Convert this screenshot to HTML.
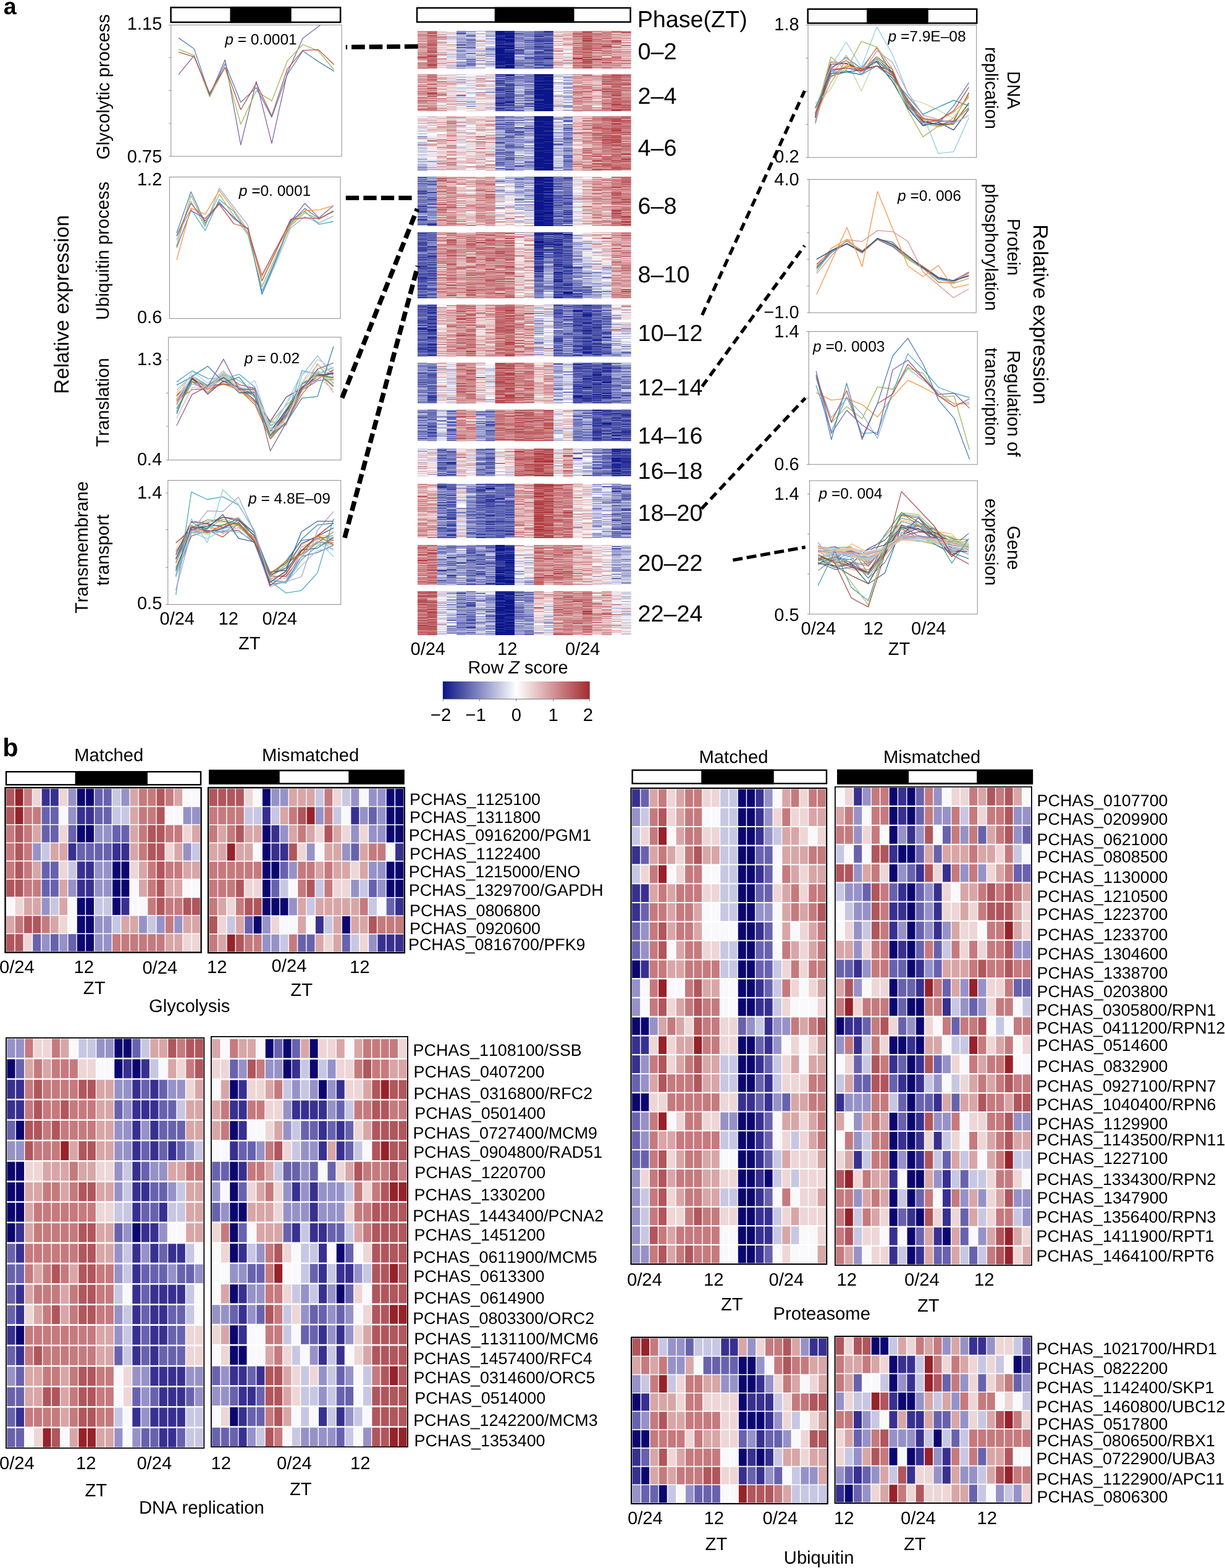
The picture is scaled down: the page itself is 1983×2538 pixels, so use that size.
<!DOCTYPE html>
<html><head><meta charset="utf-8"><title>Figure</title>
<style>html,body{margin:0;padding:0;background:#fff}svg{display:block}text{font-family:"Liberation Sans", Arial, Helvetica, sans-serif;fill:#000;font-kerning:none;text-rendering:geometricPrecision}</style></head>
<body>
<svg width="1983" height="2538" viewBox="0 0 1983 2538">
<text x="5.7" y="23.1" font-size="37.5" font-weight="bold">a</text>
<defs><clipPath id="c1"><rect x="276.8" y="40.4" width="276.3" height="212.6"/></clipPath></defs>
<rect x="276.6" y="12.1" width="274.5" height="23.9" fill="#fff" stroke="#000" stroke-width="2.5"/>
<rect x="372.4" y="10.8" width="99.2" height="26.4" fill="#000"/>
<rect x="276.8" y="40.4" width="276.3" height="212.6" fill="#fff" stroke="#8c8c8c" stroke-width="1"/>
<path d="M273.3 40.4H276.8M273.3 93.2H276.8M273.3 146.6H276.8M273.3 200.0H276.8M273.3 253.0H276.8" stroke="#8c8c8c" stroke-width="1" fill="none"/>
<path d="M289.2 120.3L314.2 89.8L339.3 154.7L364.4 96.8L389.7 234.5L414.8 131.8L439.9 232.1L465.0 118.4L490.1 62.1L515.4 42.9L540.7 23.4" stroke="#8064A2" stroke-width="1.3" fill="none" stroke-linejoin="round" clip-path="url(#c1)"/>
<path d="M289.2 79.7L314.2 89.8L339.3 156.6L364.4 109.0L389.7 201.2L414.8 147.0L439.9 163.4L465.0 98.9L490.1 72.0L515.4 82.5L540.7 113.0" stroke="#9BBB59" stroke-width="1.3" fill="none" stroke-linejoin="round" clip-path="url(#c1)"/>
<path d="M289.2 61.4L314.2 79.0L339.3 153.6L364.4 103.2L389.7 165.5L414.8 141.9L439.9 189.9L465.0 120.8L490.1 82.5L515.4 99.6L540.7 115.4" stroke="#4F81BD" stroke-width="1.3" fill="none" stroke-linejoin="round" clip-path="url(#c1)"/>
<path d="M289.2 84.4L314.2 92.1L339.3 150.8L364.4 109.0L389.7 177.5L414.8 134.8L439.9 187.6L465.0 111.8L490.1 81.6L515.4 80.4L540.7 104.8" stroke="#C0504D" stroke-width="1.3" fill="none" stroke-linejoin="round" clip-path="url(#c1)"/>
<text x="364.2" y="71.5" font-size="24.5"><tspan font-style="italic">p</tspan> = 0.0001</text>
<rect x="274.4" y="286.5" width="276.6" height="229.1" fill="#fff" stroke="#8c8c8c" stroke-width="1"/>
<path d="M285.9 389.0L309.1 325.7L332.1 366.7L355.0 304.5L378.3 335.0L401.2 364.3L424.0 476.9L447.4 424.1L470.4 369.0L493.4 351.0L516.4 360.8L539.8 349.6" stroke="#95B3D7" stroke-width="1.3" fill="none" stroke-linejoin="round"/>
<path d="M285.9 381.9L309.1 338.5L332.1 373.2L355.0 322.8L378.3 342.1L401.2 377.2L424.0 471.0L447.4 417.1L470.4 356.1L493.4 342.1L516.4 363.2L539.8 358.5" stroke="#4BACC6" stroke-width="1.3" fill="none" stroke-linejoin="round"/>
<path d="M285.9 377.2L309.1 310.4L332.1 360.8L355.0 326.8L378.3 353.8L401.2 370.2L424.0 475.7L447.4 419.4L470.4 360.8L493.4 337.4L516.4 353.8L539.8 342.1" stroke="#4F81BD" stroke-width="1.3" fill="none" stroke-linejoin="round"/>
<path d="M285.9 398.3L309.1 316.3L332.1 364.3L355.0 314.4L378.3 349.1L401.2 379.6L424.0 464.0L447.4 412.4L470.4 365.5L493.4 344.4L516.4 355.0L539.8 340.9" stroke="#9BBB59" stroke-width="1.3" fill="none" stroke-linejoin="round"/>
<path d="M285.9 400.7L309.1 340.9L332.1 353.8L355.0 329.2L378.3 351.4L401.2 371.4L424.0 445.2L447.4 400.7L470.4 358.5L493.4 329.2L516.4 352.6L539.8 332.7" stroke="#8064A2" stroke-width="1.3" fill="none" stroke-linejoin="round"/>
<path d="M285.9 420.6L309.1 336.9L332.1 346.8L355.0 308.1L378.3 339.7L401.2 372.5L424.0 447.6L447.4 403.0L470.4 363.2L493.4 340.9L516.4 339.7L539.8 333.2" stroke="#F79646" stroke-width="1.3" fill="none" stroke-linejoin="round"/>
<path d="M285.9 381.9L309.1 329.2L332.1 357.3L355.0 330.3L378.3 362.0L401.2 369.0L424.0 454.6L447.4 405.4L470.4 355.0L493.4 352.6L516.4 353.8L539.8 342.1" stroke="#C0504D" stroke-width="1.3" fill="none" stroke-linejoin="round"/>
<text x="386.7" y="317.4" font-size="24.5"><tspan font-style="italic">p</tspan> =0. 0001</text>
<rect x="272.7" y="545.8" width="279.3" height="198.8" fill="#fff" stroke="#8c8c8c" stroke-width="1"/>
<path d="M269.2 582.5H272.7M269.2 636.2H272.7M269.2 690.0H272.7M269.2 744.6H272.7" stroke="#8c8c8c" stroke-width="1" fill="none"/>
<path d="M285.9 666.3L311.0 608.4L336.3 635.8L361.8 607.8L387.2 628.9L412.5 651.0L437.6 704.6L463.4 670.3L488.7 631.8L514.0 616.2L539.8 614.1" stroke="#4F81BD" stroke-width="1.3" fill="none" stroke-linejoin="round"/>
<path d="M285.9 641.3L311.0 613.9L336.3 630.0L361.8 602.8L387.2 622.7L412.5 628.5L437.6 704.1L463.4 672.2L488.7 626.1L514.0 610.4L539.8 604.7" stroke="#C0504D" stroke-width="1.3" fill="none" stroke-linejoin="round"/>
<path d="M285.9 651.4L311.0 618.1L336.3 625.5L361.8 606.1L387.2 616.4L412.5 633.3L437.6 685.1L463.4 655.8L488.7 633.8L514.0 588.9L539.8 621.0" stroke="#9BBB59" stroke-width="1.3" fill="none" stroke-linejoin="round"/>
<path d="M285.9 647.7L311.0 618.0L336.3 634.1L361.8 617.5L387.2 630.1L412.5 634.6L437.6 699.8L463.4 662.6L488.7 626.9L514.0 602.3L539.8 626.2" stroke="#8064A2" stroke-width="1.3" fill="none" stroke-linejoin="round"/>
<path d="M285.9 618.1L311.0 600.2L336.3 612.6L361.8 613.5L387.2 605.8L412.5 626.5L437.6 688.9L463.4 674.0L488.7 599.9L514.0 605.4L539.8 594.7" stroke="#4BACC6" stroke-width="1.3" fill="none" stroke-linejoin="round"/>
<path d="M285.9 638.7L311.0 617.1L336.3 623.7L361.8 607.9L387.2 631.9L412.5 649.4L437.6 683.0L463.4 683.8L488.7 632.2L514.0 602.1L539.8 615.7" stroke="#F79646" stroke-width="1.3" fill="none" stroke-linejoin="round"/>
<path d="M285.9 666.6L311.0 613.2L336.3 627.4L361.8 605.5L387.2 626.8L412.5 633.8L437.6 693.5L463.4 687.0L488.7 607.9L514.0 575.8L539.8 609.6" stroke="#95B3D7" stroke-width="1.3" fill="none" stroke-linejoin="round"/>
<path d="M285.9 652.6L311.0 611.9L336.3 628.9L361.8 610.7L387.2 636.0L412.5 633.4L437.6 699.2L463.4 687.9L488.7 628.9L514.0 598.2L539.8 635.3" stroke="#D99694" stroke-width="1.3" fill="none" stroke-linejoin="round"/>
<path d="M285.9 648.0L311.0 609.7L336.3 634.5L361.8 607.0L387.2 626.6L412.5 631.8L437.6 703.0L463.4 685.8L488.7 626.2L514.0 599.4L539.8 625.3" stroke="#C3D69B" stroke-width="1.3" fill="none" stroke-linejoin="round"/>
<path d="M285.9 660.7L311.0 621.5L336.3 629.5L361.8 608.4L387.2 630.2L412.5 629.6L437.6 708.5L463.4 683.8L488.7 627.2L514.0 605.2L539.8 611.7" stroke="#B3A2C7" stroke-width="1.3" fill="none" stroke-linejoin="round"/>
<path d="M285.9 631.5L311.0 608.1L336.3 623.0L361.8 602.7L387.2 616.2L412.5 636.0L437.6 699.2L463.4 653.9L488.7 603.2L514.0 602.6L539.8 619.4" stroke="#93CDDD" stroke-width="1.3" fill="none" stroke-linejoin="round"/>
<path d="M285.9 636.1L311.0 607.3L336.3 631.1L361.8 599.7L387.2 633.5L412.5 631.7L437.6 706.3L463.4 665.6L488.7 619.8L514.0 591.2L539.8 602.4" stroke="#FAC090" stroke-width="1.3" fill="none" stroke-linejoin="round"/>
<path d="M285.9 655.4L311.0 614.2L336.3 625.6L361.8 610.7L387.2 635.6L412.5 635.0L437.6 698.0L463.4 664.6L488.7 630.5L514.0 609.6L539.8 603.1" stroke="#3A679C" stroke-width="1.3" fill="none" stroke-linejoin="round"/>
<path d="M285.9 645.9L311.0 610.7L336.3 638.1L361.8 616.3L387.2 627.0L412.5 639.5L437.6 708.8L463.4 666.3L488.7 626.5L514.0 614.0L539.8 598.9" stroke="#9F3B38" stroke-width="1.3" fill="none" stroke-linejoin="round"/>
<path d="M285.9 661.6L311.0 618.2L336.3 624.3L361.8 612.7L387.2 625.9L412.5 642.8L437.6 709.4L463.4 674.3L488.7 621.2L514.0 603.8L539.8 624.2" stroke="#7E9D40" stroke-width="1.3" fill="none" stroke-linejoin="round"/>
<path d="M285.9 647.6L311.0 613.2L336.3 625.6L361.8 621.1L387.2 626.7L412.5 648.1L437.6 682.2L463.4 642.6L488.7 628.5L514.0 607.0L539.8 605.0" stroke="#664F83" stroke-width="1.3" fill="none" stroke-linejoin="round"/>
<path d="M285.9 623.4L311.0 609.7L336.3 624.6L361.8 607.4L387.2 635.9L412.5 637.4L437.6 705.5L463.4 663.0L488.7 621.8L514.0 607.4L539.8 610.7" stroke="#358EA6" stroke-width="1.3" fill="none" stroke-linejoin="round"/>
<path d="M285.9 648.5L311.0 630.6L336.3 629.5L361.8 621.8L387.2 630.7L412.5 654.8L437.6 710.6L463.4 682.1L488.7 638.1L514.0 608.4L539.8 611.9" stroke="#E46C0A" stroke-width="1.3" fill="none" stroke-linejoin="round"/>
<path d="M285.9 647.2L311.0 601.2L336.3 619.9L361.8 599.9L387.2 634.5L412.5 615.6L437.6 694.2L463.4 653.2L488.7 619.0L514.0 581.8L539.8 596.9" stroke="#B9CDE5" stroke-width="1.3" fill="none" stroke-linejoin="round"/>
<path d="M285.9 676.9L311.0 627.1L336.3 628.6L361.8 613.2L387.2 633.2L412.5 631.5L437.6 695.9L463.4 682.8L488.7 631.9L514.0 610.1L539.8 631.0" stroke="#E6B9B8" stroke-width="1.3" fill="none" stroke-linejoin="round"/>
<path d="M285.9 647.1L311.0 609.7L336.3 626.4L361.8 607.9L387.2 626.9L412.5 634.4L437.6 699.7L463.4 682.3L488.7 617.8L514.0 609.5L539.8 613.2" stroke="#D7E4BD" stroke-width="1.3" fill="none" stroke-linejoin="round"/>
<path d="M285.9 656.4L311.0 607.1L336.3 635.1L361.8 602.1L387.2 625.4L412.5 637.9L437.6 707.6L463.4 676.6L488.7 630.7L514.0 603.3L539.8 602.3" stroke="#CCC1DA" stroke-width="1.3" fill="none" stroke-linejoin="round"/>
<path d="M285.9 670.1L311.0 609.1L336.3 592.7L361.8 618.5L387.2 610.3L412.5 641.9L437.6 705.2L463.4 684.1L488.7 644.3L514.0 641.9L539.8 561.0" stroke="#358EA6" stroke-width="1.3" fill="none" stroke-linejoin="round"/>
<path d="M285.9 688.8L311.0 638.4L336.3 625.5L361.8 581.4L387.2 630.2L412.5 630.2L437.6 729.8L463.4 684.1L488.7 630.2L514.0 597.4L539.8 587.5" stroke="#8064A2" stroke-width="1.3" fill="none" stroke-linejoin="round"/>
<text x="395.8" y="588.0" font-size="24.5"><tspan font-style="italic">p</tspan> = 0.02</text>
<rect x="271.8" y="777.6" width="280.0" height="200.9" fill="#fff" stroke="#8c8c8c" stroke-width="1"/>
<path d="M268.3 798.0H271.8M268.3 857.3H271.8M268.3 918.3H271.8M268.3 978.5H271.8" stroke="#8c8c8c" stroke-width="1" fill="none"/>
<path d="M284.7 905.4L309.8 853.5L335.6 846.3L360.7 837.0L386.0 840.1L411.8 868.9L437.1 934.9L462.9 908.0L488.0 874.6L513.8 871.7L539.8 867.2" stroke="#4F81BD" stroke-width="1.3" fill="none" stroke-linejoin="round"/>
<path d="M284.7 931.2L309.8 857.1L335.6 858.0L360.7 869.3L386.0 848.0L411.8 871.1L437.1 932.9L462.9 933.0L488.0 900.5L513.8 877.9L539.8 878.6" stroke="#C0504D" stroke-width="1.3" fill="none" stroke-linejoin="round"/>
<path d="M284.7 919.3L309.8 858.9L335.6 856.0L360.7 840.1L386.0 848.8L411.8 865.4L437.1 933.6L462.9 913.9L488.0 892.8L513.8 867.8L539.8 873.7" stroke="#9BBB59" stroke-width="1.3" fill="none" stroke-linejoin="round"/>
<path d="M284.7 932.8L309.8 867.6L335.6 858.7L360.7 859.9L386.0 858.5L411.8 878.4L437.1 946.2L462.9 942.4L488.0 900.8L513.8 894.4L539.8 882.4" stroke="#8064A2" stroke-width="1.3" fill="none" stroke-linejoin="round"/>
<path d="M284.7 917.9L309.8 862.1L335.6 860.8L360.7 861.5L386.0 847.6L411.8 878.9L437.1 939.0L462.9 944.0L488.0 906.1L513.8 883.5L539.8 874.3" stroke="#4BACC6" stroke-width="1.3" fill="none" stroke-linejoin="round"/>
<path d="M284.7 920.4L309.8 863.2L335.6 854.5L360.7 855.1L386.0 849.4L411.8 873.3L437.1 937.1L462.9 929.6L488.0 890.6L513.8 868.6L539.8 871.2" stroke="#F79646" stroke-width="1.3" fill="none" stroke-linejoin="round"/>
<path d="M284.7 930.2L309.8 859.4L335.6 861.9L360.7 855.7L386.0 849.8L411.8 872.4L437.1 939.2L462.9 941.3L488.0 891.8L513.8 870.2L539.8 890.9" stroke="#95B3D7" stroke-width="1.3" fill="none" stroke-linejoin="round"/>
<path d="M284.7 922.0L309.8 857.7L335.6 848.3L360.7 863.7L386.0 854.0L411.8 871.5L437.1 938.0L462.9 926.4L488.0 885.6L513.8 872.9L539.8 874.9" stroke="#D99694" stroke-width="1.3" fill="none" stroke-linejoin="round"/>
<path d="M284.7 925.4L309.8 856.6L335.6 865.6L360.7 849.0L386.0 852.0L411.8 877.4L437.1 935.7L462.9 915.8L488.0 890.0L513.8 880.3L539.8 881.4" stroke="#C3D69B" stroke-width="1.3" fill="none" stroke-linejoin="round"/>
<path d="M284.7 910.4L309.8 857.7L335.6 863.2L360.7 854.0L386.0 837.8L411.8 877.3L437.1 950.0L462.9 940.2L488.0 892.2L513.8 877.4L539.8 881.2" stroke="#B3A2C7" stroke-width="1.3" fill="none" stroke-linejoin="round"/>
<path d="M284.7 934.1L309.8 861.3L335.6 871.9L360.7 858.0L386.0 861.7L411.8 874.0L437.1 939.3L462.9 943.0L488.0 915.7L513.8 890.8L539.8 887.4" stroke="#93CDDD" stroke-width="1.3" fill="none" stroke-linejoin="round"/>
<path d="M284.7 889.7L309.8 843.6L335.6 844.0L360.7 845.6L386.0 836.8L411.8 868.5L437.1 927.9L462.9 911.9L488.0 882.6L513.8 866.3L539.8 867.1" stroke="#FAC090" stroke-width="1.3" fill="none" stroke-linejoin="round"/>
<path d="M284.7 904.2L309.8 844.3L335.6 861.0L360.7 855.5L386.0 842.0L411.8 867.1L437.1 925.9L462.9 923.0L488.0 890.4L513.8 887.3L539.8 869.6" stroke="#3A679C" stroke-width="1.3" fill="none" stroke-linejoin="round"/>
<path d="M284.7 878.8L309.8 857.0L335.6 851.9L360.7 837.1L386.0 842.7L411.8 862.0L437.1 948.1L462.9 928.9L488.0 891.7L513.8 867.1L539.8 846.8" stroke="#9F3B38" stroke-width="1.3" fill="none" stroke-linejoin="round"/>
<path d="M284.7 892.8L309.8 855.1L335.6 841.3L360.7 843.5L386.0 850.0L411.8 876.2L437.1 927.3L462.9 911.3L488.0 897.6L513.8 878.6L539.8 860.8" stroke="#7E9D40" stroke-width="1.3" fill="none" stroke-linejoin="round"/>
<path d="M284.7 897.9L309.8 844.5L335.6 847.4L360.7 853.5L386.0 845.5L411.8 876.4L437.1 930.8L462.9 919.4L488.0 879.9L513.8 867.9L539.8 854.6" stroke="#664F83" stroke-width="1.3" fill="none" stroke-linejoin="round"/>
<path d="M284.7 904.9L309.8 853.9L335.6 851.8L360.7 849.9L386.0 839.8L411.8 862.8L437.1 928.1L462.9 911.8L488.0 873.1L513.8 849.8L539.8 846.7" stroke="#358EA6" stroke-width="1.3" fill="none" stroke-linejoin="round"/>
<path d="M284.7 911.6L309.8 850.3L335.6 861.8L360.7 850.1L386.0 847.3L411.8 874.9L437.1 929.4L462.9 908.5L488.0 897.2L513.8 867.1L539.8 881.7" stroke="#E46C0A" stroke-width="1.3" fill="none" stroke-linejoin="round"/>
<path d="M284.7 962.8L309.8 796.3L335.6 808.5L360.7 804.1L386.0 817.4L411.8 858.5L437.1 940.5L462.9 959.8L488.0 955.8L513.8 927.6L539.8 839.7" stroke="#4BACC6" stroke-width="1.3" fill="none" stroke-linejoin="round"/>
<path d="M284.7 954.6L309.8 839.7L335.6 878.4L360.7 792.8L386.0 816.3L411.8 860.8L437.1 940.5L462.9 935.8L488.0 900.7L513.8 874.9L539.8 900.7" stroke="#93CDDD" stroke-width="1.3" fill="none" stroke-linejoin="round"/>
<path d="M284.7 955.8L309.8 860.8L335.6 826.8L360.7 828.0L386.0 804.5L411.8 860.8L437.1 939.4L462.9 941.7L488.0 933.5L513.8 858.5L539.8 828.0" stroke="#B3A2C7" stroke-width="1.3" fill="none" stroke-linejoin="round"/>
<path d="M284.7 924.1L309.8 853.8L335.6 855.0L360.7 832.7L386.0 871.4L411.8 877.2L437.1 942.9L462.9 924.1L488.0 860.8L513.8 843.7L539.8 843.7" stroke="#3A679C" stroke-width="1.3" fill="none" stroke-linejoin="round"/>
<text x="402.0" y="815.1" font-size="24.5"><tspan font-style="italic">p</tspan> = 4.8E–09</text>
<text x="262.3" y="48.0" font-size="29" text-anchor="end">1.15</text>
<text x="262.3" y="262.6" font-size="29" text-anchor="end">0.75</text>
<text x="262.3" y="299.5" font-size="29" text-anchor="end">1.2</text>
<text x="262.3" y="523.0" font-size="29" text-anchor="end">0.6</text>
<text x="262.3" y="591.2" font-size="29" text-anchor="end">1.3</text>
<text x="262.3" y="753.2" font-size="29" text-anchor="end">0.4</text>
<text x="262.3" y="806.6" font-size="29" text-anchor="end">1.4</text>
<text x="262.3" y="986.0" font-size="29" text-anchor="end">0.5</text>
<text x="258.5" y="1011.0" font-size="29">0/24</text>
<text x="353.5" y="1011.0" font-size="29">12</text>
<text x="424.5" y="1011.0" font-size="29">0/24</text>
<text x="386.0" y="1050.7" font-size="29">ZT</text>
<text transform="translate(110.7,637.7) rotate(-90)" font-size="33.2">Relative expression</text>
<text transform="translate(177.0,258.2) rotate(-90)" font-size="29.2">Glycolytic process</text>
<text transform="translate(176.3,517.9) rotate(-90)" font-size="29.2">Ubiquitin process</text>
<text transform="translate(176.2,723.6) rotate(-90)" font-size="29.2">Translation</text>
<text transform="translate(141.6,993.1) rotate(-90)" font-size="29.2">Transmembrane</text>
<text transform="translate(176.2,948.0) rotate(-90)" font-size="29.2">transport</text>
<rect x="675.0" y="12.8" width="345.5" height="22.8" fill="#fff" stroke="#000" stroke-width="2.5"/>
<rect x="800.7" y="11.6" width="128.8" height="25.3" fill="#000"/>
<g>
<path d="M809.5 50v7m0 3v1m0 1v4m0 2v1m0 1v1m0 1v3m0 2v11m0 1v10m0 1v1m0 1v3m0 3v1m0 1v1M825.2 50v1m0 2v3m0 1v5m0 1v5m0 1v1m0 3v3m0 1v3m0 2v1m0 2v3m0 1v3m0 1v11m0 1v6M872.3 74v1M888.0 95v1M809.5 120v1m0 20v1m0 17v1m0 7v1M825.2 121v2m0 25v1m0 8v1m0 6v1m0 1v1M840.9 179v1M856.6 162v1M872.3 120v4m0 1v2m0 1v2m0 2v4m0 1v3m0 1v3m0 1v8m0 1v6m0 3v4m0 1v3m0 1v3m0 1v4M888.0 120v3m0 1v6m0 1v5m0 1v6m0 2v24m0 1v3m0 1v6M825.2 214v1M840.9 207v1m0 5v1M872.3 188v8m0 1v7m0 1v13m0 1v4m0 1v7m0 1v6m0 1v5m0 1v10m0 1v15m0 1v4M888.0 188v9m0 1v2m0 1v4m0 1v5m0 2v5m0 1v10m0 1v13m0 1v2m0 1v12m0 1v4m0 1v11M683.9 333v1m0 21v1M699.6 363v1M809.5 336v1M872.3 286v7m0 1v3m0 2v14m0 1v11m0 1v14m0 1v2m0 1v5m0 1v7m0 1v8M888.0 286v2m0 1v1m0 1v3m0 2v3m0 1v3m0 1v5m0 1v3m0 2v2m0 1v1m0 1v2m0 1v4m0 1v3m0 2v3m0 1v1m0 1v2m0 1v5m0 1v1m0 2v2m0 1v1m0 1v3m0 1v2m0 1v3M919.4 288v1m0 58v1m0 10v1M683.9 380v1m0 12v1m0 2v1m0 54v1m0 29v1M699.6 398v1m0 26v1m0 16v1M872.3 378v1m0 1v1m0 6v1m0 2v4m0 2v2m0 1v2m0 1v1m0 6v1m0 1v1m0 2v2m0 10v1m0 6v1m0 1v1m0 3v1M888.0 376v1m0 2v1m0 13v1m0 1v1m0 68v1M903.7 378v1m0 9v1m0 1v1m0 2v1m0 1v2m0 7v1m0 23v1m0 1v1m0 9v1m0 2v1m0 11v1m0 25v1M919.4 379v2m0 1v1m0 2v1m0 45v1m0 29v1m0 10v4M935.1 475v1m0 4v1M950.8 464v1M982.2 433v1M683.9 532v1M699.6 497v1m0 8v1m0 10v1m0 5v1m0 9v2m0 12v1m0 10v1m0 2v1M903.7 493v1m0 9v1M919.4 512v1m0 11v1M935.1 502v2m0 28v1m0 1v1m0 12v1m0 19v1M950.8 509v2m0 12v1m0 4v1m0 6v1m0 11v1m0 13v1m0 3v1m0 3v2M966.5 519v1m0 30v1m0 4v1m0 5v1M982.2 512v1m0 11v1m0 21v1m0 25v1M903.7 589v1M935.1 590v1m0 31v1m0 3v1m0 14v2M950.8 592v1m0 19v1m0 13v2m0 17v1M966.5 605v1m0 1v1m0 7v1m0 23v1m0 2v1m0 1v1m0 2v1M982.2 595v2m0 1v1m0 1v1m0 17v2m0 16v1m0 3v1m0 3v1M699.6 700v1M966.5 663v1m0 7v1m0 6v1m0 2v1m0 7v1m0 9v1M982.2 670v1m0 14v2m0 2v1M997.9 669v1m0 10v1m0 18v1m0 5v1m0 3v1M1013.6 699v1M731.0 748v1m0 19v1M935.1 742v1M966.5 733v1M997.9 728v1m0 2v1m0 5v1m0 3v2m0 1v3m0 5v2m0 1v2m0 4v1m0 1v1m0 2v1M1013.6 729v1m0 2v1m0 10v1m0 2v1m0 2v1m0 4v1m0 14v1M715.3 783v1m0 2v1M731.0 801v1m0 38v1M778.1 792v1m0 1v1m0 75v1M793.8 783v1m0 6v2m0 19v1m0 4v1m0 1v1m0 15v1m0 8v1M825.2 783v1m0 75v1m0 4v1M997.9 842v1m0 13v1M1013.6 847v1M715.3 923v1M731.0 931v1M809.5 882v4m0 1v5m0 3v1m0 2v2m0 1v2m0 1v1m0 1v1m0 11v2m0 2v2m0 1v3m0 2v1m0 1v6m0 1v4m0 2v2M825.2 884v1m0 1v1m0 1v1m0 1v1m0 6v2m0 1v2m0 1v2m0 1v2m0 1v3m0 1v1m0 2v1m0 1v1m0 1v1m0 1v2m0 4v1m0 5v3m0 2v5m0 2v1M809.5 957v1m0 1v2m0 2v3m0 1v5m0 2v3m0 1v3m0 1v8m0 1v2m0 2v8m0 1v3m0 2v3m0 1v4m0 1v3m0 1v6M825.2 957v1m0 1v4m0 3v1m0 1v1m0 1v8m0 1v8m0 1v4m0 2v4m0 2v1m0 1v3m0 1v4m0 1v4m0 1v2m0 1v9" stroke="#0c168a" stroke-width="16.00" fill="none"/>
<path d="M762.4 58v1M809.5 57v3m0 1v1m0 4v2m0 1v1m0 5v2m0 11v1m0 10v1m0 1v1m0 3v1m0 1v1m0 1v1M825.2 51v2m0 3v1m0 11v1m0 2v2m0 3v1m0 4v1m0 1v2m0 3v1m0 3v1M840.9 81v1m0 5v1M856.6 107v1M872.3 56v1m0 1v2m0 5v1m0 1v1m0 9v1m0 5v2m0 2v1m0 2v1m0 3v1m0 1v1m0 4v1m0 2v1m0 5v1M888.0 50v3m0 10v1m0 1v1m0 1v1m0 2v1m0 3v1m0 1v1m0 3v2m0 9v1m0 1v2m0 10v2M809.5 130v1m0 3v1m0 8v1m0 1v2m0 2v1m0 7v2m0 2v1m0 2v1m0 1v1m0 1v1m0 1v2m0 3v2m0 2v1M825.2 120v1m0 14v1m0 2v1m0 3v1m0 1v1m0 6v1m0 7v1m0 5v1m0 3v2m0 7v1M856.6 167v1M872.3 124v1m0 2v1m0 2v2m0 4v1m0 3v1m0 3v1m0 8v1m0 6v2m0 5v1m0 3v1m0 3v1M888.0 123v1m0 6v1m0 5v1m0 6v2m0 24v1m0 3v1M809.5 194v1m0 51v1M825.2 221v1m0 12v1m0 22v1M840.9 269v1M856.6 208v1M872.3 196v1m0 7v1m0 13v1m0 4v1m0 7v1m0 6v1m0 5v1m0 10v1m0 15v1M888.0 197v1m0 2v1m0 4v1m0 5v2m0 5v1m0 10v1m0 13v1m0 2v1m0 12v1m0 4v1M903.7 233v1M919.4 214v1m0 46v1M683.9 287v1m0 9v1m0 12v1m0 3v1m0 27v2M699.6 297v1m0 1v1m0 11v1M840.9 322v1M872.3 293v1m0 3v2m0 14v1m0 11v1m0 14v1m0 2v1m0 5v1m0 7v1M888.0 288v1m0 1v1m0 3v1m0 4v1m0 17v1m0 4v1m0 8v2m0 3v1m0 1v1m0 8v1m0 1v2m0 2v1m0 1v1m0 3v1m0 2v1M903.7 286v1m0 29v1m0 7v1m0 24v1m0 12v1M919.4 321v1m0 8v1m0 12v1m0 7v1m0 12v1M683.9 377v1m0 9v1m0 13v1m0 2v1m0 1v1m0 10v1m0 2v1m0 9v2m0 3v1m0 7v1m0 4v2m0 4v1m0 6v1m0 5v2m0 9v1M699.6 377v1m0 1v1m0 4v1m0 4v1m0 10v1m0 9v1m0 3v2m0 2v1m0 2v1m0 6v1m0 5v1m0 3v1m0 1v1m0 5v1m0 2v1m0 1v1m0 1v1m0 5v1m0 9v1m0 7v1M872.3 376v2m0 1v1m0 1v1m0 1v1m0 1v1m0 3v1m0 5v1m0 8v2m0 1v2m0 3v1m0 5v2m0 4v1m0 5v3m0 5v1m0 7v2m0 5v1M888.0 378v1m0 7v1m0 1v1m0 2v1m0 4v1m0 1v2m0 3v3m0 2v1m0 3v1m0 3v1m0 45v1M903.7 376v2m0 1v1m0 7v1m0 3v1m0 5v1m0 2v1m0 7v3m0 3v1m0 5v1m0 4v1m0 1v1m0 3v1m0 2v1m0 2v1m0 3v1m0 5v1m0 1v1m0 1v4m0 1v1m0 7v2m0 6v1m0 3v2m0 1v1M919.4 376v1m0 22v2m0 12v1m0 6v1m0 8v1m0 2v2m0 4v1m0 3v2m0 15v1m0 5v2m0 1v1m0 8v1m0 1v1M935.1 420v1m0 11v1m0 8v1m0 22v1m0 17v1M966.5 472v1M982.2 448v1M683.9 496v1m0 3v1m0 17v1m0 1v1m0 6v1m0 2v2m0 1v1m0 24v1m0 5v2M699.6 493v1m0 4v1m0 1v1m0 1v2m0 1v1m0 5v2m0 2v1m0 5v1m0 2v1m0 3v2m0 5v2m0 3v1m0 4v2m0 2v1m0 2v1m0 3v2m0 4v1m0 2v4m0 1v1m0 3v2M872.3 507v1M903.7 506v2m0 39v1m0 1v1m0 1v1m0 1v1m0 13v1m0 3v1M919.4 496v1m0 60v1M935.1 497v1m0 6v1m0 10v1m0 1v1m0 1v1m0 5v3m0 1v1m0 28v1m0 1v2m0 3v1m0 3v1m0 4v1M950.8 493v2m0 7v1m0 3v3m0 2v3m0 2v1m0 1v1m0 2v2m0 7v1m0 1v1m0 1v1m0 1v1m0 1v3m0 4v1m0 6v2m0 2v1m0 2v1m0 2v3m0 6v2M966.5 498v1m0 4v1m0 11v1m0 5v1m0 3v1m0 3v3m0 1v1m0 1v1m0 4v1m0 1v1m0 6v1m0 1v1m0 5v1m0 6v1m0 3v1m0 1v1m0 2v2M982.2 533v1m0 3v1m0 1v1m0 10v1m0 7v1m0 3v1m0 7v1M997.9 556v1M1013.6 532v1M683.9 604v1M699.6 599v1m0 5v1m0 1v1m0 1v1m0 1v1m0 8v1m0 10v1m0 8v1m0 1v2m0 3v1M935.1 589v1m0 5v1m0 1v1m0 2v1m0 3v1m0 1v1m0 3v1m0 13v1m0 3v2m0 1v1m0 2v1m0 4v2m0 2v2M950.8 589v1m0 6v1m0 4v1m0 7v1m0 3v2m0 3v1m0 2v1m0 2v1m0 9v1m0 2v1m0 2v1m0 1v1m0 1v1m0 2v2m0 1v1M966.5 597v2m0 1v1m0 1v2m0 2v1m0 1v1m0 1v2m0 1v1m0 2v1m0 1v1m0 1v4m0 1v1m0 2v1m0 1v1m0 4v1m0 2v1m0 2v1M982.2 589v2m0 10v1m0 7v2m0 1v2m0 1v1m0 1v1m0 4v1m0 1v1m0 1v1m0 4v1m0 5v1m0 1v1m0 2v2m0 8v1M997.9 596v1m0 46v1M683.9 706v1M699.6 689v1m0 5v1m0 9v1M731.0 688v1M778.1 666v1M793.8 682v1m0 4v1m0 1v1M935.1 673v1m0 33v1M950.8 694v1M966.5 664v1m0 2v2m0 7v1m0 7v2m0 1v1m0 8v1m0 1v1m0 2v1m0 1v1m0 1v1m0 2v4m0 1v1M982.2 663v1m0 1v2m0 1v1m0 15v1m0 2v1m0 9v1m0 3v2m0 9v1M997.9 665v1m0 6v1m0 2v1m0 1v1m0 5v1m0 2v1m0 4v1m0 1v1m0 1v1m0 5v1m0 2v1m0 6v1M1013.6 663v1m0 2v1m0 3v4m0 6v1m0 1v1m0 3v2m0 2v1m0 5v1m0 1v1m0 2v1m0 1v1m0 2v1m0 3v1m0 2v1M715.3 742v1m0 5v1M731.0 731v1m0 17v2M778.1 752v1m0 7v1m0 7v1M793.8 741v1M950.8 769v1M966.5 752v1M982.2 733v1m0 4v1M997.9 726v2m0 1v2m0 2v2m0 8v1m0 3v1m0 2v2m0 6v1m0 1v1m0 1v1m0 2v1m0 3v2M1013.6 726v1m0 1v1m0 8v1m0 1v1m0 1v2m0 2v1m0 1v2m0 2v2m0 3v2m0 1v1m0 3v2m0 1v1M715.3 788v2m0 27v1m0 19v1m0 3v1m0 13v1m0 1v1m0 6v1m0 5v1M731.0 792v1m0 6v1m0 13v1m0 2v1m0 2v1m0 9v1m0 8v1m0 9v1m0 1v2m0 6v1m0 6v2m0 3v1M762.4 845v1m0 9v1M778.1 797v1m0 3v1m0 10v1m0 5v1m0 5v1m0 12v1m0 26v1M793.8 789v1m0 15v1m0 2v2m0 26v1m0 1v1m0 7v1m0 1v2m0 5v1m0 2v1m0 9v1m0 1v1M809.5 784v1m0 1v1m0 19v3m0 2v1m0 29v1m0 1v2m0 14v1m0 2v1m0 4v1M825.2 801v1m0 9v1m0 7v1m0 13v1m0 3v1m0 6v1M966.5 823v1M982.2 787v1M997.9 790v1m0 4v1m0 68v1M1013.6 825v1m0 12v1m0 18v1M715.3 905v1m0 7v1m0 25v1M731.0 902v1M746.7 911v1M762.4 893v1m0 13v1M778.1 893v1m0 18v1m0 12v1m0 2v1M793.8 883v1m0 2v1m0 16v1m0 8v1m0 20v1m0 10v2M809.5 886v1m0 6v1m0 2v1m0 3v1m0 2v1m0 1v1m0 1v1m0 1v2m0 1v2m0 2v1m0 3v2m0 2v1m0 4v1m0 1v1m0 6v1m0 5v1M825.2 887v1m0 1v1m0 3v3m0 3v1m0 2v1m0 5v1m0 3v1m0 1v2m0 1v1m0 3v1m0 2v4m0 2v4m0 4v1m0 5v2M997.9 887v1M731.0 978v1m0 35v1M746.7 960v1m0 33v1M762.4 975v1m0 2v1m0 2v1m0 20v1m0 1v1m0 10v2M778.1 960v1M809.5 958v1m0 2v2m0 3v1m0 6v1m0 3v1m0 12v1m0 2v1m0 9v1m0 3v2m0 3v1m0 4v1m0 3v1M825.2 958v1m0 4v3m0 1v1m0 1v1m0 8v1m0 8v1m0 4v2m0 4v2m0 1v1m0 8v1m0 4v1m0 2v1M840.9 958v1m0 4v1m0 34v1" stroke="#2a3399" stroke-width="16.00" fill="none"/>
<path d="M746.7 53v2m0 17v2m0 2v1M762.4 65v1m0 3v1m0 34v1m0 1v1M793.8 87v1m0 15v1M809.5 71v1m0 34v1M825.2 62v1m0 7v1m0 33v1M840.9 54v2m0 10v1m0 13v1m0 3v1m0 20v1m0 1v1M856.6 65v2m0 1v1m0 3v1m0 2v1m0 1v1m0 9v1m0 5v2m0 7v1M872.3 52v1m0 1v1m0 7v3m0 1v1m0 4v2m0 2v2m0 2v1m0 5v2m0 4v1m0 1v1m0 11v1m0 3v1M888.0 54v4m0 3v1m0 4v1m0 2v1m0 7v1m0 4v2m0 1v3m0 15v1m0 4v1m0 1v1M746.7 154v1M809.5 122v3m0 1v2m0 3v2m0 2v2m0 1v1m0 5v1m0 8v1m0 1v1m0 6v1m0 2v1m0 3v1m0 4v1m0 2v1M825.2 124v2m0 1v2m0 7v2m0 1v1m0 5v1m0 1v1m0 4v5m0 4v3m0 7v1m0 1v2m0 2v1m0 1v1M840.9 137v1m0 29v1m0 5v1M856.6 126v1m0 4v1m0 5v1m0 6v1m0 2v1m0 1v1m0 2v1m0 5v1m0 9v1m0 2v2M872.3 162v1M683.9 234v1M809.5 188v1m0 2v1m0 8v2m0 3v1m0 1v1m0 15v1m0 6v2m0 16v1m0 1v1m0 2v1m0 9v1m0 1v1m0 1v1m0 4v1M825.2 189v1m0 5v1m0 2v1m0 2v1m0 6v1m0 1v1m0 1v1m0 19v1m0 4v2m0 6v1m0 1v1m0 6v1m0 19v1M840.9 194v1m0 3v1m0 1v1m0 5v1m0 7v1m0 1v2m0 4v1m0 8v1M856.6 189v1m0 21v1m0 32v1m0 18v1M903.7 214v1m0 56v1m0 3v1M919.4 190v1m0 4v1m0 5v1m0 2v1m0 2v1m0 3v1m0 11v1m0 1v1m0 5v1m0 11v1m0 7v2m0 1v1m0 4v1M683.9 290v1m0 13v1m0 4v1m0 2v2m0 10v1m0 1v1m0 3v1m0 3v1m0 1v1m0 3v1m0 9v1m0 5v1m0 5v2M699.6 293v1m0 25v1m0 2v2m0 5v1m0 1v1m0 4v1m0 11v1m0 12v2m0 1v1M809.5 293v1M856.6 340v1M888.0 295v1m0 7v1m0 5v1m0 3v2m0 4v1m0 7v1m0 13v1M903.7 289v1m0 7v2m0 2v2m0 3v1m0 2v1m0 1v1m0 6v2m0 1v1m0 5v1m0 3v3m0 1v1m0 9v1m0 4v1m0 3v1m0 2v1m0 7v1M919.4 290v1m0 5v1m0 2v1m0 2v1m0 12v3m0 2v1m0 6v3m0 10v2m0 2v2m0 4v1m0 5v2m0 2v1m0 4v1M683.9 376v1m0 1v1m0 3v1m0 2v1m0 5v1m0 2v1m0 5v1m0 1v2m0 1v1m0 6v1m0 1v1m0 1v1m0 2v1m0 4v1m0 1v2m0 4v3m0 3v1m0 5v1m0 1v1m0 3v1m0 1v1m0 2v2m0 1v1m0 3v3m0 1v1m0 4v1m0 4v2M699.6 376v1m0 5v1m0 3v1m0 16v2m0 8v1m0 2v1m0 6v1m0 3v1m0 4v2m0 9v2m0 2v1m0 2v1m0 15v3m0 6v1m0 5v1M872.3 382v1m0 1v1m0 1v1m0 1v1m0 5v1m0 3v1m0 2v1m0 1v1m0 6v1m0 5v2m0 2v1m0 1v2m0 4v1m0 5v1m0 1v2m0 4v2m0 5v1m0 6v1m0 6v1m0 6v2M888.0 377v1m0 2v1m0 1v2m0 1v1m0 3v2m0 1v1m0 1v1m0 20v1m0 8v1M903.7 380v2m0 1v3m0 12v2m0 1v3m0 1v3m0 3v3m0 1v2m0 1v1m0 2v4m0 8v1m0 2v1m0 2v1m0 2v1m0 1v3m0 1v1m0 9v1m0 1v3m0 3v3m0 2v1m0 1v1m0 6v1m0 1v1M919.4 378v1m0 5v1m0 3v5m0 5v1m0 3v1m0 1v4m0 1v3m0 2v1m0 1v3m0 2v1m0 2v1m0 1v1m0 1v1m0 5v1m0 2v1m0 1v2m0 5v1m0 2v2m0 4v1m0 2v1m0 1v1m0 1v1m0 13v1m0 4v1M935.1 433v1m0 12v1m0 1v1m0 12v1m0 5v1m0 1v3m0 5v1m0 1v1M950.8 443v1m0 25v1m0 3v1m0 3v1M966.5 441v1M982.2 471v1M683.9 495v1m0 2v1m0 2v1m0 1v2m0 1v1m0 2v2m0 4v1m0 5v3m0 2v1m0 9v2m0 1v3m0 1v1m0 2v1m0 1v4m0 3v1m0 1v1m0 3v3m0 2v1m0 1v3m0 3v1m0 1v1M699.6 494v2m0 3v1m0 7v2m0 4v2m0 1v1m0 1v1m0 1v1m0 6v1m0 2v1m0 1v1m0 4v3m0 1v1m0 2v1m0 14v1m0 3v2m0 4v1m0 2v2M872.3 519v1M888.0 564v1M903.7 494v1m0 5v2m0 3v1m0 3v1m0 2v1m0 1v1m0 6v1m0 13v1m0 9v1m0 2v1m0 1v1m0 1v1m0 2v1m0 3v1m0 2v1m0 3v1m0 9v1M919.4 493v1m0 1v1m0 3v1m0 16v3m0 20v3m0 12v1m0 17v1m0 2v2M935.1 493v1m0 1v1m0 3v1m0 1v1m0 3v1m0 1v3m0 1v3m0 2v1m0 3v4m0 11v3m0 3v1m0 2v2m0 5v3m0 5v1m0 3v1m0 2v1m0 8v2M950.8 495v5m0 1v1m0 2v2m0 9v1m0 1v1m0 2v1m0 3v1m0 1v1m0 4v1m0 1v1m0 3v1m0 4v1m0 1v1m0 1v1m0 1v1m0 1v2m0 2v1m0 2v2m0 1v1m0 5v3m0 4v1M966.5 493v1m0 1v2m0 5v1m0 1v1m0 2v4m0 2v1m0 10v1m0 1v3m0 8v2m0 4v2m0 1v3m0 7v1m0 1v1m0 1v1m0 4v2m0 2v1m0 2v1m0 3v1M982.2 501v1m0 12v2m0 1v1m0 2v1m0 7v1m0 9v1m0 1v1m0 4v1m0 11v1m0 3v1m0 1v1m0 2v1m0 2v1m0 3v1M1013.6 560v1m0 9v1M683.9 618v2m0 2v1m0 2v1M699.6 594v1m0 22v1m0 6v2m0 2v1m0 6v2m0 4v1m0 2v3m0 1v1m0 1v1M903.7 600v1m0 19v1m0 2v1m0 6v1M919.4 601v1m0 32v1M935.1 592v3m0 1v1m0 4v1m0 5v1m0 1v1m0 7v3m0 5v1m0 7v1m0 1v2m0 8v8M950.8 588v1m0 5v2m0 3v1m0 3v1m0 2v3m0 1v1m0 4v3m0 1v1m0 3v1m0 4v3m0 5v1m0 2v1m0 1v1m0 1v1m0 2v1m0 2v1M966.5 587v1m0 2v4m0 2v1m0 4v1m0 2v1m0 4v1m0 2v1m0 1v1m0 11v2m0 3v4m0 2v1m0 7v1m0 2v1m0 1v3M982.2 587v2m0 3v3m0 4v1m0 2v2m0 2v1m0 1v1m0 2v1m0 2v1m0 1v1m0 10v1m0 1v2m0 2v3m0 5v1m0 8v1M997.9 594v2m0 4v1m0 1v1m0 10v1m0 10v2m0 4v1m0 4v1m0 2v1m0 5v1m0 3v1m0 1v1M1013.6 595v1m0 5v1m0 3v1m0 11v1m0 2v1m0 6v1m0 8v1m0 2v3m0 10v1M683.9 666v1m0 8v1m0 12v1m0 3v1m0 6v1m0 9v1M699.6 663v1m0 14v1m0 6v1m0 1v1m0 2v2m0 9v1m0 1v1m0 2v1M715.3 681v1M731.0 666v1m0 2v1m0 6v1m0 6v2m0 9v4m0 4v1m0 4v1m0 1v2m0 1v1M778.1 685v1m0 19v1M793.8 665v2m0 19v1m0 9v2m0 11v1m0 1v1m0 1v1M903.7 696v1M935.1 699v1m0 2v1M950.8 669v1m0 2v1m0 3v1m0 10v1m0 16v1m0 3v1m0 4v1M966.5 665v1m0 7v1m0 5v2m0 2v1m0 4v1m0 1v1m0 1v4m0 1v1m0 2v1m0 1v1m0 1v1M982.2 664v1m0 6v3m0 2v2m0 1v1m0 2v2m0 7v2m0 3v1m0 1v1m0 7v3m0 2v1M997.9 664v1m0 3v1m0 1v1m0 3v1m0 1v1m0 1v1m0 6v1m0 2v2m0 6v1m0 3v1m0 2v1m0 2v1m0 1v1m0 1v1m0 1v1M1013.6 668v2m0 4v3m0 2v1m0 1v1m0 2v1m0 4v1m0 3v3m0 1v1m0 2v1m0 1v1m0 1v1m0 4v1M715.3 728v2m0 7v1m0 2v1m0 4v1m0 4v1m0 5v4m0 9v1M731.0 743v1m0 7v2m0 4v1m0 5v2M778.1 727v1m0 4v1m0 8v1m0 1v1m0 5v1M793.8 726v2m0 6v1m0 7v1m0 2v1m0 1v2m0 1v1m0 1v1m0 3v1m0 1v1m0 5v2M935.1 741v1M950.8 762v1M966.5 729v1m0 9v1m0 8v1m0 8v3m0 4v1m0 1v2m0 1v1M982.2 728v1m0 7v1m0 3v1m0 1v1m0 4v2m0 3v1m0 1v3m0 1v1m0 3v1m0 2v2M997.9 735v1m0 2v3m0 7v2m0 4v1m0 2v1m0 1v1m0 7v2M1013.6 727v1m0 2v1m0 2v2m0 1v1m0 1v1m0 1v1m0 3v1m0 5v1m0 2v1m0 1v1m0 4v1m0 1v1m0 2v1m0 2v1M715.3 787v1m0 12v2m0 2v1m0 1v1m0 3v1m0 2v1m0 4v1m0 4v1m0 6v1m0 23v1m0 6v1m0 5v1M731.0 786v1m0 2v2m0 14v1m0 2v1m0 3v1m0 11v3m0 5v2m0 1v1m0 1v1m0 1v1m0 4v1m0 10v1m0 1v1m0 1v1m0 1v1m0 1v1m0 3v1M746.7 823v1m0 5v1M762.4 791v1m0 4v1m0 7v1m0 18v1m0 8v1m0 1v1m0 26v1m0 1v1m0 5v1M778.1 783v2m0 3v2m0 5v1m0 9v2m0 3v1m0 2v2m0 5v2m0 4v1m0 2v1m0 2v2m0 9v1m0 3v2m0 2v1m0 4v1m0 8v1m0 3v1M793.8 786v2m0 5v1m0 3v1m0 3v4m0 2v1m0 2v1m0 1v3m0 4v2m0 1v1m0 3v1m0 1v2m0 2v2m0 6v1m0 3v2m0 6v1m0 3v1m0 2v2m0 4v1M809.5 783v1m0 8v1m0 1v1m0 2v1m0 3v1m0 1v1m0 9v2m0 2v3m0 4v1m0 2v1m0 2v1m0 1v1m0 1v2m0 3v1m0 6v1m0 5v1m0 1v1m0 2v2m0 1v1m0 3v1m0 4v2M825.2 785v3m0 1v1m0 1v1m0 6v1m0 10v1m0 2v2m0 1v1m0 2v1m0 3v1m0 1v3m0 1v2m0 2v1m0 8v1m0 3v1m0 2v1m0 2v2m0 2v1m0 4v1m0 4v1M966.5 808v1m0 60v1M982.2 832v1M997.9 794v1m0 1v1m0 5v1m0 6v2m0 1v1m0 5v1m0 7v1m0 5v1m0 21v1m0 7v1m0 3v1M1013.6 790v3m0 8v1m0 2v1m0 1v2m0 1v1m0 14v1m0 1v1m0 3v1m0 4v1m0 5v1m0 10v1m0 1v1m0 1v1m0 6v2M715.3 888v1m0 33v1m0 18v1m0 1v1M731.0 883v1m0 2v1m0 16v1m0 4v1m0 3v1m0 1v1m0 6v2m0 15v1M746.7 898v1m0 1v1m0 9v1m0 5v1m0 2v1m0 15v1M762.4 885v1m0 2v1m0 1v2m0 3v1m0 3v1m0 6v1m0 3v1m0 12v1m0 3v1m0 3v1m0 7v2m0 4v2M778.1 897v3m0 5v1m0 3v1m0 3v1m0 15v2M793.8 891v2m0 17v1m0 5v1m0 26v1M809.5 892v1m0 1v1m0 2v1m0 10v1m0 2v1m0 2v2m0 1v1m0 25v1M825.2 883v1m0 1v1m0 5v2m0 3v1m0 8v1m0 13v1m0 9v1m0 7v1M997.9 884v1m0 51v1M731.0 960v1m0 10v1m0 32v1M746.7 959v1m0 3v1m0 6v1m0 5v1m0 32v1m0 5v1M762.4 957v1m0 18v1m0 2v2m0 10v1m0 6v1m0 9v2m0 14v1M793.8 967v1m0 1v1m0 4v1m0 11v1m0 2v1m0 6v2M809.5 972v1m0 8v1m0 12v1M825.2 1005v1M840.9 967v1m0 3v1m0 11v1m0 7v1m0 13v1m0 15v1M856.6 962v1m0 9v1m0 24v1m0 6v1m0 4v1m0 11v1m0 4v1" stroke="#4950a7" stroke-width="16.00" fill="none"/>
<path d="M746.7 50v1m0 12v1m0 13v1m0 5v1m0 5v1m0 2v1m0 2v1m0 9v1m0 1v1m0 2v1M762.4 63v1m0 9v1m0 1v3m0 8v1m0 8v2m0 2v1m0 2v2M778.1 90v1M793.8 50v1m0 29v1m0 25v1M825.2 80v1M840.9 51v1m0 6v1m0 1v2m0 1v1m0 9v1m0 2v2m0 1v1m0 2v2m0 1v2m0 11v1m0 2v3m0 5v2M856.6 52v1m0 1v1m0 1v1m0 1v1m0 19v1m0 5v1m0 7v1m0 2v1m0 4v1m0 2v1m0 1v1m0 3v2M872.3 50v2m0 1v1m0 1v1m0 1v1m0 3v1m0 6v3m0 7v1m0 1v1m0 7v1m0 3v1m0 2v1m0 1v4m0 1v2m0 2v1m0 1v1M888.0 53v1m0 4v1m0 1v1m0 1v1m0 1v1m0 6v2m0 5v2m0 8v3m0 1v1m0 4v2m0 1v2m0 2v1m0 4v1M762.4 165v1m0 2v1M809.5 121v1m0 7v1m0 3v1m0 3v1m0 4v1m0 4v2m0 2v2m0 1v1m0 1v1m0 6v1m0 9v1m0 4v1M825.2 126v1m0 2v4m0 7v2m0 1v1m0 2v1m0 2v2m0 7v1m0 1v1m0 6v2m0 6v2M840.9 120v1m0 2v4m0 1v1m0 1v2m0 2v1m0 18v1m0 1v1m0 3v1m0 3v1m0 7v1m0 2v1m0 2v1M856.6 121v1m0 1v2m0 3v1m0 4v1m0 14v1m0 1v2m0 8v1m0 8v1M903.7 171v1M919.4 135v1m0 21v1m0 13v1m0 6v1M683.9 275v1M699.6 261v1M809.5 189v2m0 11v1m0 1v1m0 3v2m0 12v1m0 2v1m0 3v1m0 2v1m0 4v1m0 4v2m0 12v1m0 1v2m0 2v1m0 10v1M825.2 199v1m0 2v1m0 2v1m0 1v1m0 3v1m0 7v1m0 2v2m0 2v1m0 1v1m0 6v2m0 3v1m0 5v1m0 1v1m0 1v2m0 3v2m0 1v2m0 2v1m0 3v1m0 3v1m0 2v1m0 1v1M840.9 190v1m0 29v1m0 4v1m0 1v1m0 1v1m0 3v1m0 3v3m0 15v1m0 11v2M856.6 194v1m0 8v2m0 2v1m0 8v1m0 12v1m0 9v1m0 17v1m0 2v1m0 1v1m0 5v1m0 2v1m0 1v1M903.7 192v1m0 12v1m0 26v1m0 2v1M919.4 194v1m0 1v2m0 8v1m0 1v2m0 6v1m0 7v1m0 2v1m0 12v1m0 3v1m0 1v1m0 8v1m0 7v1m0 2v1m0 2v1m0 4v2M683.9 286v1m0 5v3m0 4v1m0 2v1m0 4v2m0 2v1m0 5v3m0 3v1m0 3v1m0 9v3m0 1v1m0 9v2m0 1v1m0 2v1m0 1v1M699.6 286v1m0 7v2m0 14v1m0 1v1m0 2v1m0 5v1m0 2v1m0 1v1m0 3v1m0 3v2m0 6v1m0 1v1m0 1v1m0 9v1m0 1v1m0 1v1M809.5 318v1M825.2 288v1M840.9 288v3m0 3v1m0 3v1m0 2v1m0 29v1M856.6 286v1m0 3v1m0 5v1m0 6v1m0 3v1m0 8v1m0 9v1m0 4v1M903.7 288v1m0 1v5m0 1v1m0 3v1m0 3v2m0 6v1m0 4v1m0 2v1m0 1v1m0 2v1m0 2v2m0 6v1m0 1v2m0 2v2m0 2v2m0 3v1m0 3v2m0 1v4m0 2v1M919.4 286v2m0 1v1m0 1v3m0 9v2m0 1v2m0 1v5m0 8v1m0 1v3m0 4v1m0 2v4m0 1v1m0 2v1m0 3v1m0 1v1m0 4v3m0 5v2M683.9 383v2m0 1v1m0 1v3m0 1v1m0 2v1m0 1v3m0 8v1m0 2v1m0 1v1m0 1v1m0 5v2m0 2v1m0 2v2m0 6v2m0 1v4m0 2v1m0 1v1m0 5v1m0 3v1m0 2v1m0 4v1m0 3v1m0 2v3m0 4v2m0 1v1M699.6 380v2m0 5v2m0 3v2m0 1v1m0 3v1m0 1v2m0 3v1m0 1v1m0 2v1m0 5v1m0 2v1m0 8v2m0 4v3m0 1v1m0 5v1m0 8v1m0 1v3m0 2v2m0 7v1m0 1v1m0 1v1m0 1v1m0 3v1m0 1v1M872.3 406v1m0 6v1m0 7v1m0 3v1m0 1v1m0 1v1m0 10v2m0 2v2m0 2v1m0 1v1m0 1v1m0 1v2m0 2v5m0 1v2m0 1v2m0 4v1m0 1v1m0 5v1M888.0 387v1m0 9v1m0 8v2m0 5v1m0 9v1m0 1v1m0 5v1m0 2v1m0 1v1m0 6v1m0 11v1m0 10v2M903.7 382v1m0 3v1m0 2v1m0 2v1m0 1v1m0 22v1m0 1v1m0 6v1m0 2v1m0 5v1m0 14v1m0 6v1m0 1v1m0 3v1m0 5v2m0 3v2m0 2v1M919.4 381v1m0 1v1m0 2v2m0 6v4m0 3v1m0 10v1m0 2v1m0 6v2m0 1v1m0 1v1m0 2v1m0 4v2m0 4v1m0 2v1m0 2v1m0 3v3m0 2v2m0 5v2m0 2v1m0 1v3m0 6v1m0 1v1m0 1v1M935.1 396v1m0 18v1m0 18v1m0 2v1m0 16v1m0 3v2m0 5v1m0 10v1m0 1v1M950.8 402v1m0 37v1m0 1v1m0 4v1m0 17v1m0 1v1m0 2v3M966.5 427v1m0 50v1M683.9 493v2m0 2v1m0 4v1m0 2v1m0 1v2m0 2v3m0 2v2m0 1v1m0 5v1m0 3v1m0 4v2m0 8v1m0 9v1m0 1v1m0 2v2m0 6v1m0 4v2m0 1v1M699.6 496v1m0 4v1m0 2v1m0 4v1m0 9v1m0 2v1m0 2v2m0 4v1m0 10v1m0 5v1m0 1v2m0 2v2M872.3 533v1m0 19v2m0 1v1m0 16v1M888.0 500v1M903.7 495v4m0 3v1m0 5v1m0 1v2m0 1v1m0 3v1m0 2v1m0 1v1m0 1v4m0 1v2m0 3v1m0 2v2m0 1v1m0 2v2m0 1v1m0 13v2m0 1v1m0 1v1m0 2v1m0 3v4M919.4 501v4m0 4v1m0 1v1m0 2v1m0 8v1m0 3v3m0 14v2m0 1v1m0 12v1m0 3v1m0 8v1M935.1 494v1m0 1v1m0 13v1m0 3v1m0 3v1m0 5v1m0 3v1m0 1v1m0 8v1m0 3v1m0 2v1m0 1v3m0 3v3m0 13v2m0 1v1M950.8 500v1m0 2v1m0 10v1m0 4v1m0 5v1m0 1v1m0 1v1m0 11v1m0 7v1m0 5v1m0 19v2M966.5 494v1m0 2v1m0 1v1m0 5v1m0 5v1m0 5v2m0 1v1m0 1v2m0 8v1m0 1v1m0 1v1m0 2v1m0 1v1m0 3v1m0 6v2m0 5v1m0 2v2m0 3v1m0 3v1M982.2 493v2m0 1v1m0 5v2m0 1v1m0 1v1m0 1v1m0 6v1m0 2v1m0 1v1m0 8v1m0 4v1m0 5v1m0 2v1m0 2v1m0 8v1m0 2v2m0 3v1m0 2v2M997.9 510v1m0 22v1m0 38v1m0 3v1M1013.6 571v1M683.9 591v1m0 1v1m0 4v1m0 3v2m0 3v1m0 1v3m0 1v4m0 4v1m0 6v1m0 1v1m0 1v1m0 1v2m0 3v2m0 9v1M699.6 589v1m0 1v1m0 1v1m0 1v2m0 3v1m0 1v1m0 1v1m0 1v1m0 1v1m0 4v4m0 1v2m0 6v2m0 1v1m0 4v1m0 2v1m0 1v1m0 9v1m0 1v1M903.7 588v1m0 22v1m0 28v1m0 5v1M919.4 606v1m0 14v1M935.1 587v2m0 9v2m0 3v1m0 9v3m0 4v1m0 2v1m0 6v1m0 1v1m0 4v1M950.8 587v1m0 2v2m0 1v1m0 3v2m0 1v1m0 1v1m0 1v2m0 5v1m0 8v1m0 1v1m0 2v1m0 5v1m0 1v1m0 1v1m0 16v1M966.5 589v1m0 4v2m0 3v1m0 19v1m0 4v1m0 4v1m0 6v1m0 3v1m0 2v1m0 2v1m0 2v1M982.2 591v1m0 13v1m0 1v1m0 12v2m0 1v1m0 1v1m0 6v1m0 12v3m0 1v1m0 1v1M997.9 588v1m0 2v3m0 18v1m0 2v1m0 1v1m0 4v2m0 3v1m0 3v1m0 8v1m0 8v1M1013.6 596v1m0 5v1m0 5v3m0 3v1m0 9v2m0 2v1m0 6v1m0 11v3M683.9 664v1m0 2v1m0 4v1m0 1v1m0 1v2m0 1v2m0 2v1m0 3v1m0 1v1m0 7v2m0 2v1m0 1v1m0 6v1M699.6 666v7m0 1v2m0 3v1m0 4v1m0 7v1m0 1v1m0 1v1m0 1v2m0 13v1M715.3 674v1m0 31v1M731.0 664v2m0 8v2m0 1v3m0 2v1m0 3v1m0 12v1m0 3v2m0 1v1M778.1 667v1m0 1v3m0 6v1m0 3v1m0 9v1m0 2v1m0 11v1m0 2v1M793.8 670v1m0 3v2m0 7v2m0 3v1m0 9v1m0 1v2m0 1v2M903.7 712v1M935.1 664v2m0 8v1m0 3v3m0 1v1m0 1v2m0 1v2m0 5v1m0 2v1m0 3v1m0 2v1m0 1v1m0 3v1m0 1v2M950.8 664v2m0 1v2m0 4v1m0 1v1m0 6v1m0 3v1m0 9v1m0 1v2m0 3v1m0 7v1M966.5 669v2m0 3v2m0 1v1m0 4v1m0 3v1m0 4v1m0 14v2m0 4v1M982.2 667v1m0 1v1m0 4v1m0 3v1m0 1v1m0 7v1m0 1v1m0 3v2m0 4v1m0 2v1m0 5v2M997.9 663v1m0 2v2m0 3v1m0 7v1m0 1v1m0 2v1m0 2v1m0 4v1m0 1v1m0 3v1m0 3v1m0 10v1M1013.6 664v2m0 1v1m0 10v1m0 6v1m0 6v1m0 12v1m0 2v1m0 2v2M715.3 726v1m0 3v1m0 1v2m0 1v2m0 1v1m0 2v1m0 2v1m0 2v1m0 3v3m0 1v1m0 4v1m0 1v2m0 2v2m0 2v1M731.0 730v1m0 1v1m0 1v2m0 1v1m0 4v1m0 2v1m0 8v1m0 10v1m0 1v1M778.1 728v1m0 1v1m0 17v1m0 1v2m0 12v1m0 1v1M793.8 728v1m0 1v1m0 1v2m0 1v1m0 1v1m0 1v2m0 2v2m0 4v1m0 1v1m0 2v2m0 1v1m0 3v1m0 4v2M935.1 733v2M950.8 727v1m0 21v1m0 5v1m0 1v1M966.5 726v1m0 16v1m0 2v2m0 8v1m0 5v1M982.2 727v1m0 3v2m0 8v1m0 1v1m0 1v1m0 3v2m0 2v1m0 3v1m0 6v1m0 2v2M997.9 732v1m0 3v1m0 27v1M1013.6 731v1m0 3v1m0 22v1m0 2v1m0 5v1m0 2v1M715.3 785v1m0 4v1m0 1v1m0 2v1m0 1v1m0 14v1m0 1v1m0 4v1m0 1v2m0 3v1m0 4v1m0 3v2m0 1v1m0 10v2m0 2v1m0 5v2m0 8v1M731.0 783v3m0 1v2m0 2v1m0 1v1m0 1v1m0 6v1m0 3v2m0 3v1m0 5v2m0 3v1m0 5v1m0 1v2m0 2v1m0 1v1m0 8v1m0 1v1m0 1v1m0 6v1m0 3v1m0 3v1m0 4v1M762.4 787v1m0 6v1m0 10v1m0 6v2m0 3v1m0 6v1m0 1v4m0 3v1m0 4v2m0 3v1m0 7v1m0 10v1m0 1v1M778.1 787v1m0 2v2m0 1v1m0 8v3m0 2v3m0 1v1m0 3v1m0 1v1m0 5v1m0 3v1m0 2v2m0 3v1m0 2v2m0 2v1m0 1v2m0 9v1m0 2v4m0 1v1m0 2v1m0 1v1M793.8 784v2m0 2v1m0 3v1m0 7v1m0 14v1m0 5v1m0 1v3m0 1v1m0 2v1m0 4v1m0 15v1m0 1v2m0 7v3m0 1v1M809.5 785v1m0 1v1m0 2v1m0 4v1m0 2v2m0 4v2m0 6v1m0 3v1m0 3v4m0 2v1m0 1v2m0 1v1m0 6v1m0 6v1m0 1v3m0 1v1m0 3v2m0 8v2m0 1v1M825.2 784v1m0 5v1m0 1v6m0 1v2m0 1v4m0 8v1m0 1v2m0 3v1m0 8v2m0 2v2m0 2v1m0 4v1m0 2v2m0 2v1m0 3v1m0 1v3m0 2v3m0 2v3M935.1 853v1M966.5 784v1m0 66v1M982.2 808v1m0 5v1M997.9 783v1m0 3v2m0 2v1m0 21v1m0 5v1m0 11v1m0 1v1m0 6v2m0 7v1m0 10v1m0 6v1m0 1v1M1013.6 785v2m0 9v1m0 2v1m0 2v2m0 13v1m0 1v1m0 2v2m0 10v1m0 2v1m0 17v1m0 6v1m0 7v1M715.3 892v2m0 1v1m0 19v1m0 9v1m0 3v1M731.0 885v1m0 7v1m0 7v1m0 9v1m0 3v1m0 7v1m0 6v1m0 1v4m0 4v1m0 3v1M746.7 884v1m0 6v1m0 4v1m0 4v1m0 40v1m0 2v1M762.4 887v1m0 6v1m0 1v1m0 3v1m0 1v1m0 2v1m0 2v1m0 9v1m0 5v1m0 5v1m0 1v1m0 1v1m0 1v3m0 2v1m0 2v1M778.1 883v2m0 6v1m0 9v1m0 2v1m0 2v1m0 2v1m0 3v1m0 2v4m0 6v1m0 9v1m0 4v1m0 2v2M793.8 884v2m0 7v1m0 6v2m0 7v1m0 1v1m0 10v1m0 3v1m0 8v1m0 3v2m0 5v1M809.5 928v1M825.2 882v1M840.9 925v1M856.6 942v1M997.9 888v1m0 6v1m0 1v2m0 7v1m0 7v1m0 3v1M1013.6 892v1m0 13v1m0 6v1m0 2v1m0 6v1m0 19v1M731.0 986v1m0 8v1m0 7v1m0 13v1M746.7 974v1m0 2v1m0 3v3m0 4v1m0 15v1m0 1v2m0 5v1m0 2v1m0 8v1M762.4 964v1m0 3v1m0 3v1m0 14v2m0 5v1m0 1v2m0 2v1m0 2v1m0 3v1m0 5v2m0 5v1m0 5v1M778.1 971v2m0 14v1m0 5v1m0 14v1M793.8 971v1m0 5v1m0 5v1m0 6v1m0 7v1m0 2v1m0 3v2m0 6v1m0 2v1m0 1v1m0 3v1m0 2v1m0 1v1M840.9 960v1m0 3v1m0 10v1m0 1v1m0 1v1m0 1v1m0 2v1m0 3v3m0 3v2m0 4v2m0 7v1m0 16v1M856.6 958v2m0 6v2m0 1v1m0 3v1m0 1v1m0 11v1m0 6v1m0 6v1m0 4v1m0 12v1m0 3v1m0 3v1M1013.6 989v1" stroke="#676db6" stroke-width="16.00" fill="none"/>
<path d="M731.0 105v1M746.7 52v1m0 2v1m0 5v1m0 6v2m0 1v1m0 8v2m0 5v1m0 13v1m0 4v1M762.4 51v1m0 4v2m0 6v1m0 2v1m0 4v1m0 6v1m0 5v1m0 1v1m0 9v1m0 2v1M778.1 97v1m0 5v1M793.8 62v1m0 14v3m0 10v1m0 9v1M840.9 53v1m0 3v1m0 4v1m0 1v1m0 6v1m0 3v1m0 14v1m0 1v1m0 4v1m0 1v2m0 3v1m0 1v1M856.6 51v1m0 3v1m0 1v1m0 1v1m0 2v3m0 4v2m0 3v1m0 4v2m0 5v1m0 2v1m0 1v1m0 4v3m0 2v1M872.3 60v1m0 20v1M888.0 59v1m0 13v1m0 1v1m0 8v1m0 11v1m0 2v1m0 2v1m0 4v1M746.7 129v1m0 2v1M762.4 172v1M778.1 150v1M793.8 132v1m0 16v1M809.5 128v1m0 10v1m0 10v1m0 9v1m0 11v1M825.2 123v1m0 9v1m0 38v1M840.9 127v1m0 10v1m0 8v1m0 6v1m0 1v1m0 15v1m0 2v1M856.6 120v1m0 1v1m0 6v2m0 1v1m0 3v1m0 2v3m0 3v1m0 7v2m0 1v2m0 1v1m0 16v1m0 2v1M903.7 124v1m0 9v1m0 20v1M919.4 124v2m0 4v1m0 9v1m0 1v1m0 4v1m0 2v1m0 4v1m0 10v1m0 6v1M683.9 220v1m0 10v1m0 8v1m0 9v1m0 7v1m0 2v1m0 4v1m0 3v2M699.6 245v1m0 28v1M809.5 195v1m0 1v2m0 14v1m0 3v2m0 7v2m0 10v1m0 2v1m0 2v1m0 2v1m0 1v1m0 2v1m0 2v1m0 1v1m0 3v1m0 2v1m0 1v1m0 2v1m0 5v1M825.2 188v1m0 2v1m0 1v2m0 2v1m0 2v1m0 2v2m0 1v1m0 2v1m0 3v1m0 1v1m0 2v1m0 1v1m0 4v1m0 3v2m0 8v1m0 2v1m0 6v1m0 2v1m0 8v1m0 2v2m0 2v2m0 2v1M840.9 192v1m0 2v1m0 7v1m0 5v1m0 2v1m0 5v2m0 16v1m0 14v2m0 1v1m0 4v1m0 4v1m0 10v1M856.6 192v1m0 5v1m0 2v1m0 4v1m0 2v1m0 2v1m0 5v1m0 1v1m0 7v1m0 1v2m0 3v1m0 17v2m0 6v1m0 3v3m0 1v1M903.7 193v1m0 4v1m0 3v1m0 22v1m0 2v2m0 4v1m0 8v1m0 1v1m0 4v1m0 1v1m0 19v1M919.4 202v1m0 14v3m0 1v2m0 6v2m0 2v2m0 3v1m0 2v1m0 6v2m0 3v1m0 3v2m0 1v1m0 1v1m0 1v2m0 1v2m0 1v2m0 1v1M683.9 289v1m0 6v1m0 3v2m0 4v1m0 9v1m0 3v3m0 5v1m0 2v2m0 2v1m0 8v2m0 1v1m0 1v1m0 3v1m0 4v1m0 1v2M699.6 288v2m0 2v1m0 5v1m0 2v1m0 2v5m0 4v1m0 2v1m0 1v1m0 1v1m0 4v1m0 2v1m0 12v1m0 1v1m0 6v1m0 1v2m0 3v1m0 7v1M809.5 291v1m0 2v1m0 7v1m0 4v2m0 6v1M825.2 311v1m0 3v1m0 19v1M840.9 291v1m0 4v1m0 5v2m0 6v2m0 12v1m0 2v1m0 7v1m0 21v1m0 1v1M856.6 288v1m0 11v1m0 8v1m0 5v1m0 7v1m0 3v1M903.7 295v1m0 7v1m0 3v1m0 5v3m0 7v1m0 2v1m0 3v1m0 3v1m0 2v1m0 3v1m0 2v1m0 3v1m0 14v1M919.4 295v1m0 1v1m0 2v1m0 4v1m0 2v1m0 5v1m0 3v2m0 3v1m0 8v2m0 18v1m0 6v1M683.9 379v1m0 1v1m0 25v1m0 2v1m0 7v1m0 4v1m0 35v1m0 10v1m0 4v1M699.6 383v1m0 1v1m0 4v1m0 14v1m0 3v1m0 2v1m0 6v1m0 4v1m0 6v1m0 20v1m0 7v1m0 2v1m0 1v1m0 5v1m0 7v1M840.9 376v1M856.6 380v1M872.3 451v1m0 17v1m0 2v1m0 1v1m0 1v5m0 1v1M888.0 381v1m0 2v1m0 15v2m0 7v1m0 1v1m0 2v1m0 2v3m0 1v2m0 4v1m0 1v2m0 1v2m0 13v1m0 3v1m0 5v2m0 9v1m0 2v1m0 9v1M903.7 432v1M919.4 393v1m0 9v1m0 4v1m0 10v1m0 25v1m0 2v1m0 5v1M935.1 381v1m0 3v1m0 7v1m0 4v1m0 2v1m0 1v1m0 4v1m0 1v1m0 2v2m0 7v1m0 5v1m0 2v1m0 3v1m0 3v1m0 2v1m0 1v1m0 4v1m0 5v3m0 4v1m0 5v1m0 3v1m0 1v1M950.8 391v1m0 2v1m0 32v1m0 2v1m0 1v1m0 17v1m0 3v1m0 13v1m0 5v3m0 3v1M966.5 435v1m0 14v1m0 7v1m0 4v1m0 9v1m0 1v2m0 3v1m0 1v1M982.2 430v1m0 4v1m0 25v1M683.9 499v1m0 24v1m0 13v1m0 3v1m0 2v1m0 1v1m0 4v2m0 17v1M699.6 510v1m0 32v1m0 9v1m0 6v1m0 10v1m0 4v1M872.3 498v1m0 5v1m0 18v2m0 5v2m0 4v1m0 2v2m0 9v1m0 11v1m0 1v1M888.0 509v1m0 10v1m0 6v1M903.7 499v1m0 4v1m0 10v2m0 1v2m0 3v1m0 4v1m0 2v1m0 4v1m0 2v1m0 1v1m0 12v1m0 1v3m0 5v1m0 4v2M919.4 497v2m0 6v1m0 1v2m0 4v1m0 5v1m0 6v1m0 4v2m0 1v5m0 3v2m0 2v1m0 3v3m0 3v1m0 2v1m0 1v1m0 4v4m0 1v1M935.1 498v1m0 1v1m0 5v1m0 24v1m0 1v1m0 4v1m0 1v1m0 1v1m0 14v1m0 4v1m0 1v1m0 3v1M950.8 543v1m0 30v1M966.5 500v2m0 4v1m0 5v1m0 1v1m0 1v1m0 37v1m0 20v1M982.2 495v1m0 1v1m0 1v1m0 6v1m0 1v1m0 2v1m0 6v1m0 3v2m0 1v2m0 2v1m0 1v1m0 4v1m0 5v1m0 6v1m0 1v1m0 3v1m0 9v1m0 5v1m0 3v2M997.9 548v1m0 4v1m0 4v1m0 11v1m0 2v3M1013.6 501v1m0 33v1m0 11v1m0 16v1m0 4v1m0 3v1m0 2v1M683.9 587v2m0 3v1m0 1v1m0 1v1m0 3v1m0 4v2m0 1v1m0 8v1m0 2v1m0 2v2m0 1v1m0 4v1m0 1v1m0 7v1m0 1v1m0 2v2m0 1v1m0 1v2M699.6 588v1m0 3v1m0 4v2m0 4v1m0 6v1m0 1v1m0 9v2m0 6v1m0 1v2m0 4v1m0 13v1M715.3 596v1M731.0 643v1M778.1 610v1M793.8 617v1m0 7v1m0 20v1M903.7 592v1m0 1v1m0 2v1m0 5v1m0 5v1m0 6v1m0 1v1m0 8v3m0 6v1m0 10v1M919.4 602v1m0 7v1m0 12v1m0 5v1m0 5v1m0 15v1M935.1 591v1m0 10v1m0 2v1m0 2v1m0 2v2m0 3v1m0 4v1m0 5v1m0 10v1M950.8 638v1M982.2 597v1m0 6v1m0 23v1m0 9v1m0 9v1M997.9 587v1m0 1v1m0 7v3m0 1v1m0 3v1m0 1v1m0 3v1m0 2v1m0 3v1m0 1v1m0 7v1m0 4v1m0 3v1m0 3v2m0 3v1m0 4v2M1013.6 591v1m0 1v1m0 18v1m0 2v1m0 2v2m0 9v1m0 7v2m0 4v3M683.9 668v1m0 4v1m0 7v1m0 3v1m0 7v1m0 8v1m0 1v1m0 3v1m0 3v1M699.6 664v2m0 7v1m0 2v2m0 2v1m0 2v1m0 2v1m0 1v1m0 4v1m0 3v1m0 4v1m0 1v1m0 2v5M715.3 665v1m0 14v1m0 6v1m0 16v1M731.0 673v1m0 13v1m0 1v1m0 3v1m0 4v1m0 1v1m0 12v1M778.1 672v1m0 8v1m0 2v1m0 4v2m0 7v1m0 1v1m0 1v1m0 9v2M793.8 663v1m0 3v2m0 2v3m0 3v1m0 1v1m0 11v3m0 1v1m0 3v1m0 2v1m0 3v1m0 1v1m0 3v1M935.1 663v1m0 3v1m0 1v1m0 1v2m0 2v1m0 1v1m0 5v1m0 2v1m0 2v3m0 4v1m0 1v1m0 9v2m0 1v1M950.8 663v1m0 16v1m0 2v1m0 7v1m0 8v2m0 3v1m0 1v1m0 1v2M966.5 666v1M982.2 675v1m0 5v1m0 11v1m0 5v1m0 4v2m0 7v1M997.9 673v1m0 8v1m0 7v1m0 6v1M1013.6 677v1m0 5v1m0 4v1m0 2v1m0 15v1M699.6 767v1M715.3 727v1m0 3v1m0 17v1m0 4v1m0 6v1m0 3v1m0 2v1M731.0 726v1m0 6v1m0 2v1m0 1v4m0 2v1m0 2v1m0 7v2m0 1v1m0 1v3m0 6v2M778.1 729v1m0 3v3m0 3v2m0 1v1m0 1v2m0 8v1m0 2v3m0 1v3M793.8 738v1m0 20v1m0 2v2m0 5v1M825.2 764v1M950.8 732v1m0 6v1M966.5 727v1m0 4v1m0 4v2m0 1v2m0 2v1m0 6v1m0 1v1m0 1v1m0 5v1m0 3v1m0 2v1m0 1v1M982.2 726v1m0 2v2m0 6v1m0 1v1m0 4v1m0 6v1m0 9v1m0 1v1m0 6v1M715.3 784v1m0 6v1m0 2v1m0 4v1m0 3v1m0 1v1m0 2v2m0 6v1m0 8v1m0 1v3m0 3v1m0 5v2m0 3v4m0 3v1m0 6v1m0 4v1m0 4v1M731.0 796v2m0 6v1m0 5v1m0 3v2m0 4v2m0 5v1m0 18v1m0 5v1m0 1v1m0 13v1M746.7 784v1m0 4v2m0 14v1m0 4v1m0 24v1m0 26v1M762.4 784v1m0 4v2m0 1v2m0 1v1m0 6v1m0 4v1m0 1v3m0 3v1m0 2v1m0 1v3m0 8v1m0 3v2m0 5v1m0 1v1m0 2v2m0 4v2m0 2v3m0 5v1m0 1v1M778.1 786v1m0 9v1m0 1v2m0 16v1m0 2v1m0 2v1m0 11v1m0 1v1m0 3v1m0 5v1m0 2v1m0 2v3m0 2v1m0 4v1m0 4v1M793.8 796v1m0 1v2m0 6v1m0 32v1m0 1v2m0 4v1m0 9v1m0 3v1m0 7v1M809.5 788v2m0 1v1m0 1v1m0 2v1m0 3v1m0 1v1m0 7v1m0 14v1m0 7v1m0 2v2m0 2v1m0 1v1m0 7v1m0 2v1m0 9v1M825.2 788v1m0 21v1m0 9v1m0 2v1m0 3v1m0 8v1m0 2v2m0 1v1m0 10v1M966.5 786v1m0 4v1m0 4v1m0 7v1m0 1v1m0 4v1m0 3v1m0 2v1m0 14v1m0 3v1m0 1v1m0 2v2m0 1v1m0 2v1m0 1v1m0 1v1m0 10v1m0 1v1M982.2 783v1m0 4v1m0 11v1m0 9v1m0 1v2m0 12v1m0 9v1m0 3v1m0 6v1m0 1v1m0 9v1m0 1v1m0 5v2M997.9 786v1m0 2v1m0 2v2m0 4v2m0 4v1m0 2v2m0 5v1m0 2v1m0 3v5m0 2v1m0 1v1m0 3v3m0 2v1m0 4v2m0 2v1m0 2v3m0 1v1m0 1v1m0 1v1m0 1v1m0 1v1m0 4v1m0 1v1M1013.6 788v2m0 8v1m0 1v1m0 7v1m0 3v1m0 1v1m0 14v1m0 1v3m0 6v1m0 1v5m0 1v4m0 1v1m0 4v1m0 1v1m0 7v2M715.3 884v2m0 1v1m0 2v1m0 3v1m0 2v1m0 9v1m0 2v1m0 8v1m0 4v1m0 3v1m0 5v1m0 1v1m0 1v1m0 7v1M731.0 884v1m0 2v5m0 6v2m0 5v1m0 3v2m0 7v1m0 6v1m0 1v1m0 8v1m0 5v2m0 2v1M746.7 885v1m0 1v1m0 24v1m0 2v1m0 2v1m0 3v1m0 3v3m0 1v1m0 8v1m0 6v1M762.4 883v2m0 4v1m0 2v1m0 4v2m0 4v1m0 5v1m0 1v7m0 1v2m0 1v1m0 2v2m0 1v2M778.1 882v1m0 12v2m0 3v1m0 1v2m0 2v1m0 1v1m0 7v1m0 4v1m0 2v1m0 1v1m0 4v3m0 4v1m0 1v2M793.8 887v3m0 17v2m0 4v1m0 1v1m0 1v1m0 1v2m0 8v2m0 1v1m0 1v1m0 1v3m0 2v1M840.9 928v1m0 7v1M856.6 910v1M966.5 933v1M997.9 889v2m0 1v1m0 16v1m0 10v2m0 1v2m0 4v1M1013.6 887v1m0 9v1m0 7v1m0 25v1M715.3 980v1m0 2v1m0 26v1M731.0 958v1m0 7v1m0 16v1m0 3v1m0 11v1m0 7v1m0 4v1m0 6v2m0 3v2M746.7 961v1m0 4v4m0 1v1m0 8v1m0 3v1m0 1v2m0 2v1m0 2v1m0 1v1m0 1v4m0 1v1m0 5v1m0 1v3m0 5v2m0 3v2m0 2v1M762.4 960v1m0 1v1m0 2v1m0 3v1m0 1v1m0 5v1m0 5v1m0 1v1m0 4v1m0 2v1m0 1v1m0 3v1m0 1v1m0 3v2m0 3v1m0 1v1m0 4v1m0 1v1m0 2v2M778.1 965v1m0 3v1m0 3v1m0 11v2m0 15v1m0 3v2m0 2v1m0 4v1m0 2v1m0 1v1m0 5v1M793.8 964v2m0 4v1m0 1v1m0 7v1m0 1v1m0 5v1m0 2v1m0 3v1m0 4v1m0 2v1m0 3v1m0 4v1m0 1v1m0 2v1m0 6v1M840.9 957v1m0 1v1m0 1v1m0 4v1m0 2v2m0 1v1m0 9v1m0 2v3m0 4v1m0 3v2m0 4v1m0 9v4m0 1v1m0 6v1M856.6 960v2m0 1v1m0 1v1m0 2v1m0 1v2m0 5v1m0 1v2m0 1v2m0 1v1m0 4v1m0 5v1m0 1v1m0 3v2m0 6v2m0 4v2m0 4v1m0 1v2M872.3 1023v1M888.0 1003v1m0 2v1m0 1v1m0 3v1m0 2v1M1013.6 966v1m0 27v1" stroke="#868ac4" stroke-width="16.00" fill="none"/>
<path d="M731.0 87v1m0 22v1M746.7 51v1m0 6v1m0 6v3m0 10v1m0 3v1m0 1v1m0 1v1m0 4v1m0 1v1m0 2v1m0 2v2m0 1v3m0 3v1M762.4 50v1m0 4v1m0 4v1m0 1v1m0 3v1m0 1v1m0 1v2m0 6v1m0 3v2m0 5v1m0 1v1m0 1v1m0 4v1m0 2v1m0 3v1m0 4v1M778.1 50v1m0 3v1m0 11v2m0 6v1m0 7v1m0 5v1m0 4v1m0 4v1m0 11v1M793.8 53v1m0 2v4m0 3v1m0 3v1m0 7v1m0 5v2m0 1v1m0 3v1m0 2v1m0 2v1m0 1v1m0 2v1m0 4v1M840.9 50v1m0 1v1m0 3v1m0 8v1m0 1v4m0 1v1m0 15v1m0 2v1m0 1v1m0 1v2M856.6 50v1m0 2v1m0 6v2m0 5v1m0 3v1m0 1v1m0 2v1m0 4v1m0 1v1m0 4v1m0 10v1m0 8v1M872.3 73v1m0 8v1m0 6v1m0 17v1M888.0 68v1M919.4 101v1M746.7 125v1m0 7v1m0 21v1m0 1v1m0 5v1M762.4 138v1m0 19v1m0 4v1m0 7v1M778.1 126v1M793.8 143v1m0 6v1m0 18v1M825.2 134v1M840.9 122v1m0 10v1m0 2v1m0 2v1m0 1v1m0 1v1m0 5v2m0 1v1m0 5v1m0 2v2m0 3v1m0 2v2m0 5v1m0 1v1M856.6 125v1m0 1v1m0 6v1m0 3v1m0 4v1m0 2v1m0 16v4m0 3v1m0 2v1m0 1v1m0 1v1M903.7 133v1m0 2v1m0 11v1M919.4 129v1m0 3v1m0 2v1m0 4v1m0 1v1m0 2v1m0 2v1m0 20v1m0 1v1m0 1v1M683.9 212v1m0 3v1m0 4v1m0 2v1m0 13v1m0 24v1m0 5v1m0 2v3M699.6 229v1m0 41v1M715.3 269v1M746.7 203v1M778.1 268v1M809.5 193v1m0 2v1m0 2v1m0 6v1m0 3v2m0 2v1m0 1v1m0 2v1m0 1v1m0 2v1m0 8v4m0 3v1m0 19v1m0 7v1M825.2 190v1m0 25v2m0 6v1m0 2v1m0 15v2m0 8v1m0 6v1m0 2v1m0 3v1m0 3v1M840.9 188v2m0 1v1m0 18v2m0 3v1m0 7v1m0 2v1m0 7v2m0 4v4m0 13v1m0 5v1m0 1v1m0 4v5M856.6 193v1m0 5v1m0 5v1m0 8v2m0 1v1m0 1v1m0 5v3m0 8v1m0 1v1m0 1v2m0 4v1m0 1v1m0 7v1m0 13v1M903.7 190v2m0 16v1m0 1v1m0 5v1m0 3v2m0 1v2m0 2v1m0 9v1m0 1v3m0 5v1m0 7v1m0 3v1m0 1v1m0 3v1M919.4 188v2m0 1v2m0 17v1m0 4v1m0 4v1m0 5v1m0 1v1m0 6v2m0 2v1m0 2v1m0 2v1m0 10v1m0 15v1M935.1 214v1M683.9 288v1m0 2v1m0 3v1m0 2v1m0 6v1m0 19v1m0 3v1m0 16v1M699.6 291v1m0 11v1m0 10v1m0 2v1m0 9v1m0 9v4m0 4v1m0 1v1m0 3v1m0 7v1M809.5 296v1m0 12v2m0 36v1m0 6v1M825.2 286v1m0 4v2m0 1v1m0 1v1M840.9 286v1m0 8v1m0 4v1m0 4v1m0 2v2m0 2v2m0 2v1m0 4v1m0 1v1m0 2v1m0 5v1m0 4v3m0 4v1m0 6v1M856.6 287v1m0 1v1m0 2v1m0 1v2m0 1v1m0 8v1m0 1v1m0 1v1m0 2v1m0 3v3m0 1v2m0 11v1m0 1v1m0 1v1m0 16v1m0 5v1M903.7 287v1m0 11v1m0 10v1m0 29v1m0 11v2M919.4 294v1m0 3v1m0 2v1m0 36v1m0 10v1M935.1 316v1m0 1v1m0 4v1m0 3v1m0 7v1m0 18v1m0 2v1M683.9 409v1M699.6 391v1m0 2v1m0 1v2m0 9v1m0 14v1m0 3v1m0 14v1m0 6v1m0 6v1m0 8v1m0 8v1m0 4v1M872.3 466v1M888.0 402v1m0 7v1m0 9v1m0 5v1m0 10v4m0 1v1m0 2v1m0 4v1m0 2v2m0 4v2m0 4v1m0 3v1m0 2v1m0 3v1m0 2v1M903.7 438v1M919.4 377v1M935.1 380v1m0 11v1m0 1v2m0 3v1m0 5v1m0 1v1m0 4v1m0 4v3m0 3v3m0 10v1m0 1v1m0 1v1m0 2v1m0 3v1m0 4v2m0 6v1m0 5v1m0 6v1m0 7v1M950.8 393v1m0 9v1m0 18v1m0 8v1m0 2v1m0 2v1m0 7v2m0 4v2m0 3v4m0 3v1m0 2v1m0 12v1m0 1v1M966.5 408v1m0 31v1m0 2v1m0 2v2m0 4v1m0 6v2m0 5v1m0 1v1m0 2v1M982.2 437v1m0 4v1m0 6v2m0 7v1m0 4v1m0 8v1m0 2v1m0 4v1M683.9 514v1M872.3 511v1m0 3v1m0 11v1m0 7v1m0 10v1m0 8v1m0 7v1m0 2v2m0 6v1M888.0 493v1m0 10v1m0 1v1m0 4v1m0 39v1m0 1v1m0 4v1m0 12v1M903.7 532v1m0 9v1M919.4 494v1m0 11v1m0 8v1m0 4v2m0 3v1m0 7v1m0 14v1m0 6v1m0 2v1m0 4v1m0 1v1m0 8v1M935.1 572v1M982.2 498v1m0 11v1m0 2v1m0 13v1m0 6v1m0 8v1m0 4v1m0 3v1m0 1v1M997.9 515v2m0 7v2m0 6v1m0 8v1m0 2v1m0 6v1m0 7v1m0 5v1m0 1v1m0 1v1M1013.6 530v1m0 8v1m0 4v1m0 13v1m0 13v1M683.9 589v2m0 4v1m0 1v1m0 1v1m0 12v1m0 14v1m0 8v3m0 3v1m0 1v2m0 2v1M699.6 590v1m0 30v1M715.3 631v1M731.0 597v2m0 1v1m0 7v1m0 2v1m0 6v1m0 2v1m0 10v1M793.8 596v1m0 1v1m0 12v1M903.7 593v1m0 2v1m0 2v1m0 1v2m0 1v1m0 5v1m0 3v1m0 7v1m0 2v1m0 5v1m0 3v1m0 2v1m0 3v1m0 2v1m0 5v2M919.4 589v2m0 3v1m0 18v1m0 4v1m0 27v1M950.8 632v1m0 18v1M966.5 588v1m0 28v1M997.9 604v1m0 1v1m0 1v3m0 5v1m0 2v1m0 1v1m0 4v1m0 2v1m0 2v1m0 1v1m0 1v1m0 2v1m0 5v1m0 1v1M1013.6 587v1m0 2v1m0 1v1m0 1v1m0 2v3m0 6v1m0 4v1m0 4v1m0 4v2m0 3v1m0 7v1m0 15v2M683.9 663v1m0 6v1m0 11v1m0 1v1m0 5v2m0 2v3m0 3v1m0 10v1M699.6 681v2m0 29v1M715.3 675v1m0 9v1m0 5v1m0 1v1m0 6v1m0 1v1M731.0 667v2m0 1v2m0 9v1m0 8v2m0 9v1M778.1 674v1m0 1v2m0 8v1m0 1v1m0 2v1m0 1v2m0 2v1m0 5v1m0 2v1m0 1v1M793.8 669v1m0 8v1m0 1v1m0 4v1m0 4v1m0 14v1m0 1v1m0 2v1M903.7 670v1m0 29v2m0 8v1M919.4 693v1M935.1 670v1m0 10v1m0 10v2m0 1v1m0 4v1m0 2v1m0 1v1M950.8 670v1m0 3v1m0 3v1m0 5v2m0 2v1m0 1v1m0 1v1m0 2v1m0 6v1m0 3v1M966.5 672v1M683.9 731v1m0 16v1m0 14v1M699.6 727v1m0 18v1M715.3 739v1m0 3v1M731.0 727v3m0 16v1m0 6v1m0 5v1m0 6v1M778.1 726v1m0 9v3m0 7v1m0 8v2m0 8v1m0 1v1m0 1v2M793.8 729v1m0 6v1m0 16v1m0 6v1m0 7v1m0 1v1M809.5 763v1M825.2 760v1M903.7 754v1M935.1 732v1m0 11v1m0 14v1m0 9v1M950.8 728v1m0 2v1m0 5v1m0 15v1m0 11v1M966.5 730v2m0 2v1m0 7v1m0 6v1m0 4v1m0 8v1M982.2 734v1m0 11v1m0 12v2m0 8v1M715.3 796v1m0 1v1m0 3v1m0 4v1m0 7v1m0 4v1m0 3v1m0 18v1m0 4v1m0 7v1m0 8v2M731.0 794v1m0 3v1m0 4v1m0 5v1m0 31v3m0 9v1M746.7 786v1m0 35v1m0 2v1m0 4v2m0 2v1m0 2v1m0 7v1m0 4v1m0 1v1m0 4v1m0 9v1M762.4 786v1m0 10v2m0 4v1m0 10v1m0 1v1m0 2v1m0 10v1m0 6v1m0 2v1m0 5v1m0 3v1m0 1v1m0 3v1m0 9v1m0 1v1M778.1 785v1m0 14v1m0 24v1m0 15v1m0 8v1M793.8 794v2m0 21v1m0 13v1m0 18v1m0 16v1M809.5 809v1m0 51v1M825.2 806v2m0 41v1m0 19v1M935.1 826v1m0 14v1M966.5 792v3m0 2v1m0 7v1m0 4v1m0 9v1m0 3v1m0 1v1m0 3v2m0 4v1m0 9v1m0 9v1m0 7v1m0 1v2M982.2 796v1m0 9v1m0 4v1m0 6v1m0 1v1m0 22v1m0 12v1m0 3v1m0 3v1m0 1v1M997.9 784v2m0 11v1m0 2v2m0 3v2m0 4v1m0 3v1m0 22v1m0 4v1m0 3v1m0 2v1M1013.6 787v1m0 5v2m0 10v1m0 4v1m0 2v1m0 1v1m0 2v1m0 17v1m0 22v1m0 1v1m0 3v2M715.3 883v1m0 2v1m0 2v1m0 6v1m0 2v1m0 1v1m0 1v1m0 2v1m0 1v2m0 1v1m0 4v2m0 8v2m0 7v1m0 4v1m0 4v1M731.0 892v1m0 1v1m0 9v1m0 1v1m0 6v1m0 2v1m0 2v2m0 3v1m0 1v1m0 2v1m0 11v1M746.7 883v1m0 2v1m0 7v1m0 7v2m0 1v2m0 2v1m0 10v1m0 2v1m0 1v1m0 3v1m0 1v2m0 4v1m0 2v1m0 2v2M762.4 882v1m0 3v1m0 14v1m0 2v1m0 16v1m0 11v1m0 8v2M778.1 885v2m0 1v3m0 1v1m0 18v1m0 11v1m0 10v1m0 4v1m0 3v2M793.8 882v1m0 7v1m0 3v2m0 6v1m0 1v1m0 1v1m0 7v1m0 3v1m0 2v1m0 1v3m0 1v2m0 2v1m0 10v1M840.9 908v1m0 8v1m0 6v1m0 16v1M856.6 884v1m0 18v1m0 3v1m0 3v1m0 6v1m0 1v1m0 14v2m0 2v3m0 1v1m0 1v2M982.2 910v1M997.9 885v1m0 7v1m0 6v1m0 2v1m0 7v1m0 1v1m0 1v1m0 6v1m0 2v1m0 4v1m0 2v1m0 1v1m0 1v1m0 4v1M1013.6 884v3m0 3v1m0 3v2m0 12v2m0 2v1m0 5v1m0 2v2m0 1v1m0 1v1m0 1v2m0 2v2m0 3v1m0 4v1m0 1v1M715.3 962v1m0 12v1m0 1v1m0 13v1m0 1v1m0 6v1m0 21v1M731.0 970v1m0 3v1m0 5v2m0 11v1m0 3v1m0 2v2m0 14v1m0 1v1m0 3v2M746.7 957v2m0 5v2m0 6v2m0 1v1m0 2v2m0 9v1m0 1v2m0 3v1m0 4v1m0 1v1m0 10v1m0 2v1m0 2v2m0 4v1M762.4 958v2m0 6v2m0 2v1m0 3v1m0 7v1m0 1v1m0 1v1m0 2v1m0 2v1m0 18v1M778.1 959v1m0 4v1m0 12v1m0 1v1m0 3v1m0 6v1m0 6v2m0 2v1m0 2v1m0 8v1m0 3v1M793.8 963v1m0 4v1m0 6v1m0 9v1m0 1v1m0 5v2m0 4v1m0 2v1m0 6v1m0 1v1m0 9v1M840.9 962v1m0 2v1m0 2v1m0 5v1m0 3v1m0 1v1m0 12v1m0 5v1m0 3v1m0 4v1m0 2v1m0 4v1m0 1v3m0 2v1m0 3v1M856.6 974v1m0 13v2m0 1v3m0 1v1m0 3v2m0 12v3m0 4v1M872.3 1006v1m0 9v1m0 7v1M888.0 981v1m0 5v1m0 9v2m0 8v1m0 1v1m0 10v1m0 2v1M997.9 979v1m0 5v1M1013.6 969v1m0 3v1m0 11v1" stroke="#a4a8d3" stroke-width="16.00" fill="none"/>
<path d="M731.0 58v2m0 1v1m0 2v1m0 3v1m0 11v1m0 1v1m0 2v1m0 5v1m0 2v1m0 13v1M746.7 56v2m0 1v2m0 1v1m0 1v1m0 5v1m0 3v2m0 12v1m0 1v1M762.4 53v2m0 4v1m0 21v1m0 10v1m0 1v1m0 12v3M778.1 64v1m0 16v1m0 1v2m0 2v1m0 16v1M793.8 51v2m0 2v1m0 9v1m0 2v1m0 1v2m0 11v1m0 1v1m0 12v1M840.9 59v1m0 14v1m0 3v1m0 15v1M856.6 82v1m0 2v1m0 4v1m0 13v1m0 1v1M919.4 69v1m0 10v1M731.0 122v1m0 5v1m0 1v1m0 13v1M746.7 120v1m0 20v1m0 1v1m0 17v1m0 6v1m0 5v1M762.4 124v1m0 6v1m0 3v1m0 5v1m0 1v1m0 5v3m0 9v1m0 17v1M778.1 129v1m0 13v1M793.8 126v1m0 18v1m0 2v1m0 5v1m0 2v1m0 9v1m0 7v3M809.5 125v1m0 14v1M840.9 121v1m0 7v1m0 2v1m0 2v1m0 4v1m0 1v1m0 1v1m0 1v1m0 1v1m0 8v1m0 2v1m0 3v2m0 2v1M856.6 135v1m0 6v1m0 12v1m0 5v1m0 12v1M903.7 121v2m0 5v1m0 14v1m0 10v1m0 3v1m0 5v1m0 2v1m0 4v2m0 1v1M919.4 120v2m0 1v1m0 2v2m0 4v1m0 1v1m0 2v1m0 14v1m0 1v1m0 1v1m0 2v4m0 1v2M683.9 206v2m0 34v1m0 1v2m0 1v1m0 4v1m0 3v2m0 2v1m0 6v2M699.6 188v1m0 63v1m0 6v1m0 2v1m0 2v1m0 2v1M715.3 199v1m0 59v1m0 11v1M746.7 192v1m0 4v1m0 6v1m0 5v1m0 4v1m0 12v1m0 8v1M762.4 196v2m0 17v1m0 1v1m0 23v1M778.1 254v1M809.5 192v1m0 10v1m0 11v1m0 4v1m0 7v1m0 10v1m0 5v1m0 8v1m0 19v1M825.2 192v1m0 3v1m0 34v1m0 1v1m0 7v1M840.9 197v1m0 7v1m0 2v1m0 19v1m0 1v1m0 13v3m0 1v1m0 7v1m0 1v1m0 1v2M856.6 188v1m0 2v1m0 5v1m0 2v1m0 12v1m0 8v3m0 17v2m0 3v1m0 1v1m0 2v1m0 2v1m0 8v1m0 9v1M903.7 189v1m0 6v1m0 12v1m0 2v1m0 2v1m0 2v2m0 6v1m0 3v1m0 13v1m0 3v2m0 1v1m0 5v1m0 4v1m0 1v1m0 2v4M919.4 193v1m0 9v1m0 8v2m0 18v1m0 17v1M683.9 303v1m0 60v2M699.6 287v1m0 2v1m0 5v1m0 3v1m0 1v1m0 6v1m0 22v2m0 15v1m0 4v2M809.5 287v1m0 2v1m0 1v1m0 12v1m0 5v1m0 4v1m0 5v1m0 3v1m0 28v1M825.2 289v1m0 3v1m0 1v1m0 4v1m0 1v1m0 6v1m0 2v2m0 18v2m0 11v1m0 10v1M840.9 287v1m0 4v2m0 3v1m0 1v1m0 4v1m0 2v1m0 6v2m0 2v1m0 23v1m0 3v1M856.6 291v1m0 1v1m0 4v2m0 5v1m0 5v2m0 1v1m0 5v1m0 9v1m0 1v1m0 9v1m0 1v1m0 1v1m0 3v1m0 5v1M935.1 290v2m0 1v1m0 7v1m0 10v1m0 20v1m0 10v1m0 5v1M950.8 343v1M699.6 378v1M856.6 381v1m0 19v1m0 57v1m0 18v1M872.3 457v1M888.0 441v1m0 2v1m0 3v2m0 6v1m0 6v1m0 6v1m0 4v1m0 2v1m0 1v1M935.1 383v1m0 2v1m0 4v1m0 10v1m0 3v1m0 2v1m0 1v1m0 9v1m0 5v1m0 17v1m0 4v1m0 12v1M950.8 390v1m0 6v1m0 1v2m0 5v1m0 9v3m0 1v1m0 4v2m0 1v1m0 4v1m0 5v1m0 1v1m0 18v3m0 15v1m0 3v1M966.5 392v1m0 3v1m0 10v1m0 5v1m0 9v1m0 2v1m0 18v1m0 7v1m0 1v1m0 5v2m0 1v1m0 2v1m0 1v1m0 7v1m0 1v1M982.2 405v1m0 34v2m0 1v1m0 7v1m0 8v1m0 7v1m0 1v1m0 3v1m0 2v1M683.9 528v1M715.3 523v1M872.3 495v1m0 1v1m0 2v1m0 4v1m0 4v1m0 5v3m0 2v2m0 2v1m0 2v2m0 7v2m0 3v1m0 4v3m0 7v1m0 1v1m0 10v1M888.0 503v1m0 4v1m0 3v1m0 2v1m0 3v1m0 9v1m0 8v1m0 3v1m0 1v1m0 3v1m0 1v1M919.4 500v1m0 9v1m0 11v1m0 7v1m0 18v1m0 3v1m0 8v1m0 7v1M982.2 553v1m0 20v1M997.9 500v1m0 8v1m0 2v2m0 8v1m0 3v1m0 2v1m0 4v1m0 17v1m0 8v1m0 2v1m0 1v1M1013.6 506v1m0 15v1m0 3v1m0 11v1m0 1v2m0 11v1m0 3v1m0 3v2m0 2v1m0 2v1m0 6v1M683.9 601v1M699.6 601v1M715.3 603v1m0 11v1m0 3v1m0 16v1m0 3v1m0 5v1M731.0 590v1m0 1v1m0 9v1m0 3v1m0 5v3m0 4v1m0 5v1m0 1v1m0 3v1m0 3v1m0 6v1m0 7v1m0 1v1M778.1 590v1m0 12v2m0 30v1M793.8 599v1m0 1v1m0 3v1m0 1v1m0 1v1m0 3v2m0 3v2m0 7v1m0 10v1m0 8v1m0 1v2M903.7 590v1m0 4v1m0 2v1m0 8v2m0 3v2m0 3v1m0 6v1m0 9v1m0 2v1m0 3v1m0 6v2M919.4 591v2m0 3v1m0 1v1m0 6v1m0 9v1m0 1v1m0 8v1m0 3v1m0 7v2m0 4v2M997.9 603v1M1013.6 589v1m0 10v1m0 3v1m0 2v1m0 5v1m0 9v1m0 8v1m0 9v1m0 3v1M683.9 665v1m0 3v1m0 1v1m0 14v1m0 18v1m0 1v1m0 5v1M715.3 663v2m0 3v1m0 1v1m0 1v2m0 2v1m0 2v1m0 2v1m0 3v1m0 5v1m0 4v1m0 3v1m0 1v1m0 6v1m0 1v1M731.0 672v1m0 38v1M778.1 664v1m0 8v1m0 9v1m0 3v1m0 8v1m0 2v1m0 1v1m0 2v1m0 4v1M793.8 664v1m0 11v1m0 4v1m0 12v1M903.7 666v1m0 2v1m0 10v1m0 3v2m0 7v1M919.4 703v1M935.1 668v1M950.8 666v1m0 4v1m0 5v1m0 11v1m0 22v1M997.9 707v1M683.9 726v1m0 2v1m0 4v1m0 1v1m0 3v1m0 17v2m0 10v1M699.6 732v1m0 2v1m0 8v1m0 23v1M715.3 734v1m0 29v1M746.7 754v1m0 1v1M762.4 730v2m0 7v1m0 1v1m0 8v1m0 9v1M778.1 731v1m0 21v1M793.8 731v1m0 14v1M809.5 735v1m0 32v2M825.2 739v1m0 27v1m0 2v1M903.7 727v1m0 1v1m0 4v2m0 25v1M935.1 726v1m0 13v1m0 4v1m0 4v2m0 2v1m0 6v4m0 3v1M950.8 730v1m0 7v1m0 8v1m0 3v1m0 6v1m0 2v1m0 2v1m0 3v1M966.5 728v1m0 6v2m0 13v1m0 9v1M982.2 735v1M715.3 793v1m0 38v1m0 1v1m0 17v1m0 9v1M731.0 800v1M746.7 783v1m0 1v1m0 5v1m0 6v1m0 9v2m0 3v1m0 14v1m0 11v1m0 6v1M762.4 785v1m0 2v1m0 10v1m0 1v1m0 4v1m0 1v1m0 16v1m0 15v1m0 7v1m0 10v1m0 9v1M778.1 828v1M793.8 837v1M809.5 815v1M825.2 808v1m0 61v1M935.1 839v1m0 15v1M950.8 796v1m0 1v1m0 36v1M966.5 783v1m0 3v1m0 2v1m0 9v1m0 12v2m0 6v2m0 2v1m0 1v1m0 25v2m0 2v1m0 4v1M982.2 797v2m0 2v2m0 1v2m0 9v2m0 2v1m0 3v1m0 1v1m0 1v1m0 7v1m0 8v3m0 3v1m0 4v1m0 1v1m0 5v1m0 5v1M997.9 803v1m0 12v1m0 3v1m0 6v1m0 1v1m0 7v1m0 8v1m0 18v1M1013.6 784v1m0 10v1m0 1v1m0 18v1m0 3v2m0 5v2m0 10v1m0 27v1M715.3 891v1m0 8v1m0 3v1m0 7v1m0 1v1m0 6v1m0 8v3m0 9v1m0 1v1M731.0 895v3m0 2v1m0 6v1m0 9v1m0 10v1m0 8v1m0 1v1M746.7 893v1m0 3v1m0 1v1m0 7v2m0 4v2m0 2v1m0 3v1m0 2v1m0 11v1M762.4 935v1M778.1 887v1m0 6v1m0 20v1m0 6v1m0 12v2M793.8 896v4m0 5v1M840.9 897v1m0 11v1m0 1v1m0 17v2m0 6v1m0 1v1m0 2v2m0 2v1M856.6 896v2m0 1v1m0 14v1m0 10v1m0 8v1m0 9v1M950.8 892v1M982.2 897v1m0 15v1m0 8v1m0 1v1m0 16v2M997.9 883v1m0 7v1m0 2v1m0 4v1m0 1v2m0 2v1m0 1v2m0 1v1m0 6v1m0 1v1m0 8v1m0 11v1m0 4v1M1013.6 882v1m0 5v1m0 2v1m0 1v1m0 4v2m0 1v1m0 1v2m0 10v1m0 3v1m0 5v1m0 1v1m0 2v1m0 3v2m0 2v1m0 1v1M715.3 957v1m0 2v1m0 3v1m0 21v2m0 1v2m0 5v1m0 5v1m0 6v1m0 2v1m0 5v1m0 5v3M731.0 962v1m0 1v1m0 8v1m0 1v1m0 8v1m0 5v1m0 11v1m0 5v1m0 4v1M746.7 962v1m0 22v1m0 19v1m0 16v1M762.4 961v1m0 11v1m0 51v1m0 1v1M778.1 957v1m0 4v1m0 3v1m0 1v1m0 5v1m0 5v1m0 3v1m0 4v1m0 2v1m0 1v1m0 4v1m0 9v1m0 6v1m0 2v1m0 2v1m0 1v2m0 1v1M793.8 957v1m0 4v1m0 3v1m0 6v1m0 2v1m0 1v2m0 1v1m0 22v1m0 10v1m0 3v1M840.9 976v1m0 27v1m0 1v2m0 2v1m0 11v1m0 2v1M856.6 964v1m0 11v1m0 4v1m0 4v1m0 18v1m0 1v1m0 4v1M872.3 1004v1m0 8v1m0 6v1M888.0 980v1m0 1v1m0 1v1m0 9v1m0 1v1m0 17v1m0 3v1m0 6v1m0 1v1M997.9 970v1m0 12v1m0 6v1m0 6v1m0 17v1M1013.6 959v2m0 4v1m0 2v1m0 9v1m0 12v1m0 11v1m0 3v1m0 4v1m0 12v2" stroke="#c2c5e2" stroke-width="16.00" fill="none"/>
<path d="M715.3 91v1m0 8v1m0 9v1M731.0 52v1m0 1v1m0 1v1m0 9v1m0 4v1m0 4v1m0 13v1m0 5v1M746.7 79v1m0 5v1m0 8v1m0 2v1m0 11v1M762.4 52v1m0 8v1m0 18v1m0 9v1M778.1 56v1m0 1v2m0 2v1m0 10v1m0 27v1m0 7v1M793.8 54v1m0 14v1m0 4v1m0 11v1m0 2v1m0 2v1m0 8v2M840.9 108v1M903.7 53v1m0 8v1m0 3v1m0 40v1M919.4 77v1m0 13v1m0 2v1m0 5v1m0 4v1M715.3 169v1M731.0 147v1m0 11v1m0 4v1m0 11v1M746.7 121v1m0 1v1m0 10v1m0 7v1m0 1v1m0 1v2m0 4v1m0 3v1m0 2v2m0 4v1m0 6v1M762.4 125v1m0 2v2m0 3v1m0 2v1m0 3v1m0 1v1m0 10v1m0 2v2m0 1v1m0 13v1M778.1 148v1m0 2v1m0 9v1m0 8v1m0 1v2M793.8 122v1m0 4v1m0 7v1m0 1v1m0 1v1m0 2v1m0 9v1m0 10v1m0 15v1M840.9 145v1m0 5v1M856.6 178v1M903.7 120v1m0 6v1m0 3v1m0 6v3m0 3v1m0 1v2m0 5v1m0 3v1m0 4v1m0 5v1m0 1v1M919.4 138v1m0 12v1m0 6v1m0 9v2m0 7v1M935.1 136v1M966.5 135v1M683.9 188v2m0 6v1m0 3v1m0 1v1m0 6v3m0 5v1m0 10v3m0 1v1m0 3v2m0 5v1m0 2v1m0 7v2m0 8v2M699.6 194v1m0 8v1m0 9v2m0 7v2m0 1v1m0 23v2m0 12v1m0 3v1m0 5v1M715.3 217v1M731.0 202v1m0 2v1M746.7 191v1m0 7v1m0 6v1m0 11v1m0 1v1m0 5v1m0 2v2m0 9v3m0 1v1m0 9v1m0 1v1m0 3v1m0 4v1m0 8v1M762.4 201v2m0 19v1m0 11v1m0 11v1m0 4v1m0 15v1M778.1 190v1m0 1v1m0 63v1M793.8 194v1m0 18v1m0 23v1m0 3v1m0 2v1m0 8v3M809.5 212v1m0 38v1m0 18v2M840.9 196v1m0 5v1m0 21v1m0 22v1m0 1v1m0 12v1m0 3v1M856.6 190v1m0 4v2m0 5v1m0 7v1m0 21v3m0 2v1m0 12v2m0 6v2m0 12v1m0 2v1M903.7 195v1m0 1v1m0 1v1m0 3v1m0 13v1m0 20v1m0 7v1m0 9v1m0 1v1m0 1v1m0 2v1m0 9v1M919.4 199v2m0 4v1m0 31v1m0 9v1M935.1 193v1m0 2v1m0 48v1M683.9 348v1M746.7 312v1m0 32v1M809.5 288v1m0 6v1m0 1v1m0 6v1m0 1v1m0 5v1m0 1v1m0 8v2m0 2v2m0 1v1m0 2v2M825.2 287v1m0 10v1m0 8v2m0 5v1m0 2v1m0 2v2m0 3v1m0 3v1m0 20v1M840.9 306v1m0 10v1m0 1v2m0 4v1m0 2v3m0 2v2m0 1v1m0 11v1m0 3v1m0 5v1M856.6 301v1m0 2v1m0 20v1m0 3v1m0 7v1m0 5v1m0 1v1m0 1v2m0 2v2m0 4v2m0 1v1m0 1v1m0 1v1M903.7 308v1M935.1 296v1m0 1v1m0 5v1m0 3v1m0 4v1m0 12v1m0 4v1m0 4v2m0 2v1m0 4v1m0 5v1m0 11v1M950.8 309v1m0 18v1m0 34v1M982.2 355v1M746.7 464v1M840.9 377v1m0 9v1m0 9v2m0 34v1m0 1v1m0 6v1m0 7v1m0 1v1m0 14v1m0 6v1M856.6 378v2m0 13v1m0 5v1m0 7v1m0 4v1m0 12v1m0 4v1m0 40v1m0 4v1M888.0 435v1m0 16v1m0 24v1m0 4v1M935.1 379v1m0 2v1m0 1v1m0 2v4m0 13v1m0 21v1m0 2v2m0 20v1M950.8 376v1m0 3v1m0 2v1m0 11v2m0 1v1m0 8v1m0 2v2m0 1v1m0 1v1m0 3v1m0 3v2m0 4v1m0 6v1m0 1v1m0 14v1m0 1v1M966.5 387v2m0 2v1m0 1v1m0 7v1m0 1v1m0 2v1m0 7v1m0 4v1m0 4v1m0 4v1m0 6v1m0 1v2m0 2v1m0 1v1m0 3v2m0 4v1m0 1v2m0 23v1M982.2 400v2m0 1v1m0 7v1m0 2v1m0 12v2m0 9v2m0 4v1m0 12v1m0 1v1m0 4v1m0 1v1m0 6v1m0 2v1m0 2v1m0 2v1M715.3 529v1m0 6v1m0 37v1M731.0 496v1M778.1 510v1m0 25v1M872.3 499v1m0 1v1m0 7v1m0 31v1m0 1v1m0 7v2m0 7v1m0 8v1m0 6v1M888.0 496v1m0 20v1m0 3v1m0 2v1m0 6v1m0 2v2m0 3v1m0 5v1m0 11v1m0 3v1m0 12v1M982.2 500v1m0 3v1m0 27v1M997.9 493v1m0 7v1m0 2v1m0 12v1m0 27v1m0 1v1m0 2v1m0 4v1m0 7v1m0 4v1m0 2v1M1013.6 497v1m0 15v1m0 1v1m0 11v1m0 1v1m0 3v1m0 3v1m0 12v1m0 3v1m0 11v2m0 6v1M699.6 587v1M715.3 589v1m0 28v1m0 11v1m0 14v1m0 5v1M731.0 593v2m0 27v1m0 1v1m0 9v1m0 1v1m0 4v1m0 7v1M778.1 589v1m0 9v1m0 24v1m0 12v1m0 4v1m0 2v1m0 5v1M793.8 592v1m0 1v1m0 2v1m0 2v1m0 2v1m0 6v1m0 9v2m0 1v1m0 15v1m0 1v2m0 5v1M872.3 602v1m0 31v1M888.0 596v1M903.7 605v2m0 8v1m0 10v1m0 5v2m0 5v1m0 3v1M919.4 588v1m0 14v1m0 5v1m0 2v1m0 6v2m0 3v1m0 3v1m0 8v1m0 2v1m0 1v2m0 4v1M997.9 590v1M1013.6 588v1m0 14v1m0 26v2m0 1v1M683.9 678v1M715.3 666v1m0 2v1m0 13v1m0 11v1m0 2v2m0 5v1m0 2v2M731.0 663v1m0 21v1m0 6v1m0 12v1m0 2v1M778.1 668v1m0 10v1M903.7 665v1m0 1v2m0 3v1m0 2v1m0 1v1m0 11v2m0 11v2m0 2v1m0 1v2M919.4 681v1m0 5v1m0 8v2M935.1 666v1m0 9v1M950.8 679v1m0 1v1m0 15v1M683.9 727v2m0 14v1m0 1v1m0 4v1m0 1v2m0 13v1M699.6 726v1m0 2v2m0 17v1m0 7v1m0 5v2M715.3 746v1M746.7 768v1M762.4 738v1m0 1v1m0 4v1m0 8v1m0 6v2m0 1v2m0 4v1M809.5 726v1m0 12v1m0 3v1m0 2v1m0 6v2M825.2 741v1m0 14v1m0 5v1M903.7 728v1m0 10v1m0 4v1m0 1v1m0 20v1m0 1v2M935.1 731v1m0 3v1m0 12v2m0 2v1m0 2v1m0 4v1m0 4v1M950.8 726v1m0 2v1m0 6v1m0 5v1m0 2v1m0 4v1m0 3v1m0 1v1m0 2v1m0 3v1m0 3v1M966.5 745v1M715.3 811v1m0 30v1M731.0 823v1m0 38v1M746.7 801v1m0 10v1m0 2v1m0 22v2m0 9v1m0 3v1m0 1v1M762.4 783v1m0 16v1M935.1 833v1m0 1v1m0 15v1m0 4v1m0 13v1M950.8 790v1m0 11v1m0 4v1m0 5v1m0 14v1m0 16v1m0 20v1M966.5 788v2m0 5v1m0 3v1m0 1v1m0 5v1m0 8v1m0 2v1m0 9v1m0 2v1m0 1v2m0 2v1m0 5v1m0 2v1m0 1v1m0 8v1m0 9v1m0 1v1M982.2 786v1m0 2v4m0 1v2m0 7v1m0 3v1m0 1v1m0 12v1m0 1v1m0 4v1m0 7v1m0 1v1m0 1v1m0 10v3m0 15v1M997.9 858v1M1013.6 783v1m0 27v1M715.3 882v1m0 19v1m0 30v1m0 3v1M731.0 882v1M746.7 882v1m0 5v1m0 1v1m0 13v1m0 29v1m0 6v1M840.9 887v1m0 13v1m0 2v1m0 2v1m0 8v1m0 3v1m0 1v2m0 3v1m0 4v1m0 1v1m0 5v1m0 3v1M856.6 882v1m0 7v1m0 3v1m0 10v1m0 2v1m0 6v1m0 8v1m0 1v1m0 2v1m0 1v1m0 6v1M935.1 901v1M950.8 885v1M966.5 883v1m0 1v1m0 26v1m0 7v1m0 10v1m0 6v1M982.2 887v1m0 5v1m0 4v1m0 1v1m0 7v1m0 2v1m0 7v1m0 7v1m0 6v1m0 1v1m0 8v1M997.9 896v1m0 7v1m0 7v1m0 3v1m0 10v1m0 4v1m0 1v1m0 3v2m0 3v2M1013.6 889v1m0 6v1m0 3v1m0 1v1m0 4v1m0 2v1m0 6v1m0 2v1m0 15v1m0 4v1m0 3v1M715.3 958v1m0 2v1m0 5v1m0 1v2m0 1v1m0 5v1m0 3v1m0 2v1m0 11v1m0 3v1m0 2v1m0 22v1M731.0 959v1m0 7v3m0 6v2m0 1v1m0 5v1m0 5v2m0 1v1m0 1v1m0 12v1m0 5v1M762.4 963v1m0 54v1m0 2v1M778.1 961v1m0 1v1m0 3v1m0 7v2m0 1v1m0 2v2m0 8v1m0 8v1m0 4v1m0 6v1m0 8v1m0 1v1M793.8 958v2m0 1v1m0 22v1m0 7v1m0 15v1m0 1v1m0 12v1m0 2v1M856.6 957v1m0 20v1m0 5v1m0 23v1m0 9v1M872.3 976v1m0 15v1m0 16v1m0 16v1M888.0 989v1m0 14v1m0 8v1m0 5v1m0 1v1M966.5 974v1M982.2 1006v1M997.9 958v1m0 7v2m0 6v1m0 9v1m0 6v1m0 9v1m0 8v1m0 6v1M1013.6 957v2m0 2v1m0 1v1m0 10v1m0 1v1m0 4v3m0 2v2m0 7v1m0 3v1m0 1v1m0 2v1m0 4v1m0 1v1m0 2v1m0 2v1" stroke="#e1e2f0" stroke-width="16.00" fill="none"/>
<path d="M715.3 50v1m0 6v1m0 8v1m0 16v1m0 6v1m0 2v1m0 13v1M731.0 50v1m0 6v1m0 7v1m0 1v1m0 1v2m0 3v1m0 2v1m0 6v1m0 1v1m0 8v1M746.7 98v1M762.4 84v1m0 3v1M778.1 51v2m0 4v1m0 3v1m0 1v1m0 5v1m0 5v2m0 8v1m0 5v2m0 3v1m0 9v2M793.8 61v1m0 2v1m0 7v2m0 23v1m0 7v1m0 1v1m0 2v1M840.9 89v1M903.7 64v1m0 3v1m0 6v2m0 8v1m0 6v1m0 3v1m0 13v1M919.4 53v1m0 5v1m0 15v1m0 7v1m0 5v1m0 17v1M982.2 92v1M997.9 54v1M1013.6 78v1M683.9 135v1M715.3 120v1m0 8v1m0 7v1m0 3v1m0 4v1m0 11v1m0 9v1M731.0 129v1m0 8v1m0 6v1m0 24v1m0 7v1M746.7 122v1m0 3v1m0 9v1m0 1v2m0 10v1m0 11v1m0 10v1m0 1v1m0 1v1m0 1v1M762.4 121v1m0 1v1m0 8v1m0 4v1m0 1v1m0 5v1m0 1v2m0 3v1m0 1v2m0 6v1m0 6v1m0 4v1m0 1v3M778.1 121v1m0 3v1m0 9v1m0 6v1m0 4v1m0 15v1m0 2v1m0 9v1M793.8 129v1m0 3v2m0 6v1m0 9v1m0 10v1m0 2v1m0 5v1m0 6v1M903.7 125v2m0 2v2m0 1v1m0 2v1m0 1v1m0 4v1m0 2v1m0 3v3m0 7v1m0 14v1m0 1v1M919.4 122v1m0 8v1m0 7v1m0 4v2m0 2v1m0 4v1m0 9v1m0 3v1m0 7v1m0 3v1M966.5 121v1m0 50v2M683.9 190v1m0 10v1m0 11v3m0 2v2m0 6v2m0 11v1m0 1v1m0 6v2m0 1v1m0 1v1m0 5v1m0 2v1M699.6 205v1m0 10v3m0 1v1m0 9v2m0 6v1m0 3v1m0 1v1m0 1v1m0 4v1m0 2v1m0 1v1m0 1v1m0 5v1m0 4v1M715.3 194v1m0 5v1m0 2v1m0 6v1m0 3v2m0 6v1m0 11v1m0 1v1m0 5v1m0 1v1m0 13v1M731.0 208v1m0 33v1m0 32v1M746.7 194v1m0 6v1m0 7v1m0 13v1m0 8v1m0 1v1m0 18v1m0 3v1m0 8v1M762.4 203v2m0 2v1m0 2v3m0 12v1m0 1v1m0 12v1m0 2v1m0 5v1m0 10v1m0 4v2m0 1v1m0 2v1m0 1v2M778.1 213v2m0 3v1m0 8v1m0 10v1m0 3v1m0 18v1m0 13v1M793.8 205v1m0 1v1m0 4v1m0 2v1m0 16v1m0 1v1m0 23v1m0 3v3m0 4v1m0 3v1M840.9 199v1m0 4v1m0 16v1m0 10v1m0 17v1m0 2v1M856.6 245v1M903.7 194v1m0 6v1m0 5v1m0 3v1m0 1v1m0 8v1m0 8v1m0 4v1m0 5v1m0 10v2m0 11v1m0 7v1M919.4 198v1M935.1 212v1m0 8v1m0 8v1m0 5v1m0 1v1M950.8 238v1m0 34v1M715.3 322v1m0 3v1M746.7 292v1m0 7v2m0 8v1m0 11v1m0 7v1m0 25v1M762.4 303v2m0 6v1m0 11v1m0 19v1m0 14v1M793.8 342v1M809.5 286v1m0 2v1m0 8v1m0 1v1m0 16v1m0 11v1m0 1v1m0 3v1m0 4v3m0 2v1m0 6v2m0 2v1m0 4v2M825.2 297v1m0 5v1m0 1v2m0 9v1m0 9v3m0 10v1m0 7v2m0 2v1m0 13v1M840.9 340v2m0 5v1m0 1v1m0 3v1m0 1v1m0 6v3M856.6 302v1m0 21v1m0 3v1m0 12v1m0 11v1m0 9v1M919.4 363v1M935.1 289v1m0 2v1m0 7v1m0 1v2m0 3v1m0 1v1m0 1v1m0 2v1m0 2v1m0 6v1m0 3v2m0 2v1m0 5v1m0 2v1m0 1v1m0 8v2m0 6v1m0 4v1M950.8 287v2m0 2v1m0 12v1m0 7v1m0 2v1m0 16v1m0 4v1m0 1v1m0 8v1m0 11v1m0 3v1M966.5 289v1m0 20v1M982.2 287v1m0 44v1m0 9v1m0 9v1M715.3 381v1m0 11v1m0 40v1M762.4 435v1M840.9 378v1m0 2v1m0 9v2m0 3v1m0 33v1m0 8v1m0 4v1m0 19v1m0 6v1m0 4v1m0 2v1M856.6 384v1m0 6v1m0 2v1m0 24v1m0 8v1m0 10v1m0 4v1m0 2v1m0 9v1m0 3v1m0 5v1m0 4v1M888.0 428v1m0 17v1m0 14v1m0 11v2M935.1 376v3m0 18v1m0 2v1m0 15v1M950.8 377v1m0 6v2m0 1v1m0 13v1m0 3v1m0 2v1m0 3v1m0 22v1m0 8v1M966.5 377v1m0 6v1m0 4v1m0 15v1m0 5v1m0 3v1m0 1v1m0 2v1m0 4v1m0 11v1m0 13v1m0 22v1M982.2 382v1m0 5v1m0 27v2m0 5v1m0 5v1m0 4v1m0 11v2m0 4v1m0 1v1m0 10v1m0 1v1m0 1v1m0 11v1M997.9 418v1m0 12v1M1013.6 417v1m0 2v1M715.3 494v2m0 10v1m0 10v1m0 10v1m0 6v1m0 23v1m0 6v1M778.1 535v1m0 19v1M793.8 515v1m0 55v1M840.9 566v1M856.6 509v1m0 15v1m0 28v1M872.3 493v1m0 9v1m0 4v1m0 4v1m0 18v1m0 11v2m0 12v1m0 13v1M888.0 501v1m0 8v1m0 2v1m0 2v1m0 5v1m0 3v1m0 5v2m0 2v1m0 3v2m0 1v1m0 5v1m0 2v1m0 2v1m0 14v1m0 1v1M903.7 533v1M997.9 495v2m0 1v1m0 4v1m0 1v1m0 2v1m0 9v4m0 5v1m0 3v1m0 6v1m0 1v1m0 1v2m0 2v1m0 7v1m0 2v1m0 2v1M1013.6 504v1m0 3v1m0 2v1m0 6v4m0 20v1m0 2v2m0 1v2m0 1v1m0 3v1m0 3v1M683.9 629v1M715.3 613v1m0 2v2m0 2v1m0 13v1m0 2v1m0 11v1M731.0 588v1m0 2v1m0 3v1m0 7v1m0 3v1m0 2v1m0 5v1m0 6v1m0 2v1m0 6v1M778.1 592v1m0 12v2m0 1v1m0 7v1m0 4v1m0 11v1m0 2v1M793.8 587v3m0 1v1m0 1v1m0 1v1m0 8v1m0 1v1m0 5v1m0 11v1m0 1v1m0 7v1m0 5v1m0 2v3m0 6v1M872.3 588v1m0 4v1m0 10v1m0 9v1m0 26v1M888.0 619v1m0 21v1M903.7 587v1m0 31v1m0 24v1m0 5v1M919.4 595v1m0 1v1m0 2v1m0 3v1m0 3v1m0 2v1m0 2v1m0 12v1m0 3v3m0 2v1m0 12v2m0 1v1M715.3 671v1m0 6v1m0 9v1m0 5v1m0 1v1m0 10v1m0 3v1m0 1v1M731.0 680v1M746.7 712v1M762.4 679v1M778.1 663v1m0 11v1m0 35v1M903.7 664v1m0 11v1m0 5v1m0 14v1m0 6v2m0 1v1m0 3v1m0 1v1M919.4 670v1m0 4v2m0 7v1m0 4v1m0 5v1m0 3v1m0 11v1M683.9 732v1m0 9v1m0 4v1m0 8v1m0 3v1m0 4v1m0 2v1M699.6 739v1m0 7v1m0 3v1m0 7v2m0 5v1m0 2v1M746.7 730v1m0 11v1m0 14v1M762.4 747v1m0 10v1m0 4v1M778.1 747v1M809.5 728v2m0 6v1m0 7v1m0 2v2m0 3v1m0 2v1m0 3v1m0 1v1m0 2v1m0 1v1m0 3v1M825.2 753v1m0 5v1m0 5v1M903.7 726v1m0 9v1m0 6v1m0 8v1m0 4v1m0 10v1M935.1 727v1m0 1v1m0 7v2m0 14v1m0 3v2m0 8v1m0 2v1M950.8 735v1m0 4v2m0 1v2m0 1v1m0 1v1m0 3v1m0 7v1M683.9 835v1M699.6 783v1m0 7v1m0 40v1M746.7 788v1m0 15v1m0 1v1m0 7v1m0 1v5m0 3v1m0 21v1m0 1v1m0 2v1m0 6v1m0 1v2m0 7v1M840.9 857v1M856.6 808v1m0 43v1M935.1 789v1m0 1v2m0 6v1m0 3v1m0 4v1m0 10v1m0 1v1m0 3v1m0 2v2m0 10v1m0 2v1m0 2v1m0 16v1m0 2v1M950.8 783v1m0 2v1m0 19v1m0 3v2m0 2v1m0 3v1m0 1v2m0 7v1m0 7v1m0 3v1m0 1v1m0 9v1m0 1v1m0 4v2m0 5v1M966.5 785v1m0 12v1m0 3v2m0 8v1m0 28v1m0 13v1m0 3v1m0 1v1M982.2 785v1m0 7v1m0 23v1m0 10v1m0 1v2m0 6v1m0 12v1m0 10v1M715.3 898v1m0 19v1M731.0 945v1M746.7 889v1m0 2v1m0 2v1m0 37v1M840.9 885v1m0 9v2m0 5v1m0 2v1m0 4v1m0 7v2m0 1v1m0 4v1m0 4v1m0 1v1m0 1v1m0 9v1M856.6 883v1m0 3v1m0 5v1m0 1v1m0 4v1m0 5v1m0 2v1m0 6v2m0 3v1m0 6v1m0 1v1M935.1 916v1m0 26v1M950.8 933v1m0 5v1m0 4v1M966.5 898v2m0 1v2m0 3v1m0 4v1m0 1v2m0 8v1m0 6v1m0 3v1m0 11v1M982.2 884v1m0 6v1m0 3v2m0 5v2m0 8v1m0 3v1m0 4v1m0 4v1m0 1v2m0 3v1m0 3v1m0 1v2M997.9 882v1m0 3v1m0 39v1m0 4v1m0 14v1M1013.6 911v1m0 34v1M715.3 966v1m0 1v1m0 2v1m0 9v1m0 2v1m0 3v1m0 5v1m0 3v1m0 6v1m0 7v1m0 2v1m0 2v1m0 3v1M731.0 963v1m0 8v1m0 9v1m0 5v2m0 8v1m0 6v2m0 3v2m0 14v2M778.1 958v1m0 36v1m0 7v1m0 10v1M793.8 960v1M840.9 973v1M872.3 965v1m0 15v1m0 9v1m0 18v2m0 5v1m0 4v1M888.0 957v1m0 2v1m0 9v1m0 5v1m0 2v1m0 3v1m0 6v1m0 1v2m0 16v1m0 5v2m0 8v1M966.5 962v1m0 8v1m0 38v1M982.2 976v1M997.9 971v1m0 1v1m0 1v2m0 9v2m0 5v1m0 2v1m0 10v1m0 5v1m0 4v2m0 1v1m0 3v1m0 1v1M1013.6 964v1m0 2v1m0 2v2m0 3v1m0 14v1m0 6v1m0 2v1m0 4v1m0 14v1" stroke="#ffffff" stroke-width="16.00" fill="none"/>
<path d="M683.9 98v2M715.3 53v1m0 7v1m0 3v1m0 5v1m0 2v2m0 2v1m0 3v1m0 2v1m0 6v1m0 4v1m0 11v1M731.0 51v1m0 11v1m0 14v1m0 4v1m0 9v1m0 4v2m0 3v2m0 1v1M762.4 74v1M778.1 53v1m0 1v1m0 12v1m0 3v1m0 6v1m0 19v2M793.8 60v1m0 5v1m0 9v1m0 16v1m0 1v1m0 12v2M903.7 54v1m0 2v1m0 2v1m0 8v1m0 1v1m0 8v1m0 3v1m0 4v1m0 13v1m0 4v1M919.4 66v1m0 9v1m0 1v1m0 2v2m0 1v2m0 1v2m0 6v1m0 8v1m0 1v1m0 1v1M982.2 91v1M997.9 78v1M1013.6 66v2m0 2v2m0 21v1m0 13v1M683.9 138v1m0 29v1M699.6 138v1M715.3 123v2m0 5v1m0 16v1m0 8v2m0 8v2m0 3v1m0 1v1m0 3v1M731.0 121v1m0 1v2m0 11v1m0 2v1m0 3v1m0 5v2m0 1v2m0 2v1m0 5v1m0 3v1m0 7v1M746.7 127v1m0 2v2m0 8v1m0 4v1m0 3v1m0 1v1m0 14v1m0 4v1m0 6v1M762.4 120v1m0 1v1m0 3v2m0 6v1m0 9v1m0 15v1m0 5v2m0 2v1M778.1 120v1m0 13v1m0 6v1m0 3v2m0 10v2m0 3v1m0 2v1m0 3v1m0 4v1M793.8 128v1m0 17v1m0 13v1m0 3v1m0 3v1M903.7 123v1m0 42v1m0 10v1m0 1v1M919.4 128v1m0 47v1M935.1 146v1m0 24v1M950.8 135v1m0 9v1M966.5 133v1m0 5v1m0 12v1m0 8v2m0 3v1m0 4v1m0 3v1M683.9 194v1m0 2v2m0 9v1M699.6 191v1m0 5v1m0 2v2m0 2v1m0 3v1m0 6v1m0 3v1m0 1v1m0 14v1m0 2v3m0 5v2m0 4v1m0 1v1m0 1v1m0 2v1m0 5v1m0 8v1M715.3 188v1m0 1v1m0 5v1m0 10v1m0 5v1m0 2v1m0 2v2m0 3v1m0 15v1m0 6v1m0 1v3m0 4v1m0 6v1m0 2v2M731.0 191v1m0 1v1m0 28v1m0 1v1m0 3v1m0 1v1m0 1v1m0 19v3m0 5v1m0 8v1m0 1v1M746.7 193v1m0 6v1m0 6v2m0 3v1m0 3v2m0 15v1m0 1v2m0 6v1m0 1v1m0 1v1m0 3v1m0 6v1M762.4 188v1m0 1v1m0 14v1m0 2v1m0 4v1m0 4v2m0 6v1m0 4v2m0 2v1m0 1v2m0 8v1m0 7v1m0 2v1M778.1 189v1m0 6v1m0 1v2m0 5v1m0 1v1m0 7v2m0 2v1m0 3v1m0 19v1m0 6v1m0 1v1m0 6v1m0 3v1m0 2v1M793.8 192v1m0 5v2m0 16v2m0 9v2m0 14v1m0 3v1m0 8v2M840.9 193v1m0 7v1M856.6 221v1M903.7 188v1m0 17v1M935.1 191v1m0 15v1m0 10v1m0 4v1m0 1v1m0 1v1m0 3v2m0 6v2m0 2v1m0 13v1m0 16v1M950.8 205v1m0 5v1m0 48v1m0 3v1M966.5 262v1M982.2 251v1M1013.6 230v1M715.3 307v1m0 8v2m0 32v1m0 11v1M731.0 300v1m0 41v1M746.7 293v1m0 5v1m0 7v1m0 11v1m0 3v1m0 3v1m0 6v1m0 15v1m0 1v2m0 6v1M762.4 290v2m0 5v1m0 2v1m0 4v2m0 3v1m0 1v1m0 1v1m0 5v1m0 5v1m0 12v1m0 2v1m0 1v1m0 1v1m0 2v1m0 2v1m0 10v1M778.1 361v1m0 3v1M809.5 299v1m0 3v1m0 9v1m0 6v1m0 22v1m0 2v1m0 10v1m0 5v2M825.2 290v1m0 8v1m0 10v1m0 7v2m0 2v1m0 1v1m0 5v2m0 6v1m0 2v3m0 13v1m0 1v1m0 1v2M840.9 343v1m0 12v1m0 3v1M856.6 339v1M935.1 287v1m0 6v2m0 9v1m0 4v1m0 19v1m0 3v1m0 4v1m0 6v4m0 5v1m0 2v1M950.8 289v1m0 9v1m0 24v1m0 4v1m0 1v1m0 10v1m0 11v1m0 1v1m0 8v1M966.5 304v1m0 22v1m0 4v1m0 21v1m0 1v1M982.2 286v1m0 33v1m0 7v1m0 33v1M715.3 401v1m0 2v1m0 32v1m0 17v1M731.0 382v1m0 76v1M746.7 376v1m0 47v1m0 4v1m0 18v1m0 30v1M762.4 376v1m0 1v1m0 30v1m0 4v1m0 11v1m0 20v1M778.1 476v1M793.8 398v1M809.5 387v1m0 11v1M825.2 380v1m0 68v1M840.9 385v2m0 2v2m0 4v1m0 3v2m0 3v2m0 3v1m0 1v1m0 4v7m0 1v1m0 1v1m0 4v1m0 6v1m0 1v1m0 15v1m0 1v2m0 6v1m0 8v1m0 1v1M856.6 392v1m0 5v1m0 1v1m0 1v1m0 3v1m0 3v1m0 5v1m0 16v1m0 1v2m0 9v1m0 2v3m0 3v1m0 6v1m0 6v1m0 3v1m0 8v1M950.8 386v1m0 1v1m0 3v1m0 16v1m0 4v1m0 6v1m0 26v2M966.5 386v1m0 11v1m0 5v1m0 11v1m0 1v1m0 2v1m0 11v2m0 30v1m0 4v1M982.2 377v2m0 2v1m0 5v1m0 4v1m0 1v3m0 12v1m0 11v2m0 1v3m0 5v1m0 12v1m0 7v1m0 1v1m0 22v1M997.9 400v1m0 54v1M1013.6 401v1m0 37v1m0 1v1m0 16v1m0 7v1M715.3 493v1m0 2v1m0 29v2m0 2v1m0 14v1m0 5v1m0 4v1m0 3v1m0 8v1M731.0 493v1m0 5v2m0 20v1m0 17v1m0 8v1m0 26v1M746.7 573v1M778.1 495v1m0 1v1m0 3v1m0 2v1m0 4v1m0 2v1m0 2v2m0 2v1m0 2v2m0 8v1m0 5v4m0 1v1m0 1v1m0 2v1m0 21v1M793.8 519v1m0 3v1m0 12v1m0 3v1m0 1v1m0 2v1m0 5v1m0 5v2m0 10v1M840.9 538v1m0 9v1m0 8v1m0 17v1M856.6 493v1m0 16v1m0 13v1m0 20v1m0 4v1M872.3 496v1m0 5v1m0 3v1m0 5v1m0 1v1m0 19v1m0 33v1m0 6v1M888.0 494v1m0 2v2m0 15v1m0 3v1m0 4v1m0 23v1m0 6v1m0 1v1m0 2v2m0 1v1m0 2v1m0 3v1m0 6v1M997.9 494v1m0 11v2m0 3v1m0 11v1m0 12v1m0 12v1m0 12v1M1013.6 498v3m0 2v1m0 3v1m0 6v1m0 1v2m0 6v1m0 18v1m0 8v1m0 10v1M715.3 590v2m0 3v1m0 4v1m0 3v1m0 1v4m0 2v1m0 8v2m0 6v1m0 2v2m0 16v1m0 1v1M731.0 596v1m0 4v1m0 3v1m0 3v1m0 10v1m0 7v1m0 1v1m0 6v2m0 5v1m0 2v1M778.1 593v2m0 3v1m0 2v2m0 6v1m0 2v2m0 3v1m0 7v1m0 3v1m0 20v1m0 1v1M793.8 590v1m0 11v1m0 19v1m0 6v5m0 3v1m0 13v1M840.9 594v1M872.3 589v1m0 1v1m0 7v2m0 7v1m0 2v2m0 4v1m0 10v1m0 13v1m0 8v2M888.0 602v1m0 2v2m0 38v1m0 4v1M903.7 591v1m0 29v1M919.4 587v1m0 5v1m0 5v1m0 16v1m0 5v1m0 2v1m0 15v1m0 5v1M715.3 667v1m0 9v1m0 6v1m0 4v2M746.7 677v1M762.4 664v1m0 15v1M778.1 665v1m0 14v1M903.7 673v2m0 3v1m0 4v1m0 7v1m0 2v1m0 4v1M919.4 667v1m0 1v1m0 1v1m0 2v1m0 13v1m0 2v1m0 9v1m0 5v1m0 1v2m0 2v1M950.8 693v1M683.9 733v1m0 1v1m0 26v1m0 1v1m0 4v1M699.6 738v1m0 2v1m0 3v1m0 3v1m0 3v3m0 2v1m0 11v1M746.7 727v2m0 4v1m0 9v2m0 4v1m0 8v1m0 8v1M762.4 727v1m0 1v1m0 3v1m0 1v1m0 7v1m0 4v1m0 6v2m0 2v1m0 8v2M809.5 741v2m0 8v1m0 6v1m0 1v1m0 1v1m0 2v1m0 1v1M825.2 729v1m0 2v2m0 4v1m0 5v2m0 1v1m0 2v2m0 2v1m0 6v1m0 7v1M903.7 730v1m0 9v1m0 7v1m0 2v1m0 3v1m0 3v1m0 3v1M919.4 759v1M935.1 730v1m0 12v1m0 2v2m0 8v1m0 9v1M950.8 734v1m0 31v1M683.9 792v1m0 7v1m0 28v1m0 8v1m0 5v1m0 25v1M699.6 789v1m0 3v1m0 14v1m0 4v1m0 5v1m0 15v1m0 4v1m0 18v1m0 1v1m0 1v1m0 3v1M746.7 787v1m0 6v1m0 1v1m0 2v2m0 1v1m0 4v1m0 3v1m0 9v1m0 4v1m0 9v1m0 4v1m0 2v1m0 9v1m0 8v1M840.9 783v1m0 7v1m0 26v1m0 1v1m0 18v1m0 13v2m0 11v1m0 3v1M856.6 793v1m0 6v1m0 9v1m0 27v1m0 10v1m0 9v1m0 3v1M919.4 824v1M935.1 784v1m0 11v1m0 1v1m0 10v1m0 1v1m0 2v1m0 2v2m0 11v1m0 3v1m0 3v1m0 5v1m0 12v2m0 1v1m0 3v2m0 2v2M950.8 784v1m0 9v1m0 2v1m0 5v1m0 1v1m0 2v1m0 7v1m0 5v2m0 9v1m0 8v1m0 1v1m0 3v1m0 1v1m0 7v2m0 3v1m0 4v1M966.5 809v1m0 7v1m0 10v1m0 11v1m0 19v1M982.2 784v1m0 14v1m0 33v1m0 8v1m0 5v1m0 9v1m0 6v1M715.3 920v1M840.9 882v1m0 1v1m0 1v1m0 1v2m0 1v1m0 1v2m0 5v1m0 5v1m0 6v3m0 22v1M856.6 886v1m0 1v1m0 3v1m0 11v1m0 7v1m0 10v1m0 8v2m0 3v1M888.0 889v1m0 12v1M935.1 895v1m0 23v1m0 10v1m0 3v1m0 1v1M950.8 883v1m0 2v1m0 10v2m0 17v1m0 1v1m0 7v1m0 7v1M966.5 882v1m0 1v1m0 2v3m0 2v1m0 1v1m0 1v1m0 6v1m0 5v1m0 5v1m0 2v1m0 6v1m0 2v1m0 6v2m0 4v1m0 1v1M982.2 885v1m0 2v1m0 1v1m0 3v1m0 6v1m0 2v1m0 1v1m0 2v1m0 5v1m0 4v1m0 22v1m0 2v1M997.9 941v1M1013.6 883v1M715.3 963v1m0 15v1m0 19v1m0 3v1m0 2v1m0 1v1m0 5v1m0 2v1m0 2v2M731.0 957v1m0 7v1M778.1 996v1m0 14v1M793.8 1020v1M872.3 963v1m0 6v1m0 1v1m0 6v1m0 7v2m0 4v3m0 1v2m0 2v2m0 2v1m0 2v1m0 5v2m0 3v1m0 1v1m0 5v1M888.0 967v1m0 6v1m0 2v1m0 7v2m0 1v1m0 6v1m0 3v1m0 1v1m0 3v1m0 5v1m0 10v1m0 1v1M903.7 1006v1M950.8 1025v1M966.5 957v2m0 4v1m0 8v1m0 14v1m0 17v1m0 3v1m0 2v1m0 1v1m0 12v1M982.2 961v1m0 7v1m0 14v1m0 10v1m0 3v1m0 2v1m0 5v1m0 1v1m0 6v1M997.9 957v1m0 1v4m0 5v1m0 11v3m0 6v1m0 2v1m0 6v2m0 2v2m0 3v2m0 6v1m0 7v1m0 1v1M1013.6 972v1m0 4v1m0 1v2m0 7v1m0 9v1m0 3v1m0 3v1m0 3v1m0 2v1m0 4v2m0 3v2m0 2v1" stroke="#f4e5e5" stroke-width="16.00" fill="none"/>
<path d="M683.9 53v1m0 10v1m0 3v2M715.3 52v1m0 1v2m0 8v1m0 3v1m0 1v1m0 2v1m0 2v2m0 1v3m0 16v2m0 1v1m0 1v4M731.0 55v1m0 25v1m0 6v2m0 2v1m0 4v1m0 4v1m0 6v1M778.1 60v1m0 10v1m0 5v2m0 10v1m0 12v1m0 2v1M903.7 50v2m0 3v1m0 3v1m0 5v1m0 6v1m0 1v1m0 2v2m0 7v1m0 1v1m0 1v1m0 4v1m0 1v2m0 1v1m0 5v1M919.4 50v1m0 5v1m0 3v1m0 2v1m0 1v1m0 1v2m0 1v1m0 2v1m0 5v1m0 10v1m0 1v1m0 3v1m0 2v1m0 9v2M966.5 88v1m0 9v1M982.2 108v1M997.9 57v1m0 15v2m0 6v1m0 4v1m0 21v1M1013.6 59v2m0 2v2m0 10v1m0 5v2m0 2v1m0 1v1m0 8v1m0 3v1m0 3v1M683.9 122v1m0 2v1m0 15v1m0 4v1m0 8v2m0 3v1M699.6 134v1m0 25v1m0 8v1M715.3 122v1m0 3v1m0 7v1m0 7v1m0 1v1m0 4v1m0 5v1m0 5v1m0 10v1M731.0 120v1m0 4v3m0 4v1m0 7v3m0 8v1m0 2v2m0 4v1m0 6v1m0 3v2m0 6v1M746.7 124v1m0 12v1m0 20v1m0 10v1m0 6v1M762.4 146v1m0 17v1M778.1 122v1m0 1v1m0 7v1m0 4v1m0 2v1m0 14v2m0 3v1m0 3v1m0 6v1m0 6v2M793.8 120v2m0 1v3m0 5v1m0 4v1m0 7v1m0 8v1m0 1v2m0 1v1m0 2v1m0 8v1m0 1v1M903.7 141v1m0 10v1m0 7v2m0 1v1m0 1v1m0 12v1M935.1 121v1m0 6v1m0 1v1m0 6v1m0 6v1m0 11v1m0 21v1M950.8 126v1m0 1v1m0 3v1m0 4v1m0 4v1m0 16v1m0 2v1m0 4v2M966.5 120v1m0 4v1m0 5v1m0 15v5m0 1v1m0 3v2m0 1v1m0 8v2m0 5v1M982.2 159v1M683.9 191v2m0 10v3m0 19v1m0 7v1M699.6 189v2m0 1v2m0 2v1m0 9v2m0 2v1m0 1v1m0 11v1m0 12v1m0 5v1m0 28v1M715.3 189v1m0 2v2m0 3v1m0 4v1m0 9v1m0 10v1m0 3v1m0 15v1m0 2v1m0 14v1m0 6v1m0 1v1m0 1v2m0 1v1M731.0 188v1m0 5v1m0 18v1m0 1v1m0 10v1m0 2v1m0 3v2m0 6v1m0 1v2m0 2v2m0 6v1m0 5v1M746.7 188v1m0 6v2m0 14v1m0 7v1m0 2v1m0 1v1m0 2v1m0 10v1m0 10v2m0 1v1m0 6v1m0 3v2m0 2v3m0 1v2m0 2v1M762.4 189v1m0 1v2m0 1v1m0 3v1m0 1v1m0 5v1m0 13v1m0 3v1m0 4v1m0 3v1m0 2v1m0 2v1m0 2v1m0 5v1m0 1v1m0 1v3m0 8v1m0 8v1m0 2v1M778.1 188v1m0 2v1m0 2v1m0 2v1m0 3v1m0 2v1m0 12v1m0 8v1m0 5v1m0 1v2m0 1v1m0 6v2m0 1v1m0 1v1m0 5v1m0 4v1m0 4v1m0 1v1m0 4v1M793.8 188v2m0 1v1m0 5v1m0 5v1m0 2v1m0 1v1m0 2v1m0 8v2m0 3v1m0 3v1m0 1v1m0 3v2m0 1v2m0 2v1m0 5v1m0 10v1m0 11v1m0 2v1M903.7 200v1m0 3v1M935.1 189v2m0 3v2m0 2v1m0 3v2m0 1v1m0 5v1m0 7v1m0 13v1m0 3v1m0 8v1m0 1v1m0 3v4m0 3v1m0 4v1m0 2v1m0 3v2M950.8 189v2m0 2v1m0 3v1m0 12v1m0 2v1m0 3v1m0 2v1m0 4v1m0 8v2m0 14v1m0 15v1M966.5 229v1m0 7v1m0 5v1m0 10v2M1013.6 193v1m0 25v1M683.9 315v1M715.3 294v1m0 2v1m0 16v1m0 18v1m0 15v1m0 8v1M731.0 297v2m0 11v1m0 13v1m0 13v1m0 2v1m0 14v1M746.7 289v1m0 5v1m0 6v4m0 5v1m0 1v1m0 1v1m0 17v1m0 4v1m0 2v1m0 2v1m0 14v1m0 1v1m0 2v1M762.4 289v1m0 11v1m0 11v1m0 7v1m0 2v1m0 4v2m0 14v1m0 1v1m0 6v2m0 1v1m0 1v2m0 1v1M778.1 286v1m0 2v2m0 13v1m0 6v1m0 1v1m0 1v1m0 9v1m0 1v1m0 1v1m0 13v1m0 20v1M793.8 288v1m0 2v1m0 10v1m0 1v1m0 6v1m0 35v1m0 15v1M809.5 319v1m0 17v3m0 4v1m0 3v1m0 1v1m0 14v1M825.2 301v1m0 2v1m0 18v1m0 12v2m0 2v1m0 14v1m0 8v1M840.9 345v1m0 8v1m0 6v1M856.6 335v1m0 18v1M935.1 288v1m0 8v1m0 8v1m0 8v1m0 3v1m0 36v1m0 2v1m0 1v2m0 1v1M950.8 286v1m0 8v1m0 4v1m0 4v1m0 2v1m0 27v1m0 7v1m0 1v2m0 2v3m0 2v1m0 2v1M966.5 292v1m0 22v2m0 17v2m0 3v1m0 4v1m0 17v1M982.2 288v1m0 4v2m0 4v1m0 9v1m0 20v2m0 4v1m0 6v1m0 2v1M997.9 288v1m0 43v1M1013.6 332v1M715.3 382v1m0 4v1m0 4v1m0 6v1m0 17v1m0 9v2m0 2v1m0 10v1m0 3v2m0 10v1m0 5v1m0 4v1m0 9v1m0 1v1M731.0 385v1m0 46v1m0 30v1m0 5v1m0 1v1m0 10v1M746.7 388v1m0 2v1m0 23v1m0 1v1m0 3v1m0 4v1m0 10v2m0 4v1m0 11v1m0 19v1m0 2v1M762.4 408v1m0 2v1m0 1v1m0 14v1m0 9v1M778.1 382v1m0 4v1m0 27v1m0 20v1m0 26v1M793.8 382v1m0 2v1m0 46v1m0 1v1M809.5 435v2m0 35v2M825.2 379v1m0 7v1m0 65v1m0 3v1m0 6v1m0 5v1m0 1v1M840.9 388v1m0 5v1m0 7v1m0 4v1m0 4v1m0 2v1m0 7v1m0 1v1m0 1v1m0 13v1m0 6v2m0 3v2m0 6v1m0 1v1m0 8v1m0 9v1M856.6 377v1m0 5v1m0 2v1m0 27v1m0 5v1m0 5v1m0 11v1m0 2v3m0 12v1m0 3v1m0 2v1m0 1v1m0 8v1m0 6v1M950.8 378v1m0 3v1m0 6v1M966.5 378v2m0 1v3m0 13v1m0 2v1m0 1v1m0 7v1m0 1v1m0 15v1m0 1v2M982.2 384v1m0 14v1m0 6v1m0 1v1m0 1v1m0 4v1m0 3v2m0 10v1m0 4v1M997.9 383v1m0 1v1m0 1v1m0 1v1m0 3v1m0 5v1m0 3v1m0 4v1m0 20v1m0 2v1m0 8v3m0 3v1m0 17v1M1013.6 390v1m0 1v1m0 2v1m0 7v1m0 6v1m0 2v1m0 10v1m0 19v2m0 4v2m0 13v1M715.3 500v1m0 1v1m0 7v1m0 1v2m0 1v1m0 4v1m0 1v1m0 2v1m0 5v4m0 2v1m0 1v1m0 1v1m0 2v1m0 8v1m0 1v1m0 8v1m0 2v1m0 2v1m0 2v1M731.0 497v2m0 5v1m0 4v1m0 2v1m0 3v1m0 2v1m0 2v1m0 8v1m0 1v1m0 3v1m0 2v1m0 5v1m0 4v1m0 4v1m0 7v1m0 5v2m0 1v1M746.7 519v1m0 4v1m0 9v1m0 2v1m0 7v1m0 20v1M762.4 500v1m0 4v1m0 17v1m0 4v1m0 2v1M778.1 493v1m0 5v2m0 16v1m0 2v2m0 3v1m0 5v1m0 2v1m0 2v1m0 4v1m0 3v2m0 1v1m0 1v1m0 1v1m0 5v3m0 3v1m0 3v1m0 2v3M793.8 496v1m0 5v1m0 2v2m0 11v1m0 1v3m0 2v2m0 1v4m0 3v1m0 24v1m0 2v1m0 1v2M809.5 549v1M840.9 494v1m0 5v1m0 2v1m0 15v2m0 6v1m0 7v1m0 1v1m0 5v2m0 4v1m0 3v1m0 9v1m0 7v1M856.6 498v1m0 2v1m0 13v1m0 10v1m0 4v1m0 4v1m0 4v1m0 7v1m0 8v2m0 10v1m0 1v1m0 3v1M872.3 494v1m0 25v1m0 5v1m0 38v1M888.0 495v1m0 6v1m0 2v1m0 1v1m0 17v1m0 2v1m0 8v1m0 8v1m0 19v1m0 6v1M997.9 502v1m0 25v1m0 8v1M1013.6 493v1m0 8v1m0 6v2m0 1v1m0 10v1m0 7v1m0 2v1m0 21v1M715.3 594v1m0 2v1m0 3v1m0 3v1m0 5v1m0 2v1m0 8v1m0 3v2m0 13v3m0 2v1M731.0 587v1m0 1v1m0 9v1m0 17v1m0 21v1m0 8v1m0 2v1M746.7 622v1m0 27v1M762.4 635v2m0 13v1M778.1 588v1m0 2v1m0 3v1m0 19v1m0 3v1m0 2v1m0 4v2m0 10v2m0 2v1m0 4v1M793.8 615v2m0 11v1m0 7v1M840.9 603v1m0 25v1M856.6 597v1m0 16v1M872.3 587v1m0 2v1m0 16v1m0 7v2m0 1v1m0 5v1m0 1v1m0 10v4m0 2v4m0 2v2M888.0 588v2m0 30v2m0 11v1m0 5v1m0 6v1m0 4v1M746.7 678v1m0 20v1m0 1v1M762.4 675v1m0 2v1m0 5v2m0 16v1m0 1v1m0 6v1M809.5 713v1M825.2 664v1m0 6v1m0 3v1m0 37v1M840.9 670v1M872.3 668v1M903.7 671v1m0 7v1m0 6v2m0 7v1M919.4 663v1m0 4v1m0 3v1m0 4v3m0 5v1m0 6v1m0 13v1M683.9 737v3m0 1v1m0 4v1m0 7v1m0 6v1M699.6 728v1m0 2v1m0 2v1m0 1v2m0 5v1m0 6v1m0 1v1m0 8v1m0 3v1M746.7 726v1m0 2v1m0 1v1m0 7v1m0 6v1m0 1v1m0 1v2m0 3v1m0 4v1m0 4v1M762.4 726v1m0 5v1m0 1v1m0 2v1m0 28v2M809.5 727v1m0 2v2m0 1v2m0 2v1m0 2v1m0 4v1m0 10v2M825.2 727v2m0 5v2m0 10v1m0 2v1m0 2v1m0 4v1m0 5v1m0 2v1M856.6 726v1M903.7 731v2m0 4v2m0 3v1m0 7v1m0 5v1m0 3v1m0 4v1M919.4 729v1m0 2v1m0 2v1m0 6v1m0 4v1m0 9v1m0 10v2M935.1 736v1m0 2v1M683.9 785v1m0 4v1m0 4v1m0 2v1m0 2v1m0 4v2m0 8v1m0 6v1m0 7v1m0 5v1m0 5v1m0 8v1m0 15v2M699.6 790v1m0 1v1m0 1v1m0 1v2m0 4v1m0 1v1m0 6v2m0 4v1m0 8v1m0 7v1m0 1v3m0 3v1m0 1v1m0 2v3m0 14v1m0 3v1M746.7 792v2m0 38v2m0 8v1m0 21v3m0 3v1M840.9 790v1m0 9v1m0 5v1m0 6v1m0 12v2m0 1v1m0 2v1m0 4v1m0 2v1m0 2v1m0 8v1m0 6v1m0 3v1M856.6 788v1m0 2v2m0 18v1m0 4v1m0 1v1m0 2v3m0 3v1m0 4v1m0 1v1m0 5v2m0 3v1m0 1v1m0 12v1m0 6v2M903.7 847v1M919.4 839v1M935.1 786v1m0 3v1m0 2v2m0 2v1m0 3v1m0 4v2m0 4v2m0 1v1m0 7v1m0 7v1m0 10v1m0 4v4m0 8v1m0 1v2m0 4v1M950.8 787v1m0 1v1m0 1v1m0 8v1m0 3v1m0 10v1m0 3v1m0 4v2m0 1v1m0 21v1m0 1v2m0 4v1m0 4v1m0 1v1m0 4v1M982.2 821v1M683.9 914v1m0 18v1M699.6 887v1m0 4v1M746.7 938v1M840.9 892v1m0 6v1m0 12v1M856.6 885v1m0 5v1m0 21v1m0 5v1M888.0 888v1m0 18v1m0 1v1m0 19v1m0 14v1m0 1v1M903.7 911v1M935.1 891v1m0 5v1m0 1v1m0 3v5m0 5v1m0 1v1m0 7v2m0 1v1m0 13v1m0 1v1m0 1v1m0 1v1M950.8 887v2m0 1v1m0 14v2m0 1v1m0 2v2m0 2v1m0 3v1m0 2v1m0 2v1m0 4v1m0 1v1m0 2v1m0 1v1m0 5v1M966.5 890v1m0 2v1m0 3v1m0 6v1m0 24v1m0 2v1m0 4v1m0 4v1m0 1v1M982.2 882v2m0 2v1m0 18v1m0 1v1m0 10v1m0 4v1M1013.6 914v1m0 24v1M699.6 968v1m0 1v1M715.3 959v1m0 5v1m0 7v2m0 1v1m0 15v1m0 2v1m0 11v1m0 3v1m0 3v1M731.0 961v1M778.1 970v1m0 17v1M872.3 960v1m0 6v1m0 5v3m0 2v1m0 1v1m0 5v1m0 9v1m0 2v1m0 3v1m0 8v1M888.0 958v2m0 8v2m0 1v2m0 2v1m0 24v1m0 1v1M903.7 998v1m0 5v1m0 10v1m0 5v1M919.4 968v1m0 7v1m0 21v1M935.1 975v1m0 18v1m0 1v1m0 2v1m0 10v1m0 11v1m0 4v1M950.8 1010v1M966.5 961v1m0 3v1m0 2v1m0 4v1m0 9v1m0 2v1m0 2v2m0 1v1m0 4v1m0 18v1m0 5v2m0 1v2M982.2 958v1m0 6v2m0 7v1m0 3v2m0 3v1m0 1v1m0 3v1m0 13v1m0 1v1m0 7v1m0 2v1m0 5v1M997.9 963v3m0 6v1m0 15v1m0 9v1m0 7v1m0 16v1M1013.6 962v1m0 30v1m0 14v1m0 6v1m0 5v2" stroke="#eacacc" stroke-width="16.00" fill="none"/>
<path d="M683.9 59v1m0 1v1m0 3v1m0 8v1m0 2v1m0 1v3m0 1v1m0 2v1m0 1v1m0 12v1m0 3v1m0 1v1M699.6 56v1m0 29v1M715.3 51v1m0 6v1m0 13v1m0 13v1m0 1v1m0 5v1m0 1v1m0 11v1M731.0 53v1m0 6v1m0 1v1m0 10v1m0 1v1m0 3v1m0 20v1m0 6v1M778.1 65v1m0 4v1m0 9v1m0 5v1m0 7v2m0 12v1M903.7 52v1m0 3v1m0 4v1m0 1v1m0 6v1m0 2v1m0 7v1m0 1v1m0 7v1m0 1v2m0 4v1m0 5v1M919.4 51v2m0 2v1m0 1v1m0 16v1m0 18v1m0 4v1m0 4v1M935.1 50v1m0 10v1m0 3v1m0 6v1m0 2v1m0 9v1m0 4v1m0 8v1M950.8 104v1M966.5 52v2m0 14v1m0 7v1m0 3v1m0 2v2m0 1v1m0 6v1m0 7v1m0 5v1m0 2v1M982.2 51v1m0 7v1m0 3v2m0 15v2m0 6v1m0 10v1m0 6v1M997.9 58v2m0 2v3m0 7v1m0 6v1m0 7v1m0 1v2m0 5v1m0 2v3M1013.6 50v1m0 3v3m0 1v1m0 9v1m0 3v1m0 1v1m0 1v2m0 2v1m0 7v5m0 2v1m0 3v1m0 1v1m0 3v2m0 1v1M683.9 120v1m0 5v1m0 4v1m0 4v1m0 16v1m0 16v1m0 2v2m0 3v1M699.6 133v1m0 6v1m0 4v1m0 1v1m0 10v1m0 2v1m0 2v1m0 1v1m0 4v1M715.3 121v1m0 17v2m0 2v1m0 4v1m0 2v1m0 11v3m0 4v1m0 3v2M731.0 131v1m0 1v2m0 11v1m0 1v1m0 8v1m0 3v1m0 3v1m0 3v1m0 3v1m0 1v1M746.7 128v1m0 41v1M762.4 130v1M778.1 123v1m0 4v1m0 1v2m0 1v1m0 15v1m0 2v1m0 1v1m0 4v1m0 7v2m0 6v1m0 1v1M793.8 138v1m0 1v1m0 6v1m0 11v1m0 6v1m0 6v2M903.7 156v1M935.1 122v1m0 2v1m0 1v1m0 4v1m0 1v1m0 7v1m0 9v1m0 1v1m0 2v1m0 3v1m0 5v1m0 1v2m0 4v1M950.8 124v1m0 5v2m0 1v2m0 15v2m0 1v3m0 9v1m0 3v1m0 3v1M966.5 127v1m0 1v2m0 1v1m0 1v1m0 1v2m0 2v2m0 1v2m0 9v2m0 8v1m0 3v1M982.2 138v2m0 6v1m0 13v1m0 2v1m0 1v1m0 6v1m0 5v1M1013.6 132v1m0 6v2m0 7v1m0 1v1M683.9 193v1m0 28v2m0 11v1M699.6 199v1m0 2v1m0 8v1m0 14v1m0 5v1m0 1v1m0 35v1M715.3 191v1m0 3v1m0 8v1m0 4v1m0 11v1m0 3v1m0 3v5m0 1v1m0 1v1m0 1v1m0 5v1m0 2v1m0 3v1m0 1v2m0 1v1M731.0 201v1m0 9v1m0 2v1m0 1v3m0 2v1m0 3v1m0 5v1m0 4v1m0 1v1m0 1v1m0 8v1m0 8v1m0 13v1M746.7 189v1m0 15v1m0 7v2m0 6v1m0 9v1m0 7v1m0 8v1m0 6v1m0 5v2m0 7v1m0 2v1M762.4 193v1m0 1v1m0 3v1m0 9v1m0 4v1m0 1v1m0 6v1m0 6v1m0 13v2m0 10v2m0 3v1M778.1 195v1m0 4v1m0 1v2m0 4v1m0 1v3m0 11v1m0 3v1m0 1v1m0 8v1m0 1v1m0 6v1m0 4v1m0 10v1m0 8v2M793.8 190v1m0 2v1m0 7v1m0 7v2m0 3v1m0 3v1m0 3v1m0 10v1m0 6v1m0 4v2m0 3v2m0 8v1m0 4v1M935.1 188v1m0 3v1m0 4v1m0 2v2m0 4v1m0 1v3m0 2v1m0 10v1m0 3v2m0 4v2m0 6v1m0 4v1m0 3v1m0 4v1m0 3v2m0 1v1m0 6v1M950.8 188v1m0 3v1m0 1v1m0 3v1m0 2v1m0 6v1m0 3v1m0 3v1m0 2v1m0 1v1m0 1v1m0 2v1m0 3v1m0 1v2m0 2v2m0 11v1m0 9v1m0 8v1M966.5 198v1m0 13v1m0 1v1m0 12v1m0 7v1m0 3v1m0 5v1m0 1v1m0 19v1m0 4v1M982.2 201v1m0 40v1m0 20v1m0 8v1M997.9 217v1m0 30v1M1013.6 202v1m0 24v1m0 18v1m0 4v2m0 1v1m0 20v1M715.3 287v1m0 7v1m0 2v1m0 1v1m0 10v2m0 6v1m0 4v1m0 4v1m0 2v1m0 8v1m0 4v2m0 5v2m0 4v2M731.0 286v1m0 3v2m0 4v1m0 4v1m0 3v1m0 8v2m0 4v1m0 1v1m0 5v2m0 10v1m0 4v1m0 1v1m0 12v1m0 3v1M746.7 286v1m0 1v1m0 1v1m0 5v1m0 9v1m0 1v1m0 9v1m0 2v1m0 3v1m0 5v2m0 4v1m0 1v1m0 3v1m0 2v4m0 4v1M762.4 286v1m0 1v1m0 4v1m0 1v1m0 2v1m0 8v3m0 7v2m0 3v1m0 4v2m0 7v2m0 3v1m0 6v1m0 1v1m0 5v1m0 4v1M778.1 287v1m0 6v1m0 3v1m0 1v2m0 1v1m0 6v1m0 7v1m0 1v1m0 1v2m0 8v1m0 1v1m0 4v1m0 4v1m0 1v1m0 7v1m0 1v1m0 1v1m0 1v1m0 1v1M793.8 290v1m0 2v1m0 1v1m0 4v1m0 6v2m0 3v2m0 2v1m0 6v1m0 2v1m0 2v2m0 1v1m0 5v1m0 4v1m0 1v2m0 2v1m0 4v1m0 10v1M809.5 301v1m0 19v1m0 10v1m0 16v1m0 1v1m0 7v2M825.2 334v1m0 14v1m0 2v1m0 1v1m0 5v1m0 2v1M840.9 365v1M856.6 333v1m0 15v1m0 9v1M935.1 286v1m0 12v1m0 20v1m0 4v1M950.8 290v1m0 2v1m0 3v2m0 3v2m0 2v1m0 3v1m0 3v1m0 1v1m0 1v3m0 1v1m0 2v3m0 2v1m0 18v1M966.5 286v1m0 4v1m0 2v1m0 1v1m0 3v2m0 4v1m0 4v1m0 7v1m0 4v1m0 6v1m0 5v1m0 3v2m0 3v1m0 3v2m0 3v1m0 7v1m0 1v1M982.2 296v2m0 3v1m0 6v1m0 1v1m0 1v1m0 1v2m0 1v1m0 5v1m0 1v1m0 12v1m0 1v2m0 2v2m0 1v1m0 1v1m0 1v1m0 2v1m0 6v1m0 3v1M997.9 308v1m0 24v1m0 2v1m0 18v1m0 1v1M1013.6 304v1m0 4v1m0 1v1m0 8v1m0 12v1m0 8v1m0 13v1M715.3 377v1m0 5v1m0 7v1m0 15v1m0 4v1m0 3v1m0 2v1m0 2v1m0 7v1m0 4v1m0 5v1m0 6v1m0 3v2m0 2v1m0 4v2m0 7v1m0 4v3M731.0 401v2m0 13v1m0 3v1m0 18v1m0 3v1m0 11v2m0 1v1m0 14v1m0 2v1m0 2v1M746.7 377v2m0 2v1m0 2v1m0 2v1m0 5v2m0 3v1m0 2v2m0 7v1m0 1v1m0 3v1m0 3v1m0 2v1m0 3v2m0 10v4m0 2v2m0 6v2m0 1v2m0 1v1m0 9v1m0 1v1m0 4v1M762.4 392v1m0 9v1m0 2v1m0 21v1m0 1v1m0 20v1m0 5v1m0 17v1m0 5v1m0 1v1M778.1 378v1m0 6v1m0 5v1m0 2v2m0 9v2m0 10v2m0 2v2m0 1v1m0 1v1m0 7v1m0 2v3m0 7v1m0 2v1m0 3v1m0 1v1m0 15v1m0 1v1m0 3v1m0 2v1M793.8 377v1m0 33v1m0 11v2m0 2v1m0 10v1m0 6v1m0 18v1m0 13v1m0 1v1M809.5 378v1m0 7v1m0 6v1m0 2v1m0 4v1m0 14v1m0 3v1m0 6v1m0 5v1m0 9v1m0 3v1m0 9v1m0 13v1m0 4v1m0 2v1M825.2 384v1m0 3v1m0 6v1m0 26v2m0 3v1m0 1v1m0 8v1m0 7v1m0 13v1m0 1v1m0 11v1M840.9 380v1m0 12v1m0 7v1m0 4v1m0 1v1m0 1v1m0 17v2m0 2v1m0 4v1m0 7v2m0 4v1m0 3v1m0 6v1m0 2v1m0 3v2m0 2v1m0 4v1m0 1v1M856.6 387v1m0 20v1m0 2v1m0 1v1m0 7v1m0 2v1m0 2v1m0 1v1m0 1v1m0 2v1m0 5v1m0 4v1m0 6v2m0 4v1m0 9v1m0 1v1m0 6v1m0 1v1M950.8 379v1M966.5 376v1m0 13v1m0 18v1m0 22v1M982.2 376v1m0 3v1m0 2v1m0 5v1m0 1v1m0 5v2m0 13v2m0 4v1m0 37v1m0 5v1M997.9 378v1m0 7v1m0 3v1m0 18v1m0 1v1m0 7v1m0 1v2m0 4v1m0 6v1m0 1v1m0 3v1m0 3v1m0 3v1m0 3v1m0 4v1m0 2v1m0 1v3m0 3v1m0 2v1m0 2v1m0 4v1m0 1v1M1013.6 382v1m0 5v1m0 5v1m0 5v1m0 3v1m0 2v1m0 8v1m0 2v1m0 2v2m0 2v2m0 20v1m0 7v1m0 3v1m0 6v1m0 2v1m0 5v1m0 2v1m0 2v1M715.3 498v2m0 1v1m0 1v2m0 2v1m0 8v1m0 2v1m0 1v1m0 16v1m0 1v1m0 1v1m0 4v1m0 1v2m0 1v1m0 5v1m0 3v2m0 1v1m0 6v1m0 3v1M731.0 495v1m0 5v1m0 5v1m0 5v1m0 1v1m0 7v2m0 7v1m0 14v1m0 4v1m0 5v1M746.7 502v1m0 3v1m0 1v2m0 8v1m0 9v1m0 2v1m0 4v1m0 20v1m0 12v1m0 4v2M762.4 511v1m0 5v1m0 2v1m0 8v1m0 9v1m0 25v1m0 1v1m0 5v1M778.1 496v1m0 1v1m0 4v1m0 1v1m0 5v1m0 6v1m0 5v1m0 5v1m0 2v1m0 18v1m0 1v1m0 1v1m0 6v1m0 3v2m0 6v1M793.8 495v1m0 1v1m0 3v1m0 7v1m0 2v1m0 1v1m0 2v1m0 6v1m0 7v1m0 8v1m0 1v1m0 4v1m0 1v1m0 1v1m0 1v3m0 2v1m0 14v1M809.5 539v1m0 14v1m0 13v1m0 5v1M825.2 540v1m0 19v1M840.9 498v1m0 2v1m0 3v2m0 1v1m0 3v2m0 4v1m0 2v1m0 1v1m0 8v1m0 1v1m0 7v1m0 3v1m0 5v1m0 1v1m0 3v1m0 5v1m0 8v1M856.6 495v3m0 2v1m0 1v2m0 1v2m0 4v2m0 3v1m0 1v2m0 10v1m0 3v1m0 2v1m0 2v1m0 3v1m0 2v2m0 2v1m0 4v1m0 3v2m0 5v1m0 3v1m0 3v1M888.0 499v1m0 30v1m0 32v1m0 3v1M997.9 497v1m0 32v1m0 8v1M1013.6 495v1m0 9v1m0 22v1m0 7v1M715.3 588v1m0 3v1m0 6v1m0 2v1m0 7v1m0 13v1m0 1v1m0 8v1m0 2v2m0 1v1m0 6v1M731.0 615v1m0 13v1m0 10v1M746.7 595v1m0 4v1m0 1v1m0 1v2m0 25v1m0 11v2m0 2v1M762.4 588v1m0 3v1m0 3v1m0 50v1M778.1 596v1m0 3v1m0 6v1m0 12v1m0 2v1m0 2v1m0 3v2m0 2v1m0 3v1M793.8 635v1M825.2 609v1M840.9 590v1m0 8v1m0 21v1m0 3v1m0 4v2m0 3v1m0 5v1m0 8v1M856.6 587v1m0 11v1m0 13v1m0 19v1m0 1v1m0 11v1m0 1v1m0 2v1M872.3 592v1m0 1v1m0 1v2m0 5v1m0 1v2m0 2v2m0 2v1m0 7v3m0 5v5m0 1v1m0 11v1M888.0 590v2m0 2v2m0 2v4m0 6v1m0 2v1m0 3v1m0 11v1m0 4v1m0 3v1m0 3v1m0 2v2m0 2v2M919.4 607v1M746.7 665v1m0 2v1m0 2v2m0 17v1m0 3v3m0 10v1M762.4 663v1m0 2v1m0 1v1m0 3v1m0 3v1m0 6v1m0 5v2m0 6v1m0 1v1m0 12v1M809.5 668v1m0 11v1m0 1v1m0 7v1m0 8v1M825.2 667v1m0 24v1m0 16v1M872.3 667v1m0 21v1M888.0 710v1M903.7 663v1m0 17v1m0 10v1M919.4 664v1m0 1v1m0 6v1m0 6v1m0 1v1m0 7v1m0 7v1m0 3v1m0 1v2M683.9 744v1m0 4v1m0 1v1m0 14v1M699.6 740v1m0 1v1m0 14v1m0 6v1M746.7 732v1m0 3v3m0 2v1m0 3v1m0 1v1m0 4v2m0 5v1m0 1v4m0 1v1m0 2v1M762.4 742v1m0 1v1m0 1v1m0 2v1m0 1v2M809.5 732v1M825.2 726v1m0 9v1m0 5v1m0 5v1m0 9v1m0 9v1M840.9 726v1M856.6 727v1M888.0 753v1M903.7 749v1m0 8v1m0 5v1m0 1v1M919.4 730v2m0 4v1m0 3v2m0 1v1m0 5v2m0 4v1m0 4v1m0 2v1m0 3v1M950.8 733v1m0 36v1M683.9 786v1m0 7v1m0 4v1m0 9v2m0 1v2m0 5v2m0 4v1m0 2v1m0 1v1m0 1v1m0 3v1m0 4v1m0 4v1m0 2v1m0 1v1m0 1v1m0 1v1m0 5v3M699.6 786v3m0 10v1m0 3v1m0 3v1m0 6v1m0 5v1m0 2v2m0 4v3m0 7v1m0 5v1m0 9v1m0 4v1M746.7 803v1m0 23v1m0 28v1M840.9 786v3m0 3v2m0 2v1m0 1v1m0 2v1m0 1v1m0 5v2m0 1v1m0 2v1m0 1v1m0 3v1m0 1v1m0 6v1m0 5v1m0 4v2m0 4v1m0 8v1m0 10v1M856.6 783v2m0 9v1m0 8v1m0 10v1m0 5v1m0 3v2m0 3v3m0 1v1m0 2v2m0 6v1m0 3v1m0 4v1m0 3v1m0 4v1m0 1v2m0 3v2M872.3 850v1M903.7 783v1m0 11v1m0 8v1m0 13v1m0 8v1m0 3v1m0 6v1m0 5v1m0 7v1m0 6v1m0 8v1M919.4 786v1m0 4v1m0 15v1m0 8v1m0 41v1m0 4v1M935.1 785v1m0 1v2m0 6v1m0 4v1m0 1v1m0 1v1m0 11v1m0 3v1m0 1v1m0 4v1m0 8v2m0 7v1m0 6v1m0 1v1M950.8 785v1m0 2v1m0 3v2m0 1v1m0 3v1m0 1v1m0 10v1m0 4v1m0 8v1m0 3v3m0 1v1m0 1v1m0 1v3m0 5v1m0 7v1m0 1v1M683.9 892v1m0 2v1m0 4v2m0 7v1m0 6v1m0 9v1m0 5v1m0 5v1m0 7v1M699.6 885v1m0 16v1m0 1v1m0 3v1m0 3v1m0 25v1m0 7v1M840.9 890v1m0 12v1M856.6 889v1m0 8v1m0 2v1m0 20v1m0 4v1M872.3 884v1m0 4v1m0 8v1m0 6v1m0 12v1m0 7v2m0 4v1M888.0 884v1m0 14v1m0 10v1m0 7v2m0 1v1m0 4v1m0 14v1m0 3v1M903.7 903v1m0 3v1m0 30v1m0 1v2m0 3v1M919.4 884v1m0 2v2m0 14v2m0 1v1m0 3v1m0 2v1m0 25v1m0 2v1M935.1 882v1m0 2v3m0 2v1m0 1v3m0 5v1m0 7v2m0 1v2m0 4v2m0 1v1m0 8v1m0 3v1m0 4v1M950.8 882v1m0 1v1m0 4v1m0 1v1m0 4v1m0 2v3m0 1v1m0 3v1m0 6v1m0 2v1m0 3v1m0 2v1m0 2v2m0 7v1m0 5v1m0 3v1M966.5 886v1m0 4v1m0 3v1m0 11v1m0 2v1m0 5v1m0 2v1m0 1v2m0 3v2m0 11v2M982.2 889v1m0 9v1m0 14v1m0 10v1m0 4v3m0 2v1M683.9 967v1M872.3 958v1m0 10v1m0 1v1m0 10v1m0 2v1m0 4v1m0 9v1m0 6v1m0 10v1M888.0 961v1m0 1v4m0 6v1m0 4v1M903.7 959v1m0 2v1m0 2v2m0 4v1m0 1v1m0 3v1m0 3v1m0 2v1m0 7v1m0 4v1m0 4v1m0 2v1m0 4v2M919.4 961v1m0 9v1m0 9v1m0 4v1m0 10v1m0 2v1m0 7v1m0 14v1M935.1 958v2m0 5v1m0 3v1m0 7v1m0 2v1m0 8v1m0 22v1m0 1v1m0 1v1m0 4v1m0 2v1M950.8 965v1m0 1v1m0 15v1m0 13v1m0 22v1M966.5 960v1m0 3v1m0 1v1m0 2v2m0 7v1m0 1v1m0 3v1m0 6v1m0 11v1m0 2v1m0 10v1m0 1v1m0 1v1m0 2v1M982.2 968v1m0 1v2m0 1v1m0 1v1m0 4v1m0 7v1m0 1v1m0 6v1m0 6v1m0 4v1m0 5v1m0 2v1m0 1v2m0 2v1m0 1v1M997.9 977v1m0 24v1m0 8v1m0 2v1m0 7v1M1013.6 984v1m0 7v1m0 3v1m0 19v1" stroke="#dfb0b2" stroke-width="16.00" fill="none"/>
<path d="M683.9 50v3m0 1v2m0 1v1m0 2v1m0 1v1m0 4v1m0 3v2m0 5v1m0 3v1m0 1v1m0 4v2m0 4v3m0 2v1m0 7v2M699.6 50v1m0 8v1m0 2v1m0 11v1m0 2v1m0 16v1M715.3 59v1m0 3v1m0 3v1m0 19v1M731.0 72v1m0 28v1M903.7 79v1m0 7v1m0 14v1m0 6v1M919.4 54v1m0 3v1m0 2v2m0 9v1m0 13v1m0 15v1M935.1 51v2m0 4v1m0 5v1m0 2v4m0 1v1m0 2v1m0 4v1m0 1v1m0 7v1m0 1v1m0 4v2m0 5v2m0 3v1M950.8 69v1m0 16v1m0 4v1m0 2v1m0 12v1M966.5 51v1m0 6v1m0 1v3m0 2v1m0 8v1m0 7v1m0 4v1m0 1v2m0 11v3m0 1v1m0 1v1M982.2 50v1m0 2v1m0 2v2m0 3v1m0 6v3m0 6v1m0 1v1m0 3v2m0 2v1m0 1v1m0 8v1m0 4v2M997.9 53v1m0 2v1m0 3v2m0 7v2m0 9v1m0 2v2m0 3v1m0 2v1m0 1v1m0 4v1m0 4v3m0 1v1m0 2v1M1013.6 57v1m0 3v2m0 2v1m0 13v1m0 4v1m0 9v1m0 8v1m0 6v1M683.9 121v1m0 1v1m0 3v4m0 1v3m0 5v1m0 1v4m0 3v2m0 3v1m0 7v1m0 1v2m0 3v1m0 2v1m0 2v1m0 3v1M699.6 127v1m0 3v2m0 6v1m0 2v1m0 1v1m0 3v1m0 4v2m0 2v1m0 7v1m0 1v2m0 4v1m0 4v1M715.3 125v1m0 1v2m0 3v2m0 1v2m0 1v1m0 6v1m0 4v1m0 2v1m0 6v1m0 1v1m0 13v1m0 1v2M731.0 158v1m0 9v1m0 8v1M746.7 135v1m0 12v1m0 4v1m0 10v1m0 2v1M778.1 127v1m0 8v1m0 1v2m0 4v1m0 8v1M903.7 169v1M935.1 123v2m0 6v1m0 3v1m0 2v1m0 11v1m0 4v1m0 3v1m0 2v1m0 1v2m0 7v2m0 1v2M950.8 121v1m0 1v1m0 3v1m0 10v2m0 4v1m0 1v1m0 2v1m0 2v1m0 3v1m0 3v1m0 2v1m0 6v2m0 3v2m0 1v1M966.5 123v1m0 4v1m0 13v1m0 13v1m0 2v1m0 3v1m0 3v1m0 10v1M982.2 120v1m0 5v1m0 3v1m0 1v1m0 4v1m0 3v2m0 7v1m0 2v2m0 15v1m0 3v1M997.9 133v1m0 9v1m0 12v1M1013.6 126v2m0 3v1m0 3v1m0 2v1m0 6v1m0 3v1m0 2v1m0 1v3m0 3v1m0 5v1m0 8v1M683.9 195v1m0 3v1M699.6 195v1m0 13v1m0 18v1m0 4v1m0 1v1M715.3 198v1m0 2v1m0 4v1m0 1v1m0 2v1m0 6v1m0 9v1m0 12v1m0 11v1m0 6v1m0 13v1M731.0 190v1m0 1v1m0 2v1m0 1v1m0 1v1m0 6v1m0 2v1m0 2v1m0 7v1m0 2v1m0 22v1m0 3v2m0 5v1m0 1v1m0 3v3m0 1v2m0 1v1m0 2v2M746.7 202v1m0 22v1m0 20v1M762.4 221v1m0 40v1m0 1v1m0 4v1M778.1 193v1m0 12v1m0 2v1m0 11v1m0 11v1m0 2v1m0 14v1m0 5v2m0 3v1m0 6v3M793.8 196v1m0 3v1m0 3v1m0 14v1m0 3v1m0 2v1m0 34v1m0 4v3m0 3v1m0 2v1M935.1 199v1m0 16v2m0 2v1m0 1v1m0 18v1m0 7v2m0 7v1m0 7v1m0 1v2m0 3v1M950.8 196v1m0 2v1m0 2v1m0 1v1m0 1v2m0 20v1m0 12v1m0 2v1m0 3v1m0 4v2m0 1v1m0 1v1m0 2v3m0 1v1m0 8v1M966.5 188v1m0 1v2m0 1v1m0 2v2m0 2v1m0 9v1m0 2v1m0 6v2m0 2v2m0 2v1m0 2v3m0 2v1m0 5v1m0 1v1m0 1v1m0 4v1m0 5v2m0 4v1m0 7v1M982.2 189v1m0 6v1m0 2v1m0 17v1m0 5v1m0 7v1m0 8v1m0 5v1m0 1v1m0 3v1M997.9 190v1m0 7v1m0 33v1m0 4v3m0 3v1m0 6v1m0 7v1m0 5v1M1013.6 199v1m0 9v1m0 1v1m0 1v1m0 2v1m0 3v2m0 4v1m0 6v1m0 5v1m0 5v1m0 13v1m0 3v2M715.3 290v2m0 7v1m0 3v1m0 1v2m0 6v1m0 6v1m0 4v1m0 8v1m0 2v1m0 6v2m0 6v1m0 11v2M731.0 287v1m0 1v1m0 2v2m0 5v1m0 2v2m0 4v1m0 7v3m0 2v1m0 8v1m0 2v1m0 10v1m0 1v1m0 1v3m0 1v1m0 1v2m0 2v1m0 6v1M746.7 309v1m0 6v1m0 3v1m0 3v1m0 1v1m0 1v2m0 5v1m0 4v1m0 1v1m0 8v1m0 11v1m0 1v1M762.4 292v1m0 1v1m0 1v1m0 2v1m0 15v1m0 9v1m0 6v1m0 1v2m0 2v1m0 12v1m0 1v1m0 11v1M778.1 291v2m0 3v1m0 5v1m0 3v1m0 2v1m0 2v1m0 6v1m0 6v1m0 1v1m0 2v1m0 1v1m0 3v1m0 2v3m0 4v2m0 1v2m0 3v1m0 3v1m0 3v1M793.8 286v1m0 5v1m0 3v1m0 4v1m0 1v1m0 1v2m0 13v1m0 3v1m0 2v1m0 3v1m0 2v2m0 4v2m0 2v1m0 3v1m0 2v3m0 3v3m0 1v1m0 2v1M809.5 325v1m0 32v1M825.2 344v1m0 1v1m0 11v1M935.1 321v2m0 19v1M950.8 292v1m0 1v1m0 1v1m0 4v1m0 9v1m0 11v1m0 11v1m0 5v1m0 11v1m0 3v1m0 1v1m0 1v1M966.5 287v2m0 10v1m0 2v1m0 6v1m0 7v2m0 4v1m0 2v1m0 1v1m0 1v1m0 2v1m0 4v1m0 1v1m0 4v1m0 2v2m0 3v1m0 3v1m0 1v2m0 3v1M982.2 289v2m0 7v1m0 7v1m0 6v1m0 5v1m0 1v1m0 2v1m0 1v1m0 6v2m0 2v1m0 1v1m0 8v1m0 4v1m0 2v1m0 2v2M997.9 289v2m0 1v1m0 1v2m0 1v1m0 1v1m0 4v3m0 11v1m0 4v2m0 1v1m0 2v1m0 1v1m0 3v1m0 1v1m0 16v1m0 1v1m0 7v1M1013.6 289v1m0 9v1m0 3v1m0 2v1m0 1v1m0 3v1m0 2v1m0 1v1m0 11v2m0 3v1m0 1v1m0 4v1m0 3v1m0 1v2m0 5v1M715.3 378v3m0 4v2m0 3v1m0 3v1m0 1v1m0 8v1m0 3v1m0 3v3m0 5v1m0 2v2m0 3v1m0 6v1m0 1v3m0 9v2m0 11v1m0 1v2m0 5v1m0 1v1m0 3v1m0 3v1M731.0 376v1m0 2v2m0 3v1m0 1v2m0 9v4m0 9v2m0 2v1m0 3v1m0 3v1m0 1v2m0 3v1m0 1v1m0 2v1m0 2v1m0 4v1m0 1v1m0 2v2m0 4v1m0 10v1m0 2v1m0 7v1m0 4v2M746.7 379v2m0 2v1m0 2v1m0 2v2m0 4v2m0 3v1m0 2v1m0 1v3m0 1v1m0 1v1m0 7v1m0 2v1m0 2v1m0 4v3m0 3v1m0 13v2m0 9v1m0 1v1m0 1v2m0 1v1m0 1v1m0 3v1m0 2v1m0 2v3M762.4 379v1m0 1v2m0 2v1m0 3v1m0 9v1m0 3v1m0 17v1m0 1v1m0 10v1m0 1v1m0 2v1m0 1v1m0 2v1m0 7v4m0 2v1m0 2v3m0 2v1m0 1v1m0 3v1m0 6v1M778.1 377v1m0 3v1m0 6v1m0 1v1m0 6v3m0 1v1m0 6v1m0 3v3m0 5v1m0 2v1m0 1v1m0 1v1m0 2v1m0 1v2m0 7v1m0 1v1m0 1v2m0 5v1m0 7v3m0 2v3m0 2v1m0 6v1m0 2v1m0 1v1M793.8 383v1m0 7v1m0 2v1m0 1v1m0 2v1m0 4v4m0 1v1m0 4v1m0 1v1m0 9v1m0 1v2m0 1v1m0 10v1m0 1v1m0 3v1m0 1v1m0 7v1m0 1v1m0 1v1m0 2v1m0 1v1m0 2v2m0 4v2m0 4v1M809.5 379v1m0 1v1m0 2v2m0 12v1m0 5v1m0 7v1m0 8v2m0 1v2m0 2v1m0 2v1m0 7v1m0 2v1m0 1v2m0 3v1m0 3v2m0 5v2m0 1v1m0 6v1m0 10v1M825.2 391v1m0 6v3m0 3v1m0 5v1m0 5v1m0 18v1m0 3v1m0 3v1m0 3v2m0 5v1m0 3v1m0 2v1m0 5v1m0 8v1m0 5v1M840.9 379v1m0 33v1m0 22v1m0 20v1m0 10v1m0 12v1M856.6 376v1m0 5v1m0 2v1m0 2v3m0 4v1m0 1v1m0 5v3m0 3v1m0 5v1m0 2v1m0 4v1m0 24v1m0 15v1m0 10v1M950.8 381v1m0 22v1M966.5 394v1m0 4v1m0 22v1M982.2 379v1m0 10v1m0 2v1m0 8v1m0 1v1m0 2v1M997.9 376v2m0 1v2m0 1v1m0 5v1m0 2v2m0 4v2m0 5v2m0 4v1m0 1v1m0 1v2m0 4v1m0 5v1m0 8v1m0 1v1m0 7v1m0 3v3m0 14v2m0 1v2m0 1v1m0 9v1M1013.6 379v1m0 3v1m0 1v1m0 1v1m0 3v1m0 4v2m0 4v1m0 2v1m0 6v1m0 2v1m0 13v1m0 1v2m0 2v2m0 9v2m0 4v2m0 1v1m0 5v4m0 8v1m0 1v1M715.3 497v1m0 10v2m0 1v1m0 2v1m0 9v1m0 18v1m0 4v1m0 5v1m0 6v1m0 9v1m0 3v1M731.0 503v1m0 1v1m0 2v1m0 1v1m0 3v1m0 2v2m0 7v1m0 2v2m0 3v3m0 1v1m0 2v1m0 1v3m0 7v1m0 1v1m0 3v1m0 1v3m0 3v2m0 5v1M746.7 500v1m0 9v1m0 2v2m0 7v1m0 4v1m0 4v2m0 6v1m0 5v1m0 5v1m0 3v1m0 1v3m0 7v2m0 1v1M762.4 493v2m0 3v1m0 5v1m0 1v1m0 5v3m0 9v1m0 8v1m0 1v1m0 1v2m0 5v1m0 1v2m0 3v1m0 3v1m0 7v2m0 5v1M778.1 494v1m0 7v1m0 4v2m0 4v1m0 12v1m0 1v1m0 21v1m0 6v2m0 3v1m0 1v1m0 1v1m0 4v1m0 4v1M793.8 493v1m0 4v1m0 1v1m0 3v1m0 2v1m0 3v1m0 1v1m0 2v1m0 10v1m0 6v1m0 2v1m0 6v1m0 1v2m0 13v2m0 1v1m0 8v1M809.5 493v1m0 10v1m0 10v1m0 1v1m0 24v2m0 1v1m0 4v2m0 6v1m0 2v1m0 1v1m0 5v1M825.2 494v1m0 5v1m0 7v2m0 3v1m0 11v1m0 26v1m0 10v1m0 4v1M840.9 493v1m0 1v2m0 2v1m0 4v1m0 5v1m0 5v1m0 5v1m0 2v1m0 3v1m0 1v1m0 1v1m0 5v2m0 6v1m0 17v1m0 1v1m0 1v1m0 2v1m0 3v1M856.6 499v1m0 4v1m0 8v2m0 2v1m0 3v2m0 4v3m0 8v2m0 12v1m0 11v1m0 3v2M872.3 561v1m0 9v1M888.0 568v1m0 6v1M1013.6 494v1m0 30v1M715.3 587v1m0 5v1m0 4v1M731.0 604v1m0 40v1M746.7 587v1m0 1v1m0 3v2m0 8v1m0 2v2m0 2v1m0 2v1m0 1v5m0 6v2m0 8v1m0 2v1m0 1v2m0 2v1m0 5v1M762.4 590v2m0 1v1m0 1v1m0 5v1m0 5v2m0 2v1m0 3v1m0 1v2m0 1v1m0 1v2m0 2v1m0 1v3m0 1v1m0 6v1m0 8v1m0 2v1M778.1 587v1m0 9v1m0 16v1m0 3v1m0 13v1m0 8v1m0 5v1m0 1v1M793.8 608v1M809.5 598v1m0 31v1m0 10v1m0 4v1M825.2 601v1m0 29v1m0 4v2M840.9 592v1m0 3v3m0 3v1m0 3v1m0 3v1m0 4v1m0 2v1m0 1v1m0 2v1m0 2v1m0 1v1m0 4v1m0 5v1m0 8v2M856.6 588v1m0 5v1m0 5v1m0 5v1m0 1v1m0 1v1m0 5v1m0 2v1m0 1v1m0 3v3m0 6v1m0 6v1m0 2v2m0 2v1M872.3 595v1m0 5v1m0 17v2m0 6v1m0 8v1m0 11v1M888.0 587v1m0 5v1m0 9v2m0 4v2m0 1v1m0 3v3m0 3v2m0 1v2m0 2v3m0 3v1m0 1v2m0 3v1m0 9v1M746.7 663v1m0 2v1m0 12v1m0 2v2m0 2v1m0 2v1m0 1v3m0 9v1m0 6v1M762.4 669v3m0 1v1m0 7v1m0 4v1m0 9v1m0 3v2m0 4v3m0 4v1M809.5 663v2m0 24v1m0 2v1m0 1v1m0 3v1m0 2v1m0 1v1m0 1v2m0 2v1M825.2 663v1m0 1v1m0 4v1m0 6v2m0 2v3m0 5v3m0 2v1m0 2v1m0 1v1m0 3v3m0 2v1M840.9 666v1m0 8v1m0 5v1m0 10v1m0 3v1m0 12v1M856.6 666v1m0 12v1m0 4v1m0 1v1m0 1v1m0 6v1m0 1v1m0 6v1M872.3 664v2m0 4v1m0 1v1m0 2v1m0 2v1m0 5v1m0 1v1m0 3v1m0 2v1m0 10v1m0 2v1m0 2v2M888.0 663v1m0 5v1m0 1v1m0 1v1m0 1v1m0 6v2m0 7v1m0 3v1m0 1v1m0 5v2m0 1v1M903.7 688v1M919.4 665v1m0 17v1m0 2v1m0 7v1m0 5v1m0 11v1M683.9 730v1m0 26v1M699.6 733v1M746.7 734v1m0 35v1M762.4 736v1m0 16v1m0 3v1M809.5 738v1M825.2 730v1m0 6v1m0 2v1m0 2v1m0 11v1M840.9 728v2m0 7v1m0 3v1m0 6v1m0 5v1m0 1v1m0 1v2m0 1v1M856.6 730v1m0 5v2m0 10v1m0 1v1m0 13v1m0 1v1m0 3v1M872.3 767v1M888.0 750v1m0 9v1M903.7 733v1m0 7v1m0 3v1m0 1v1m0 5v1m0 8v1M919.4 727v2m0 4v1m0 5v1m0 4v1m0 1v1m0 5v1m0 1v1m0 3v1m0 6v2M935.1 728v1M683.9 783v1m0 3v3m0 1v1m0 1v1m0 2v2m0 4v1m0 1v2m0 8v2m0 2v1m0 2v1m0 4v1m0 6v2m0 4v1m0 2v1m0 2v1m0 10v1m0 1v1m0 5v2M699.6 784v1m0 10v1m0 2v1m0 1v1m0 9v1m0 4v1m0 5v1m0 3v1m0 1v1m0 5v1m0 12v1m0 3v3m0 1v1m0 1v1m0 1v1m0 6v1M746.7 795v1m0 1v1m0 45v1m0 15v1m0 8v1M840.9 785v1m0 3v1m0 5v1m0 3v1m0 5v1m0 2v1m0 5v1m0 4v1m0 2v1m0 1v2m0 2v1m0 2v1m0 1v2m0 3v1m0 6v2m0 1v1m0 2v1m0 3v1m0 2v1m0 1v1m0 3v2m0 3v1M856.6 787v1m0 1v1m0 6v3m0 2v1m0 3v3m0 1v1m0 2v1m0 2v1m0 23v1m0 2v2m0 2v1m0 3v2m0 3v1m0 2v1M872.3 807v1M888.0 804v1m0 29v1m0 17v1m0 12v1M903.7 788v1m0 3v1m0 10v1m0 2v1m0 1v3m0 3v1m0 1v1m0 2v1m0 2v1m0 1v3m0 3v1m0 5v1m0 2v1m0 6v1m0 1v1m0 2v1m0 5v1m0 3v1m0 4v2M919.4 783v1m0 3v3m0 5v1m0 5v1m0 2v1m0 3v1m0 1v1m0 1v1m0 9v2m0 1v1m0 6v1m0 5v1m0 8v1m0 1v1m0 3v1m0 15v1M935.1 810v1m0 13v1M950.8 809v1m0 37v1m0 17v1M982.2 834v1M683.9 884v1m0 5v1m0 5v1m0 5v1m0 1v1m0 7v2m0 3v1m0 1v2m0 1v1m0 4v1m0 1v1m0 6v1m0 2v1m0 4v1M699.6 889v1m0 3v1m0 4v1m0 14v1m0 3v1m0 2v1m0 3v2m0 3v2m0 5v1m0 7v2M856.6 902v1M872.3 882v1m0 2v1m0 10v2m0 3v1m0 7v4m0 1v1m0 1v2m0 2v1m0 4v1m0 12v1m0 2v1m0 1v1M888.0 882v2m0 1v1m0 4v1m0 1v3m0 1v1m0 1v1m0 1v1m0 11v2m0 2v2m0 6v2m0 1v2m0 7v2m0 1v2m0 1v2M903.7 884v1m0 1v1m0 2v1m0 2v1m0 1v2m0 3v1m0 1v1m0 2v1m0 7v2m0 1v3m0 1v2m0 2v1m0 2v1m0 4v2m0 11v1M919.4 882v1m0 9v1m0 3v2m0 1v1m0 2v1m0 4v1m0 4v1m0 2v1m0 3v1m0 1v3m0 2v1m0 3v1m0 2v1m0 2v1m0 1v1m0 1v2m0 2v2M935.1 896v1m0 17v1m0 6v2m0 2v1m0 1v1m0 3v1m0 7v1m0 1v1M950.8 893v2m0 7v1m0 1v1m0 5v1m0 9v1m0 10v1m0 6v1m0 1v2m0 3v1M966.5 905v1m0 2v1m0 36v1M982.2 892v1m0 24v1m0 20v1m0 5v1M683.9 962v1m0 22v1m0 5v2m0 5v1m0 2v1m0 4v1M699.6 969v1m0 7v1m0 23v1m0 19v1M731.0 1021v1M872.3 959v1m0 1v2m0 1v1m0 12v1m0 11v1m0 35v1M888.0 991v1M903.7 958v1m0 1v2m0 5v1m0 6v2m0 2v2m0 5v1m0 1v1m0 1v1m0 3v2m0 4v2m0 6v1m0 4v3m0 1v1m0 3v1m0 1v1m0 1v1M919.4 957v1m0 4v2m0 20v1m0 2v1m0 3v1m0 2v1m0 1v1m0 5v1m0 2v1m0 4v2m0 1v1m0 1v2m0 3v1m0 1v1M935.1 961v3m0 2v1m0 12v1m0 1v2m0 1v1m0 2v1m0 3v1m0 1v1m0 3v1m0 2v4m0 7v1m0 6v3m0 5v1M950.8 969v1m0 3v1m0 3v1m0 1v1m0 4v1m0 10v1m0 3v1m0 1v1m0 1v1m0 2v1m0 1v1m0 2v2m0 3v1M966.5 975v2m0 2v1m0 1v1m0 3v1m0 2v1m0 6v1m0 2v2m0 1v2m0 5v1m0 4v1m0 4v1M982.2 959v2m0 20v1m0 4v1m0 4v1m0 4v1m0 3v2m0 5v1m0 4v1m0 6v1m0 5v1M997.9 969v1m0 8v1m0 26v1" stroke="#d49698" stroke-width="16.00" fill="none"/>
<path d="M683.9 56v1m0 1v1m0 4v1m0 2v1m0 3v1m0 2v1m0 1v1m0 9v1m0 6v1m0 1v1m0 7v3M699.6 55v1m0 4v1m0 2v3m0 1v2m0 2v1m0 3v1m0 3v2m0 6v2m0 3v1m0 3v2m0 1v2m0 1v1m0 4v2m0 1v1M715.3 56v1m0 5v1m0 6v1m0 14v1m0 4v1m0 5v1m0 6v1M903.7 67v1m0 33v1m0 2v1M919.4 64v1m0 6v1m0 25v1M935.1 53v1m0 2v1m0 2v2m0 1v1m0 1v1m0 8v1m0 2v1m0 1v1m0 3v2m0 2v1m0 1v1m0 3v2m0 4v1m0 1v1m0 5v2m0 1v2M950.8 50v1m0 2v1m0 2v1m0 3v1m0 2v1m0 3v1m0 3v1m0 1v1m0 1v1m0 5v4m0 2v2m0 1v1m0 7v1M966.5 50v1m0 4v3m0 1v1m0 3v1m0 2v2m0 1v2m0 1v2m0 4v2m0 11v2m0 1v1m0 4v2m0 8v1M982.2 54v2m0 4v1m0 4v3m0 3v1m0 1v1m0 4v1m0 6v2m0 3v1m0 2v4m0 5v1m0 2v1m0 1v1m0 2v1M997.9 51v2m0 2v1m0 19v3m0 4v1m0 2v1m0 8v2m0 6v1m0 3v1m0 2v1M1013.6 53v1m0 29v1m0 2v1m0 10v1m0 11v1M683.9 124v1m0 22v2m0 2v2m0 4v3m0 1v1m0 4v2m0 8v1M699.6 120v4m0 1v2m0 3v1m0 5v1m0 4v1m0 7v1m0 6v1m0 6v1m0 6v1m0 1v1m0 1v2m0 1v1m0 1v1M715.3 131v1M731.0 135v1m0 1v1m0 25v1M762.4 175v1M793.8 130v1M935.1 120v1m0 8v1m0 3v1m0 5v3m0 1v1m0 3v2m0 4v1m0 6v1m0 5v1m0 1v1m0 3v1M950.8 120v1m0 4v1m0 3v1m0 10v1m0 6v1m0 9v1m0 3v1m0 2v1m0 1v1m0 5v1m0 1v1m0 2v1m0 1v1M966.5 122v1m0 1v1m0 1v1m0 11v1m0 26v1m0 11v1m0 1v1M982.2 121v3m0 3v1m0 1v1m0 4v1m0 5v1m0 3v1m0 4v1m0 2v1m0 2v2m0 1v1m0 2v2m0 5v2m0 1v1m0 1v1m0 2v1M997.9 120v1m0 3v1m0 2v1m0 2v2m0 3v1m0 1v1m0 1v1m0 1v2m0 3v1m0 3v1m0 1v1m0 4v2m0 2v2m0 4v1m0 4v1m0 1v3M1013.6 120v2m0 1v2m0 3v1m0 4v1m0 8v3m0 2v1m0 3v1m0 1v1m0 3v3m0 1v2m0 1v1m0 2v3m0 2v1m0 5v2M699.6 198v1M715.3 205v1m0 32v1m0 23v1m0 1v1M731.0 189v1m0 6v1m0 1v1m0 4v2m0 2v1m0 11v1m0 17v1m0 1v1m0 5v1m0 20v1M746.7 190v1m0 7v1M762.4 228v1m0 30v1m0 10v1M778.1 222v1m0 6v1m0 1v1m0 14v1M793.8 195v1m0 28v1m0 5v1m0 21v1m0 17v1M935.1 204v1m0 39v1m0 17v1m0 12v1M950.8 191v1m0 8v1m0 13v1m0 7v1m0 1v1m0 2v1m0 3v1m0 7v2m0 1v1m0 2v2m0 5v1m0 2v1m0 1v1m0 11v3M966.5 189v1m0 4v2m0 3v1m0 2v3m0 3v2m0 8v1m0 3v1m0 11v1m0 3v1m0 1v2m0 6v2m0 2v1m0 3v1m0 3v1m0 7v1m0 1v1M982.2 188v1m0 8v2m0 4v5m0 2v2m0 1v2m0 6v1m0 6v1m0 4v2m0 1v3m0 5v2m0 1v1m0 1v2m0 4v1m0 3v4m0 6v3m0 3v1M997.9 188v2m0 7v1m0 4v1m0 1v1m0 2v1m0 10v1m0 1v1m0 23v1m0 1v2m0 4v1m0 1v4m0 4v1m0 2v3m0 1v1m0 5v1M1013.6 189v1m0 1v1m0 9v1m0 3v1m0 1v1m0 2v1m0 4v1m0 2v1m0 3v4m0 2v1m0 2v1m0 3v1m0 2v1m0 2v4m0 2v1m0 8v1m0 5v1m0 3v2m0 1v2m0 3v1M715.3 286v1m0 1v1m0 7v1m0 5v1m0 1v1m0 3v2m0 8v1m0 8v2m0 7v1m0 5v1m0 8v1m0 3v2m0 4v1m0 1v1M731.0 288v1m0 6v1m0 10v2m0 1v1m0 2v2m0 9v1m0 1v3m0 3v2m0 1v1m0 1v2m0 1v1m0 3v1m0 9v1m0 5v1m0 2v2M746.7 287v1m0 6v1m0 2v2m0 15v1m0 21v1m0 18v1m0 1v2M762.4 287v1m0 14v1m0 13v1m0 2v1m0 11v1m0 1v1m0 6v1M778.1 288v1m0 4v1m0 1v1m0 3v1m0 5v1m0 1v1m0 8v2m0 3v1m0 14v1m0 1v1m0 6v1m0 6v2m0 3v1M793.8 287v1m0 1v1m0 4v1m0 3v1m0 15v1m0 2v1m0 3v2m0 2v1m0 2v1m0 4v1m0 2v2m0 12v1m0 4v2m0 3v1m0 1v1M840.9 350v1M856.6 365v1M950.8 307v1m0 5v1m0 3v1m0 15v2m0 5v1m0 21v1M966.5 293v1m0 1v1m0 1v2m0 9v1m0 3v3m0 5v3m0 2v1m0 3v1m0 6v1m0 6v1m0 14v1m0 2v1M982.2 291v2m0 7v1m0 1v4m0 1v1m0 8v1m0 1v1m0 8v1m0 7v1m0 14v1m0 6v2m0 4v2M997.9 300v2m0 7v3m0 1v1m0 3v1m0 2v1m0 1v1m0 15v2m0 3v1m0 3v1m0 1v1m0 3v1m0 4v1m0 1v1m0 2v1M1013.6 287v1m0 5v1m0 2v2m0 2v2m0 8v1m0 2v1m0 2v1m0 1v1m0 5v2m0 12v1m0 5v1m0 1v1m0 5v1m0 4v1m0 3v2m0 2v1M715.3 376v1m0 7v1m0 3v2m0 5v1m0 1v2m0 1v1m0 5v1m0 1v1m0 2v1m0 8v1m0 11v2m0 9v3m0 8v1m0 2v1m0 2v1m0 6v1m0 5v1m0 6v1M731.0 377v1m0 5v1m0 6v1m0 2v2m0 8v2m0 2v2m0 3v1m0 4v1m0 3v1m0 1v1m0 2v1m0 3v1m0 5v1m0 1v1m0 1v2m0 4v1m0 2v1m0 1v1m0 2v1m0 5v1m0 4v1m0 2v1m0 1v1m0 1v1M746.7 385v1m0 6v1m0 4v1m0 1v1m0 4v1m0 3v1m0 4v1m0 4v1m0 15v2m0 8v1m0 2v1m0 4v1m0 7v1m0 1v1m0 4v1m0 4v2M762.4 377v1m0 2v1m0 2v1m0 2v3m0 4v1m0 2v1m0 3v1m0 5v2m0 2v1m0 1v1m0 2v1m0 3v2m0 3v2m0 4v2m0 8v1m0 2v1m0 2v1m0 2v1m0 9v1m0 5v1m0 1v1m0 3v1M778.1 384v1m0 1v1m0 9v1m0 6v2m0 4v1m0 1v1m0 4v1m0 12v1m0 1v1m0 3v1m0 4v1m0 7v1m0 2v1m0 1v1m0 1v1m0 1v2m0 12v1m0 1v1m0 5v1M793.8 378v2m0 4v1m0 2v1m0 4v1m0 9v2m0 8v2m0 1v1m0 5v1m0 8v1m0 6v1m0 2v2m0 1v1m0 2v2m0 1v1m0 1v1m0 3v3m0 8v1m0 2v1m0 2v3M809.5 380v1m0 1v2m0 4v5m0 1v2m0 4v1m0 4v1m0 3v1m0 1v1m0 2v1m0 3v2m0 3v1m0 2v1m0 2v1m0 4v1m0 2v2m0 1v1m0 9v1m0 5v1m0 1v1m0 5v3m0 1v1m0 8v2m0 1v1m0 1v1M825.2 376v1m0 4v3m0 6v1m0 3v1m0 1v1m0 4v2m0 2v1m0 1v3m0 1v1m0 2v2m0 2v2m0 1v1m0 3v2m0 6v2m0 1v2m0 2v1m0 4v1m0 6v1m0 2v1m0 7v1m0 4v2m0 5v1m0 2v1M840.9 382v3m0 18v1m0 39v1m0 16v1M856.6 417v1m0 4v1m0 14v1m0 42v1M966.5 395v1M982.2 386v1M997.9 381v1m0 12v3m0 9v1m0 6v1m0 2v2m0 6v2m0 4v1m0 7v2m0 6v1m0 6v2m0 1v1m0 1v2m0 1v1m0 11v1m0 1v4M1013.6 376v3m0 1v1m0 3v1m0 1v1m0 2v1m0 3v1m0 5v1m0 6v1m0 1v1m0 2v1m0 6v1m0 2v1m0 20v2m0 10v1m0 2v1m0 1v1m0 17v1m0 3v1M715.3 505v1m0 12v1m0 27v1M731.0 494v1m0 7v1m0 3v1m0 4v1m0 8v1m0 4v1m0 16v1m0 6v1m0 4v1m0 2v1m0 7v2m0 5v1m0 3v1M746.7 493v3m0 1v3m0 5v1m0 6v1m0 7v1m0 2v1m0 1v2m0 2v1m0 8v1m0 8v5m0 1v2m0 6v1m0 1v1m0 1v1m0 1v1m0 4v1M762.4 496v2m0 3v3m0 3v2m0 7v1m0 2v1m0 5v1m0 1v1m0 2v1m0 9v1m0 4v1m0 2v1m0 3v3m0 2v1m0 1v3m0 4v1m0 4v1m0 3v2M778.1 514v1m0 12v1m0 16v1M793.8 494v1m0 4v1m0 3v1m0 6v1m0 22v1m0 4v2m0 9v1m0 20v1m0 1v1m0 2v2M809.5 494v1m0 1v2m0 1v1m0 1v1m0 1v1m0 3v2m0 1v2m0 2v1m0 4v1m0 2v1m0 2v1m0 1v2m0 4v1m0 7v1m0 2v1m0 1v1m0 5v1m0 3v1m0 5v1m0 3v1m0 5v1m0 2v2M825.2 505v1m0 8v1m0 1v1m0 4v2m0 1v1m0 5v1m0 1v1m0 8v3m0 1v1m0 1v2m0 1v1m0 7v1m0 5v1m0 1v1m0 2v3M840.9 497v1m0 4v1m0 4v1m0 7v1m0 20v1m0 13v1m0 5v1m0 3v1m0 1v1M856.6 520v1m0 12v1m0 1v1m0 6v2m0 9v1m0 8v1m0 2v2m0 7v1M997.9 499v1m0 14v1M715.3 625v1M746.7 588v1m0 3v1m0 3v2m0 1v1m0 8v1m0 3v1m0 1v1m0 13v1m0 8v2m0 1v1m0 5v1m0 1v2M762.4 587v1m0 1v1m0 7v2m0 3v2m0 2v1m0 2v2m0 1v2m0 5v1m0 1v1m0 5v1m0 3v1m0 9v3m0 1v2m0 2v1m0 2v1M778.1 644v1M809.5 587v1m0 5v2m0 5v2m0 2v1m0 4v1m0 2v1m0 2v1m0 7v1m0 2v4m0 6v1m0 2v2m0 1v1M825.2 587v2m0 2v1m0 2v1m0 3v1m0 1v1m0 1v1m0 5v1m0 2v1m0 3v1m0 1v2m0 3v1m0 3v1m0 8v1m0 10v1m0 2v2m0 1v1M840.9 588v1m0 2v1m0 3v1m0 4v2m0 3v1m0 1v2m0 2v4m0 2v1m0 1v1m0 14v1m0 3v1m0 1v1m0 1v1m0 2v2m0 5v1M856.6 589v3m0 1v1m0 1v1m0 2v1m0 3v1m0 1v1m0 2v1m0 1v1m0 1v2m0 17v3m0 3v2m0 1v1m0 2v1m0 7v1M872.3 598v1m0 26v1M888.0 597v1m0 9v1m0 5v2m0 9v1m0 3v1m0 20v1M746.7 667v1m0 7v2m0 3v2m0 2v2m0 1v1m0 9v2m0 3v1m0 2v2M762.4 665v1m0 1v1m0 9v1m0 4v1m0 4v2m0 2v1m0 1v3m0 9v1m0 3v2M809.5 665v1m0 1v1m0 1v3m0 1v1m0 1v3m0 1v1m0 3v2m0 2v1m0 8v1m0 5v1m0 4v2M825.2 666v1m0 2v1m0 6v1m0 2v2m0 3v2m0 1v1m0 8v1m0 4v2m0 3v2M840.9 664v1m0 8v2m0 3v2m0 2v1m0 2v2m0 1v1m0 4v1m0 8v5m0 1v1m0 1v1M856.6 665v1m0 3v1m0 3v1m0 1v2m0 3v1m0 4v1m0 5v1m0 1v2m0 1v1m0 3v1m0 2v1m0 2v3m0 1v1m0 1v1M872.3 666v1m0 4v1m0 1v1m0 5v1m0 2v2m0 1v1m0 1v1m0 3v1m0 2v1m0 3v1m0 2v1m0 1v1m0 1v2m0 5v1M888.0 666v1m0 9v3m0 1v2m0 14v1m0 1v1m0 1v1m0 1v1m0 6v1M919.4 708v1M746.7 735v1M762.4 728v1M809.5 750v1M840.9 727v1m0 5v3m0 2v2m0 5v3m0 2v3m0 2v1m0 1v1m0 6v2m0 1v1M856.6 729v1m0 1v2m0 1v2m0 3v1m0 2v1m0 2v2m0 2v1m0 8v2m0 2v1M872.3 729v1m0 2v1m0 16v1m0 6v1m0 8v1M888.0 730v1m0 3v1m0 20v1m0 1v1m0 1v1m0 2v1m0 1v1M919.4 734v1m0 10v1m0 2v1m0 4v1m0 7v1m0 2v1M683.9 784v1m0 23v1m0 8v1m0 9v1m0 12v1m0 7v1m0 1v1m0 3v1m0 2v1m0 1v2m0 5v2M699.6 785v1m0 15v1m0 3v1m0 3v1m0 8v1m0 3v1m0 30v1m0 3v1m0 4v1m0 3v1m0 2v2M840.9 784v1m0 12v1m0 4v1m0 4v1m0 3v1m0 23v1m0 8v1m0 5v1m0 10v2m0 5v1M856.6 785v2m0 12v1m0 2v1m0 14v1m0 1v1m0 8v1m0 6v1m0 25v1m0 4v1M872.3 792v1m0 2v1m0 9v1m0 2v1m0 15v1m0 30v1m0 11v1M888.0 783v1m0 6v1m0 6v2m0 7v1m0 10v1m0 2v1m0 10v1m0 9v1m0 3v1M903.7 787v1m0 1v1m0 3v2m0 1v7m0 9v1m0 2v1m0 5v1m0 1v1m0 4v2m0 2v2m0 3v1m0 3v1m0 7v2m0 2v1m0 1v1m0 4v1m0 1v2m0 5v1M919.4 785v1m0 4v1m0 2v2m0 1v1m0 1v1m0 1v1m0 4v1m0 3v1m0 1v1m0 1v3m0 2v2m0 7v1m0 9v1m0 3v3m0 1v1m0 4v3m0 1v1m0 1v1m0 2v2m0 1v1m0 3v2M935.1 783v1m0 21v1m0 26v1M950.8 870v1M683.9 882v2m0 4v2m0 1v1m0 2v1m0 4v1m0 5v1m0 4v1m0 7v1m0 4v3m0 2v1m0 1v1m0 3v2m0 4v1m0 1v2m0 1v1M699.6 883v2m0 1v1m0 3v1m0 6v1m0 1v2m0 6v1m0 1v2m0 4v1m0 5v1m0 4v1m0 4v2m0 7v3M840.9 898v1M872.3 886v1m0 3v3m0 7v1m0 1v1m0 3v2m0 5v1m0 5v1m0 2v1m0 6v3m0 1v1m0 2v1m0 2v1m0 5v1M888.0 887v1m0 3v1m0 5v1m0 3v1m0 4v1m0 4v1m0 2v1m0 5v1m0 9v1m0 2v2m0 3v1M903.7 882v2m0 1v1m0 2v1m0 2v1m0 4v2m0 4v1m0 2v2m0 1v3m0 11v1m0 1v1m0 4v2m0 4v1m0 3v1m0 2v1m0 3v1M919.4 883v1m0 1v2m0 3v1m0 3v1m0 3v1m0 1v2m0 3v1m0 2v2m0 1v1m0 4v2m0 2v1m0 3v1m0 3v1m0 3v1m0 2v1m0 1v1m0 5v1M935.1 884v1m0 3v1m0 9v1m0 3v1m0 7v1m0 21v1m0 2v1M950.8 895v1m0 13v1m0 3v1M966.5 900v1m0 16v1m0 6v1M683.9 959v1m0 1v1m0 7v1m0 6v2m0 1v4m0 1v1m0 3v1m0 5v1m0 1v2m0 4v2m0 3v1m0 1v2m0 6v1m0 1v4m0 1v2M699.6 961v1m0 1v1m0 2v1m0 5v1m0 7v1m0 1v1m0 1v1m0 2v2m0 8v1m0 2v1m0 3v1m0 7v1m0 13v1M872.3 957v1m0 8v1m0 17v1M888.0 962v1M903.7 963v2m0 4v2m0 1v1m0 3v1m0 5v1m0 7v1m0 4v1m0 5v1m0 6v1m0 8v3m0 3v1M919.4 958v2m0 5v1m0 4v1m0 1v3m0 2v4m0 1v2m0 4v1m0 1v1m0 4v1m0 3v1m0 1v1m0 1v2m0 1v1m0 2v1m0 7v2m0 2v1m0 3v2M935.1 957v1m0 6v1m0 2v2m0 3v1m0 1v1m0 1v1m0 1v1m0 6v2m0 1v1m0 1v1m0 1v1m0 2v1m0 2v1m0 6v3m0 9v1m0 5v1m0 1v1M950.8 957v3m0 1v4m0 7v1m0 2v1m0 6v1m0 3v3m0 7v1m0 8v1m0 1v1m0 1v1m0 4v1m0 3v1m0 3v3m0 1v2M966.5 959v1m0 7v1m0 14v1m0 11v1m0 1v1m0 3v1m0 3v1m0 10v1m0 4v1M982.2 957v1m0 4v3m0 2v1m0 4v1m0 4v1m0 9v1m0 4v1m0 5v1m0 12v1m0 2v1m0 8v1m0 3v1M997.9 994v2m0 24v1" stroke="#ca7b7f" stroke-width="16.00" fill="none"/>
<path d="M683.9 76v1m0 10v1m0 3v1m0 14v1M699.6 51v4m0 6v1m0 4v1m0 2v2m0 5v1m0 4v3m0 1v1m0 3v1m0 3v1m0 7v1m0 1v1m0 5v1M903.7 58v1m0 23v1M935.1 54v2m0 2v1m0 18v1m0 2v1m0 6v1m0 13v2m0 2v1M950.8 51v1m0 2v2m0 1v2m0 2v1m0 6v1m0 3v1m0 3v3m0 1v1m0 8v1m0 3v1m0 1v1m0 4v1m0 1v2m0 2v1m0 2v2M966.5 54v1m0 9v1m0 6v1m0 3v1m0 9v1m0 9v1m0 1v1m0 7v1M982.2 52v1m0 5v1m0 13v1m0 3v1m0 20v1m0 2v1M997.9 50v1m0 16v1m0 3v1m0 25v1M1013.6 51v1m0 17v1m0 28v1m0 3v1M683.9 137v1m0 33v1M699.6 124v1m0 3v2m0 5v1m0 1v1m0 8v1m0 4v1m0 7v1m0 2v1m0 13v1M715.3 152v1m0 1v1m0 4v1M935.1 126v1m0 18v1m0 3v1m0 1v1m0 6v1m0 4v1M950.8 136v1m0 4v1m0 6v1M966.5 145v1M982.2 125v1m0 2v1m0 4v1m0 1v1m0 15v1m0 5v1m0 6v1m0 1v2m0 9v1m0 1v1M997.9 122v1m0 3v1m0 1v1m0 3v1m0 1v1m0 3v1m0 5v2m0 1v3m0 5v1m0 3v1m0 3v4m0 3v2m0 1v1m0 5v1M1013.6 125v1m0 3v2m0 10v1m0 4v1m0 16v1m0 7v1m0 1v1m0 2v1M699.6 227v1M715.3 226v1m0 38v1M731.0 200v1m0 9v1m0 24v1m0 20v1m0 5v1M778.1 220v1m0 4v1m0 14v1M793.8 202v1M950.8 203v1m0 14v1m0 10v1m0 13v1m0 3v1m0 3v1m0 23v1M966.5 201v1m0 3v2m0 4v1m0 3v3m0 1v1m0 10v1m0 19v1m0 13v3m0 2v1m0 4v1M982.2 190v6m0 4v1m0 1v1m0 6v1m0 2v1m0 2v2m0 1v3m0 3v1m0 1v1m0 2v1m0 5v1m0 3v1m0 1v1m0 1v1m0 9v2m0 1v3m0 5v4m0 5v2M997.9 192v1m0 2v1m0 7v1m0 1v2m0 2v1m0 2v5m0 5v4m0 2v1m0 2v1m0 1v2m0 1v1m0 3v2m0 3v1m0 7v1m0 6v2m0 1v1m0 4v1m0 2v1m0 1v2M1013.6 188v1m0 3v1m0 2v4m0 1v1m0 3v1m0 1v1m0 1v1m0 3v1m0 16v1m0 2v1m0 1v1m0 1v2m0 2v1m0 7v1m0 4v1m0 7v1m0 3v1m0 2v1m0 2v3M715.3 293v1m0 7v1m0 8v1m0 4v1m0 5v1m0 1v1m0 6v1m0 4v1m0 2v3m0 2v1m0 4v1m0 8v1M731.0 294v1m0 9v1m0 6v1m0 7v1m0 31v1m0 9v1M746.7 291v1m0 25v1m0 44v1M762.4 364v1M778.1 297v1m0 10v1m0 5v1m0 15v1m0 4v1m0 13v1M793.8 297v1m0 1v1m0 9v2m0 7v1m0 20v1M825.2 353v1M950.8 321v1m0 23v1M966.5 290v1m0 14v1m0 1v1m0 39v1M982.2 295v1m0 15v1m0 10v1m0 6v1M997.9 286v2m0 3v1m0 1v1m0 2v1m0 1v1m0 3v1m0 4v1m0 7v2m0 4v1m0 3v1m0 4v1m0 3v1m0 7v1m0 1v1m0 1v1m0 3v3m0 6v1m0 1v2m0 2v1M1013.6 286v1m0 3v3m0 2v1m0 6v1m0 2v1m0 1v1m0 6v1m0 4v1m0 1v1m0 1v1m0 3v2m0 6v1m0 1v1m0 1v2m0 2v1m0 5v1m0 3v1m0 6v1m0 3v1M715.3 402v1m0 7v1m0 7v1m0 7v1m0 22v1m0 9v1m0 8v1m0 2v1M731.0 378v1m0 10v1m0 1v2m0 2v2m0 8v1m0 9v1m0 3v1m0 8v1m0 4v1m0 1v1m0 9v1m0 4v1m0 1v1m0 4v1m0 4v1m0 3v1m0 7v1m0 3v1M746.7 382v1m0 31v1m0 34v1m0 8v1M762.4 384v1m0 5v2m0 2v1m0 2v2m0 2v1m0 2v1m0 12v2m0 13v2m0 3v1m0 4v1m0 5v1m0 2v1m0 5v1m0 2v1m0 3v1m0 5v1m0 4v4m0 2v1M778.1 376v1m0 2v2m0 2v1m0 5v1m0 10v1m0 9v1m0 33v1m0 4v1m0 9v1m0 4v1m0 3v2m0 5v1M793.8 376v1m0 3v1m0 7v1m0 1v1m0 2v1m0 3v1m0 2v2m0 6v1m0 8v4m0 4v1m0 7v1m0 2v1m0 2v1m0 12v2m0 5v1m0 1v1m0 1v1m0 4v1m0 6v1m0 3v1m0 1v1M809.5 376v2m0 19v1m0 4v2m0 2v1m0 1v1m0 4v1m0 1v1m0 1v1m0 28v1m0 1v1m0 2v2m0 2v1m0 3v1m0 2v1m0 11v1M825.2 377v2m0 13v1m0 10v1m0 2v1m0 5v2m0 3v1m0 6v1m0 3v1m0 1v2m0 12v1m0 5v2m0 7v1m0 5v1m0 7v1m0 3v1m0 1v3M840.9 414v1m0 19v1M856.6 396v1m0 57v1M966.5 380v1m0 4v1M997.9 384v1m0 16v2m0 4v1m0 15v1m0 4v1m0 4v1m0 46v1M1013.6 398v1m0 26v1m0 2v1m0 1v1m0 2v2m0 2v2m0 10v1m0 19v1m0 2v1m0 1v1m0 3v1m0 1v1M715.3 557v1m0 10v1M731.0 527v2m0 21v1m0 9v1m0 8v1M746.7 496v1m0 4v1m0 2v1m0 2v1m0 8v1m0 4v1m0 8v1m0 4v1m0 3v1m0 1v2m0 1v1m0 17v1M762.4 495v1m0 22v1m0 2v2m0 3v1m0 14v3m0 5v2m0 5v1m0 1v1m0 15v1M778.1 506v1m0 22v1M793.8 508v1m0 44v1m0 13v2M809.5 495v1m0 6v1m0 2v2m0 2v1m0 2v2m0 6v1m0 2v2m0 1v1m0 3v2m0 2v1m0 1v3m0 8v1m0 5v1m0 1v1m0 1v1m0 1v2m0 4v1m0 1v1m0 2v2m0 1v1M825.2 495v4m0 5v1m0 2v1m0 2v1m0 6v4m0 2v1m0 2v2m0 1v1m0 1v1m0 3v4m0 5v1m0 1v1m0 2v1m0 1v1m0 4v1m0 2v1m0 1v2m0 9v1m0 1v1m0 1v1M840.9 509v1m0 4v1m0 2v1m0 10v1m0 1v1m0 10v1m0 3v1m0 13v1m0 1v1m0 8v1m0 3v1M856.6 494v1m0 28v1m0 31v1m0 1v1m0 15v1M997.9 535v1M1013.6 496v1M731.0 646v1M746.7 590v2m0 6v1m0 2v1m0 9v1m0 8v1m0 2v2m0 4v2m0 1v4m0 16v1M762.4 594v1m0 4v1m0 4v2m0 10v1m0 7v2m0 7v2m0 3v1m0 1v1m0 3v1M778.1 646v1M809.5 589v1m0 1v1m0 5v1m0 1v1m0 3v1m0 2v1m0 1v1m0 1v1m0 3v1m0 2v1m0 1v1m0 1v2m0 1v1m0 6v1m0 1v1m0 1v1m0 7v1m0 1v1m0 1v1m0 2v1m0 1v1M825.2 589v1m0 3v1m0 3v1m0 1v1m0 3v1m0 8v1m0 3v1m0 2v1m0 4v2m0 1v2m0 4v2m0 3v1m0 6v1m0 2v1M840.9 587v1m0 1v1m0 3v1m0 10v1m0 4v1m0 6v1m0 5v1m0 4v1m0 4v1m0 3v2m0 6v1m0 2v1m0 3v1M856.6 592v1m0 3v1m0 6v1m0 1v1m0 9v1m0 1v2m0 1v1m0 1v3m0 4v1m0 8v1m0 12v1M888.0 592v1m0 41v1M746.7 664v1m0 4v2m0 3v1m0 13v1m0 11v1m0 3v1m0 3v1m0 2v1m0 1v1M762.4 692v1m0 5v1m0 4v1M809.5 666v1m0 5v1m0 1v1m0 3v1m0 6v1m0 2v1m0 2v1m0 3v1m0 1v1m0 13v2M825.2 668v1m0 3v2m0 12v1m0 1v1m0 4v1m0 6v1m0 9v3M840.9 663v1m0 1v1m0 3v1m0 6v1m0 6v1m0 3v1m0 2v2m0 3v1m0 1v2m0 1v2m0 10v2M856.6 663v2m0 2v1m0 3v1m0 2v1m0 3v1m0 2v1m0 1v1m0 3v1m0 1v2m0 7v1m0 2v1m0 3v1m0 5v1M872.3 669v1m0 4v1m0 2v1m0 3v1m0 6v1m0 3v1m0 2v3m0 2v1m0 7v1M888.0 667v2m0 3v1m0 12v1m0 1v1m0 1v2m0 3v1m0 4v1m0 1v1m0 3v1m0 1v2m0 2v3M903.7 698v1M683.9 755v1M809.5 749v1M825.2 731v1M840.9 732v1m0 3v1m0 6v1m0 5v1m0 10v1m0 1v2m0 2v1m0 1v3M856.6 733v1m0 4v1m0 1v1m0 2v2m0 2v1m0 4v6m0 2v1m0 2v1m0 1v1m0 3v1M872.3 727v2m0 1v1m0 5v3m0 1v2m0 3v1m0 2v1m0 1v2m0 1v1m0 1v1m0 3v1m0 2v1m0 1v1M888.0 726v1m0 5v2m0 3v1m0 3v3m0 4v2m0 4v1m0 3v1m0 2v1m0 1v1m0 3v2M919.4 726v1M683.9 811v1m0 10v1m0 1v1m0 22v1M699.6 806v1m0 9v1m0 11v1m0 12v1M840.9 794v1m0 9v1m0 44v1M856.6 790v1m0 4v1m0 8v1m0 8v1m0 12v1m0 27v1m0 1v1M872.3 784v1m0 3v1m0 1v1m0 2v1m0 2v1m0 4v2m0 6v2m0 1v1m0 5v2m0 6v1m0 1v1m0 2v2m0 1v1m0 9v3m0 14v2m0 1v1m0 3v1M888.0 788v1m0 4v1m0 2v1m0 2v3m0 1v1m0 1v1m0 2v3m0 2v2m0 1v1m0 4v3m0 2v2m0 4v2m0 1v1m0 1v3m0 3v2m0 2v1m0 5v5m0 2v2m0 1v2m0 4v1M903.7 784v1m0 1v1m0 3v1m0 14v1m0 1v1m0 3v1m0 1v1m0 3v1m0 16v2m0 6v1m0 2v1m0 8v1m0 1v1m0 7v2m0 4v1M919.4 797v1m0 1v1m0 2v2m0 2v1m0 10v1m0 2v2m0 4v1m0 1v1m0 1v2m0 1v4m0 3v1m0 3v1m0 1v1m0 1v1m0 8v1m0 3v1m0 2v2m0 4v1M683.9 885v3m0 5v1m0 4v1m0 4v1m0 2v1m0 1v1m0 12v1m0 9v1m0 9v1M699.6 882v1m0 5v1m0 12v1m0 1v1m0 7v1m0 4v1m0 1v2m0 3v1m0 3v2m0 4v3m0 1v1M872.3 883v1m0 3v2m0 5v2m0 3v1m0 3v1m0 4v1m0 6v1m0 5v1m0 1v2m0 3v1m0 6v1m0 10v1M888.0 886v1m0 8v1m0 7v3m0 2v1m0 6v1m0 6v2m0 8v1M903.7 887v1m0 2v1m0 2v1m0 6v1m0 13v1m0 3v1m0 6v1m0 8v1m0 1v1m0 6v1M919.4 889v1m0 1v1m0 1v1m0 20v1m0 3v1m0 10v1m0 1v1m0 2v1m0 11v1M935.1 883v1m0 5v1m0 38v1m0 16v1M950.8 923v1m0 5v1M683.9 957v1m0 5v1m0 1v1m0 2v1m0 1v1m0 1v1m0 2v1m0 7v1m0 2v1m0 3v1m0 2v1m0 1v1m0 3v1m0 5v1m0 5v1m0 1v3m0 10v2M699.6 958v1m0 1v1m0 1v1m0 2v1m0 1v1m0 3v1m0 1v1m0 1v2m0 1v1m0 4v1m0 1v1m0 3v1m0 3v3m0 3v1m0 3v1m0 1v2m0 1v4m0 3v2m0 1v3m0 1v3M872.3 968v1M903.7 957v1m0 10v1m0 11v1m0 2v1m0 4v1m0 2v1m0 4v1m0 6v1m0 5v1m0 15v1m0 1v1M919.4 960v1m0 3v1m0 1v1m0 8v1m0 13v1m0 2v2m0 13v1m0 4v1m0 1v1m0 4v1m0 4v1M935.1 960v1m0 10v1m0 11v1m0 20v1m0 3v1m0 4v1m0 1v1M950.8 960v1m0 5v1m0 1v1m0 1v2m0 2v1m0 1v1m0 1v1m0 1v2m0 3v1m0 5v2m0 1v1m0 3v1m0 3v1m0 1v1m0 10v1m0 1v1m0 3v1M966.5 993v1m0 13v1M982.2 982v1m0 10v1M997.9 1012v1" stroke="#bf6165" stroke-width="16.00" fill="none"/>
<path d="M683.9 110v1M699.6 57v2m0 13v2m0 4v1m0 5v1m0 5v1m0 4v1m0 8v3M715.3 60v1M935.1 70v1m0 13v1M950.8 59v1m0 4v2m0 4v1m0 3v1m0 4v1m0 16v2m0 3v1m0 3v1M966.5 77v1M982.2 62v1m0 11v2m0 6v1m0 18v1m0 7v1M997.9 65v2m0 1v1m0 23v1M1013.6 52v1m0 20v1M683.9 139v1m0 23v1m0 13v1M699.6 155v1M950.8 122v1m0 20v1m0 14v1M966.5 146v1m0 27v1M982.2 124v1m0 11v1m0 6v1m0 1v1m0 1v2m0 26v1M997.9 121v1m0 1v1m0 1v1m0 3v1m0 6v1m0 3v1m0 10v1m0 1v2m0 5v1m0 8v1M1013.6 122v1m0 11v1m0 1v2m0 27v1m0 4v1m0 3v1m0 2v1M793.8 249v1M935.1 215v1m0 10v1M950.8 195v1m0 19v1m0 51v1m0 4v1M966.5 192v1m0 14v1m0 15v1m0 2v1m0 46v1m0 1v1M982.2 208v1m0 16v1m0 1v1m0 2v1m0 37v1M997.9 191v1m0 1v2m0 4v3m0 8v1m0 8v1m0 6v2m0 1v2m0 4v1m0 6v1m0 6v1m0 1v1m0 7v1m0 10v1m0 1v1M1013.6 190v1m0 3v1m0 8v1m0 13v1m0 31v2m0 4v1m0 1v1m0 2v1M715.3 331v1M731.0 335v1m0 21v1M778.1 324v1M793.8 319v1M950.8 338v1M966.5 303v1m0 48v1M997.9 314v1m0 4v1m0 7v2m0 11v1m0 7v1M1013.6 288v1m0 5v1m0 3v1m0 23v1m0 3v1m0 4v1m0 18v1m0 7v1M715.3 403v1m0 19v1M731.0 381v1m0 24v1m0 2v1m0 17v1m0 33v1M746.7 433v1M762.4 395v1m0 20v1m0 28v1m0 27v1M778.1 393v1m0 8v1m0 4v1m0 11v1m0 8v1m0 13v1M793.8 381v1m0 4v1m0 2v1m0 5v1m0 14v1m0 43v1M809.5 407v1m0 22v1m0 1v1m0 8v1m0 25v1m0 1v1M825.2 385v2m0 2v1m0 3v1m0 3v1m0 44v1m0 13v1m0 9v1m0 4v1M840.9 447v1M856.6 432v1m0 33v1M1013.6 409v1m0 4v1m0 25v1m0 27v1M746.7 503v1m0 7v1m0 5v1m0 25v1m0 11v1m0 8v1m0 9v1M762.4 509v2m0 4v1m0 16v1m0 1v1m0 1v1m0 25v1m0 6v1m0 2v1M809.5 498v1m0 1v1m0 15v1m0 1v1m0 2v1m0 7v1m0 2v1m0 2v1m0 4v1m0 7v1m0 15v1M825.2 493v1m0 5v1m0 2v2m0 2v1m0 4v2m0 15v1m0 4v2m0 4v1m0 13v3m0 9v1m0 1v1m0 5v1M840.9 511v1m0 12v1m0 1v1m0 24v1m0 3v1m0 12v1M856.6 507v1m0 24v1m0 13v1m0 16v1M746.7 609v1m0 11v1m0 3v1M762.4 637v1M778.1 611v1M809.5 590v1m0 1v1m0 3v1m0 5v1m0 2v1m0 1v1m0 3v1m0 1v1m0 2v1m0 3v1m0 4v1m0 6v1m0 1v1m0 2v2m0 9v2m0 1v1M825.2 590v1m0 4v2m0 8v3m0 5v2m0 5v2m0 1v1m0 6v1m0 9v5m0 2v1m0 3v1M840.9 624v1m0 18v1M856.6 601v1m0 26v1m0 11v1m0 2v1m0 2v1M746.7 673v1m0 35v1M762.4 674v1M809.5 686v1m0 13v1m0 3v1m0 5v1M825.2 674v1m0 23v1M840.9 667v2m0 2v2m0 4v1m0 2v1m0 3v1m0 4v1m0 4v1m0 4v1m0 7v1m0 3v1M856.6 668v1m0 1v1m0 1v1m0 4v1m0 4v1m0 9v1m0 6v1m0 2v1m0 6v1m0 3v1M872.3 663v1m0 12v1m0 3v1m0 18v1m0 2v1m0 6v1m0 3v1M888.0 664v2m0 4v1m0 3v1m0 9v1m0 1v1m0 1v1m0 3v2M746.7 740v1M840.9 731v1m0 8v1m0 3v1m0 8v1M856.6 728v1m0 12v1m0 25v2M872.3 726v1m0 4v1m0 1v1m0 1v1m0 3v1m0 3v2m0 13v1m0 2v1m0 4v1m0 2v2M888.0 727v3m0 1v1m0 4v1m0 1v3m0 3v2m0 5v1m0 4v1m0 8v2m0 2v1M919.4 738v1m0 12v1m0 4v1M699.6 843v1M840.9 816v1M872.3 786v1m0 2v1m0 1v1m0 2v1m0 2v1m0 1v2m0 5v1m0 7v2m0 1v1m0 2v3m0 4v1m0 2v1m0 5v3m0 1v3m0 5v1m0 3v2m0 4v3m0 2v1m0 5v1M888.0 785v1m0 1v1m0 1v1m0 1v2m0 1v2m0 16v1m0 2v1m0 3v1m0 4v2m0 3v2m0 9v1m0 1v1m0 3v1m0 1v4m0 6v1m0 3v1m0 3v1m0 1v1M903.7 785v1m0 5v1m0 28v1m0 19v1M919.4 784v1m0 7v1m0 62v1m0 12v1M683.9 897v1m0 13v1m0 3v1m0 21v1M699.6 894v3m0 8v2m0 7v1m0 24v1M840.9 883v1M872.3 893v1m0 10v1m0 32v1m0 2v1m0 3v1M888.0 931v1m0 3v1M903.7 898v1m0 22v1m0 5v2m0 4v1m0 3v1M919.4 927v1M935.1 937v1M683.9 958v1m0 1v1m0 3v1m0 1v1m0 4v1m0 1v2m0 12v1m0 1v1m0 14v1m0 11v1m0 6v1M699.6 957v1m0 1v1m0 14v1m0 4v1m0 1v1m0 8v3m0 3v1m0 5v1m0 4v1m0 5v2m0 2v1m0 7v1M872.3 983v1M903.7 1026v1M919.4 967v1m0 1v1m0 15v1m0 41v1M935.1 970v1m0 38v1M950.8 990v1m0 9v1m0 12v1m0 5v1M966.5 977v1" stroke="#b5464c" stroke-width="16.00" fill="none"/>
<path d="M683.9 93v1M699.6 91v1m0 6v1M935.1 94v2M950.8 52v1m0 9v1m0 3v1m0 18v1m0 6v1m0 6v1m0 8v1M966.5 81v1m0 14v1M699.6 143v1m0 6v1m0 1v1M935.1 179v1M982.2 131v1M997.9 168v1m0 8v2M731.0 227v1M935.1 265v1M950.8 209v1M966.5 253v1m0 5v1m0 1v1M982.2 222v1m0 9v1M997.9 196v1m0 11v1m0 2v1m0 9v1M1013.6 214v1m0 43v1M715.3 289v1m0 2v1M793.8 315v1M997.9 303v1m0 8v1m0 28v1m0 3v1M1013.6 351v1m0 3v1m0 3v1m0 3v1M731.0 388v1m0 24v1m0 63v1M762.4 422v1m0 46v1M778.1 392v1M793.8 422v1m0 12v1M809.5 410v1m0 64v1M825.2 420v1m0 11v1m0 8v1M982.2 385v1M1013.6 381v1m0 89v1M746.7 515v1M762.4 499v1m0 68v1M825.2 501v1m0 13v1m0 41v1m0 17v1M856.6 508v1M762.4 600v1m0 13v1M809.5 588v1m0 6v1m0 22v1m0 25v1M825.2 592v1m0 11v1m0 5v1m0 18v1m0 2v1m0 6v1M809.5 681v1m0 11v1M825.2 695v1M888.0 679v1M840.9 730v1m0 11v1M856.6 751v1m0 9v1M872.3 734v1m0 7v1m0 3v2m0 4v1m0 1v1m0 2v1m0 2v1m0 2v1m0 4v1M888.0 735v1m0 10v2m0 4v1m0 17v1M919.4 737v1m0 24v1m0 7v1M683.9 803v1M872.3 783v1m0 1v1m0 1v1m0 10v1m0 4v2m0 6v1m0 1v1m0 2v1m0 6v1m0 1v1m0 3v1m0 3v1m0 1v1m0 3v1m0 3v1m0 3v1m0 1v1m0 1v1m0 2v1m0 1v2m0 7v2m0 3v1M888.0 784v1m0 1v1m0 15v1m0 4v1m0 3v1m0 6v1m0 9v1m0 7v1m0 22v1m0 7v1m0 2v1M903.7 843v1m0 14v1M919.4 829v1M683.9 907v1M699.6 891v1m0 30v1m0 20v1M872.3 934v1m0 7v1M919.4 895v1m0 29v1M683.9 978v1m0 21v1m0 7v1m0 3v1m0 5v1M699.6 964v1m0 21v1m0 11v1m0 28v1M903.7 986v1M935.1 973v1M950.8 989v1m0 3v1M966.5 1011v1M982.2 994v1" stroke="#aa2c32" stroke-width="16.00" fill="none"/>
</g>
<text x="1031.7" y="44.3" font-size="37.7">Phase(ZT)</text>
<text x="1032.6" y="95.6" font-size="37.7">0–2</text>
<text x="1032.6" y="167.7" font-size="37.7">2–4</text>
<text x="1032.6" y="251.5" font-size="37.7">4–6</text>
<text x="1032.6" y="345.7" font-size="37.7">6–8</text>
<text x="1032.6" y="457.2" font-size="37.7">8–10</text>
<text x="1032.6" y="552.1" font-size="37.7">10–12</text>
<text x="1032.6" y="640.3" font-size="37.7">12–14</text>
<text x="1032.6" y="717.9" font-size="37.7">14–16</text>
<text x="1032.6" y="775.0" font-size="37.7">16–18</text>
<text x="1032.6" y="843.4" font-size="37.7">18–20</text>
<text x="1032.6" y="923.7" font-size="37.7">20–22</text>
<text x="1032.6" y="1005.6" font-size="37.7">22–24</text>
<text x="664.5" y="1059.6" font-size="29">0/24</text>
<text x="805.0" y="1059.6" font-size="29">12</text>
<text x="915.0" y="1059.6" font-size="29">0/24</text>
<text x="757.5" y="1090.4" font-size="28.9">Row <tspan font-style="italic">Z</tspan> score</text>
<defs><linearGradient id="cb" x1="0" x2="1" y1="0" y2="0"><stop offset="0" stop-color="#0a1485"/><stop offset="0.5" stop-color="#ffffff"/><stop offset="1" stop-color="#a52a30"/></linearGradient></defs>
<rect x="716.8" y="1103" width="237.9" height="28.6" fill="url(#cb)"/>
<path d="M717.3 1131.6v3.5M776.3 1131.6v3.5M835.6 1131.6v3.5M895.5 1131.6v3.5M954.2 1131.6v3.5M716.8 1131.6H954.7" stroke="#777" stroke-width="1" fill="none"/>
<text x="713.5" y="1167.2" font-size="29.2" text-anchor="middle">−2</text>
<text x="770.0" y="1167.2" font-size="29.2" text-anchor="middle">−1</text>
<text x="835.8" y="1167.2" font-size="29.2" text-anchor="middle">0</text>
<text x="895.5" y="1167.2" font-size="29.2" text-anchor="middle">1</text>
<text x="951.8" y="1167.2" font-size="29.2" text-anchor="middle">2</text>
<path d="M559.8 76.3L676.5 75.2" stroke="#000" stroke-width="7.3" stroke-dasharray="21.7 6.9" stroke-dashoffset="19.4" fill="none"/>
<path d="M559.8 320.4L666.9 320.4" stroke="#000" stroke-width="7.3" stroke-dasharray="21.3 7.2" stroke-dashoffset="0" fill="none"/>
<path d="M553.7 644.2L675.5 338.0" stroke="#000" stroke-width="7.6" stroke-dasharray="15.8 7.4" stroke-dashoffset="0" fill="none"/>
<path d="M557.9 870.5L676.3 430.5" stroke="#000" stroke-width="7.6" stroke-dasharray="15.8 6.9" stroke-dashoffset="0" fill="none"/>
<path d="M1136.6 510.0L1302.5 147.0" stroke="#000" stroke-width="5.3" stroke-dasharray="13.5 8" stroke-dashoffset="0" fill="none"/>
<path d="M1136.6 625.5L1302.5 397.5" stroke="#000" stroke-width="5.3" stroke-dasharray="13.5 8" stroke-dashoffset="0" fill="none"/>
<path d="M1135.6 823.5L1303.7 644.2" stroke="#000" stroke-width="5.3" stroke-dasharray="13.5 8" stroke-dashoffset="0" fill="none"/>
<path d="M1186.3 906.7L1303.7 885.6" stroke="#000" stroke-width="5.3" stroke-dasharray="16 6.7" stroke-dashoffset="0" fill="none"/>
<rect x="1307.7" y="14.7" width="273.5" height="22.8" fill="#fff" stroke="#000" stroke-width="2.5"/>
<rect x="1403.0" y="13.4" width="99.7" height="25.3" fill="#000"/>
<rect x="1308.0" y="40.6" width="272.7" height="214.3" fill="#fff" stroke="#8c8c8c" stroke-width="1"/>
<path d="M1304.5 40.6H1308.0M1304.5 94.2H1308.0M1304.5 147.7H1308.0M1304.5 201.3H1308.0M1304.5 254.9H1308.0" stroke="#8c8c8c" stroke-width="1" fill="none"/>
<path d="M1319.8 175.0L1344.9 111.7L1369.7 93.1L1394.3 110.8L1419.4 77.7L1444.5 118.9L1469.4 161.6L1494.0 197.1L1518.9 195.9L1543.7 195.6L1568.3 150.0" stroke="#4F81BD" stroke-width="1.3" fill="none" stroke-linejoin="round"/>
<path d="M1319.8 183.4L1344.9 100.2L1369.7 103.0L1394.3 115.8L1419.4 91.5L1444.5 112.5L1469.4 171.6L1494.0 192.7L1518.9 196.5L1543.7 195.8L1568.3 150.5" stroke="#C0504D" stroke-width="1.3" fill="none" stroke-linejoin="round"/>
<path d="M1319.8 182.0L1344.9 125.0L1369.7 105.7L1394.3 114.5L1419.4 96.0L1444.5 126.5L1469.4 162.0L1494.0 190.7L1518.9 205.1L1543.7 190.9L1568.3 154.0" stroke="#9BBB59" stroke-width="1.3" fill="none" stroke-linejoin="round"/>
<path d="M1319.8 199.6L1344.9 109.0L1369.7 98.0L1394.3 119.8L1419.4 93.4L1444.5 117.5L1469.4 168.1L1494.0 197.5L1518.9 201.2L1543.7 197.0L1568.3 174.7" stroke="#8064A2" stroke-width="1.3" fill="none" stroke-linejoin="round"/>
<path d="M1319.8 190.7L1344.9 116.4L1369.7 114.3L1394.3 121.4L1419.4 93.6L1444.5 120.1L1469.4 173.1L1494.0 198.6L1518.9 201.1L1543.7 201.2L1568.3 168.0" stroke="#4BACC6" stroke-width="1.3" fill="none" stroke-linejoin="round"/>
<path d="M1319.8 175.0L1344.9 124.8L1369.7 107.6L1394.3 111.0L1419.4 98.9L1444.5 118.9L1469.4 164.2L1494.0 199.2L1518.9 205.3L1543.7 198.9L1568.3 173.4" stroke="#F79646" stroke-width="1.3" fill="none" stroke-linejoin="round"/>
<path d="M1319.8 187.4L1344.9 119.0L1369.7 116.4L1394.3 113.7L1419.4 100.0L1444.5 131.6L1469.4 175.0L1494.0 203.5L1518.9 198.1L1543.7 210.3L1568.3 176.9" stroke="#2C4D75" stroke-width="1.3" fill="none" stroke-linejoin="round"/>
<path d="M1319.8 190.5L1344.9 104.1L1369.7 102.6L1394.3 111.8L1419.4 106.6L1444.5 115.5L1469.4 165.3L1494.0 195.7L1518.9 202.2L1543.7 200.5L1568.3 166.3" stroke="#772C2A" stroke-width="1.3" fill="none" stroke-linejoin="round"/>
<path d="M1319.8 175.8L1344.9 107.9L1369.7 68.0L1394.3 109.0L1419.4 43.4L1444.5 87.9L1469.4 150.1L1494.0 185.2L1518.9 248.5L1543.7 245.7L1568.3 190.4" stroke="#93CDDD" stroke-width="1.3" fill="none" stroke-linejoin="round"/>
<path d="M1319.8 187.6L1344.9 92.1L1369.7 113.7L1394.3 66.8L1419.4 76.2L1444.5 126.6L1469.4 178.2L1494.0 221.6L1518.9 204.0L1543.7 201.2L1568.3 167.6" stroke="#9BBB59" stroke-width="1.3" fill="none" stroke-linejoin="round"/>
<path d="M1319.8 167.6L1344.9 144.2L1369.7 96.1L1394.3 147.2L1419.4 91.4L1444.5 127.8L1469.4 159.4L1494.0 166.5L1518.9 178.2L1543.7 191.8L1568.3 156.6" stroke="#C3D69B" stroke-width="1.3" fill="none" stroke-linejoin="round"/>
<path d="M1319.8 174.7L1344.9 123.1L1369.7 116.5L1394.3 120.8L1419.4 106.7L1444.5 126.6L1469.4 155.9L1494.0 185.2L1518.9 173.5L1543.7 162.3L1568.3 171.2" stroke="#358EA6" stroke-width="1.3" fill="none" stroke-linejoin="round"/>
<path d="M1319.8 195.8L1344.9 121.9L1369.7 89.6L1394.3 120.8L1419.4 82.1L1444.5 100.8L1469.4 150.1L1494.0 186.4L1518.9 193.4L1543.7 199.3L1568.3 186.9" stroke="#B3A2C7" stroke-width="1.3" fill="none" stroke-linejoin="round"/>
<path d="M1319.8 187.6L1344.9 133.6L1369.7 97.3L1394.3 114.9L1419.4 76.2L1444.5 111.4L1469.4 168.8L1494.0 193.4L1518.9 195.1L1543.7 181.7L1568.3 157.1" stroke="#F79646" stroke-width="1.3" fill="none" stroke-linejoin="round"/>
<path d="M1319.8 185.2L1344.9 114.9L1369.7 110.2L1394.3 113.7L1419.4 98.5L1444.5 119.6L1469.4 164.1L1494.0 201.6L1518.9 200.5L1543.7 171.2L1568.3 133.6" stroke="#4F81BD" stroke-width="1.3" fill="none" stroke-linejoin="round"/>
<path d="M1319.8 187.6L1344.9 112.5L1369.7 110.2L1394.3 114.9L1419.4 106.7L1444.5 121.9L1469.4 161.8L1494.0 191.8L1518.9 194.6L1543.7 179.4L1568.3 141.1" stroke="#C0504D" stroke-width="1.3" fill="none" stroke-linejoin="round"/>
<text x="1437.5" y="66.5" font-size="24.5"><tspan font-style="italic">p</tspan> =7.9E–08</text>
<rect x="1309.8" y="290.4" width="270.4" height="215.8" fill="#fff" stroke="#8c8c8c" stroke-width="1"/>
<path d="M1306.3 290.4H1309.8M1306.3 333.6H1309.8M1306.3 376.7H1309.8M1306.3 419.8H1309.8M1306.3 463.0H1309.8M1306.3 506.2H1309.8" stroke="#8c8c8c" stroke-width="1" fill="none"/>
<path d="M1321.9 432.3L1346.4 407.7L1371.1 394.5L1395.6 407.7L1420.4 385.4L1444.9 397.1L1469.6 415.7L1494.1 431.2L1518.9 449.0L1543.3 457.5L1568.4 441.7" stroke="#4F81BD" stroke-width="1.3" fill="none" stroke-linejoin="round"/>
<path d="M1321.9 427.8L1346.4 405.7L1371.1 390.2L1395.6 405.9L1420.4 387.2L1444.9 391.6L1469.6 416.9L1494.1 431.6L1518.9 448.9L1543.3 454.5L1568.4 445.7" stroke="#C0504D" stroke-width="1.3" fill="none" stroke-linejoin="round"/>
<path d="M1321.9 439.4L1346.4 405.7L1371.1 389.7L1395.6 406.5L1420.4 388.0L1444.9 398.8L1469.6 419.9L1494.1 434.6L1518.9 456.0L1543.3 458.8L1568.4 450.6" stroke="#9BBB59" stroke-width="1.3" fill="none" stroke-linejoin="round"/>
<path d="M1321.9 434.1L1346.4 404.9L1371.1 394.7L1395.6 409.4L1420.4 387.3L1444.9 399.3L1469.6 417.3L1494.1 434.0L1518.9 451.1L1543.3 454.1L1568.4 440.2" stroke="#8064A2" stroke-width="1.3" fill="none" stroke-linejoin="round"/>
<path d="M1321.9 435.2L1346.4 408.6L1371.1 393.9L1395.6 407.4L1420.4 386.8L1444.9 392.2L1469.6 417.7L1494.1 433.0L1518.9 452.4L1543.3 456.5L1568.4 441.9" stroke="#4BACC6" stroke-width="1.3" fill="none" stroke-linejoin="round"/>
<path d="M1321.9 431.0L1346.4 401.4L1371.1 387.3L1395.6 408.4L1420.4 386.8L1444.9 395.8L1469.6 416.1L1494.1 433.2L1518.9 457.4L1543.3 457.2L1568.4 441.7" stroke="#F79646" stroke-width="1.3" fill="none" stroke-linejoin="round"/>
<path d="M1321.9 419.6L1346.4 405.6L1371.1 394.6L1395.6 407.5L1420.4 386.2L1444.9 395.2L1469.6 414.1L1494.1 433.8L1518.9 449.5L1543.3 454.3L1568.4 446.6" stroke="#2C4D75" stroke-width="1.3" fill="none" stroke-linejoin="round"/>
<path d="M1321.9 476.7L1346.4 421.8L1371.1 368.3L1395.6 431.6L1420.4 309.8L1444.9 369.7L1469.6 430.2L1494.1 447.7L1518.9 429.4L1543.3 466.2L1568.4 460.3" stroke="#F79646" stroke-width="1.3" fill="none" stroke-linejoin="round"/>
<path d="M1321.9 442.9L1346.4 413.3L1371.1 388.0L1395.6 390.8L1420.4 373.1L1444.9 374.8L1469.6 390.8L1494.1 440.1L1518.9 461.2L1543.3 481.7L1568.4 467.7" stroke="#D99694" stroke-width="1.3" fill="none" stroke-linejoin="round"/>
<text x="1453.0" y="324.5" font-size="24.5"><tspan font-style="italic">p</tspan> =0. 006</text>
<rect x="1309.2" y="536.6" width="273.0" height="215.2" fill="#fff" stroke="#8c8c8c" stroke-width="1"/>
<path d="M1305.7 536.6H1309.2M1305.7 644.2H1309.2M1305.7 751.8H1309.2" stroke="#8c8c8c" stroke-width="1" fill="none"/>
<path d="M1321.1 609.7L1345.8 675.9L1370.6 644.9L1395.6 670.2L1420.4 709.6L1445.1 635.1L1469.6 596.5L1494.7 615.4L1519.4 634.5L1544.7 654.2L1569.5 651.1" stroke="#95B3D7" stroke-width="1.3" fill="none" stroke-linejoin="round"/>
<path d="M1321.1 635.6L1345.8 647.7L1370.6 644.9L1395.6 654.8L1420.4 675.0L1445.1 642.1L1469.6 615.4L1494.7 627.2L1519.4 640.7L1544.7 653.3L1569.5 654.2" stroke="#F79646" stroke-width="1.3" fill="none" stroke-linejoin="round"/>
<path d="M1321.1 612.5L1345.8 684.3L1370.6 658.1L1395.6 677.8L1420.4 626.1L1445.1 630.0L1469.6 595.1L1494.7 604.7L1519.4 642.1L1544.7 641.2L1569.5 728.5" stroke="#9BBB59" stroke-width="1.3" fill="none" stroke-linejoin="round"/>
<path d="M1321.1 623.8L1345.8 698.4L1370.6 642.1L1395.6 701.7L1420.4 699.8L1445.1 635.1L1469.6 572.6L1494.7 598.5L1519.4 627.2L1544.7 636.5L1569.5 643.5" stroke="#4BACC6" stroke-width="1.3" fill="none" stroke-linejoin="round"/>
<path d="M1321.1 600.7L1345.8 701.7L1370.6 664.0L1395.6 688.0L1420.4 704.0L1445.1 598.5L1469.6 583.0L1494.7 611.1L1519.4 638.4L1544.7 636.5L1569.5 660.9" stroke="#8064A2" stroke-width="1.3" fill="none" stroke-linejoin="round"/>
<path d="M1321.1 608.3L1345.8 682.9L1370.6 632.2L1395.6 708.2L1420.4 653.3L1445.1 637.9L1469.6 589.5L1494.7 612.5L1519.4 640.7L1544.7 658.1L1569.5 645.5" stroke="#C0504D" stroke-width="1.3" fill="none" stroke-linejoin="round"/>
<path d="M1321.1 606.9L1345.8 711.6L1370.6 620.4L1395.6 711.6L1420.4 653.3L1445.1 576.0L1469.6 547.3L1494.7 590.0L1519.4 647.7L1544.7 677.3L1569.5 743.4" stroke="#4F81BD" stroke-width="1.3" fill="none" stroke-linejoin="round"/>
<text x="1316.0" y="569.0" font-size="24.5"><tspan font-style="italic">p</tspan> =0. 0003</text>
<rect x="1310.6" y="778.0" width="271.6" height="216.0" fill="#fff" stroke="#8c8c8c" stroke-width="1"/>
<path d="M1307.1 799.5H1310.6M1307.1 864.3H1310.6M1307.1 929.0H1310.6M1307.1 994.0H1310.6" stroke="#8c8c8c" stroke-width="1" fill="none"/>
<path d="M1324.2 923.4L1351.4 904.0L1378.2 905.6L1405.5 936.1L1432.2 910.5L1459.2 862.5L1486.5 849.7L1513.2 868.3L1540.5 886.6L1568.1 897.3" stroke="#4F81BD" stroke-width="1.1" fill="none" stroke-linejoin="round"/>
<path d="M1324.2 903.0L1351.4 904.5L1378.2 910.8L1405.5 912.7L1432.2 889.6L1459.2 855.8L1486.5 871.0L1513.2 869.4L1540.5 889.8L1568.1 879.2" stroke="#C0504D" stroke-width="1.1" fill="none" stroke-linejoin="round"/>
<path d="M1324.2 913.3L1351.4 906.7L1378.2 914.4L1405.5 945.0L1432.2 891.9L1459.2 869.6L1486.5 875.4L1513.2 881.1L1540.5 897.4L1568.1 881.7" stroke="#9BBB59" stroke-width="1.1" fill="none" stroke-linejoin="round"/>
<path d="M1324.2 902.3L1351.4 916.2L1378.2 912.2L1405.5 930.3L1432.2 896.1L1459.2 849.4L1486.5 858.9L1513.2 867.2L1540.5 898.2L1568.1 885.1" stroke="#8064A2" stroke-width="1.1" fill="none" stroke-linejoin="round"/>
<path d="M1324.2 890.2L1351.4 894.4L1378.2 901.7L1405.5 935.5L1432.2 897.0L1459.2 856.2L1486.5 850.1L1513.2 879.4L1540.5 877.6L1568.1 880.6" stroke="#4BACC6" stroke-width="1.1" fill="none" stroke-linejoin="round"/>
<path d="M1324.2 900.3L1351.4 911.4L1378.2 921.5L1405.5 927.5L1432.2 896.5L1459.2 856.9L1486.5 852.7L1513.2 855.0L1540.5 878.3L1568.1 889.1" stroke="#F79646" stroke-width="1.1" fill="none" stroke-linejoin="round"/>
<path d="M1324.2 891.1L1351.4 899.2L1378.2 911.6L1405.5 888.0L1432.2 874.5L1459.2 844.2L1486.5 850.6L1513.2 856.9L1540.5 888.7L1568.1 872.9" stroke="#2C4D75" stroke-width="1.1" fill="none" stroke-linejoin="round"/>
<path d="M1324.2 911.5L1351.4 915.9L1378.2 931.8L1405.5 944.7L1432.2 897.7L1459.2 850.3L1486.5 856.6L1513.2 866.1L1540.5 901.0L1568.1 880.7" stroke="#772C2A" stroke-width="1.1" fill="none" stroke-linejoin="round"/>
<path d="M1324.2 905.9L1351.4 902.8L1378.2 889.9L1405.5 910.9L1432.2 865.9L1459.2 829.3L1486.5 844.5L1513.2 862.8L1540.5 870.3L1568.1 886.1" stroke="#5F7530" stroke-width="1.1" fill="none" stroke-linejoin="round"/>
<path d="M1324.2 912.5L1351.4 900.7L1378.2 915.3L1405.5 926.3L1432.2 893.6L1459.2 866.6L1486.5 855.1L1513.2 873.7L1540.5 891.9L1568.1 892.9" stroke="#4D3B62" stroke-width="1.1" fill="none" stroke-linejoin="round"/>
<path d="M1324.2 904.5L1351.4 918.7L1378.2 912.6L1405.5 945.1L1432.2 927.7L1459.2 852.0L1486.5 867.5L1513.2 881.1L1540.5 894.0L1568.1 904.6" stroke="#276A7C" stroke-width="1.1" fill="none" stroke-linejoin="round"/>
<path d="M1324.2 905.9L1351.4 889.7L1378.2 888.0L1405.5 916.7L1432.2 884.3L1459.2 834.6L1486.5 838.3L1513.2 863.2L1540.5 877.2L1568.1 877.8" stroke="#B65708" stroke-width="1.1" fill="none" stroke-linejoin="round"/>
<path d="M1324.2 878.2L1351.4 911.7L1378.2 904.5L1405.5 895.4L1432.2 868.3L1459.2 838.6L1486.5 845.4L1513.2 854.9L1540.5 888.3L1568.1 884.8" stroke="#729ACA" stroke-width="1.1" fill="none" stroke-linejoin="round"/>
<path d="M1324.2 907.6L1351.4 906.4L1378.2 917.1L1405.5 922.5L1432.2 899.3L1459.2 866.9L1486.5 850.7L1513.2 866.1L1540.5 876.8L1568.1 883.3" stroke="#CD7371" stroke-width="1.1" fill="none" stroke-linejoin="round"/>
<path d="M1324.2 901.8L1351.4 904.8L1378.2 909.6L1405.5 899.2L1432.2 895.0L1459.2 844.5L1486.5 850.0L1513.2 864.3L1540.5 868.0L1568.1 884.8" stroke="#AFC97A" stroke-width="1.1" fill="none" stroke-linejoin="round"/>
<path d="M1324.2 905.5L1351.4 896.6L1378.2 912.6L1405.5 915.4L1432.2 884.8L1459.2 855.1L1486.5 844.0L1513.2 871.4L1540.5 875.4L1568.1 879.7" stroke="#9983B5" stroke-width="1.1" fill="none" stroke-linejoin="round"/>
<path d="M1324.2 907.1L1351.4 908.0L1378.2 900.0L1405.5 897.8L1432.2 884.7L1459.2 852.5L1486.5 849.8L1513.2 862.1L1540.5 876.2L1568.1 881.2" stroke="#6FBDD1" stroke-width="1.1" fill="none" stroke-linejoin="round"/>
<path d="M1324.2 884.1L1351.4 903.5L1378.2 880.3L1405.5 894.2L1432.2 888.7L1459.2 841.8L1486.5 847.7L1513.2 859.6L1540.5 864.2L1568.1 894.7" stroke="#F9AB6B" stroke-width="1.1" fill="none" stroke-linejoin="round"/>
<path d="M1324.2 910.3L1351.4 921.6L1378.2 918.5L1405.5 927.0L1432.2 880.8L1459.2 853.2L1486.5 856.0L1513.2 867.0L1540.5 879.4L1568.1 880.5" stroke="#3A679C" stroke-width="1.1" fill="none" stroke-linejoin="round"/>
<path d="M1324.2 899.8L1351.4 908.9L1378.2 917.8L1405.5 926.6L1432.2 888.7L1459.2 868.3L1486.5 860.9L1513.2 861.3L1540.5 878.6L1568.1 887.3" stroke="#9F3B38" stroke-width="1.1" fill="none" stroke-linejoin="round"/>
<path d="M1324.2 907.7L1351.4 886.5L1378.2 885.4L1405.5 928.9L1432.2 889.2L1459.2 829.7L1486.5 850.6L1513.2 873.5L1540.5 872.8L1568.1 873.3" stroke="#7E9D40" stroke-width="1.1" fill="none" stroke-linejoin="round"/>
<path d="M1324.2 889.1L1351.4 884.7L1378.2 896.7L1405.5 889.8L1432.2 882.1L1459.2 867.6L1486.5 837.8L1513.2 870.0L1540.5 885.8L1568.1 863.4" stroke="#664F83" stroke-width="1.1" fill="none" stroke-linejoin="round"/>
<path d="M1324.2 892.7L1351.4 905.8L1378.2 894.8L1405.5 903.9L1432.2 889.4L1459.2 871.8L1486.5 870.0L1513.2 877.0L1540.5 880.4L1568.1 890.1" stroke="#95B3D7" stroke-width="1.5" fill="none" stroke-linejoin="round"/>
<path d="M1324.2 884.3L1351.4 888.5L1378.2 888.6L1405.5 893.3L1432.2 887.2L1459.2 871.1L1486.5 872.6L1513.2 872.8L1540.5 879.7L1568.1 887.8" stroke="#D99694" stroke-width="1.5" fill="none" stroke-linejoin="round"/>
<path d="M1324.2 889.8L1351.4 900.0L1378.2 891.5L1405.5 908.5L1432.2 888.2L1459.2 872.4L1486.5 869.2L1513.2 875.9L1540.5 888.3L1568.1 885.8" stroke="#C3D69B" stroke-width="1.5" fill="none" stroke-linejoin="round"/>
<path d="M1324.2 901.3L1351.4 895.5L1378.2 899.0L1405.5 911.4L1432.2 889.3L1459.2 873.6L1486.5 875.6L1513.2 878.1L1540.5 889.1L1568.1 891.2" stroke="#B3A2C7" stroke-width="1.5" fill="none" stroke-linejoin="round"/>
<path d="M1324.2 888.7L1351.4 886.9L1378.2 891.9L1405.5 901.6L1432.2 885.1L1459.2 867.9L1486.5 871.1L1513.2 872.5L1540.5 881.9L1568.1 880.5" stroke="#93CDDD" stroke-width="1.5" fill="none" stroke-linejoin="round"/>
<path d="M1324.2 889.1L1351.4 889.3L1378.2 900.4L1405.5 907.8L1432.2 885.9L1459.2 873.9L1486.5 866.5L1513.2 877.4L1540.5 883.1L1568.1 884.6" stroke="#FAC090" stroke-width="1.5" fill="none" stroke-linejoin="round"/>
<path d="M1324.2 892.0L1351.4 894.1L1378.2 890.0L1405.5 897.5L1432.2 886.6L1459.2 870.5L1486.5 872.1L1513.2 874.8L1540.5 880.7L1568.1 880.0" stroke="#B9CDE5" stroke-width="1.5" fill="none" stroke-linejoin="round"/>
<path d="M1324.2 889.4L1351.4 890.8L1378.2 890.8L1405.5 899.6L1432.2 883.8L1459.2 874.1L1486.5 872.3L1513.2 873.4L1540.5 881.7L1568.1 882.4" stroke="#E6B9B8" stroke-width="1.5" fill="none" stroke-linejoin="round"/>
<path d="M1324.2 887.9L1351.4 895.8L1378.2 888.9L1405.5 892.4L1432.2 886.5L1459.2 868.6L1486.5 867.4L1513.2 874.0L1540.5 873.9L1568.1 877.7" stroke="#D7E4BD" stroke-width="1.5" fill="none" stroke-linejoin="round"/>
<path d="M1324.2 892.6L1351.4 890.6L1378.2 886.8L1405.5 895.4L1432.2 887.1L1459.2 873.1L1486.5 867.2L1513.2 873.6L1540.5 884.5L1568.1 885.3" stroke="#CCC1DA" stroke-width="1.5" fill="none" stroke-linejoin="round"/>
<path d="M1324.2 892.7L1351.4 893.2L1378.2 893.7L1405.5 902.6L1432.2 886.3L1459.2 871.5L1486.5 871.4L1513.2 873.2L1540.5 880.5L1568.1 882.8" stroke="#B7DEE8" stroke-width="1.5" fill="none" stroke-linejoin="round"/>
<path d="M1324.2 901.8L1351.4 893.5L1378.2 897.8L1405.5 906.1L1432.2 889.9L1459.2 874.0L1486.5 873.5L1513.2 879.3L1540.5 879.9L1568.1 892.7" stroke="#FCD5B5" stroke-width="1.5" fill="none" stroke-linejoin="round"/>
<path d="M1324.2 887.2L1351.4 892.9L1378.2 893.8L1405.5 901.1L1432.2 888.2L1459.2 871.1L1486.5 869.5L1513.2 877.1L1540.5 878.0L1568.1 889.3" stroke="#F79646" stroke-width="1.5" fill="none" stroke-linejoin="round"/>
<path d="M1324.2 892.1L1351.4 893.7L1378.2 892.0L1405.5 902.9L1432.2 888.3L1459.2 872.7L1486.5 867.3L1513.2 871.1L1540.5 882.4L1568.1 885.3" stroke="#8064A2" stroke-width="1.5" fill="none" stroke-linejoin="round"/>
<path d="M1324.2 890.1L1351.4 888.8L1378.2 896.1L1405.5 900.6L1432.2 886.7L1459.2 868.7L1486.5 872.2L1513.2 876.0L1540.5 883.9L1568.1 888.3" stroke="#DCE6F2" stroke-width="1.5" fill="none" stroke-linejoin="round"/>
<path d="M1324.2 885.2L1351.4 896.4L1378.2 888.2L1405.5 899.6L1432.2 886.4L1459.2 872.4L1486.5 871.1L1513.2 871.8L1540.5 877.8L1568.1 879.1" stroke="#F2DCDB" stroke-width="1.5" fill="none" stroke-linejoin="round"/>
<path d="M1324.2 893.2L1351.4 889.4L1378.2 896.9L1405.5 903.7L1432.2 886.5L1459.2 872.4L1486.5 870.6L1513.2 876.3L1540.5 882.5L1568.1 886.0" stroke="#95B3D7" stroke-width="1.5" fill="none" stroke-linejoin="round"/>
<path d="M1324.2 883.2L1351.4 893.5L1378.2 895.3L1405.5 907.0L1432.2 890.3L1459.2 870.5L1486.5 868.0L1513.2 875.2L1540.5 887.6L1568.1 888.4" stroke="#D99694" stroke-width="1.5" fill="none" stroke-linejoin="round"/>
<path d="M1324.2 883.8L1351.4 892.5L1378.2 889.2L1405.5 902.2L1432.2 887.3L1459.2 865.1L1486.5 869.7L1513.2 875.9L1540.5 878.1L1568.1 881.1" stroke="#C3D69B" stroke-width="1.5" fill="none" stroke-linejoin="round"/>
<path d="M1324.2 884.1L1351.4 898.2L1378.2 894.3L1405.5 896.7L1432.2 889.2L1459.2 867.7L1486.5 868.2L1513.2 871.9L1540.5 878.4L1568.1 886.2" stroke="#B3A2C7" stroke-width="1.5" fill="none" stroke-linejoin="round"/>
<path d="M1324.2 900.4L1351.4 897.6L1378.2 897.1L1405.5 906.5L1432.2 891.6L1459.2 873.7L1486.5 874.5L1513.2 879.1L1540.5 886.9L1568.1 888.3" stroke="#93CDDD" stroke-width="1.5" fill="none" stroke-linejoin="round"/>
<path d="M1324.2 894.4L1351.4 891.9L1378.2 886.7L1405.5 901.0L1432.2 890.4L1459.2 872.4L1486.5 876.5L1513.2 877.0L1540.5 879.7L1568.1 887.1" stroke="#FAC090" stroke-width="1.5" fill="none" stroke-linejoin="round"/>
<path d="M1324.2 897.6L1351.4 911.6L1378.2 967.9L1405.5 982.5L1432.2 897.6L1459.2 795.7L1486.5 824.4L1513.2 852.5L1540.5 897.6L1568.1 913.0" stroke="#9F3B38" stroke-width="1.1" fill="none" stroke-linejoin="round"/>
<path d="M1324.2 947.7L1351.4 891.9L1378.2 951.0L1405.5 972.1L1432.2 891.9L1459.2 832.9L1486.5 835.7L1513.2 863.8L1540.5 911.6L1568.1 872.2" stroke="#358EA6" stroke-width="1.1" fill="none" stroke-linejoin="round"/>
<path d="M1324.2 914.5L1351.4 908.8L1378.2 942.6L1405.5 979.2L1432.2 886.3L1459.2 830.0L1486.5 832.9L1513.2 858.2L1540.5 872.2L1568.1 886.3" stroke="#9BBB59" stroke-width="1.1" fill="none" stroke-linejoin="round"/>
<text x="1325.5" y="806.7" font-size="24.5"><tspan font-style="italic">p</tspan> =0. 004</text>
<text x="1293.6" y="48.5" font-size="29" text-anchor="end">1.8</text>
<text x="1293.6" y="263.3" font-size="29" text-anchor="end">0.2</text>
<text x="1293.6" y="300.4" font-size="29" text-anchor="end">4.0</text>
<text x="1293.6" y="515.2" font-size="29" text-anchor="end">−1.0</text>
<text x="1293.6" y="546.2" font-size="29" text-anchor="end">1.4</text>
<text x="1293.6" y="761.1" font-size="29" text-anchor="end">0.6</text>
<text x="1293.6" y="808.7" font-size="29" text-anchor="end">1.4</text>
<text x="1293.6" y="1005.0" font-size="29" text-anchor="end">0.5</text>
<text x="1296.6" y="1027.0" font-size="29">0/24</text>
<text x="1397.5" y="1027.0" font-size="29">12</text>
<text x="1475.0" y="1027.0" font-size="29">0/24</text>
<text x="1437.8" y="1060.0" font-size="29">ZT</text>
<text transform="translate(1630.5,115.1) rotate(90)" font-size="29.2">DNA</text>
<text transform="translate(1594.6,75.9) rotate(90)" font-size="29.2">replication</text>
<text transform="translate(1630.5,353.7) rotate(90)" font-size="29.2">Protein</text>
<text transform="translate(1594.6,297.2) rotate(90)" font-size="29.2">phosphorylation</text>
<text transform="translate(1630.5,567.1) rotate(90)" font-size="29.2">Regulation of</text>
<text transform="translate(1594.6,562.7) rotate(90)" font-size="29.2">transcription</text>
<text transform="translate(1630.5,851.0) rotate(90)" font-size="29.2">Gene</text>
<text transform="translate(1594.6,806.8) rotate(90)" font-size="29.2">expression</text>
<text transform="translate(1672.5,363.2) rotate(90)" font-size="33.4">Relative expression</text>
<text x="4.2" y="1224.2" font-size="41.4" font-weight="bold">b</text>
<text x="120.3" y="1231.8" font-size="29.2">Matched</text>
<text x="424.0" y="1232.0" font-size="29.2">Mismatched</text>
<rect x="10.0" y="1249.2" width="315.0" height="21.0" fill="#fff" stroke="#000" stroke-width="2.4"/>
<rect x="121.6" y="1248.0" width="117.3" height="23.4" fill="#000"/>
<rect x="338.0" y="1245.8" width="316.8" height="23.9" fill="#000"/>
<rect x="452.7" y="1248.4" width="111.6" height="18.7" fill="#fff"/>
<rect x="8.50" y="1275.00" width="317.10" height="266.60" fill="#fff" stroke="#000" stroke-width="2.4"/>
<path d="M10.3 1276.8h12.9v27.8h-12.9zM253.6 1276.8h12.9v27.8h-12.9zM10.3 1306.2h12.9v27.8h-12.9zM253.6 1306.2h12.9v27.8h-12.9zM24.6 1335.6h12.9v27.8h-12.9zM239.3 1335.6h12.9v27.8h-12.9zM253.6 1335.6h12.9v27.8h-12.9zM24.6 1365.0h12.9v27.8h-12.9zM239.3 1365.0h12.9v27.8h-12.9zM253.6 1365.0h12.9v27.8h-12.9zM24.6 1394.4h12.9v27.8h-12.9zM253.6 1394.4h12.9v27.8h-12.9zM10.3 1423.8h12.9v27.8h-12.9zM24.6 1423.8h12.9v27.8h-12.9zM253.6 1423.8h12.9v27.8h-12.9zM253.6 1453.2h12.9v27.8h-12.9zM296.6 1453.2h12.9v27.8h-12.9zM310.9 1453.2h12.9v27.8h-12.9zM38.9 1482.6h12.9v27.8h-12.9zM53.2 1482.6h12.9v27.8h-12.9zM10.3 1512.0h12.9v27.8h-12.9zM24.6 1512.0h12.9v27.8h-12.9z" fill="#b0565d"/>
<path d="M24.6 1276.8h12.9v27.8h-12.9zM24.6 1306.2h12.9v27.8h-12.9z" fill="#96222a"/>
<path d="M38.9 1276.8h12.9v27.8h-12.9zM225.0 1276.8h12.9v27.8h-12.9zM239.3 1276.8h12.9v27.8h-12.9zM267.9 1276.8h12.9v27.8h-12.9zM38.9 1306.2h12.9v27.8h-12.9zM53.2 1306.2h12.9v27.8h-12.9zM225.0 1306.2h12.9v27.8h-12.9zM239.3 1306.2h12.9v27.8h-12.9zM10.3 1335.6h12.9v27.8h-12.9zM38.9 1335.6h12.9v27.8h-12.9zM225.0 1335.6h12.9v27.8h-12.9zM267.9 1335.6h12.9v27.8h-12.9zM282.3 1335.6h12.9v27.8h-12.9zM10.3 1365.0h12.9v27.8h-12.9zM38.9 1365.0h12.9v27.8h-12.9zM225.0 1365.0h12.9v27.8h-12.9zM10.3 1394.4h12.9v27.8h-12.9zM38.9 1394.4h12.9v27.8h-12.9zM239.3 1394.4h12.9v27.8h-12.9zM267.9 1394.4h12.9v27.8h-12.9zM282.3 1394.4h12.9v27.8h-12.9zM38.9 1423.8h12.9v27.8h-12.9zM53.2 1423.8h12.9v27.8h-12.9zM239.3 1423.8h12.9v27.8h-12.9zM239.3 1453.2h12.9v27.8h-12.9zM267.9 1453.2h12.9v27.8h-12.9zM282.3 1453.2h12.9v27.8h-12.9zM24.6 1482.6h12.9v27.8h-12.9zM67.6 1482.6h12.9v27.8h-12.9zM267.9 1482.6h12.9v27.8h-12.9zM182.1 1512.0h12.9v27.8h-12.9zM196.4 1512.0h12.9v27.8h-12.9zM210.7 1512.0h12.9v27.8h-12.9zM225.0 1512.0h12.9v27.8h-12.9zM239.3 1512.0h12.9v27.8h-12.9zM253.6 1512.0h12.9v27.8h-12.9z" fill="#c57a7e"/>
<path d="M53.2 1276.8h12.9v27.8h-12.9zM96.2 1276.8h12.9v27.8h-12.9zM96.2 1335.6h12.9v27.8h-12.9zM296.6 1335.6h12.9v27.8h-12.9zM267.9 1365.0h12.9v27.8h-12.9zM96.2 1394.4h12.9v27.8h-12.9zM210.7 1394.4h12.9v27.8h-12.9zM24.6 1453.2h12.9v27.8h-12.9zM96.2 1482.6h12.9v27.8h-12.9zM38.9 1512.0h12.9v27.8h-12.9zM296.6 1512.0h12.9v27.8h-12.9zM310.9 1512.0h12.9v27.8h-12.9z" fill="#eed6d6"/>
<path d="M67.6 1276.8h12.9v27.8h-12.9zM81.9 1276.8h12.9v27.8h-12.9zM124.8 1306.2h12.9v27.8h-12.9zM139.1 1306.2h12.9v27.8h-12.9zM110.5 1365.0h12.9v27.8h-12.9zM182.1 1365.0h12.9v27.8h-12.9zM196.4 1365.0h12.9v27.8h-12.9zM124.8 1394.4h12.9v27.8h-12.9zM139.1 1394.4h12.9v27.8h-12.9zM124.8 1423.8h12.9v27.8h-12.9zM139.1 1423.8h12.9v27.8h-12.9zM196.4 1453.2h12.9v27.8h-12.9z" fill="#383090"/>
<path d="M110.5 1276.8h12.9v27.8h-12.9zM196.4 1276.8h12.9v27.8h-12.9zM110.5 1306.2h12.9v27.8h-12.9zM296.6 1306.2h12.9v27.8h-12.9zM310.9 1306.2h12.9v27.8h-12.9zM153.4 1335.6h12.9v27.8h-12.9zM167.8 1335.6h12.9v27.8h-12.9zM53.2 1365.0h12.9v27.8h-12.9zM296.6 1365.0h12.9v27.8h-12.9zM153.4 1394.4h12.9v27.8h-12.9zM167.8 1394.4h12.9v27.8h-12.9zM110.5 1423.8h12.9v27.8h-12.9zM153.4 1423.8h12.9v27.8h-12.9zM167.8 1423.8h12.9v27.8h-12.9zM67.6 1453.2h12.9v27.8h-12.9zM153.4 1482.6h12.9v27.8h-12.9zM167.8 1482.6h12.9v27.8h-12.9zM225.0 1482.6h12.9v27.8h-12.9zM253.6 1482.6h12.9v27.8h-12.9zM282.3 1482.6h12.9v27.8h-12.9zM67.6 1512.0h12.9v27.8h-12.9zM96.2 1512.0h12.9v27.8h-12.9zM153.4 1512.0h12.9v27.8h-12.9zM167.8 1512.0h12.9v27.8h-12.9z" fill="#9692c8"/>
<path d="M124.8 1276.8h12.9v27.8h-12.9zM139.1 1276.8h12.9v27.8h-12.9zM124.8 1335.6h12.9v27.8h-12.9zM139.1 1335.6h12.9v27.8h-12.9zM182.1 1394.4h12.9v27.8h-12.9zM196.4 1394.4h12.9v27.8h-12.9zM182.1 1423.8h12.9v27.8h-12.9zM196.4 1423.8h12.9v27.8h-12.9zM124.8 1453.2h12.9v27.8h-12.9zM139.1 1453.2h12.9v27.8h-12.9zM182.1 1453.2h12.9v27.8h-12.9zM124.8 1482.6h12.9v27.8h-12.9zM139.1 1482.6h12.9v27.8h-12.9zM124.8 1512.0h12.9v27.8h-12.9zM139.1 1512.0h12.9v27.8h-12.9z" fill="#0c0670"/>
<path d="M153.4 1276.8h12.9v27.8h-12.9zM167.8 1276.8h12.9v27.8h-12.9zM67.6 1306.2h12.9v27.8h-12.9zM81.9 1306.2h12.9v27.8h-12.9zM153.4 1306.2h12.9v27.8h-12.9zM167.8 1306.2h12.9v27.8h-12.9zM67.6 1335.6h12.9v27.8h-12.9zM81.9 1335.6h12.9v27.8h-12.9zM110.5 1335.6h12.9v27.8h-12.9zM182.1 1335.6h12.9v27.8h-12.9zM196.4 1335.6h12.9v27.8h-12.9zM124.8 1365.0h12.9v27.8h-12.9zM139.1 1365.0h12.9v27.8h-12.9zM153.4 1365.0h12.9v27.8h-12.9zM167.8 1365.0h12.9v27.8h-12.9zM67.6 1394.4h12.9v27.8h-12.9zM81.9 1394.4h12.9v27.8h-12.9zM67.6 1423.8h12.9v27.8h-12.9zM81.9 1423.8h12.9v27.8h-12.9zM53.2 1512.0h12.9v27.8h-12.9zM81.9 1512.0h12.9v27.8h-12.9zM110.5 1512.0h12.9v27.8h-12.9z" fill="#6862ae"/>
<path d="M182.1 1276.8h12.9v27.8h-12.9zM182.1 1306.2h12.9v27.8h-12.9zM196.4 1306.2h12.9v27.8h-12.9zM67.6 1365.0h12.9v27.8h-12.9zM310.9 1365.0h12.9v27.8h-12.9zM110.5 1394.4h12.9v27.8h-12.9zM81.9 1453.2h12.9v27.8h-12.9zM153.4 1453.2h12.9v27.8h-12.9zM167.8 1453.2h12.9v27.8h-12.9zM182.1 1482.6h12.9v27.8h-12.9zM239.3 1482.6h12.9v27.8h-12.9z" fill="#c8c7e3"/>
<path d="M210.7 1276.8h12.9v27.8h-12.9zM282.3 1276.8h12.9v27.8h-12.9zM210.7 1306.2h12.9v27.8h-12.9zM53.2 1335.6h12.9v27.8h-12.9zM210.7 1335.6h12.9v27.8h-12.9zM310.9 1335.6h12.9v27.8h-12.9zM81.9 1365.0h12.9v27.8h-12.9zM96.2 1365.0h12.9v27.8h-12.9zM210.7 1365.0h12.9v27.8h-12.9zM282.3 1365.0h12.9v27.8h-12.9zM53.2 1394.4h12.9v27.8h-12.9zM225.0 1394.4h12.9v27.8h-12.9zM296.6 1394.4h12.9v27.8h-12.9zM310.9 1394.4h12.9v27.8h-12.9zM96.2 1423.8h12.9v27.8h-12.9zM225.0 1423.8h12.9v27.8h-12.9zM267.9 1423.8h12.9v27.8h-12.9zM282.3 1423.8h12.9v27.8h-12.9zM38.9 1453.2h12.9v27.8h-12.9zM53.2 1453.2h12.9v27.8h-12.9zM96.2 1453.2h12.9v27.8h-12.9zM10.3 1482.6h12.9v27.8h-12.9zM81.9 1482.6h12.9v27.8h-12.9zM196.4 1482.6h12.9v27.8h-12.9zM210.7 1482.6h12.9v27.8h-12.9zM296.6 1482.6h12.9v27.8h-12.9zM310.9 1482.6h12.9v27.8h-12.9zM267.9 1512.0h12.9v27.8h-12.9zM282.3 1512.0h12.9v27.8h-12.9z" fill="#d8a6a7"/>
<path d="M296.6 1276.8h12.9v27.8h-12.9zM310.9 1276.8h12.9v27.8h-12.9zM96.2 1306.2h12.9v27.8h-12.9zM267.9 1306.2h12.9v27.8h-12.9zM282.3 1306.2h12.9v27.8h-12.9zM210.7 1423.8h12.9v27.8h-12.9zM296.6 1423.8h12.9v27.8h-12.9zM310.9 1423.8h12.9v27.8h-12.9zM10.3 1453.2h12.9v27.8h-12.9zM110.5 1453.2h12.9v27.8h-12.9zM210.7 1453.2h12.9v27.8h-12.9zM225.0 1453.2h12.9v27.8h-12.9zM110.5 1482.6h12.9v27.8h-12.9z" fill="#f9f8fb"/>
<rect x="337.10" y="1275.00" width="317.60" height="267.20" fill="#fff" stroke="#000" stroke-width="2.4"/>
<path d="M338.9 1276.8h12.9v27.9h-12.9zM353.2 1276.8h12.9v27.9h-12.9zM367.6 1276.8h12.9v27.9h-12.9zM381.9 1276.8h12.9v27.9h-12.9zM482.3 1306.3h12.9v27.9h-12.9zM381.9 1335.7h12.9v27.9h-12.9zM525.3 1335.7h12.9v27.9h-12.9zM467.9 1365.2h12.9v27.9h-12.9zM381.9 1424.1h12.9v27.9h-12.9zM496.6 1424.1h12.9v27.9h-12.9zM396.2 1453.6h12.9v27.9h-12.9zM410.6 1453.6h12.9v27.9h-12.9zM338.9 1483.1h12.9v27.9h-12.9zM597.0 1483.1h12.9v27.9h-12.9zM381.9 1512.5h12.9v27.9h-12.9z" fill="#b0565d"/>
<path d="M396.2 1276.8h12.9v27.9h-12.9zM539.6 1276.8h12.9v27.9h-12.9zM510.9 1335.7h12.9v27.9h-12.9zM553.9 1335.7h12.9v27.9h-12.9zM582.6 1335.7h12.9v27.9h-12.9zM482.3 1365.2h12.9v27.9h-12.9zM568.3 1394.7h12.9v27.9h-12.9zM396.2 1424.1h12.9v27.9h-12.9zM410.6 1424.1h12.9v27.9h-12.9zM539.6 1424.1h12.9v27.9h-12.9zM553.9 1424.1h12.9v27.9h-12.9zM367.6 1453.6h12.9v27.9h-12.9zM353.2 1483.1h12.9v27.9h-12.9zM439.3 1483.1h12.9v27.9h-12.9zM525.3 1512.5h12.9v27.9h-12.9zM582.6 1512.5h12.9v27.9h-12.9z" fill="#eed6d6"/>
<path d="M410.6 1276.8h12.9v27.9h-12.9zM582.6 1276.8h12.9v27.9h-12.9zM553.9 1306.3h12.9v27.9h-12.9zM410.6 1365.2h12.9v27.9h-12.9zM510.9 1365.2h12.9v27.9h-12.9zM625.6 1365.2h12.9v27.9h-12.9zM467.9 1424.1h12.9v27.9h-12.9zM611.3 1453.6h12.9v27.9h-12.9zM453.6 1483.1h12.9v27.9h-12.9zM467.9 1483.1h12.9v27.9h-12.9zM496.6 1483.1h12.9v27.9h-12.9z" fill="#f9f8fb"/>
<path d="M424.9 1276.8h12.9v27.9h-12.9zM625.6 1276.8h12.9v27.9h-12.9zM640.0 1276.8h12.9v27.9h-12.9zM625.6 1306.3h12.9v27.9h-12.9zM640.0 1306.3h12.9v27.9h-12.9zM424.9 1335.7h12.9v27.9h-12.9zM625.6 1335.7h12.9v27.9h-12.9zM640.0 1335.7h12.9v27.9h-12.9zM424.9 1365.2h12.9v27.9h-12.9zM424.9 1394.7h12.9v27.9h-12.9zM439.3 1394.7h12.9v27.9h-12.9zM625.6 1394.7h12.9v27.9h-12.9zM640.0 1394.7h12.9v27.9h-12.9zM424.9 1424.1h12.9v27.9h-12.9zM625.6 1424.1h12.9v27.9h-12.9zM640.0 1424.1h12.9v27.9h-12.9zM424.9 1453.6h12.9v27.9h-12.9zM439.3 1453.6h12.9v27.9h-12.9zM453.6 1453.6h12.9v27.9h-12.9zM410.6 1483.1h12.9v27.9h-12.9zM553.9 1483.1h12.9v27.9h-12.9z" fill="#0c0670"/>
<path d="M439.3 1276.8h12.9v27.9h-12.9zM453.6 1276.8h12.9v27.9h-12.9zM568.3 1276.8h12.9v27.9h-12.9zM597.0 1276.8h12.9v27.9h-12.9zM611.3 1276.8h12.9v27.9h-12.9zM510.9 1306.3h12.9v27.9h-12.9zM582.6 1306.3h12.9v27.9h-12.9zM611.3 1306.3h12.9v27.9h-12.9zM453.6 1335.7h12.9v27.9h-12.9zM568.3 1335.7h12.9v27.9h-12.9zM597.0 1335.7h12.9v27.9h-12.9zM611.3 1335.7h12.9v27.9h-12.9zM496.6 1365.2h12.9v27.9h-12.9zM553.9 1365.2h12.9v27.9h-12.9zM467.9 1394.7h12.9v27.9h-12.9zM597.0 1394.7h12.9v27.9h-12.9zM611.3 1394.7h12.9v27.9h-12.9zM568.3 1424.1h12.9v27.9h-12.9zM611.3 1424.1h12.9v27.9h-12.9zM467.9 1453.6h12.9v27.9h-12.9zM424.9 1483.1h12.9v27.9h-12.9zM424.9 1512.5h12.9v27.9h-12.9zM439.3 1512.5h12.9v27.9h-12.9zM597.0 1512.5h12.9v27.9h-12.9z" fill="#9692c8"/>
<path d="M467.9 1276.8h12.9v27.9h-12.9zM482.3 1276.8h12.9v27.9h-12.9zM496.6 1276.8h12.9v27.9h-12.9zM453.6 1306.3h12.9v27.9h-12.9zM353.2 1335.7h12.9v27.9h-12.9zM396.2 1335.7h12.9v27.9h-12.9zM410.6 1335.7h12.9v27.9h-12.9zM467.9 1335.7h12.9v27.9h-12.9zM496.6 1335.7h12.9v27.9h-12.9zM539.6 1335.7h12.9v27.9h-12.9zM338.9 1365.2h12.9v27.9h-12.9zM353.2 1365.2h12.9v27.9h-12.9zM381.9 1365.2h12.9v27.9h-12.9zM396.2 1365.2h12.9v27.9h-12.9zM525.3 1365.2h12.9v27.9h-12.9zM539.6 1365.2h12.9v27.9h-12.9zM582.6 1365.2h12.9v27.9h-12.9zM510.9 1394.7h12.9v27.9h-12.9zM539.6 1394.7h12.9v27.9h-12.9zM553.9 1394.7h12.9v27.9h-12.9zM582.6 1394.7h12.9v27.9h-12.9zM353.2 1453.6h12.9v27.9h-12.9zM482.3 1453.6h12.9v27.9h-12.9zM510.9 1453.6h12.9v27.9h-12.9zM525.3 1453.6h12.9v27.9h-12.9zM539.6 1453.6h12.9v27.9h-12.9zM553.9 1453.6h12.9v27.9h-12.9zM568.3 1453.6h12.9v27.9h-12.9zM381.9 1483.1h12.9v27.9h-12.9zM482.3 1483.1h12.9v27.9h-12.9zM539.6 1483.1h12.9v27.9h-12.9zM568.3 1483.1h12.9v27.9h-12.9zM582.6 1483.1h12.9v27.9h-12.9zM353.2 1512.5h12.9v27.9h-12.9zM510.9 1512.5h12.9v27.9h-12.9zM539.6 1512.5h12.9v27.9h-12.9z" fill="#d8a6a7"/>
<path d="M510.9 1276.8h12.9v27.9h-12.9zM553.9 1276.8h12.9v27.9h-12.9zM396.2 1306.3h12.9v27.9h-12.9zM410.6 1306.3h12.9v27.9h-12.9zM439.3 1306.3h12.9v27.9h-12.9zM539.6 1306.3h12.9v27.9h-12.9zM453.6 1424.1h12.9v27.9h-12.9zM510.9 1424.1h12.9v27.9h-12.9zM582.6 1424.1h12.9v27.9h-12.9zM496.6 1453.6h12.9v27.9h-12.9zM597.0 1453.6h12.9v27.9h-12.9zM367.6 1483.1h12.9v27.9h-12.9zM525.3 1483.1h12.9v27.9h-12.9zM453.6 1512.5h12.9v27.9h-12.9zM568.3 1512.5h12.9v27.9h-12.9z" fill="#c8c7e3"/>
<path d="M525.3 1276.8h12.9v27.9h-12.9zM338.9 1306.3h12.9v27.9h-12.9zM353.2 1306.3h12.9v27.9h-12.9zM367.6 1306.3h12.9v27.9h-12.9zM381.9 1306.3h12.9v27.9h-12.9zM467.9 1306.3h12.9v27.9h-12.9zM525.3 1306.3h12.9v27.9h-12.9zM338.9 1335.7h12.9v27.9h-12.9zM367.6 1335.7h12.9v27.9h-12.9zM482.3 1335.7h12.9v27.9h-12.9zM597.0 1365.2h12.9v27.9h-12.9zM611.3 1365.2h12.9v27.9h-12.9zM338.9 1394.7h12.9v27.9h-12.9zM353.2 1394.7h12.9v27.9h-12.9zM367.6 1394.7h12.9v27.9h-12.9zM381.9 1394.7h12.9v27.9h-12.9zM396.2 1394.7h12.9v27.9h-12.9zM410.6 1394.7h12.9v27.9h-12.9zM482.3 1394.7h12.9v27.9h-12.9zM496.6 1394.7h12.9v27.9h-12.9zM525.3 1394.7h12.9v27.9h-12.9zM338.9 1424.1h12.9v27.9h-12.9zM353.2 1424.1h12.9v27.9h-12.9zM367.6 1424.1h12.9v27.9h-12.9zM482.3 1424.1h12.9v27.9h-12.9zM525.3 1424.1h12.9v27.9h-12.9zM338.9 1453.6h12.9v27.9h-12.9zM381.9 1453.6h12.9v27.9h-12.9zM582.6 1453.6h12.9v27.9h-12.9zM611.3 1483.1h12.9v27.9h-12.9zM625.6 1483.1h12.9v27.9h-12.9zM640.0 1483.1h12.9v27.9h-12.9zM338.9 1512.5h12.9v27.9h-12.9zM396.2 1512.5h12.9v27.9h-12.9zM410.6 1512.5h12.9v27.9h-12.9zM467.9 1512.5h12.9v27.9h-12.9z" fill="#c57a7e"/>
<path d="M424.9 1306.3h12.9v27.9h-12.9zM568.3 1306.3h12.9v27.9h-12.9zM439.3 1335.7h12.9v27.9h-12.9zM439.3 1365.2h12.9v27.9h-12.9zM453.6 1365.2h12.9v27.9h-12.9zM640.0 1365.2h12.9v27.9h-12.9zM640.0 1453.6h12.9v27.9h-12.9zM510.9 1483.1h12.9v27.9h-12.9zM611.3 1512.5h12.9v27.9h-12.9zM625.6 1512.5h12.9v27.9h-12.9zM640.0 1512.5h12.9v27.9h-12.9z" fill="#383090"/>
<path d="M496.6 1306.3h12.9v27.9h-12.9zM367.6 1365.2h12.9v27.9h-12.9zM367.6 1512.5h12.9v27.9h-12.9z" fill="#96222a"/>
<path d="M597.0 1306.3h12.9v27.9h-12.9zM568.3 1365.2h12.9v27.9h-12.9zM453.6 1394.7h12.9v27.9h-12.9zM439.3 1424.1h12.9v27.9h-12.9zM597.0 1424.1h12.9v27.9h-12.9zM625.6 1453.6h12.9v27.9h-12.9zM396.2 1483.1h12.9v27.9h-12.9zM482.3 1512.5h12.9v27.9h-12.9zM496.6 1512.5h12.9v27.9h-12.9zM553.9 1512.5h12.9v27.9h-12.9z" fill="#6862ae"/>
<text x="663.1" y="1302.8" font-size="26.85">PCHAS_1125100</text>
<text x="663.1" y="1332.2" font-size="26.85">PCHAS_1311800</text>
<text x="661.8" y="1361.3" font-size="26.85">PCHAS_0916200/PGM1</text>
<text x="663.1" y="1390.7" font-size="26.85">PCHAS_1122400</text>
<text x="661.8" y="1420.4" font-size="26.85">PCHAS_1215000/ENO</text>
<text x="661.8" y="1449.5" font-size="26.85">PCHAS_1329700/GAPDH</text>
<text x="663.1" y="1482.6" font-size="26.85">PCHAS_0806800</text>
<text x="663.1" y="1511.7" font-size="26.85">PCHAS_0920600</text>
<text x="661.0" y="1538.4" font-size="26.85">PCHAS_0816700/PFK9</text>
<text x="-1.0" y="1575.0" font-size="29.2">0/24</text>
<text x="119.5" y="1575.0" font-size="29.2">12</text>
<text x="230.4" y="1576.0" font-size="29.2">0/24</text>
<text x="335.0" y="1574.6" font-size="29.2">12</text>
<text x="439.6" y="1572.6" font-size="29.2">0/24</text>
<text x="566.0" y="1574.6" font-size="29.2">12</text>
<text x="134.8" y="1609.4" font-size="29.2">ZT</text>
<text x="470.3" y="1612.4" font-size="29.2">ZT</text>
<text x="241.0" y="1637.8" font-size="29.2">Glycolysis</text>
<rect x="9.90" y="1679.90" width="320.40" height="664.00" fill="#fff" stroke="#000" stroke-width="1.8"/>
<path d="M11.4 1681.4h13.1v30.6h-13.1zM25.9 1681.4h13.1v30.6h-13.1zM156.3 1681.4h13.1v30.6h-13.1zM170.8 1681.4h13.1v30.6h-13.1zM185.3 1747.8h13.1v30.6h-13.1zM199.8 1747.8h13.1v30.6h-13.1zM272.2 1747.8h13.1v30.6h-13.1zM286.7 1747.8h13.1v30.6h-13.1zM199.8 1780.9h13.1v30.6h-13.1zM185.3 1814.1h13.1v30.6h-13.1zM199.8 1814.1h13.1v30.6h-13.1zM228.8 1814.1h13.1v30.6h-13.1zM11.4 1847.3h13.1v30.6h-13.1zM25.9 1847.3h13.1v30.6h-13.1zM185.3 1847.3h13.1v30.6h-13.1zM199.8 1847.3h13.1v30.6h-13.1zM301.2 1847.3h13.1v30.6h-13.1zM185.3 1880.5h13.1v30.6h-13.1zM243.3 1880.5h13.1v30.6h-13.1zM257.7 1880.5h13.1v30.6h-13.1zM185.3 1913.7h13.1v30.6h-13.1zM272.2 1913.7h13.1v30.6h-13.1zM199.8 1980.0h13.1v30.6h-13.1zM257.7 1980.0h13.1v30.6h-13.1zM185.3 2013.2h13.1v30.6h-13.1zM228.8 2013.2h13.1v30.6h-13.1zM185.3 2046.4h13.1v30.6h-13.1zM272.2 2046.4h13.1v30.6h-13.1zM315.7 2046.4h13.1v30.6h-13.1zM185.3 2112.7h13.1v30.6h-13.1zM185.3 2145.9h13.1v30.6h-13.1zM11.4 2212.3h13.1v30.6h-13.1zM214.3 2212.3h13.1v30.6h-13.1zM228.8 2212.3h13.1v30.6h-13.1zM301.2 2212.3h13.1v30.6h-13.1zM315.7 2212.3h13.1v30.6h-13.1zM228.8 2245.5h13.1v30.6h-13.1zM315.7 2245.5h13.1v30.6h-13.1zM228.8 2278.6h13.1v30.6h-13.1zM185.3 2311.8h13.1v30.6h-13.1zM214.3 2311.8h13.1v30.6h-13.1z" fill="#9692c8"/>
<path d="M40.4 1681.4h13.1v30.6h-13.1zM83.9 1681.4h13.1v30.6h-13.1zM286.7 1681.4h13.1v30.6h-13.1zM54.9 1714.6h13.1v30.6h-13.1zM83.9 1714.6h13.1v30.6h-13.1zM98.3 1714.6h13.1v30.6h-13.1zM112.8 1714.6h13.1v30.6h-13.1zM301.2 1714.6h13.1v30.6h-13.1zM40.4 1747.8h13.1v30.6h-13.1zM69.4 1747.8h13.1v30.6h-13.1zM83.9 1747.8h13.1v30.6h-13.1zM98.3 1747.8h13.1v30.6h-13.1zM112.8 1747.8h13.1v30.6h-13.1zM40.4 1780.9h13.1v30.6h-13.1zM69.4 1780.9h13.1v30.6h-13.1zM83.9 1780.9h13.1v30.6h-13.1zM112.8 1780.9h13.1v30.6h-13.1zM127.3 1780.9h13.1v30.6h-13.1zM141.8 1780.9h13.1v30.6h-13.1zM69.4 1814.1h13.1v30.6h-13.1zM98.3 1814.1h13.1v30.6h-13.1zM112.8 1814.1h13.1v30.6h-13.1zM127.3 1814.1h13.1v30.6h-13.1zM141.8 1814.1h13.1v30.6h-13.1zM54.9 1847.3h13.1v30.6h-13.1zM69.4 1847.3h13.1v30.6h-13.1zM83.9 1847.3h13.1v30.6h-13.1zM112.8 1880.5h13.1v30.6h-13.1zM301.2 1880.5h13.1v30.6h-13.1zM315.7 1880.5h13.1v30.6h-13.1zM69.4 1913.7h13.1v30.6h-13.1zM83.9 1913.7h13.1v30.6h-13.1zM112.8 1913.7h13.1v30.6h-13.1zM54.9 1946.8h13.1v30.6h-13.1zM69.4 1946.8h13.1v30.6h-13.1zM83.9 1946.8h13.1v30.6h-13.1zM98.3 1946.8h13.1v30.6h-13.1zM112.8 1946.8h13.1v30.6h-13.1zM127.3 1946.8h13.1v30.6h-13.1zM141.8 1946.8h13.1v30.6h-13.1zM54.9 1980.0h13.1v30.6h-13.1zM69.4 1980.0h13.1v30.6h-13.1zM83.9 1980.0h13.1v30.6h-13.1zM98.3 1980.0h13.1v30.6h-13.1zM112.8 1980.0h13.1v30.6h-13.1zM40.4 2013.2h13.1v30.6h-13.1zM54.9 2013.2h13.1v30.6h-13.1zM69.4 2013.2h13.1v30.6h-13.1zM83.9 2013.2h13.1v30.6h-13.1zM98.3 2013.2h13.1v30.6h-13.1zM112.8 2013.2h13.1v30.6h-13.1zM40.4 2046.4h13.1v30.6h-13.1zM69.4 2046.4h13.1v30.6h-13.1zM98.3 2046.4h13.1v30.6h-13.1zM156.3 2046.4h13.1v30.6h-13.1zM170.8 2046.4h13.1v30.6h-13.1zM54.9 2079.6h13.1v30.6h-13.1zM69.4 2079.6h13.1v30.6h-13.1zM83.9 2079.6h13.1v30.6h-13.1zM112.8 2079.6h13.1v30.6h-13.1zM156.3 2079.6h13.1v30.6h-13.1zM170.8 2079.6h13.1v30.6h-13.1zM69.4 2112.7h13.1v30.6h-13.1zM112.8 2112.7h13.1v30.6h-13.1zM156.3 2112.7h13.1v30.6h-13.1zM170.8 2112.7h13.1v30.6h-13.1zM40.4 2145.9h13.1v30.6h-13.1zM54.9 2145.9h13.1v30.6h-13.1zM69.4 2145.9h13.1v30.6h-13.1zM83.9 2145.9h13.1v30.6h-13.1zM98.3 2145.9h13.1v30.6h-13.1zM112.8 2145.9h13.1v30.6h-13.1zM127.3 2145.9h13.1v30.6h-13.1zM141.8 2145.9h13.1v30.6h-13.1zM40.4 2179.1h13.1v30.6h-13.1zM69.4 2179.1h13.1v30.6h-13.1zM83.9 2179.1h13.1v30.6h-13.1zM98.3 2179.1h13.1v30.6h-13.1zM112.8 2179.1h13.1v30.6h-13.1zM127.3 2179.1h13.1v30.6h-13.1zM141.8 2179.1h13.1v30.6h-13.1zM69.4 2212.3h13.1v30.6h-13.1zM83.9 2212.3h13.1v30.6h-13.1zM112.8 2212.3h13.1v30.6h-13.1zM156.3 2212.3h13.1v30.6h-13.1zM170.8 2212.3h13.1v30.6h-13.1zM112.8 2245.5h13.1v30.6h-13.1zM156.3 2245.5h13.1v30.6h-13.1zM170.8 2245.5h13.1v30.6h-13.1zM40.4 2278.6h13.1v30.6h-13.1zM54.9 2278.6h13.1v30.6h-13.1zM69.4 2278.6h13.1v30.6h-13.1zM83.9 2278.6h13.1v30.6h-13.1zM112.8 2278.6h13.1v30.6h-13.1zM156.3 2278.6h13.1v30.6h-13.1zM170.8 2278.6h13.1v30.6h-13.1z" fill="#c57a7e"/>
<path d="M54.9 1681.4h13.1v30.6h-13.1zM69.4 1681.4h13.1v30.6h-13.1zM127.3 1714.6h13.1v30.6h-13.1zM141.8 1714.6h13.1v30.6h-13.1zM286.7 1714.6h13.1v30.6h-13.1zM301.2 1747.8h13.1v30.6h-13.1zM40.4 1880.5h13.1v30.6h-13.1zM54.9 1880.5h13.1v30.6h-13.1zM156.3 1880.5h13.1v30.6h-13.1zM170.8 1880.5h13.1v30.6h-13.1zM156.3 1946.8h13.1v30.6h-13.1zM170.8 1946.8h13.1v30.6h-13.1zM40.4 2112.7h13.1v30.6h-13.1zM301.2 2145.9h13.1v30.6h-13.1zM315.7 2145.9h13.1v30.6h-13.1zM301.2 2179.1h13.1v30.6h-13.1zM315.7 2179.1h13.1v30.6h-13.1zM199.8 2212.3h13.1v30.6h-13.1zM199.8 2245.5h13.1v30.6h-13.1zM54.9 2311.8h13.1v30.6h-13.1z" fill="#eed6d6"/>
<path d="M98.3 1681.4h13.1v30.6h-13.1zM243.3 1681.4h13.1v30.6h-13.1zM257.7 1681.4h13.1v30.6h-13.1zM40.4 1714.6h13.1v30.6h-13.1zM69.4 1714.6h13.1v30.6h-13.1zM272.2 1714.6h13.1v30.6h-13.1zM156.3 1747.8h13.1v30.6h-13.1zM170.8 1747.8h13.1v30.6h-13.1zM315.7 1747.8h13.1v30.6h-13.1zM156.3 1780.9h13.1v30.6h-13.1zM170.8 1780.9h13.1v30.6h-13.1zM301.2 1780.9h13.1v30.6h-13.1zM315.7 1780.9h13.1v30.6h-13.1zM156.3 1814.1h13.1v30.6h-13.1zM170.8 1814.1h13.1v30.6h-13.1zM301.2 1814.1h13.1v30.6h-13.1zM315.7 1814.1h13.1v30.6h-13.1zM112.8 1847.3h13.1v30.6h-13.1zM156.3 1847.3h13.1v30.6h-13.1zM170.8 1847.3h13.1v30.6h-13.1zM69.4 1880.5h13.1v30.6h-13.1zM83.9 1880.5h13.1v30.6h-13.1zM98.3 1880.5h13.1v30.6h-13.1zM127.3 1880.5h13.1v30.6h-13.1zM141.8 1880.5h13.1v30.6h-13.1zM272.2 1880.5h13.1v30.6h-13.1zM286.7 1880.5h13.1v30.6h-13.1zM40.4 1913.7h13.1v30.6h-13.1zM54.9 1913.7h13.1v30.6h-13.1zM98.3 1913.7h13.1v30.6h-13.1zM156.3 1913.7h13.1v30.6h-13.1zM170.8 1913.7h13.1v30.6h-13.1zM301.2 1913.7h13.1v30.6h-13.1zM315.7 1913.7h13.1v30.6h-13.1zM40.4 1946.8h13.1v30.6h-13.1zM301.2 1946.8h13.1v30.6h-13.1zM315.7 1946.8h13.1v30.6h-13.1zM40.4 1980.0h13.1v30.6h-13.1zM156.3 1980.0h13.1v30.6h-13.1zM170.8 1980.0h13.1v30.6h-13.1zM301.2 1980.0h13.1v30.6h-13.1zM315.7 1980.0h13.1v30.6h-13.1zM156.3 2013.2h13.1v30.6h-13.1zM170.8 2013.2h13.1v30.6h-13.1zM54.9 2046.4h13.1v30.6h-13.1zM112.8 2046.4h13.1v30.6h-13.1zM40.4 2079.6h13.1v30.6h-13.1zM98.3 2079.6h13.1v30.6h-13.1zM54.9 2112.7h13.1v30.6h-13.1zM98.3 2112.7h13.1v30.6h-13.1zM156.3 2145.9h13.1v30.6h-13.1zM170.8 2145.9h13.1v30.6h-13.1zM156.3 2179.1h13.1v30.6h-13.1zM170.8 2179.1h13.1v30.6h-13.1zM40.4 2212.3h13.1v30.6h-13.1zM54.9 2212.3h13.1v30.6h-13.1zM98.3 2212.3h13.1v30.6h-13.1zM40.4 2245.5h13.1v30.6h-13.1zM54.9 2245.5h13.1v30.6h-13.1zM98.3 2245.5h13.1v30.6h-13.1zM98.3 2278.6h13.1v30.6h-13.1zM112.8 2311.8h13.1v30.6h-13.1zM156.3 2311.8h13.1v30.6h-13.1zM170.8 2311.8h13.1v30.6h-13.1z" fill="#d8a6a7"/>
<path d="M112.8 1681.4h13.1v30.6h-13.1zM156.3 1714.6h13.1v30.6h-13.1zM170.8 1714.6h13.1v30.6h-13.1zM257.7 1714.6h13.1v30.6h-13.1zM272.2 1980.0h13.1v30.6h-13.1zM286.7 1980.0h13.1v30.6h-13.1zM315.7 2013.2h13.1v30.6h-13.1zM199.8 2079.6h13.1v30.6h-13.1zM315.7 2079.6h13.1v30.6h-13.1zM315.7 2112.7h13.1v30.6h-13.1zM185.3 2212.3h13.1v30.6h-13.1zM185.3 2245.5h13.1v30.6h-13.1zM199.8 2278.6h13.1v30.6h-13.1zM40.4 2311.8h13.1v30.6h-13.1zM98.3 2311.8h13.1v30.6h-13.1zM199.8 2311.8h13.1v30.6h-13.1z" fill="#f9f8fb"/>
<path d="M127.3 1681.4h13.1v30.6h-13.1zM141.8 1681.4h13.1v30.6h-13.1zM228.8 1681.4h13.1v30.6h-13.1zM243.3 1714.6h13.1v30.6h-13.1zM286.7 1780.9h13.1v30.6h-13.1zM315.7 1847.3h13.1v30.6h-13.1zM199.8 1880.5h13.1v30.6h-13.1zM199.8 1913.7h13.1v30.6h-13.1zM286.7 1913.7h13.1v30.6h-13.1zM185.3 1946.8h13.1v30.6h-13.1zM199.8 1946.8h13.1v30.6h-13.1zM272.2 1946.8h13.1v30.6h-13.1zM286.7 1946.8h13.1v30.6h-13.1zM199.8 2013.2h13.1v30.6h-13.1zM301.2 2013.2h13.1v30.6h-13.1zM199.8 2046.4h13.1v30.6h-13.1zM185.3 2079.6h13.1v30.6h-13.1zM301.2 2079.6h13.1v30.6h-13.1zM199.8 2112.7h13.1v30.6h-13.1zM301.2 2112.7h13.1v30.6h-13.1zM199.8 2145.9h13.1v30.6h-13.1zM199.8 2179.1h13.1v30.6h-13.1zM185.3 2278.6h13.1v30.6h-13.1zM301.2 2278.6h13.1v30.6h-13.1zM315.7 2278.6h13.1v30.6h-13.1zM301.2 2311.8h13.1v30.6h-13.1zM315.7 2311.8h13.1v30.6h-13.1z" fill="#c8c7e3"/>
<path d="M185.3 1681.4h13.1v30.6h-13.1zM199.8 1681.4h13.1v30.6h-13.1zM11.4 1714.6h13.1v30.6h-13.1zM185.3 1714.6h13.1v30.6h-13.1zM214.3 1714.6h13.1v30.6h-13.1zM25.9 1814.1h13.1v30.6h-13.1zM11.4 1880.5h13.1v30.6h-13.1zM25.9 1880.5h13.1v30.6h-13.1zM11.4 1913.7h13.1v30.6h-13.1zM25.9 1913.7h13.1v30.6h-13.1zM11.4 1946.8h13.1v30.6h-13.1zM25.9 1946.8h13.1v30.6h-13.1zM11.4 1980.0h13.1v30.6h-13.1zM214.3 1980.0h13.1v30.6h-13.1zM25.9 2145.9h13.1v30.6h-13.1z" fill="#0c0670"/>
<path d="M214.3 1681.4h13.1v30.6h-13.1zM25.9 1714.6h13.1v30.6h-13.1zM228.8 1747.8h13.1v30.6h-13.1zM257.7 1747.8h13.1v30.6h-13.1zM185.3 1780.9h13.1v30.6h-13.1zM257.7 1780.9h13.1v30.6h-13.1zM272.2 1780.9h13.1v30.6h-13.1zM11.4 1814.1h13.1v30.6h-13.1zM257.7 1814.1h13.1v30.6h-13.1zM272.2 1814.1h13.1v30.6h-13.1zM286.7 1814.1h13.1v30.6h-13.1zM228.8 1847.3h13.1v30.6h-13.1zM257.7 1847.3h13.1v30.6h-13.1zM286.7 1847.3h13.1v30.6h-13.1zM228.8 1880.5h13.1v30.6h-13.1zM243.3 1913.7h13.1v30.6h-13.1zM257.7 1913.7h13.1v30.6h-13.1zM228.8 1946.8h13.1v30.6h-13.1zM243.3 1946.8h13.1v30.6h-13.1zM185.3 1980.0h13.1v30.6h-13.1zM11.4 2013.2h13.1v30.6h-13.1zM257.7 2013.2h13.1v30.6h-13.1zM11.4 2046.4h13.1v30.6h-13.1zM25.9 2046.4h13.1v30.6h-13.1zM228.8 2046.4h13.1v30.6h-13.1zM243.3 2046.4h13.1v30.6h-13.1zM257.7 2046.4h13.1v30.6h-13.1zM286.7 2046.4h13.1v30.6h-13.1zM301.2 2046.4h13.1v30.6h-13.1zM11.4 2079.6h13.1v30.6h-13.1zM228.8 2079.6h13.1v30.6h-13.1zM11.4 2112.7h13.1v30.6h-13.1zM228.8 2112.7h13.1v30.6h-13.1zM272.2 2112.7h13.1v30.6h-13.1zM286.7 2112.7h13.1v30.6h-13.1zM228.8 2145.9h13.1v30.6h-13.1zM272.2 2145.9h13.1v30.6h-13.1zM286.7 2145.9h13.1v30.6h-13.1zM11.4 2179.1h13.1v30.6h-13.1zM185.3 2179.1h13.1v30.6h-13.1zM228.8 2179.1h13.1v30.6h-13.1zM257.7 2179.1h13.1v30.6h-13.1zM272.2 2179.1h13.1v30.6h-13.1zM286.7 2179.1h13.1v30.6h-13.1zM25.9 2212.3h13.1v30.6h-13.1zM11.4 2245.5h13.1v30.6h-13.1zM25.9 2245.5h13.1v30.6h-13.1zM214.3 2245.5h13.1v30.6h-13.1zM243.3 2245.5h13.1v30.6h-13.1zM301.2 2245.5h13.1v30.6h-13.1zM11.4 2278.6h13.1v30.6h-13.1zM11.4 2311.8h13.1v30.6h-13.1zM25.9 2311.8h13.1v30.6h-13.1zM228.8 2311.8h13.1v30.6h-13.1zM243.3 2311.8h13.1v30.6h-13.1zM286.7 2311.8h13.1v30.6h-13.1z" fill="#6862ae"/>
<path d="M272.2 1681.4h13.1v30.6h-13.1zM301.2 1681.4h13.1v30.6h-13.1zM315.7 1681.4h13.1v30.6h-13.1zM315.7 1714.6h13.1v30.6h-13.1zM54.9 1747.8h13.1v30.6h-13.1zM127.3 1747.8h13.1v30.6h-13.1zM141.8 1747.8h13.1v30.6h-13.1zM54.9 1780.9h13.1v30.6h-13.1zM98.3 1780.9h13.1v30.6h-13.1zM40.4 1814.1h13.1v30.6h-13.1zM54.9 1814.1h13.1v30.6h-13.1zM83.9 1814.1h13.1v30.6h-13.1zM40.4 1847.3h13.1v30.6h-13.1zM127.3 1847.3h13.1v30.6h-13.1zM141.8 1847.3h13.1v30.6h-13.1zM127.3 1913.7h13.1v30.6h-13.1zM141.8 1913.7h13.1v30.6h-13.1zM127.3 1980.0h13.1v30.6h-13.1zM141.8 1980.0h13.1v30.6h-13.1zM127.3 2013.2h13.1v30.6h-13.1zM141.8 2013.2h13.1v30.6h-13.1zM83.9 2046.4h13.1v30.6h-13.1zM127.3 2046.4h13.1v30.6h-13.1zM141.8 2046.4h13.1v30.6h-13.1zM127.3 2079.6h13.1v30.6h-13.1zM141.8 2079.6h13.1v30.6h-13.1zM83.9 2112.7h13.1v30.6h-13.1zM127.3 2112.7h13.1v30.6h-13.1zM141.8 2112.7h13.1v30.6h-13.1zM54.9 2179.1h13.1v30.6h-13.1zM127.3 2212.3h13.1v30.6h-13.1zM141.8 2212.3h13.1v30.6h-13.1zM69.4 2245.5h13.1v30.6h-13.1zM83.9 2245.5h13.1v30.6h-13.1zM127.3 2245.5h13.1v30.6h-13.1zM141.8 2245.5h13.1v30.6h-13.1zM127.3 2278.6h13.1v30.6h-13.1zM141.8 2278.6h13.1v30.6h-13.1zM83.9 2311.8h13.1v30.6h-13.1z" fill="#b0565d"/>
<path d="M199.8 1714.6h13.1v30.6h-13.1zM228.8 1714.6h13.1v30.6h-13.1zM11.4 1747.8h13.1v30.6h-13.1zM25.9 1747.8h13.1v30.6h-13.1zM214.3 1747.8h13.1v30.6h-13.1zM243.3 1747.8h13.1v30.6h-13.1zM11.4 1780.9h13.1v30.6h-13.1zM25.9 1780.9h13.1v30.6h-13.1zM214.3 1780.9h13.1v30.6h-13.1zM228.8 1780.9h13.1v30.6h-13.1zM243.3 1780.9h13.1v30.6h-13.1zM214.3 1814.1h13.1v30.6h-13.1zM243.3 1814.1h13.1v30.6h-13.1zM214.3 1847.3h13.1v30.6h-13.1zM243.3 1847.3h13.1v30.6h-13.1zM272.2 1847.3h13.1v30.6h-13.1zM214.3 1880.5h13.1v30.6h-13.1zM214.3 1913.7h13.1v30.6h-13.1zM228.8 1913.7h13.1v30.6h-13.1zM214.3 1946.8h13.1v30.6h-13.1zM257.7 1946.8h13.1v30.6h-13.1zM25.9 1980.0h13.1v30.6h-13.1zM228.8 1980.0h13.1v30.6h-13.1zM243.3 1980.0h13.1v30.6h-13.1zM25.9 2013.2h13.1v30.6h-13.1zM214.3 2013.2h13.1v30.6h-13.1zM243.3 2013.2h13.1v30.6h-13.1zM272.2 2013.2h13.1v30.6h-13.1zM286.7 2013.2h13.1v30.6h-13.1zM214.3 2046.4h13.1v30.6h-13.1zM25.9 2079.6h13.1v30.6h-13.1zM214.3 2079.6h13.1v30.6h-13.1zM243.3 2079.6h13.1v30.6h-13.1zM257.7 2079.6h13.1v30.6h-13.1zM272.2 2079.6h13.1v30.6h-13.1zM286.7 2079.6h13.1v30.6h-13.1zM25.9 2112.7h13.1v30.6h-13.1zM214.3 2112.7h13.1v30.6h-13.1zM243.3 2112.7h13.1v30.6h-13.1zM257.7 2112.7h13.1v30.6h-13.1zM11.4 2145.9h13.1v30.6h-13.1zM214.3 2145.9h13.1v30.6h-13.1zM243.3 2145.9h13.1v30.6h-13.1zM257.7 2145.9h13.1v30.6h-13.1zM25.9 2179.1h13.1v30.6h-13.1zM214.3 2179.1h13.1v30.6h-13.1zM243.3 2179.1h13.1v30.6h-13.1zM243.3 2212.3h13.1v30.6h-13.1zM257.7 2212.3h13.1v30.6h-13.1zM272.2 2212.3h13.1v30.6h-13.1zM286.7 2212.3h13.1v30.6h-13.1zM257.7 2245.5h13.1v30.6h-13.1zM272.2 2245.5h13.1v30.6h-13.1zM286.7 2245.5h13.1v30.6h-13.1zM25.9 2278.6h13.1v30.6h-13.1zM214.3 2278.6h13.1v30.6h-13.1zM243.3 2278.6h13.1v30.6h-13.1zM257.7 2278.6h13.1v30.6h-13.1zM272.2 2278.6h13.1v30.6h-13.1zM286.7 2278.6h13.1v30.6h-13.1zM257.7 2311.8h13.1v30.6h-13.1zM272.2 2311.8h13.1v30.6h-13.1z" fill="#383090"/>
<path d="M98.3 1847.3h13.1v30.6h-13.1zM69.4 2311.8h13.1v30.6h-13.1zM127.3 2311.8h13.1v30.6h-13.1zM141.8 2311.8h13.1v30.6h-13.1z" fill="#96222a"/>
<rect x="341.90" y="1677.90" width="318.00" height="664.00" fill="#fff" stroke="#000" stroke-width="1.8"/>
<path d="M343.4 1682.0h13.0v30.5h-13.0zM386.5 1682.0h13.0v30.5h-13.0zM400.9 1682.0h13.0v30.5h-13.0zM487.2 1682.0h13.0v30.5h-13.0zM544.7 1682.0h13.0v30.5h-13.0zM573.5 1682.0h13.0v30.5h-13.0zM631.0 1715.1h13.0v30.5h-13.0zM645.4 1715.1h13.0v30.5h-13.0zM357.8 1748.2h13.0v30.5h-13.0zM429.7 1748.2h13.0v30.5h-13.0zM587.9 1748.2h13.0v30.5h-13.0zM343.4 1781.3h13.0v30.5h-13.0zM343.4 1814.4h13.0v30.5h-13.0zM444.1 1814.4h13.0v30.5h-13.0zM587.9 1814.4h13.0v30.5h-13.0zM530.4 1847.5h13.0v30.5h-13.0zM429.7 1880.6h13.0v30.5h-13.0zM559.1 1880.6h13.0v30.5h-13.0zM415.3 1913.7h13.0v30.5h-13.0zM400.9 1946.8h13.0v30.5h-13.0zM415.3 1946.8h13.0v30.5h-13.0zM429.7 1946.8h13.0v30.5h-13.0zM415.3 1979.9h13.0v30.5h-13.0zM429.7 1979.9h13.0v30.5h-13.0zM444.1 1979.9h13.0v30.5h-13.0zM573.5 1979.9h13.0v30.5h-13.0zM357.8 2079.1h13.0v30.5h-13.0zM357.8 2145.3h13.0v30.5h-13.0zM587.9 2145.3h13.0v30.5h-13.0zM429.7 2178.4h13.0v30.5h-13.0zM587.9 2178.4h13.0v30.5h-13.0zM458.5 2211.5h13.0v30.5h-13.0zM458.5 2244.6h13.0v30.5h-13.0zM458.5 2277.7h13.0v30.5h-13.0z" fill="#d8a6a7"/>
<path d="M357.8 1682.0h13.0v30.5h-13.0zM415.3 1682.0h13.0v30.5h-13.0zM559.1 1682.0h13.0v30.5h-13.0zM343.4 1748.2h13.0v30.5h-13.0zM400.9 1814.4h13.0v30.5h-13.0zM415.3 1814.4h13.0v30.5h-13.0zM343.4 1847.5h13.0v30.5h-13.0zM357.8 1847.5h13.0v30.5h-13.0zM587.9 1847.5h13.0v30.5h-13.0zM516.0 1880.6h13.0v30.5h-13.0zM357.8 1913.7h13.0v30.5h-13.0zM400.9 1979.9h13.0v30.5h-13.0zM343.4 2013.0h13.0v30.5h-13.0zM472.8 2013.0h13.0v30.5h-13.0zM530.4 2013.0h13.0v30.5h-13.0zM573.5 2013.0h13.0v30.5h-13.0zM343.4 2046.0h13.0v30.5h-13.0zM357.8 2046.0h13.0v30.5h-13.0zM458.5 2046.0h13.0v30.5h-13.0zM472.8 2046.0h13.0v30.5h-13.0zM343.4 2079.1h13.0v30.5h-13.0zM587.9 2079.1h13.0v30.5h-13.0zM573.5 2112.2h13.0v30.5h-13.0zM400.9 2145.3h13.0v30.5h-13.0zM415.3 2145.3h13.0v30.5h-13.0zM472.8 2145.3h13.0v30.5h-13.0zM343.4 2178.4h13.0v30.5h-13.0zM400.9 2178.4h13.0v30.5h-13.0zM415.3 2178.4h13.0v30.5h-13.0zM487.2 2178.4h13.0v30.5h-13.0zM559.1 2178.4h13.0v30.5h-13.0zM573.5 2211.5h13.0v30.5h-13.0zM573.5 2244.6h13.0v30.5h-13.0zM343.4 2277.7h13.0v30.5h-13.0zM472.8 2277.7h13.0v30.5h-13.0zM501.6 2277.7h13.0v30.5h-13.0zM587.9 2277.7h13.0v30.5h-13.0zM458.5 2310.8h13.0v30.5h-13.0zM573.5 2310.8h13.0v30.5h-13.0z" fill="#f9f8fb"/>
<path d="M372.2 1682.0h13.0v30.5h-13.0zM587.9 1682.0h13.0v30.5h-13.0zM602.3 1682.0h13.0v30.5h-13.0zM616.7 1682.0h13.0v30.5h-13.0zM631.0 1682.0h13.0v30.5h-13.0zM415.3 1715.1h13.0v30.5h-13.0zM573.5 1715.1h13.0v30.5h-13.0zM602.3 1715.1h13.0v30.5h-13.0zM616.7 1715.1h13.0v30.5h-13.0zM444.1 1748.2h13.0v30.5h-13.0zM357.8 1781.3h13.0v30.5h-13.0zM400.9 1781.3h13.0v30.5h-13.0zM415.3 1781.3h13.0v30.5h-13.0zM573.5 1781.3h13.0v30.5h-13.0zM587.9 1781.3h13.0v30.5h-13.0zM631.0 1781.3h13.0v30.5h-13.0zM645.4 1781.3h13.0v30.5h-13.0zM357.8 1814.4h13.0v30.5h-13.0zM429.7 1847.5h13.0v30.5h-13.0zM400.9 1880.6h13.0v30.5h-13.0zM415.3 1880.6h13.0v30.5h-13.0zM587.9 1880.6h13.0v30.5h-13.0zM602.3 1880.6h13.0v30.5h-13.0zM616.7 1880.6h13.0v30.5h-13.0zM645.4 1880.6h13.0v30.5h-13.0zM429.7 1913.7h13.0v30.5h-13.0zM573.5 1913.7h13.0v30.5h-13.0zM602.3 1913.7h13.0v30.5h-13.0zM573.5 1946.8h13.0v30.5h-13.0zM587.9 1946.8h13.0v30.5h-13.0zM357.8 1979.9h13.0v30.5h-13.0zM587.9 1979.9h13.0v30.5h-13.0zM429.7 2013.0h13.0v30.5h-13.0zM429.7 2046.0h13.0v30.5h-13.0zM429.7 2079.1h13.0v30.5h-13.0zM444.1 2079.1h13.0v30.5h-13.0zM444.1 2112.2h13.0v30.5h-13.0zM429.7 2145.3h13.0v30.5h-13.0zM444.1 2145.3h13.0v30.5h-13.0zM444.1 2178.4h13.0v30.5h-13.0zM602.3 2211.5h13.0v30.5h-13.0zM429.7 2277.7h13.0v30.5h-13.0zM444.1 2310.8h13.0v30.5h-13.0z" fill="#c57a7e"/>
<path d="M429.7 1682.0h13.0v30.5h-13.0zM458.5 1682.0h13.0v30.5h-13.0zM501.6 1682.0h13.0v30.5h-13.0zM458.5 1715.1h13.0v30.5h-13.0zM501.6 1715.1h13.0v30.5h-13.0zM372.2 1748.2h13.0v30.5h-13.0zM516.0 1748.2h13.0v30.5h-13.0zM372.2 1814.4h13.0v30.5h-13.0zM372.2 1880.6h13.0v30.5h-13.0zM372.2 1913.7h13.0v30.5h-13.0zM372.2 1946.8h13.0v30.5h-13.0zM386.5 1946.8h13.0v30.5h-13.0zM372.2 1979.9h13.0v30.5h-13.0zM372.2 2013.0h13.0v30.5h-13.0zM544.7 2013.0h13.0v30.5h-13.0zM372.2 2079.1h13.0v30.5h-13.0zM544.7 2079.1h13.0v30.5h-13.0zM372.2 2145.3h13.0v30.5h-13.0zM372.2 2178.4h13.0v30.5h-13.0zM386.5 2178.4h13.0v30.5h-13.0zM372.2 2277.7h13.0v30.5h-13.0z" fill="#0c0670"/>
<path d="M444.1 1682.0h13.0v30.5h-13.0zM472.8 1682.0h13.0v30.5h-13.0zM372.2 1715.1h13.0v30.5h-13.0zM544.7 1781.3h13.0v30.5h-13.0zM487.2 1814.4h13.0v30.5h-13.0zM501.6 1814.4h13.0v30.5h-13.0zM530.4 1814.4h13.0v30.5h-13.0zM559.1 1814.4h13.0v30.5h-13.0zM386.5 1847.5h13.0v30.5h-13.0zM400.9 1847.5h13.0v30.5h-13.0zM559.1 1847.5h13.0v30.5h-13.0zM343.4 1880.6h13.0v30.5h-13.0zM357.8 1880.6h13.0v30.5h-13.0zM458.5 1880.6h13.0v30.5h-13.0zM472.8 1880.6h13.0v30.5h-13.0zM501.6 1880.6h13.0v30.5h-13.0zM530.4 1880.6h13.0v30.5h-13.0zM386.5 1913.7h13.0v30.5h-13.0zM343.4 1946.8h13.0v30.5h-13.0zM386.5 1979.9h13.0v30.5h-13.0zM458.5 1979.9h13.0v30.5h-13.0zM530.4 1979.9h13.0v30.5h-13.0zM544.7 1979.9h13.0v30.5h-13.0zM559.1 2013.0h13.0v30.5h-13.0zM400.9 2046.0h13.0v30.5h-13.0zM415.3 2046.0h13.0v30.5h-13.0zM501.6 2046.0h13.0v30.5h-13.0zM559.1 2079.1h13.0v30.5h-13.0zM372.2 2112.2h13.0v30.5h-13.0zM415.3 2112.2h13.0v30.5h-13.0zM501.6 2112.2h13.0v30.5h-13.0zM516.0 2112.2h13.0v30.5h-13.0zM544.7 2112.2h13.0v30.5h-13.0zM487.2 2145.3h13.0v30.5h-13.0zM501.6 2145.3h13.0v30.5h-13.0zM343.4 2211.5h13.0v30.5h-13.0zM400.9 2211.5h13.0v30.5h-13.0zM544.7 2211.5h13.0v30.5h-13.0zM372.2 2244.6h13.0v30.5h-13.0zM415.3 2244.6h13.0v30.5h-13.0zM544.7 2244.6h13.0v30.5h-13.0zM559.1 2244.6h13.0v30.5h-13.0zM400.9 2277.7h13.0v30.5h-13.0zM415.3 2277.7h13.0v30.5h-13.0zM343.4 2310.8h13.0v30.5h-13.0zM357.8 2310.8h13.0v30.5h-13.0zM372.2 2310.8h13.0v30.5h-13.0zM544.7 2310.8h13.0v30.5h-13.0z" fill="#6862ae"/>
<path d="M516.0 1682.0h13.0v30.5h-13.0zM530.4 1682.0h13.0v30.5h-13.0zM645.4 1682.0h13.0v30.5h-13.0zM343.4 1715.1h13.0v30.5h-13.0zM357.8 1715.1h13.0v30.5h-13.0zM544.7 1715.1h13.0v30.5h-13.0zM559.1 1715.1h13.0v30.5h-13.0zM400.9 1748.2h13.0v30.5h-13.0zM415.3 1748.2h13.0v30.5h-13.0zM559.1 1748.2h13.0v30.5h-13.0zM573.5 1748.2h13.0v30.5h-13.0zM429.7 1781.3h13.0v30.5h-13.0zM444.1 1781.3h13.0v30.5h-13.0zM429.7 1814.4h13.0v30.5h-13.0zM573.5 1814.4h13.0v30.5h-13.0zM458.5 1847.5h13.0v30.5h-13.0zM544.7 1880.6h13.0v30.5h-13.0zM400.9 1913.7h13.0v30.5h-13.0zM444.1 1913.7h13.0v30.5h-13.0zM587.9 1913.7h13.0v30.5h-13.0zM444.1 1946.8h13.0v30.5h-13.0zM559.1 1946.8h13.0v30.5h-13.0zM343.4 1979.9h13.0v30.5h-13.0zM357.8 2013.0h13.0v30.5h-13.0zM458.5 2013.0h13.0v30.5h-13.0zM587.9 2013.0h13.0v30.5h-13.0zM458.5 2079.1h13.0v30.5h-13.0zM573.5 2079.1h13.0v30.5h-13.0zM472.8 2112.2h13.0v30.5h-13.0zM587.9 2112.2h13.0v30.5h-13.0zM343.4 2145.3h13.0v30.5h-13.0zM573.5 2145.3h13.0v30.5h-13.0zM357.8 2178.4h13.0v30.5h-13.0zM458.5 2178.4h13.0v30.5h-13.0zM573.5 2178.4h13.0v30.5h-13.0zM472.8 2211.5h13.0v30.5h-13.0zM501.6 2211.5h13.0v30.5h-13.0zM472.8 2244.6h13.0v30.5h-13.0zM357.8 2277.7h13.0v30.5h-13.0z" fill="#eed6d6"/>
<path d="M386.5 1715.1h13.0v30.5h-13.0zM429.7 1715.1h13.0v30.5h-13.0zM444.1 1715.1h13.0v30.5h-13.0zM530.4 1715.1h13.0v30.5h-13.0zM472.8 1748.2h13.0v30.5h-13.0zM501.6 1748.2h13.0v30.5h-13.0zM530.4 1748.2h13.0v30.5h-13.0zM458.5 1781.3h13.0v30.5h-13.0zM530.4 1781.3h13.0v30.5h-13.0zM458.5 1814.4h13.0v30.5h-13.0zM415.3 1847.5h13.0v30.5h-13.0zM487.2 1847.5h13.0v30.5h-13.0zM501.6 1847.5h13.0v30.5h-13.0zM487.2 1880.6h13.0v30.5h-13.0zM343.4 1913.7h13.0v30.5h-13.0zM458.5 1913.7h13.0v30.5h-13.0zM487.2 1913.7h13.0v30.5h-13.0zM516.0 1913.7h13.0v30.5h-13.0zM530.4 1913.7h13.0v30.5h-13.0zM544.7 1913.7h13.0v30.5h-13.0zM357.8 1946.8h13.0v30.5h-13.0zM458.5 1946.8h13.0v30.5h-13.0zM472.8 1946.8h13.0v30.5h-13.0zM487.2 1946.8h13.0v30.5h-13.0zM516.0 1946.8h13.0v30.5h-13.0zM530.4 1946.8h13.0v30.5h-13.0zM544.7 1946.8h13.0v30.5h-13.0zM415.3 2013.0h13.0v30.5h-13.0zM372.2 2046.0h13.0v30.5h-13.0zM386.5 2046.0h13.0v30.5h-13.0zM573.5 2046.0h13.0v30.5h-13.0zM400.9 2079.1h13.0v30.5h-13.0zM415.3 2079.1h13.0v30.5h-13.0zM487.2 2079.1h13.0v30.5h-13.0zM530.4 2079.1h13.0v30.5h-13.0zM343.4 2112.2h13.0v30.5h-13.0zM357.8 2112.2h13.0v30.5h-13.0zM400.9 2112.2h13.0v30.5h-13.0zM487.2 2112.2h13.0v30.5h-13.0zM530.4 2112.2h13.0v30.5h-13.0zM559.1 2112.2h13.0v30.5h-13.0zM530.4 2145.3h13.0v30.5h-13.0zM559.1 2145.3h13.0v30.5h-13.0zM501.6 2178.4h13.0v30.5h-13.0zM357.8 2211.5h13.0v30.5h-13.0zM516.0 2211.5h13.0v30.5h-13.0zM559.1 2211.5h13.0v30.5h-13.0zM343.4 2244.6h13.0v30.5h-13.0zM357.8 2244.6h13.0v30.5h-13.0zM516.0 2244.6h13.0v30.5h-13.0zM559.1 2277.7h13.0v30.5h-13.0zM400.9 2310.8h13.0v30.5h-13.0zM487.2 2310.8h13.0v30.5h-13.0zM501.6 2310.8h13.0v30.5h-13.0zM516.0 2310.8h13.0v30.5h-13.0zM530.4 2310.8h13.0v30.5h-13.0zM587.9 2310.8h13.0v30.5h-13.0z" fill="#9692c8"/>
<path d="M400.9 1715.1h13.0v30.5h-13.0zM587.9 1715.1h13.0v30.5h-13.0zM602.3 1748.2h13.0v30.5h-13.0zM631.0 1748.2h13.0v30.5h-13.0zM645.4 1748.2h13.0v30.5h-13.0zM602.3 1781.3h13.0v30.5h-13.0zM616.7 1781.3h13.0v30.5h-13.0zM602.3 1814.4h13.0v30.5h-13.0zM616.7 1814.4h13.0v30.5h-13.0zM631.0 1814.4h13.0v30.5h-13.0zM645.4 1814.4h13.0v30.5h-13.0zM444.1 1847.5h13.0v30.5h-13.0zM602.3 1847.5h13.0v30.5h-13.0zM631.0 1847.5h13.0v30.5h-13.0zM645.4 1847.5h13.0v30.5h-13.0zM573.5 1880.6h13.0v30.5h-13.0zM631.0 1880.6h13.0v30.5h-13.0zM616.7 1913.7h13.0v30.5h-13.0zM602.3 1946.8h13.0v30.5h-13.0zM616.7 1946.8h13.0v30.5h-13.0zM631.0 1946.8h13.0v30.5h-13.0zM645.4 1946.8h13.0v30.5h-13.0zM602.3 1979.9h13.0v30.5h-13.0zM616.7 1979.9h13.0v30.5h-13.0zM631.0 1979.9h13.0v30.5h-13.0zM645.4 1979.9h13.0v30.5h-13.0zM444.1 2013.0h13.0v30.5h-13.0zM602.3 2013.0h13.0v30.5h-13.0zM616.7 2013.0h13.0v30.5h-13.0zM631.0 2013.0h13.0v30.5h-13.0zM645.4 2013.0h13.0v30.5h-13.0zM602.3 2046.0h13.0v30.5h-13.0zM616.7 2046.0h13.0v30.5h-13.0zM645.4 2046.0h13.0v30.5h-13.0zM602.3 2079.1h13.0v30.5h-13.0zM616.7 2079.1h13.0v30.5h-13.0zM631.0 2079.1h13.0v30.5h-13.0zM645.4 2079.1h13.0v30.5h-13.0zM429.7 2112.2h13.0v30.5h-13.0zM602.3 2112.2h13.0v30.5h-13.0zM616.7 2112.2h13.0v30.5h-13.0zM602.3 2145.3h13.0v30.5h-13.0zM616.7 2145.3h13.0v30.5h-13.0zM631.0 2145.3h13.0v30.5h-13.0zM645.4 2145.3h13.0v30.5h-13.0zM602.3 2178.4h13.0v30.5h-13.0zM616.7 2178.4h13.0v30.5h-13.0zM631.0 2178.4h13.0v30.5h-13.0zM645.4 2178.4h13.0v30.5h-13.0zM429.7 2211.5h13.0v30.5h-13.0zM444.1 2211.5h13.0v30.5h-13.0zM616.7 2211.5h13.0v30.5h-13.0zM645.4 2211.5h13.0v30.5h-13.0zM429.7 2244.6h13.0v30.5h-13.0zM444.1 2244.6h13.0v30.5h-13.0zM602.3 2244.6h13.0v30.5h-13.0zM616.7 2244.6h13.0v30.5h-13.0zM631.0 2244.6h13.0v30.5h-13.0zM645.4 2244.6h13.0v30.5h-13.0zM444.1 2277.7h13.0v30.5h-13.0zM602.3 2277.7h13.0v30.5h-13.0zM616.7 2277.7h13.0v30.5h-13.0zM631.0 2277.7h13.0v30.5h-13.0zM645.4 2277.7h13.0v30.5h-13.0zM429.7 2310.8h13.0v30.5h-13.0zM602.3 2310.8h13.0v30.5h-13.0zM616.7 2310.8h13.0v30.5h-13.0z" fill="#b0565d"/>
<path d="M472.8 1715.1h13.0v30.5h-13.0zM386.5 1748.2h13.0v30.5h-13.0zM544.7 1748.2h13.0v30.5h-13.0zM372.2 1781.3h13.0v30.5h-13.0zM386.5 1781.3h13.0v30.5h-13.0zM472.8 1781.3h13.0v30.5h-13.0zM487.2 1781.3h13.0v30.5h-13.0zM501.6 1781.3h13.0v30.5h-13.0zM516.0 1781.3h13.0v30.5h-13.0zM386.5 1814.4h13.0v30.5h-13.0zM516.0 1814.4h13.0v30.5h-13.0zM544.7 1814.4h13.0v30.5h-13.0zM372.2 1847.5h13.0v30.5h-13.0zM516.0 1847.5h13.0v30.5h-13.0zM544.7 1847.5h13.0v30.5h-13.0zM386.5 1880.6h13.0v30.5h-13.0zM472.8 1913.7h13.0v30.5h-13.0zM501.6 1913.7h13.0v30.5h-13.0zM501.6 1946.8h13.0v30.5h-13.0zM472.8 1979.9h13.0v30.5h-13.0zM501.6 1979.9h13.0v30.5h-13.0zM516.0 1979.9h13.0v30.5h-13.0zM386.5 2013.0h13.0v30.5h-13.0zM516.0 2013.0h13.0v30.5h-13.0zM516.0 2046.0h13.0v30.5h-13.0zM544.7 2046.0h13.0v30.5h-13.0zM559.1 2046.0h13.0v30.5h-13.0zM386.5 2079.1h13.0v30.5h-13.0zM516.0 2079.1h13.0v30.5h-13.0zM386.5 2112.2h13.0v30.5h-13.0zM386.5 2145.3h13.0v30.5h-13.0zM516.0 2145.3h13.0v30.5h-13.0zM544.7 2145.3h13.0v30.5h-13.0zM516.0 2178.4h13.0v30.5h-13.0zM544.7 2178.4h13.0v30.5h-13.0zM372.2 2211.5h13.0v30.5h-13.0zM386.5 2211.5h13.0v30.5h-13.0zM415.3 2211.5h13.0v30.5h-13.0zM386.5 2244.6h13.0v30.5h-13.0zM400.9 2244.6h13.0v30.5h-13.0zM386.5 2277.7h13.0v30.5h-13.0zM516.0 2277.7h13.0v30.5h-13.0zM544.7 2277.7h13.0v30.5h-13.0zM386.5 2310.8h13.0v30.5h-13.0z" fill="#383090"/>
<path d="M487.2 1715.1h13.0v30.5h-13.0zM516.0 1715.1h13.0v30.5h-13.0zM458.5 1748.2h13.0v30.5h-13.0zM487.2 1748.2h13.0v30.5h-13.0zM559.1 1781.3h13.0v30.5h-13.0zM472.8 1814.4h13.0v30.5h-13.0zM472.8 1847.5h13.0v30.5h-13.0zM573.5 1847.5h13.0v30.5h-13.0zM444.1 1880.6h13.0v30.5h-13.0zM559.1 1913.7h13.0v30.5h-13.0zM487.2 1979.9h13.0v30.5h-13.0zM559.1 1979.9h13.0v30.5h-13.0zM400.9 2013.0h13.0v30.5h-13.0zM487.2 2013.0h13.0v30.5h-13.0zM501.6 2013.0h13.0v30.5h-13.0zM487.2 2046.0h13.0v30.5h-13.0zM530.4 2046.0h13.0v30.5h-13.0zM587.9 2046.0h13.0v30.5h-13.0zM472.8 2079.1h13.0v30.5h-13.0zM501.6 2079.1h13.0v30.5h-13.0zM458.5 2112.2h13.0v30.5h-13.0zM458.5 2145.3h13.0v30.5h-13.0zM472.8 2178.4h13.0v30.5h-13.0zM530.4 2178.4h13.0v30.5h-13.0zM487.2 2211.5h13.0v30.5h-13.0zM530.4 2211.5h13.0v30.5h-13.0zM587.9 2211.5h13.0v30.5h-13.0zM487.2 2244.6h13.0v30.5h-13.0zM501.6 2244.6h13.0v30.5h-13.0zM530.4 2244.6h13.0v30.5h-13.0zM587.9 2244.6h13.0v30.5h-13.0zM487.2 2277.7h13.0v30.5h-13.0zM530.4 2277.7h13.0v30.5h-13.0zM573.5 2277.7h13.0v30.5h-13.0zM415.3 2310.8h13.0v30.5h-13.0zM472.8 2310.8h13.0v30.5h-13.0zM559.1 2310.8h13.0v30.5h-13.0z" fill="#c8c7e3"/>
<path d="M616.7 1748.2h13.0v30.5h-13.0zM616.7 1847.5h13.0v30.5h-13.0zM631.0 1913.7h13.0v30.5h-13.0zM645.4 1913.7h13.0v30.5h-13.0zM444.1 2046.0h13.0v30.5h-13.0zM631.0 2046.0h13.0v30.5h-13.0zM631.0 2112.2h13.0v30.5h-13.0zM645.4 2112.2h13.0v30.5h-13.0zM631.0 2211.5h13.0v30.5h-13.0zM631.0 2310.8h13.0v30.5h-13.0zM645.4 2310.8h13.0v30.5h-13.0z" fill="#96222a"/>
<text x="668.6" y="1708.9" font-size="26.85">PCHAS_1108100/SSB</text>
<text x="669.6" y="1744.0" font-size="26.85">PCHAS_0407200</text>
<text x="669.6" y="1779.2" font-size="26.85">PCHAS_0316800/RFC2</text>
<text x="671.3" y="1810.6" font-size="26.85">PCHAS_0501400</text>
<text x="668.6" y="1842.8" font-size="26.85">PCHAS_0727400/MCM9</text>
<text x="669.2" y="1873.6" font-size="26.85">PCHAS_0904800/RAD51</text>
<text x="671.3" y="1906.5" font-size="26.85">PCHAS_1220700</text>
<text x="670.6" y="1943.4" font-size="26.85">PCHAS_1330200</text>
<text x="668.2" y="1976.6" font-size="26.85">PCHAS_1443400/PCNA2</text>
<text x="670.6" y="2007.6" font-size="26.85">PCHAS_1451200</text>
<text x="668.2" y="2043.7" font-size="26.85">PCHAS_0611900/MCM5</text>
<text x="669.6" y="2074.5" font-size="26.85">PCHAS_0613300</text>
<text x="669.6" y="2110.0" font-size="26.85">PCHAS_0614900</text>
<text x="668.2" y="2142.8" font-size="26.85">PCHAS_0803300/ORC2</text>
<text x="670.2" y="2175.7" font-size="26.85">PCHAS_1131100/MCM6</text>
<text x="669.2" y="2207.9" font-size="26.85">PCHAS_1457400/RFC4</text>
<text x="669.6" y="2238.7" font-size="26.85">PCHAS_0314600/ORC5</text>
<text x="671.3" y="2272.1" font-size="26.85">PCHAS_0514000</text>
<text x="669.2" y="2308.0" font-size="26.85">PCHAS_1242200/MCM3</text>
<text x="670.6" y="2340.8" font-size="26.85">PCHAS_1353400</text>
<text x="-1.0" y="2378.0" font-size="29.2">0/24</text>
<text x="123.0" y="2378.0" font-size="29.2">12</text>
<text x="221.4" y="2378.0" font-size="29.2">0/24</text>
<text x="341.5" y="2378.0" font-size="29.2">12</text>
<text x="448.0" y="2378.0" font-size="29.2">0/24</text>
<text x="567.0" y="2378.0" font-size="29.2">12</text>
<text x="137.5" y="2422.3" font-size="29.2">ZT</text>
<text x="469.0" y="2419.8" font-size="29.2">ZT</text>
<text x="224.9" y="2449.8" font-size="29.2">DNA replication</text>
<text x="1131.5" y="1234.9" font-size="29.2">Matched</text>
<text x="1430.0" y="1234.9" font-size="29.2">Mismatched</text>
<rect x="1023.6" y="1246.6" width="314.4" height="21.6" fill="#fff" stroke="#000" stroke-width="2.4"/>
<rect x="1135.2" y="1245.4" width="117.5" height="24.0" fill="#000"/>
<rect x="1355.0" y="1245.4" width="317.2" height="24.3" fill="#000"/>
<rect x="1471.0" y="1248.2" width="110.2" height="18.7" fill="#fff"/>
<rect x="1021.50" y="1275.80" width="316.60" height="770.40" fill="#fff" stroke="#000" stroke-width="2.2"/>
<path d="M1023.2 1277.5h12.9v28.6h-12.9zM1223.4 1277.5h12.9v28.6h-12.9zM1223.4 1308.3h12.9v28.6h-12.9zM1223.4 1339.0h12.9v28.6h-12.9zM1023.2 1369.8h12.9v28.6h-12.9zM1223.4 1400.6h12.9v28.6h-12.9zM1023.2 1431.3h12.9v28.6h-12.9zM1037.5 1431.3h12.9v28.6h-12.9zM1023.2 1462.1h12.9v28.6h-12.9zM1223.4 1492.9h12.9v28.6h-12.9zM1037.5 1554.4h12.9v28.6h-12.9zM1223.4 1585.2h12.9v28.6h-12.9zM1223.4 1615.9h12.9v28.6h-12.9zM1237.7 1615.9h12.9v28.6h-12.9zM1237.7 1646.7h12.9v28.6h-12.9zM1023.2 1677.5h12.9v28.6h-12.9zM1037.5 1677.5h12.9v28.6h-12.9zM1237.7 1677.5h12.9v28.6h-12.9zM1023.2 1708.3h12.9v28.6h-12.9zM1223.4 1708.3h12.9v28.6h-12.9zM1237.7 1739.0h12.9v28.6h-12.9zM1194.8 1769.8h12.9v28.6h-12.9zM1209.1 1769.8h12.9v28.6h-12.9zM1237.7 1769.8h12.9v28.6h-12.9zM1223.4 1800.6h12.9v28.6h-12.9zM1223.4 1831.3h12.9v28.6h-12.9zM1223.4 1862.1h12.9v28.6h-12.9zM1223.4 1892.9h12.9v28.6h-12.9zM1223.4 1923.6h12.9v28.6h-12.9zM1223.4 1954.4h12.9v28.6h-12.9zM1237.7 1954.4h12.9v28.6h-12.9zM1223.4 1985.2h12.9v28.6h-12.9zM1237.7 1985.2h12.9v28.6h-12.9zM1223.4 2015.9h12.9v28.6h-12.9z" fill="#383090"/>
<path d="M1037.5 1277.5h12.9v28.6h-12.9zM1037.5 1369.8h12.9v28.6h-12.9zM1223.4 1369.8h12.9v28.6h-12.9zM1237.7 1369.8h12.9v28.6h-12.9zM1237.7 1400.6h12.9v28.6h-12.9zM1223.4 1431.3h12.9v28.6h-12.9zM1237.7 1431.3h12.9v28.6h-12.9zM1037.5 1462.1h12.9v28.6h-12.9zM1023.2 1492.9h12.9v28.6h-12.9zM1237.7 1492.9h12.9v28.6h-12.9zM1023.2 1523.6h12.9v28.6h-12.9zM1223.4 1523.6h12.9v28.6h-12.9zM1237.7 1523.6h12.9v28.6h-12.9zM1223.4 1554.4h12.9v28.6h-12.9zM1237.7 1554.4h12.9v28.6h-12.9zM1237.7 1585.2h12.9v28.6h-12.9zM1194.8 1646.7h12.9v28.6h-12.9zM1223.4 1677.5h12.9v28.6h-12.9zM1237.7 1708.3h12.9v28.6h-12.9zM1023.2 1739.0h12.9v28.6h-12.9zM1223.4 1739.0h12.9v28.6h-12.9zM1223.4 1769.8h12.9v28.6h-12.9zM1266.3 1769.8h12.9v28.6h-12.9zM1023.2 1800.6h12.9v28.6h-12.9zM1237.7 1800.6h12.9v28.6h-12.9zM1023.2 1831.3h12.9v28.6h-12.9zM1237.7 1831.3h12.9v28.6h-12.9zM1023.2 1862.1h12.9v28.6h-12.9zM1037.5 1862.1h12.9v28.6h-12.9zM1237.7 1862.1h12.9v28.6h-12.9zM1237.7 1923.6h12.9v28.6h-12.9zM1237.7 2015.9h12.9v28.6h-12.9z" fill="#6862ae"/>
<path d="M1051.8 1277.5h12.9v28.6h-12.9zM1094.7 1277.5h12.9v28.6h-12.9zM1266.3 1277.5h12.9v28.6h-12.9zM1094.7 1308.3h12.9v28.6h-12.9zM1309.2 1308.3h12.9v28.6h-12.9zM1323.5 1308.3h12.9v28.6h-12.9zM1094.7 1339.0h12.9v28.6h-12.9zM1266.3 1339.0h12.9v28.6h-12.9zM1280.6 1339.0h12.9v28.6h-12.9zM1051.8 1369.8h12.9v28.6h-12.9zM1080.4 1369.8h12.9v28.6h-12.9zM1137.6 1369.8h12.9v28.6h-12.9zM1151.9 1369.8h12.9v28.6h-12.9zM1266.3 1369.8h12.9v28.6h-12.9zM1280.6 1369.8h12.9v28.6h-12.9zM1294.9 1369.8h12.9v28.6h-12.9zM1280.6 1400.6h12.9v28.6h-12.9zM1309.2 1400.6h12.9v28.6h-12.9zM1323.5 1400.6h12.9v28.6h-12.9zM1051.8 1431.3h12.9v28.6h-12.9zM1080.4 1431.3h12.9v28.6h-12.9zM1266.3 1431.3h12.9v28.6h-12.9zM1080.4 1462.1h12.9v28.6h-12.9zM1123.3 1462.1h12.9v28.6h-12.9zM1266.3 1462.1h12.9v28.6h-12.9zM1294.9 1462.1h12.9v28.6h-12.9zM1080.4 1492.9h12.9v28.6h-12.9zM1123.3 1492.9h12.9v28.6h-12.9zM1266.3 1492.9h12.9v28.6h-12.9zM1309.2 1492.9h12.9v28.6h-12.9zM1094.7 1523.6h12.9v28.6h-12.9zM1280.6 1523.6h12.9v28.6h-12.9zM1309.2 1523.6h12.9v28.6h-12.9zM1080.4 1554.4h12.9v28.6h-12.9zM1094.7 1554.4h12.9v28.6h-12.9zM1137.6 1585.2h12.9v28.6h-12.9zM1151.9 1585.2h12.9v28.6h-12.9zM1323.5 1585.2h12.9v28.6h-12.9zM1094.7 1615.9h12.9v28.6h-12.9zM1066.1 1646.7h12.9v28.6h-12.9zM1094.7 1646.7h12.9v28.6h-12.9zM1294.9 1646.7h12.9v28.6h-12.9zM1094.7 1677.5h12.9v28.6h-12.9zM1109.0 1677.5h12.9v28.6h-12.9zM1323.5 1677.5h12.9v28.6h-12.9zM1094.7 1708.3h12.9v28.6h-12.9zM1137.6 1708.3h12.9v28.6h-12.9zM1151.9 1708.3h12.9v28.6h-12.9zM1280.6 1708.3h12.9v28.6h-12.9zM1309.2 1708.3h12.9v28.6h-12.9zM1323.5 1708.3h12.9v28.6h-12.9zM1051.8 1739.0h12.9v28.6h-12.9zM1137.6 1739.0h12.9v28.6h-12.9zM1151.9 1739.0h12.9v28.6h-12.9zM1280.6 1769.8h12.9v28.6h-12.9zM1294.9 1769.8h12.9v28.6h-12.9zM1266.3 1800.6h12.9v28.6h-12.9zM1280.6 1800.6h12.9v28.6h-12.9zM1309.2 1800.6h12.9v28.6h-12.9zM1066.1 1831.3h12.9v28.6h-12.9zM1080.4 1831.3h12.9v28.6h-12.9zM1309.2 1831.3h12.9v28.6h-12.9zM1094.7 1862.1h12.9v28.6h-12.9zM1137.6 1862.1h12.9v28.6h-12.9zM1151.9 1862.1h12.9v28.6h-12.9zM1266.3 1862.1h12.9v28.6h-12.9zM1323.5 1862.1h12.9v28.6h-12.9zM1080.4 1892.9h12.9v28.6h-12.9zM1137.6 1892.9h12.9v28.6h-12.9zM1151.9 1892.9h12.9v28.6h-12.9zM1094.7 1923.6h12.9v28.6h-12.9zM1137.6 1923.6h12.9v28.6h-12.9zM1151.9 1923.6h12.9v28.6h-12.9zM1323.5 1923.6h12.9v28.6h-12.9zM1280.6 1954.4h12.9v28.6h-12.9zM1080.4 1985.2h12.9v28.6h-12.9zM1266.3 1985.2h12.9v28.6h-12.9zM1080.4 2015.9h12.9v28.6h-12.9zM1323.5 2015.9h12.9v28.6h-12.9z" fill="#d8a6a7"/>
<path d="M1066.1 1277.5h12.9v28.6h-12.9zM1109.0 1277.5h12.9v28.6h-12.9zM1123.3 1277.5h12.9v28.6h-12.9zM1280.6 1277.5h12.9v28.6h-12.9zM1309.2 1277.5h12.9v28.6h-12.9zM1323.5 1277.5h12.9v28.6h-12.9zM1051.8 1308.3h12.9v28.6h-12.9zM1109.0 1308.3h12.9v28.6h-12.9zM1123.3 1308.3h12.9v28.6h-12.9zM1266.3 1308.3h12.9v28.6h-12.9zM1051.8 1339.0h12.9v28.6h-12.9zM1109.0 1339.0h12.9v28.6h-12.9zM1123.3 1339.0h12.9v28.6h-12.9zM1066.1 1369.8h12.9v28.6h-12.9zM1109.0 1369.8h12.9v28.6h-12.9zM1309.2 1369.8h12.9v28.6h-12.9zM1323.5 1369.8h12.9v28.6h-12.9zM1051.8 1400.6h12.9v28.6h-12.9zM1109.0 1400.6h12.9v28.6h-12.9zM1123.3 1400.6h12.9v28.6h-12.9zM1266.3 1400.6h12.9v28.6h-12.9zM1066.1 1431.3h12.9v28.6h-12.9zM1094.7 1431.3h12.9v28.6h-12.9zM1109.0 1431.3h12.9v28.6h-12.9zM1123.3 1431.3h12.9v28.6h-12.9zM1280.6 1431.3h12.9v28.6h-12.9zM1309.2 1431.3h12.9v28.6h-12.9zM1323.5 1431.3h12.9v28.6h-12.9zM1051.8 1462.1h12.9v28.6h-12.9zM1066.1 1462.1h12.9v28.6h-12.9zM1094.7 1462.1h12.9v28.6h-12.9zM1109.0 1462.1h12.9v28.6h-12.9zM1280.6 1462.1h12.9v28.6h-12.9zM1309.2 1462.1h12.9v28.6h-12.9zM1051.8 1492.9h12.9v28.6h-12.9zM1094.7 1492.9h12.9v28.6h-12.9zM1109.0 1492.9h12.9v28.6h-12.9zM1323.5 1492.9h12.9v28.6h-12.9zM1051.8 1523.6h12.9v28.6h-12.9zM1109.0 1523.6h12.9v28.6h-12.9zM1123.3 1523.6h12.9v28.6h-12.9zM1266.3 1523.6h12.9v28.6h-12.9zM1323.5 1523.6h12.9v28.6h-12.9zM1051.8 1554.4h12.9v28.6h-12.9zM1066.1 1554.4h12.9v28.6h-12.9zM1109.0 1554.4h12.9v28.6h-12.9zM1123.3 1554.4h12.9v28.6h-12.9zM1137.6 1554.4h12.9v28.6h-12.9zM1151.9 1554.4h12.9v28.6h-12.9zM1280.6 1554.4h12.9v28.6h-12.9zM1309.2 1554.4h12.9v28.6h-12.9zM1323.5 1554.4h12.9v28.6h-12.9zM1051.8 1585.2h12.9v28.6h-12.9zM1109.0 1585.2h12.9v28.6h-12.9zM1266.3 1585.2h12.9v28.6h-12.9zM1051.8 1615.9h12.9v28.6h-12.9zM1109.0 1615.9h12.9v28.6h-12.9zM1137.6 1615.9h12.9v28.6h-12.9zM1151.9 1615.9h12.9v28.6h-12.9zM1080.4 1646.7h12.9v28.6h-12.9zM1137.6 1646.7h12.9v28.6h-12.9zM1151.9 1646.7h12.9v28.6h-12.9zM1280.6 1646.7h12.9v28.6h-12.9zM1309.2 1646.7h12.9v28.6h-12.9zM1137.6 1677.5h12.9v28.6h-12.9zM1151.9 1677.5h12.9v28.6h-12.9zM1051.8 1708.3h12.9v28.6h-12.9zM1109.0 1708.3h12.9v28.6h-12.9zM1080.4 1739.0h12.9v28.6h-12.9zM1094.7 1739.0h12.9v28.6h-12.9zM1109.0 1739.0h12.9v28.6h-12.9zM1309.2 1739.0h12.9v28.6h-12.9zM1323.5 1739.0h12.9v28.6h-12.9zM1080.4 1769.8h12.9v28.6h-12.9zM1094.7 1769.8h12.9v28.6h-12.9zM1109.0 1769.8h12.9v28.6h-12.9zM1123.3 1769.8h12.9v28.6h-12.9zM1137.6 1769.8h12.9v28.6h-12.9zM1151.9 1769.8h12.9v28.6h-12.9zM1309.2 1769.8h12.9v28.6h-12.9zM1323.5 1769.8h12.9v28.6h-12.9zM1051.8 1800.6h12.9v28.6h-12.9zM1109.0 1800.6h12.9v28.6h-12.9zM1123.3 1800.6h12.9v28.6h-12.9zM1323.5 1800.6h12.9v28.6h-12.9zM1051.8 1831.3h12.9v28.6h-12.9zM1094.7 1831.3h12.9v28.6h-12.9zM1109.0 1831.3h12.9v28.6h-12.9zM1123.3 1831.3h12.9v28.6h-12.9zM1137.6 1831.3h12.9v28.6h-12.9zM1151.9 1831.3h12.9v28.6h-12.9zM1323.5 1831.3h12.9v28.6h-12.9zM1051.8 1862.1h12.9v28.6h-12.9zM1109.0 1862.1h12.9v28.6h-12.9zM1123.3 1862.1h12.9v28.6h-12.9zM1051.8 1892.9h12.9v28.6h-12.9zM1094.7 1892.9h12.9v28.6h-12.9zM1109.0 1892.9h12.9v28.6h-12.9zM1123.3 1892.9h12.9v28.6h-12.9zM1051.8 1923.6h12.9v28.6h-12.9zM1109.0 1923.6h12.9v28.6h-12.9zM1123.3 1923.6h12.9v28.6h-12.9zM1266.3 1923.6h12.9v28.6h-12.9zM1051.8 1954.4h12.9v28.6h-12.9zM1109.0 1954.4h12.9v28.6h-12.9zM1137.6 1954.4h12.9v28.6h-12.9zM1151.9 1954.4h12.9v28.6h-12.9zM1066.1 1985.2h12.9v28.6h-12.9zM1094.7 1985.2h12.9v28.6h-12.9zM1109.0 1985.2h12.9v28.6h-12.9zM1123.3 1985.2h12.9v28.6h-12.9zM1137.6 1985.2h12.9v28.6h-12.9zM1151.9 1985.2h12.9v28.6h-12.9zM1051.8 2015.9h12.9v28.6h-12.9zM1094.7 2015.9h12.9v28.6h-12.9zM1123.3 2015.9h12.9v28.6h-12.9zM1137.6 2015.9h12.9v28.6h-12.9zM1151.9 2015.9h12.9v28.6h-12.9z" fill="#c57a7e"/>
<path d="M1080.4 1277.5h12.9v28.6h-12.9zM1137.6 1277.5h12.9v28.6h-12.9zM1151.9 1277.5h12.9v28.6h-12.9zM1294.9 1277.5h12.9v28.6h-12.9zM1080.4 1308.3h12.9v28.6h-12.9zM1252.0 1308.3h12.9v28.6h-12.9zM1280.6 1308.3h12.9v28.6h-12.9zM1294.9 1308.3h12.9v28.6h-12.9zM1037.5 1339.0h12.9v28.6h-12.9zM1137.6 1339.0h12.9v28.6h-12.9zM1151.9 1339.0h12.9v28.6h-12.9zM1294.9 1339.0h12.9v28.6h-12.9zM1323.5 1339.0h12.9v28.6h-12.9zM1094.7 1369.8h12.9v28.6h-12.9zM1037.5 1400.6h12.9v28.6h-12.9zM1094.7 1400.6h12.9v28.6h-12.9zM1294.9 1400.6h12.9v28.6h-12.9zM1137.6 1431.3h12.9v28.6h-12.9zM1151.9 1431.3h12.9v28.6h-12.9zM1252.0 1431.3h12.9v28.6h-12.9zM1294.9 1431.3h12.9v28.6h-12.9zM1294.9 1492.9h12.9v28.6h-12.9zM1137.6 1523.6h12.9v28.6h-12.9zM1151.9 1523.6h12.9v28.6h-12.9zM1294.9 1523.6h12.9v28.6h-12.9zM1266.3 1554.4h12.9v28.6h-12.9zM1294.9 1554.4h12.9v28.6h-12.9zM1280.6 1585.2h12.9v28.6h-12.9zM1309.2 1585.2h12.9v28.6h-12.9zM1080.4 1615.9h12.9v28.6h-12.9zM1266.3 1615.9h12.9v28.6h-12.9zM1323.5 1615.9h12.9v28.6h-12.9zM1109.0 1646.7h12.9v28.6h-12.9zM1166.2 1646.7h12.9v28.6h-12.9zM1180.5 1646.7h12.9v28.6h-12.9zM1051.8 1677.5h12.9v28.6h-12.9zM1080.4 1677.5h12.9v28.6h-12.9zM1166.2 1677.5h12.9v28.6h-12.9zM1180.5 1677.5h12.9v28.6h-12.9zM1280.6 1677.5h12.9v28.6h-12.9zM1309.2 1677.5h12.9v28.6h-12.9zM1080.4 1708.3h12.9v28.6h-12.9zM1266.3 1708.3h12.9v28.6h-12.9zM1266.3 1739.0h12.9v28.6h-12.9zM1280.6 1739.0h12.9v28.6h-12.9zM1294.9 1739.0h12.9v28.6h-12.9zM1051.8 1769.8h12.9v28.6h-12.9zM1066.1 1769.8h12.9v28.6h-12.9zM1166.2 1769.8h12.9v28.6h-12.9zM1180.5 1769.8h12.9v28.6h-12.9zM1094.7 1800.6h12.9v28.6h-12.9zM1137.6 1800.6h12.9v28.6h-12.9zM1151.9 1800.6h12.9v28.6h-12.9zM1294.9 1800.6h12.9v28.6h-12.9zM1266.3 1831.3h12.9v28.6h-12.9zM1294.9 1831.3h12.9v28.6h-12.9zM1080.4 1862.1h12.9v28.6h-12.9zM1280.6 1862.1h12.9v28.6h-12.9zM1294.9 1862.1h12.9v28.6h-12.9zM1309.2 1862.1h12.9v28.6h-12.9zM1037.5 1892.9h12.9v28.6h-12.9zM1166.2 1892.9h12.9v28.6h-12.9zM1180.5 1892.9h12.9v28.6h-12.9zM1266.3 1892.9h12.9v28.6h-12.9zM1294.9 1892.9h12.9v28.6h-12.9zM1309.2 1892.9h12.9v28.6h-12.9zM1323.5 1892.9h12.9v28.6h-12.9zM1080.4 1923.6h12.9v28.6h-12.9zM1294.9 1923.6h12.9v28.6h-12.9zM1309.2 1923.6h12.9v28.6h-12.9zM1080.4 1954.4h12.9v28.6h-12.9zM1094.7 1954.4h12.9v28.6h-12.9zM1166.2 1954.4h12.9v28.6h-12.9zM1180.5 1954.4h12.9v28.6h-12.9zM1266.3 1954.4h12.9v28.6h-12.9zM1294.9 1954.4h12.9v28.6h-12.9zM1309.2 1954.4h12.9v28.6h-12.9zM1323.5 1954.4h12.9v28.6h-12.9zM1323.5 1985.2h12.9v28.6h-12.9zM1266.3 2015.9h12.9v28.6h-12.9z" fill="#eed6d6"/>
<path d="M1166.2 1277.5h12.9v28.6h-12.9zM1180.5 1277.5h12.9v28.6h-12.9zM1037.5 1308.3h12.9v28.6h-12.9zM1166.2 1308.3h12.9v28.6h-12.9zM1180.5 1308.3h12.9v28.6h-12.9zM1023.2 1339.0h12.9v28.6h-12.9zM1166.2 1339.0h12.9v28.6h-12.9zM1180.5 1339.0h12.9v28.6h-12.9zM1252.0 1339.0h12.9v28.6h-12.9zM1166.2 1369.8h12.9v28.6h-12.9zM1180.5 1369.8h12.9v28.6h-12.9zM1023.2 1400.6h12.9v28.6h-12.9zM1166.2 1400.6h12.9v28.6h-12.9zM1180.5 1400.6h12.9v28.6h-12.9zM1166.2 1431.3h12.9v28.6h-12.9zM1180.5 1431.3h12.9v28.6h-12.9zM1166.2 1462.1h12.9v28.6h-12.9zM1180.5 1462.1h12.9v28.6h-12.9zM1166.2 1523.6h12.9v28.6h-12.9zM1180.5 1523.6h12.9v28.6h-12.9zM1166.2 1554.4h12.9v28.6h-12.9zM1180.5 1554.4h12.9v28.6h-12.9zM1252.0 1554.4h12.9v28.6h-12.9zM1252.0 1585.2h12.9v28.6h-12.9zM1252.0 1615.9h12.9v28.6h-12.9zM1223.4 1646.7h12.9v28.6h-12.9zM1166.2 1708.3h12.9v28.6h-12.9zM1180.5 1708.3h12.9v28.6h-12.9zM1252.0 1708.3h12.9v28.6h-12.9zM1166.2 1739.0h12.9v28.6h-12.9zM1180.5 1739.0h12.9v28.6h-12.9zM1252.0 1739.0h12.9v28.6h-12.9zM1166.2 1831.3h12.9v28.6h-12.9zM1180.5 1831.3h12.9v28.6h-12.9zM1280.6 1831.3h12.9v28.6h-12.9zM1252.0 1862.1h12.9v28.6h-12.9zM1252.0 1892.9h12.9v28.6h-12.9zM1280.6 1892.9h12.9v28.6h-12.9zM1037.5 1923.6h12.9v28.6h-12.9zM1166.2 1923.6h12.9v28.6h-12.9zM1180.5 1923.6h12.9v28.6h-12.9zM1037.5 1954.4h12.9v28.6h-12.9zM1252.0 1954.4h12.9v28.6h-12.9zM1037.5 1985.2h12.9v28.6h-12.9zM1252.0 1985.2h12.9v28.6h-12.9zM1280.6 1985.2h12.9v28.6h-12.9z" fill="#c8c7e3"/>
<path d="M1194.8 1277.5h12.9v28.6h-12.9zM1209.1 1277.5h12.9v28.6h-12.9zM1194.8 1308.3h12.9v28.6h-12.9zM1209.1 1308.3h12.9v28.6h-12.9zM1194.8 1339.0h12.9v28.6h-12.9zM1209.1 1339.0h12.9v28.6h-12.9zM1194.8 1369.8h12.9v28.6h-12.9zM1209.1 1369.8h12.9v28.6h-12.9zM1194.8 1400.6h12.9v28.6h-12.9zM1209.1 1400.6h12.9v28.6h-12.9zM1194.8 1431.3h12.9v28.6h-12.9zM1209.1 1431.3h12.9v28.6h-12.9zM1194.8 1462.1h12.9v28.6h-12.9zM1209.1 1462.1h12.9v28.6h-12.9zM1194.8 1492.9h12.9v28.6h-12.9zM1209.1 1492.9h12.9v28.6h-12.9zM1194.8 1523.6h12.9v28.6h-12.9zM1209.1 1523.6h12.9v28.6h-12.9zM1023.2 1554.4h12.9v28.6h-12.9zM1194.8 1554.4h12.9v28.6h-12.9zM1209.1 1554.4h12.9v28.6h-12.9zM1194.8 1585.2h12.9v28.6h-12.9zM1209.1 1585.2h12.9v28.6h-12.9zM1194.8 1615.9h12.9v28.6h-12.9zM1209.1 1615.9h12.9v28.6h-12.9zM1023.2 1646.7h12.9v28.6h-12.9zM1037.5 1646.7h12.9v28.6h-12.9zM1194.8 1677.5h12.9v28.6h-12.9zM1209.1 1677.5h12.9v28.6h-12.9zM1194.8 1708.3h12.9v28.6h-12.9zM1209.1 1708.3h12.9v28.6h-12.9zM1194.8 1739.0h12.9v28.6h-12.9zM1209.1 1739.0h12.9v28.6h-12.9zM1023.2 1769.8h12.9v28.6h-12.9zM1037.5 1769.8h12.9v28.6h-12.9zM1194.8 1800.6h12.9v28.6h-12.9zM1209.1 1800.6h12.9v28.6h-12.9zM1194.8 1831.3h12.9v28.6h-12.9zM1209.1 1831.3h12.9v28.6h-12.9zM1194.8 1862.1h12.9v28.6h-12.9zM1209.1 1862.1h12.9v28.6h-12.9zM1194.8 1892.9h12.9v28.6h-12.9zM1209.1 1892.9h12.9v28.6h-12.9zM1237.7 1892.9h12.9v28.6h-12.9zM1194.8 1923.6h12.9v28.6h-12.9zM1209.1 1923.6h12.9v28.6h-12.9zM1194.8 1954.4h12.9v28.6h-12.9zM1209.1 1954.4h12.9v28.6h-12.9zM1194.8 1985.2h12.9v28.6h-12.9zM1209.1 1985.2h12.9v28.6h-12.9zM1194.8 2015.9h12.9v28.6h-12.9zM1209.1 2015.9h12.9v28.6h-12.9z" fill="#0c0670"/>
<path d="M1237.7 1277.5h12.9v28.6h-12.9zM1023.2 1308.3h12.9v28.6h-12.9zM1237.7 1308.3h12.9v28.6h-12.9zM1237.7 1339.0h12.9v28.6h-12.9zM1223.4 1462.1h12.9v28.6h-12.9zM1237.7 1462.1h12.9v28.6h-12.9zM1037.5 1492.9h12.9v28.6h-12.9zM1037.5 1523.6h12.9v28.6h-12.9zM1023.2 1585.2h12.9v28.6h-12.9zM1023.2 1615.9h12.9v28.6h-12.9zM1051.8 1646.7h12.9v28.6h-12.9zM1209.1 1646.7h12.9v28.6h-12.9zM1252.0 1646.7h12.9v28.6h-12.9zM1266.3 1646.7h12.9v28.6h-12.9zM1252.0 1677.5h12.9v28.6h-12.9zM1037.5 1708.3h12.9v28.6h-12.9zM1037.5 1739.0h12.9v28.6h-12.9zM1252.0 1769.8h12.9v28.6h-12.9zM1037.5 1800.6h12.9v28.6h-12.9zM1166.2 1800.6h12.9v28.6h-12.9zM1180.5 1800.6h12.9v28.6h-12.9zM1037.5 1831.3h12.9v28.6h-12.9zM1023.2 1892.9h12.9v28.6h-12.9zM1023.2 1923.6h12.9v28.6h-12.9zM1023.2 1954.4h12.9v28.6h-12.9zM1023.2 1985.2h12.9v28.6h-12.9zM1023.2 2015.9h12.9v28.6h-12.9zM1037.5 2015.9h12.9v28.6h-12.9z" fill="#9692c8"/>
<path d="M1252.0 1277.5h12.9v28.6h-12.9zM1137.6 1308.3h12.9v28.6h-12.9zM1151.9 1308.3h12.9v28.6h-12.9zM1080.4 1339.0h12.9v28.6h-12.9zM1309.2 1339.0h12.9v28.6h-12.9zM1252.0 1369.8h12.9v28.6h-12.9zM1080.4 1400.6h12.9v28.6h-12.9zM1137.6 1400.6h12.9v28.6h-12.9zM1151.9 1400.6h12.9v28.6h-12.9zM1252.0 1400.6h12.9v28.6h-12.9zM1137.6 1462.1h12.9v28.6h-12.9zM1151.9 1462.1h12.9v28.6h-12.9zM1252.0 1462.1h12.9v28.6h-12.9zM1137.6 1492.9h12.9v28.6h-12.9zM1151.9 1492.9h12.9v28.6h-12.9zM1166.2 1492.9h12.9v28.6h-12.9zM1180.5 1492.9h12.9v28.6h-12.9zM1252.0 1492.9h12.9v28.6h-12.9zM1280.6 1492.9h12.9v28.6h-12.9zM1080.4 1523.6h12.9v28.6h-12.9zM1252.0 1523.6h12.9v28.6h-12.9zM1037.5 1585.2h12.9v28.6h-12.9zM1080.4 1585.2h12.9v28.6h-12.9zM1094.7 1585.2h12.9v28.6h-12.9zM1166.2 1585.2h12.9v28.6h-12.9zM1180.5 1585.2h12.9v28.6h-12.9zM1294.9 1585.2h12.9v28.6h-12.9zM1037.5 1615.9h12.9v28.6h-12.9zM1166.2 1615.9h12.9v28.6h-12.9zM1180.5 1615.9h12.9v28.6h-12.9zM1280.6 1615.9h12.9v28.6h-12.9zM1294.9 1615.9h12.9v28.6h-12.9zM1309.2 1615.9h12.9v28.6h-12.9zM1266.3 1677.5h12.9v28.6h-12.9zM1294.9 1677.5h12.9v28.6h-12.9zM1294.9 1708.3h12.9v28.6h-12.9zM1080.4 1800.6h12.9v28.6h-12.9zM1252.0 1800.6h12.9v28.6h-12.9zM1252.0 1831.3h12.9v28.6h-12.9zM1166.2 1862.1h12.9v28.6h-12.9zM1180.5 1862.1h12.9v28.6h-12.9zM1252.0 1923.6h12.9v28.6h-12.9zM1280.6 1923.6h12.9v28.6h-12.9zM1166.2 1985.2h12.9v28.6h-12.9zM1180.5 1985.2h12.9v28.6h-12.9zM1294.9 1985.2h12.9v28.6h-12.9zM1309.2 1985.2h12.9v28.6h-12.9zM1166.2 2015.9h12.9v28.6h-12.9zM1180.5 2015.9h12.9v28.6h-12.9zM1252.0 2015.9h12.9v28.6h-12.9zM1280.6 2015.9h12.9v28.6h-12.9zM1294.9 2015.9h12.9v28.6h-12.9zM1309.2 2015.9h12.9v28.6h-12.9z" fill="#f9f8fb"/>
<path d="M1066.1 1308.3h12.9v28.6h-12.9zM1123.3 1369.8h12.9v28.6h-12.9zM1323.5 1462.1h12.9v28.6h-12.9zM1066.1 1492.9h12.9v28.6h-12.9zM1066.1 1523.6h12.9v28.6h-12.9zM1123.3 1585.2h12.9v28.6h-12.9zM1066.1 1615.9h12.9v28.6h-12.9zM1123.3 1615.9h12.9v28.6h-12.9zM1123.3 1646.7h12.9v28.6h-12.9zM1323.5 1646.7h12.9v28.6h-12.9zM1066.1 1708.3h12.9v28.6h-12.9zM1123.3 1708.3h12.9v28.6h-12.9zM1066.1 1739.0h12.9v28.6h-12.9zM1123.3 1739.0h12.9v28.6h-12.9zM1066.1 1862.1h12.9v28.6h-12.9zM1066.1 1892.9h12.9v28.6h-12.9zM1066.1 1923.6h12.9v28.6h-12.9zM1066.1 1954.4h12.9v28.6h-12.9zM1123.3 1954.4h12.9v28.6h-12.9zM1051.8 1985.2h12.9v28.6h-12.9zM1066.1 2015.9h12.9v28.6h-12.9zM1109.0 2015.9h12.9v28.6h-12.9z" fill="#b0565d"/>
<path d="M1066.1 1339.0h12.9v28.6h-12.9zM1066.1 1400.6h12.9v28.6h-12.9zM1066.1 1585.2h12.9v28.6h-12.9zM1066.1 1677.5h12.9v28.6h-12.9zM1123.3 1677.5h12.9v28.6h-12.9zM1066.1 1800.6h12.9v28.6h-12.9z" fill="#96222a"/>
<rect x="1351.90" y="1273.60" width="318.00" height="774.40" fill="#fff" stroke="#000" stroke-width="1.8"/>
<path d="M1353.4 1275.1h13.0v28.7h-13.0zM1526.0 1275.1h13.0v28.7h-13.0zM1655.4 1275.1h13.0v28.7h-13.0zM1396.5 1306.0h13.0v28.7h-13.0zM1425.3 1337.0h13.0v28.7h-13.0zM1511.6 1337.0h13.0v28.7h-13.0zM1367.8 1367.9h13.0v28.7h-13.0zM1396.5 1367.9h13.0v28.7h-13.0zM1655.4 1367.9h13.0v28.7h-13.0zM1540.4 1429.8h13.0v28.7h-13.0zM1353.4 1460.8h13.0v28.7h-13.0zM1353.4 1491.7h13.0v28.7h-13.0zM1583.5 1491.7h13.0v28.7h-13.0zM1396.5 1584.5h13.0v28.7h-13.0zM1641.0 1615.5h13.0v28.7h-13.0zM1511.6 1646.4h13.0v28.7h-13.0zM1597.9 1646.4h13.0v28.7h-13.0zM1626.7 1646.4h13.0v28.7h-13.0zM1526.0 1677.4h13.0v28.7h-13.0zM1641.0 1677.4h13.0v28.7h-13.0zM1353.4 1708.3h13.0v28.7h-13.0zM1554.7 1708.3h13.0v28.7h-13.0zM1641.0 1708.3h13.0v28.7h-13.0zM1655.4 1708.3h13.0v28.7h-13.0zM1526.0 1739.3h13.0v28.7h-13.0zM1367.8 1801.1h13.0v28.7h-13.0zM1554.7 1801.1h13.0v28.7h-13.0zM1353.4 1832.1h13.0v28.7h-13.0zM1554.7 1832.1h13.0v28.7h-13.0zM1583.5 1863.0h13.0v28.7h-13.0zM1454.1 1894.0h13.0v28.7h-13.0zM1655.4 1894.0h13.0v28.7h-13.0zM1511.6 1924.9h13.0v28.7h-13.0zM1425.3 1986.8h13.0v28.7h-13.0zM1454.1 1986.8h13.0v28.7h-13.0zM1569.1 1986.8h13.0v28.7h-13.0zM1396.5 2017.8h13.0v28.7h-13.0z" fill="#f9f8fb"/>
<path d="M1367.8 1275.1h13.0v28.7h-13.0zM1540.4 1275.1h13.0v28.7h-13.0zM1554.7 1275.1h13.0v28.7h-13.0zM1583.5 1306.0h13.0v28.7h-13.0zM1396.5 1337.0h13.0v28.7h-13.0zM1612.3 1367.9h13.0v28.7h-13.0zM1425.3 1398.9h13.0v28.7h-13.0zM1511.6 1398.9h13.0v28.7h-13.0zM1597.9 1398.9h13.0v28.7h-13.0zM1526.0 1429.8h13.0v28.7h-13.0zM1526.0 1460.8h13.0v28.7h-13.0zM1540.4 1460.8h13.0v28.7h-13.0zM1569.1 1460.8h13.0v28.7h-13.0zM1655.4 1460.8h13.0v28.7h-13.0zM1367.8 1491.7h13.0v28.7h-13.0zM1554.7 1491.7h13.0v28.7h-13.0zM1569.1 1491.7h13.0v28.7h-13.0zM1655.4 1491.7h13.0v28.7h-13.0zM1396.5 1522.7h13.0v28.7h-13.0zM1554.7 1522.7h13.0v28.7h-13.0zM1583.5 1522.7h13.0v28.7h-13.0zM1410.9 1584.5h13.0v28.7h-13.0zM1425.3 1584.5h13.0v28.7h-13.0zM1597.9 1584.5h13.0v28.7h-13.0zM1612.3 1584.5h13.0v28.7h-13.0zM1382.2 1615.5h13.0v28.7h-13.0zM1597.9 1615.5h13.0v28.7h-13.0zM1439.7 1646.4h13.0v28.7h-13.0zM1497.2 1646.4h13.0v28.7h-13.0zM1425.3 1677.4h13.0v28.7h-13.0zM1597.9 1677.4h13.0v28.7h-13.0zM1655.4 1677.4h13.0v28.7h-13.0zM1367.8 1708.3h13.0v28.7h-13.0zM1540.4 1708.3h13.0v28.7h-13.0zM1554.7 1739.3h13.0v28.7h-13.0zM1569.1 1801.1h13.0v28.7h-13.0zM1583.5 1801.1h13.0v28.7h-13.0zM1497.2 1832.1h13.0v28.7h-13.0zM1540.4 1832.1h13.0v28.7h-13.0zM1583.5 1832.1h13.0v28.7h-13.0zM1353.4 1863.0h13.0v28.7h-13.0zM1382.2 1894.0h13.0v28.7h-13.0zM1597.9 1894.0h13.0v28.7h-13.0zM1641.0 1894.0h13.0v28.7h-13.0zM1597.9 1924.9h13.0v28.7h-13.0zM1425.3 1955.9h13.0v28.7h-13.0zM1511.6 1955.9h13.0v28.7h-13.0zM1540.4 1955.9h13.0v28.7h-13.0zM1597.9 1955.9h13.0v28.7h-13.0zM1396.5 1986.8h13.0v28.7h-13.0zM1410.9 1986.8h13.0v28.7h-13.0zM1655.4 1986.8h13.0v28.7h-13.0zM1410.9 2017.8h13.0v28.7h-13.0zM1425.3 2017.8h13.0v28.7h-13.0zM1641.0 2017.8h13.0v28.7h-13.0z" fill="#eed6d6"/>
<path d="M1382.2 1275.1h13.0v28.7h-13.0zM1454.1 1275.1h13.0v28.7h-13.0zM1454.1 1306.0h13.0v28.7h-13.0zM1468.5 1337.0h13.0v28.7h-13.0zM1439.7 1367.9h13.0v28.7h-13.0zM1482.8 1398.9h13.0v28.7h-13.0zM1526.0 1398.9h13.0v28.7h-13.0zM1454.1 1429.8h13.0v28.7h-13.0zM1511.6 1429.8h13.0v28.7h-13.0zM1439.7 1460.8h13.0v28.7h-13.0zM1454.1 1460.8h13.0v28.7h-13.0zM1511.6 1460.8h13.0v28.7h-13.0zM1439.7 1491.7h13.0v28.7h-13.0zM1511.6 1491.7h13.0v28.7h-13.0zM1454.1 1522.7h13.0v28.7h-13.0zM1382.2 1553.6h13.0v28.7h-13.0zM1482.8 1553.6h13.0v28.7h-13.0zM1482.8 1584.5h13.0v28.7h-13.0zM1526.0 1615.5h13.0v28.7h-13.0zM1367.8 1646.4h13.0v28.7h-13.0zM1382.2 1646.4h13.0v28.7h-13.0zM1382.2 1677.4h13.0v28.7h-13.0zM1468.5 1677.4h13.0v28.7h-13.0zM1439.7 1708.3h13.0v28.7h-13.0zM1482.8 1708.3h13.0v28.7h-13.0zM1454.1 1739.3h13.0v28.7h-13.0zM1482.8 1739.3h13.0v28.7h-13.0zM1353.4 1770.2h13.0v28.7h-13.0zM1511.6 1770.2h13.0v28.7h-13.0zM1482.8 1801.1h13.0v28.7h-13.0zM1454.1 1832.1h13.0v28.7h-13.0zM1482.8 1832.1h13.0v28.7h-13.0zM1511.6 1832.1h13.0v28.7h-13.0zM1382.2 1863.0h13.0v28.7h-13.0zM1482.8 1863.0h13.0v28.7h-13.0zM1439.7 1894.0h13.0v28.7h-13.0zM1526.0 1894.0h13.0v28.7h-13.0zM1526.0 1924.9h13.0v28.7h-13.0zM1468.5 1955.9h13.0v28.7h-13.0zM1526.0 1955.9h13.0v28.7h-13.0zM1439.7 1986.8h13.0v28.7h-13.0zM1511.6 1986.8h13.0v28.7h-13.0zM1439.7 2017.8h13.0v28.7h-13.0zM1482.8 2017.8h13.0v28.7h-13.0z" fill="#383090"/>
<path d="M1396.5 1275.1h13.0v28.7h-13.0zM1511.6 1275.1h13.0v28.7h-13.0zM1382.2 1306.0h13.0v28.7h-13.0zM1511.6 1306.0h13.0v28.7h-13.0zM1526.0 1306.0h13.0v28.7h-13.0zM1641.0 1306.0h13.0v28.7h-13.0zM1655.4 1306.0h13.0v28.7h-13.0zM1382.2 1337.0h13.0v28.7h-13.0zM1454.1 1337.0h13.0v28.7h-13.0zM1482.8 1337.0h13.0v28.7h-13.0zM1554.7 1337.0h13.0v28.7h-13.0zM1641.0 1337.0h13.0v28.7h-13.0zM1382.2 1398.9h13.0v28.7h-13.0zM1454.1 1398.9h13.0v28.7h-13.0zM1554.7 1398.9h13.0v28.7h-13.0zM1583.5 1398.9h13.0v28.7h-13.0zM1367.8 1429.8h13.0v28.7h-13.0zM1382.2 1429.8h13.0v28.7h-13.0zM1497.2 1429.8h13.0v28.7h-13.0zM1382.2 1460.8h13.0v28.7h-13.0zM1396.5 1460.8h13.0v28.7h-13.0zM1497.2 1460.8h13.0v28.7h-13.0zM1382.2 1491.7h13.0v28.7h-13.0zM1454.1 1491.7h13.0v28.7h-13.0zM1497.2 1491.7h13.0v28.7h-13.0zM1526.0 1491.7h13.0v28.7h-13.0zM1382.2 1522.7h13.0v28.7h-13.0zM1641.0 1522.7h13.0v28.7h-13.0zM1655.4 1522.7h13.0v28.7h-13.0zM1396.5 1553.6h13.0v28.7h-13.0zM1497.2 1553.6h13.0v28.7h-13.0zM1382.2 1584.5h13.0v28.7h-13.0zM1554.7 1584.5h13.0v28.7h-13.0zM1583.5 1584.5h13.0v28.7h-13.0zM1554.7 1615.5h13.0v28.7h-13.0zM1583.5 1615.5h13.0v28.7h-13.0zM1468.5 1646.4h13.0v28.7h-13.0zM1353.4 1677.4h13.0v28.7h-13.0zM1526.0 1708.3h13.0v28.7h-13.0zM1511.6 1739.3h13.0v28.7h-13.0zM1367.8 1770.2h13.0v28.7h-13.0zM1382.2 1770.2h13.0v28.7h-13.0zM1396.5 1770.2h13.0v28.7h-13.0zM1382.2 1801.1h13.0v28.7h-13.0zM1511.6 1801.1h13.0v28.7h-13.0zM1526.0 1801.1h13.0v28.7h-13.0zM1641.0 1801.1h13.0v28.7h-13.0zM1655.4 1801.1h13.0v28.7h-13.0zM1382.2 1832.1h13.0v28.7h-13.0zM1454.1 1863.0h13.0v28.7h-13.0zM1511.6 1894.0h13.0v28.7h-13.0zM1382.2 1924.9h13.0v28.7h-13.0zM1554.7 1924.9h13.0v28.7h-13.0zM1583.5 1924.9h13.0v28.7h-13.0zM1641.0 1924.9h13.0v28.7h-13.0zM1655.4 1924.9h13.0v28.7h-13.0zM1655.4 1955.9h13.0v28.7h-13.0zM1583.5 1986.8h13.0v28.7h-13.0zM1382.2 2017.8h13.0v28.7h-13.0z" fill="#9692c8"/>
<path d="M1410.9 1275.1h13.0v28.7h-13.0zM1425.3 1275.1h13.0v28.7h-13.0zM1497.2 1275.1h13.0v28.7h-13.0zM1569.1 1275.1h13.0v28.7h-13.0zM1612.3 1275.1h13.0v28.7h-13.0zM1367.8 1306.0h13.0v28.7h-13.0zM1410.9 1306.0h13.0v28.7h-13.0zM1425.3 1306.0h13.0v28.7h-13.0zM1497.2 1306.0h13.0v28.7h-13.0zM1540.4 1306.0h13.0v28.7h-13.0zM1569.1 1306.0h13.0v28.7h-13.0zM1597.9 1306.0h13.0v28.7h-13.0zM1612.3 1306.0h13.0v28.7h-13.0zM1353.4 1337.0h13.0v28.7h-13.0zM1367.8 1337.0h13.0v28.7h-13.0zM1410.9 1337.0h13.0v28.7h-13.0zM1540.4 1337.0h13.0v28.7h-13.0zM1569.1 1337.0h13.0v28.7h-13.0zM1612.3 1337.0h13.0v28.7h-13.0zM1569.1 1367.9h13.0v28.7h-13.0zM1626.7 1367.9h13.0v28.7h-13.0zM1410.9 1398.9h13.0v28.7h-13.0zM1540.4 1398.9h13.0v28.7h-13.0zM1569.1 1398.9h13.0v28.7h-13.0zM1626.7 1398.9h13.0v28.7h-13.0zM1425.3 1429.8h13.0v28.7h-13.0zM1583.5 1429.8h13.0v28.7h-13.0zM1612.3 1429.8h13.0v28.7h-13.0zM1641.0 1429.8h13.0v28.7h-13.0zM1425.3 1460.8h13.0v28.7h-13.0zM1583.5 1460.8h13.0v28.7h-13.0zM1425.3 1491.7h13.0v28.7h-13.0zM1597.9 1491.7h13.0v28.7h-13.0zM1612.3 1491.7h13.0v28.7h-13.0zM1410.9 1522.7h13.0v28.7h-13.0zM1425.3 1522.7h13.0v28.7h-13.0zM1497.2 1522.7h13.0v28.7h-13.0zM1540.4 1522.7h13.0v28.7h-13.0zM1569.1 1522.7h13.0v28.7h-13.0zM1597.9 1522.7h13.0v28.7h-13.0zM1612.3 1522.7h13.0v28.7h-13.0zM1410.9 1553.6h13.0v28.7h-13.0zM1425.3 1553.6h13.0v28.7h-13.0zM1569.1 1553.6h13.0v28.7h-13.0zM1597.9 1553.6h13.0v28.7h-13.0zM1612.3 1553.6h13.0v28.7h-13.0zM1641.0 1553.6h13.0v28.7h-13.0zM1655.4 1553.6h13.0v28.7h-13.0zM1511.6 1584.5h13.0v28.7h-13.0zM1626.7 1584.5h13.0v28.7h-13.0zM1353.4 1615.5h13.0v28.7h-13.0zM1396.5 1615.5h13.0v28.7h-13.0zM1410.9 1615.5h13.0v28.7h-13.0zM1425.3 1615.5h13.0v28.7h-13.0zM1497.2 1615.5h13.0v28.7h-13.0zM1511.6 1615.5h13.0v28.7h-13.0zM1612.3 1615.5h13.0v28.7h-13.0zM1626.7 1615.5h13.0v28.7h-13.0zM1410.9 1646.4h13.0v28.7h-13.0zM1526.0 1646.4h13.0v28.7h-13.0zM1554.7 1646.4h13.0v28.7h-13.0zM1569.1 1646.4h13.0v28.7h-13.0zM1641.0 1646.4h13.0v28.7h-13.0zM1655.4 1646.4h13.0v28.7h-13.0zM1367.8 1677.4h13.0v28.7h-13.0zM1410.9 1677.4h13.0v28.7h-13.0zM1583.5 1677.4h13.0v28.7h-13.0zM1626.7 1677.4h13.0v28.7h-13.0zM1425.3 1708.3h13.0v28.7h-13.0zM1569.1 1708.3h13.0v28.7h-13.0zM1597.9 1708.3h13.0v28.7h-13.0zM1612.3 1708.3h13.0v28.7h-13.0zM1583.5 1739.3h13.0v28.7h-13.0zM1612.3 1739.3h13.0v28.7h-13.0zM1641.0 1739.3h13.0v28.7h-13.0zM1655.4 1739.3h13.0v28.7h-13.0zM1410.9 1770.2h13.0v28.7h-13.0zM1425.3 1770.2h13.0v28.7h-13.0zM1597.9 1770.2h13.0v28.7h-13.0zM1612.3 1770.2h13.0v28.7h-13.0zM1410.9 1801.1h13.0v28.7h-13.0zM1540.4 1801.1h13.0v28.7h-13.0zM1597.9 1801.1h13.0v28.7h-13.0zM1612.3 1801.1h13.0v28.7h-13.0zM1367.8 1832.1h13.0v28.7h-13.0zM1410.9 1832.1h13.0v28.7h-13.0zM1425.3 1832.1h13.0v28.7h-13.0zM1569.1 1832.1h13.0v28.7h-13.0zM1612.3 1832.1h13.0v28.7h-13.0zM1410.9 1863.0h13.0v28.7h-13.0zM1425.3 1863.0h13.0v28.7h-13.0zM1612.3 1863.0h13.0v28.7h-13.0zM1396.5 1894.0h13.0v28.7h-13.0zM1612.3 1894.0h13.0v28.7h-13.0zM1626.7 1894.0h13.0v28.7h-13.0zM1353.4 1924.9h13.0v28.7h-13.0zM1367.8 1924.9h13.0v28.7h-13.0zM1410.9 1924.9h13.0v28.7h-13.0zM1497.2 1924.9h13.0v28.7h-13.0zM1540.4 1924.9h13.0v28.7h-13.0zM1353.4 1955.9h13.0v28.7h-13.0zM1396.5 1955.9h13.0v28.7h-13.0zM1612.3 1955.9h13.0v28.7h-13.0zM1626.7 1955.9h13.0v28.7h-13.0zM1353.4 1986.8h13.0v28.7h-13.0zM1353.4 2017.8h13.0v28.7h-13.0zM1597.9 2017.8h13.0v28.7h-13.0z" fill="#c57a7e"/>
<path d="M1439.7 1275.1h13.0v28.7h-13.0zM1468.5 1275.1h13.0v28.7h-13.0zM1439.7 1306.0h13.0v28.7h-13.0zM1468.5 1306.0h13.0v28.7h-13.0zM1439.7 1337.0h13.0v28.7h-13.0zM1454.1 1367.9h13.0v28.7h-13.0zM1468.5 1367.9h13.0v28.7h-13.0zM1439.7 1398.9h13.0v28.7h-13.0zM1468.5 1429.8h13.0v28.7h-13.0zM1468.5 1460.8h13.0v28.7h-13.0zM1468.5 1491.7h13.0v28.7h-13.0zM1439.7 1522.7h13.0v28.7h-13.0zM1468.5 1522.7h13.0v28.7h-13.0zM1468.5 1553.6h13.0v28.7h-13.0zM1439.7 1584.5h13.0v28.7h-13.0zM1439.7 1615.5h13.0v28.7h-13.0zM1468.5 1615.5h13.0v28.7h-13.0zM1482.8 1615.5h13.0v28.7h-13.0zM1353.4 1646.4h13.0v28.7h-13.0zM1482.8 1646.4h13.0v28.7h-13.0zM1439.7 1677.4h13.0v28.7h-13.0zM1454.1 1677.4h13.0v28.7h-13.0zM1482.8 1677.4h13.0v28.7h-13.0zM1468.5 1708.3h13.0v28.7h-13.0zM1468.5 1739.3h13.0v28.7h-13.0zM1468.5 1770.2h13.0v28.7h-13.0zM1439.7 1801.1h13.0v28.7h-13.0zM1468.5 1801.1h13.0v28.7h-13.0zM1439.7 1832.1h13.0v28.7h-13.0zM1468.5 1832.1h13.0v28.7h-13.0zM1439.7 1863.0h13.0v28.7h-13.0zM1468.5 1863.0h13.0v28.7h-13.0zM1468.5 1894.0h13.0v28.7h-13.0zM1482.8 1894.0h13.0v28.7h-13.0zM1439.7 1924.9h13.0v28.7h-13.0zM1468.5 1924.9h13.0v28.7h-13.0zM1439.7 1955.9h13.0v28.7h-13.0zM1482.8 1955.9h13.0v28.7h-13.0zM1468.5 1986.8h13.0v28.7h-13.0zM1526.0 1986.8h13.0v28.7h-13.0zM1468.5 2017.8h13.0v28.7h-13.0z" fill="#0c0670"/>
<path d="M1482.8 1275.1h13.0v28.7h-13.0zM1482.8 1306.0h13.0v28.7h-13.0zM1526.0 1337.0h13.0v28.7h-13.0zM1583.5 1337.0h13.0v28.7h-13.0zM1655.4 1337.0h13.0v28.7h-13.0zM1382.2 1367.9h13.0v28.7h-13.0zM1482.8 1367.9h13.0v28.7h-13.0zM1511.6 1367.9h13.0v28.7h-13.0zM1468.5 1398.9h13.0v28.7h-13.0zM1641.0 1398.9h13.0v28.7h-13.0zM1655.4 1398.9h13.0v28.7h-13.0zM1396.5 1429.8h13.0v28.7h-13.0zM1439.7 1429.8h13.0v28.7h-13.0zM1482.8 1429.8h13.0v28.7h-13.0zM1482.8 1460.8h13.0v28.7h-13.0zM1482.8 1491.7h13.0v28.7h-13.0zM1482.8 1522.7h13.0v28.7h-13.0zM1511.6 1522.7h13.0v28.7h-13.0zM1353.4 1553.6h13.0v28.7h-13.0zM1367.8 1553.6h13.0v28.7h-13.0zM1439.7 1553.6h13.0v28.7h-13.0zM1454.1 1553.6h13.0v28.7h-13.0zM1511.6 1553.6h13.0v28.7h-13.0zM1454.1 1584.5h13.0v28.7h-13.0zM1468.5 1584.5h13.0v28.7h-13.0zM1526.0 1584.5h13.0v28.7h-13.0zM1641.0 1584.5h13.0v28.7h-13.0zM1655.4 1584.5h13.0v28.7h-13.0zM1454.1 1615.5h13.0v28.7h-13.0zM1569.1 1615.5h13.0v28.7h-13.0zM1396.5 1646.4h13.0v28.7h-13.0zM1454.1 1646.4h13.0v28.7h-13.0zM1540.4 1646.4h13.0v28.7h-13.0zM1382.2 1708.3h13.0v28.7h-13.0zM1454.1 1708.3h13.0v28.7h-13.0zM1511.6 1708.3h13.0v28.7h-13.0zM1382.2 1739.3h13.0v28.7h-13.0zM1396.5 1739.3h13.0v28.7h-13.0zM1439.7 1739.3h13.0v28.7h-13.0zM1454.1 1770.2h13.0v28.7h-13.0zM1482.8 1770.2h13.0v28.7h-13.0zM1497.2 1770.2h13.0v28.7h-13.0zM1540.4 1770.2h13.0v28.7h-13.0zM1454.1 1801.1h13.0v28.7h-13.0zM1526.0 1863.0h13.0v28.7h-13.0zM1554.7 1894.0h13.0v28.7h-13.0zM1482.8 1924.9h13.0v28.7h-13.0zM1454.1 1955.9h13.0v28.7h-13.0zM1554.7 1955.9h13.0v28.7h-13.0zM1482.8 1986.8h13.0v28.7h-13.0zM1554.7 1986.8h13.0v28.7h-13.0zM1511.6 2017.8h13.0v28.7h-13.0zM1526.0 2017.8h13.0v28.7h-13.0zM1569.1 2017.8h13.0v28.7h-13.0z" fill="#6862ae"/>
<path d="M1583.5 1275.1h13.0v28.7h-13.0zM1641.0 1275.1h13.0v28.7h-13.0zM1353.4 1306.0h13.0v28.7h-13.0zM1597.9 1337.0h13.0v28.7h-13.0zM1497.2 1367.9h13.0v28.7h-13.0zM1526.0 1367.9h13.0v28.7h-13.0zM1540.4 1367.9h13.0v28.7h-13.0zM1554.7 1367.9h13.0v28.7h-13.0zM1583.5 1367.9h13.0v28.7h-13.0zM1597.9 1367.9h13.0v28.7h-13.0zM1396.5 1398.9h13.0v28.7h-13.0zM1612.3 1398.9h13.0v28.7h-13.0zM1554.7 1429.8h13.0v28.7h-13.0zM1569.1 1429.8h13.0v28.7h-13.0zM1655.4 1429.8h13.0v28.7h-13.0zM1554.7 1460.8h13.0v28.7h-13.0zM1641.0 1460.8h13.0v28.7h-13.0zM1540.4 1491.7h13.0v28.7h-13.0zM1641.0 1491.7h13.0v28.7h-13.0zM1353.4 1522.7h13.0v28.7h-13.0zM1367.8 1522.7h13.0v28.7h-13.0zM1526.0 1553.6h13.0v28.7h-13.0zM1540.4 1553.6h13.0v28.7h-13.0zM1554.7 1553.6h13.0v28.7h-13.0zM1353.4 1584.5h13.0v28.7h-13.0zM1540.4 1584.5h13.0v28.7h-13.0zM1497.2 1677.4h13.0v28.7h-13.0zM1511.6 1677.4h13.0v28.7h-13.0zM1612.3 1677.4h13.0v28.7h-13.0zM1583.5 1708.3h13.0v28.7h-13.0zM1367.8 1739.3h13.0v28.7h-13.0zM1569.1 1739.3h13.0v28.7h-13.0zM1597.9 1739.3h13.0v28.7h-13.0zM1526.0 1770.2h13.0v28.7h-13.0zM1554.7 1770.2h13.0v28.7h-13.0zM1569.1 1770.2h13.0v28.7h-13.0zM1626.7 1770.2h13.0v28.7h-13.0zM1353.4 1801.1h13.0v28.7h-13.0zM1396.5 1801.1h13.0v28.7h-13.0zM1425.3 1801.1h13.0v28.7h-13.0zM1597.9 1832.1h13.0v28.7h-13.0zM1641.0 1832.1h13.0v28.7h-13.0zM1655.4 1832.1h13.0v28.7h-13.0zM1367.8 1863.0h13.0v28.7h-13.0zM1540.4 1863.0h13.0v28.7h-13.0zM1569.1 1863.0h13.0v28.7h-13.0zM1597.9 1863.0h13.0v28.7h-13.0zM1410.9 1894.0h13.0v28.7h-13.0zM1425.3 1894.0h13.0v28.7h-13.0zM1497.2 1894.0h13.0v28.7h-13.0zM1396.5 1924.9h13.0v28.7h-13.0zM1425.3 1924.9h13.0v28.7h-13.0zM1569.1 1924.9h13.0v28.7h-13.0zM1612.3 1924.9h13.0v28.7h-13.0zM1410.9 1955.9h13.0v28.7h-13.0zM1569.1 1955.9h13.0v28.7h-13.0zM1497.2 1986.8h13.0v28.7h-13.0zM1540.4 1986.8h13.0v28.7h-13.0zM1597.9 1986.8h13.0v28.7h-13.0zM1641.0 1986.8h13.0v28.7h-13.0zM1367.8 2017.8h13.0v28.7h-13.0zM1497.2 2017.8h13.0v28.7h-13.0zM1540.4 2017.8h13.0v28.7h-13.0zM1655.4 2017.8h13.0v28.7h-13.0z" fill="#d8a6a7"/>
<path d="M1597.9 1275.1h13.0v28.7h-13.0zM1626.7 1275.1h13.0v28.7h-13.0zM1626.7 1306.0h13.0v28.7h-13.0zM1497.2 1337.0h13.0v28.7h-13.0zM1626.7 1337.0h13.0v28.7h-13.0zM1410.9 1367.9h13.0v28.7h-13.0zM1425.3 1367.9h13.0v28.7h-13.0zM1353.4 1398.9h13.0v28.7h-13.0zM1367.8 1398.9h13.0v28.7h-13.0zM1497.2 1398.9h13.0v28.7h-13.0zM1410.9 1429.8h13.0v28.7h-13.0zM1597.9 1429.8h13.0v28.7h-13.0zM1626.7 1429.8h13.0v28.7h-13.0zM1410.9 1460.8h13.0v28.7h-13.0zM1597.9 1460.8h13.0v28.7h-13.0zM1612.3 1460.8h13.0v28.7h-13.0zM1626.7 1460.8h13.0v28.7h-13.0zM1410.9 1491.7h13.0v28.7h-13.0zM1626.7 1522.7h13.0v28.7h-13.0zM1583.5 1553.6h13.0v28.7h-13.0zM1626.7 1553.6h13.0v28.7h-13.0zM1367.8 1584.5h13.0v28.7h-13.0zM1425.3 1646.4h13.0v28.7h-13.0zM1583.5 1646.4h13.0v28.7h-13.0zM1410.9 1708.3h13.0v28.7h-13.0zM1497.2 1708.3h13.0v28.7h-13.0zM1410.9 1739.3h13.0v28.7h-13.0zM1425.3 1739.3h13.0v28.7h-13.0zM1626.7 1739.3h13.0v28.7h-13.0zM1583.5 1770.2h13.0v28.7h-13.0zM1641.0 1770.2h13.0v28.7h-13.0zM1655.4 1770.2h13.0v28.7h-13.0zM1497.2 1801.1h13.0v28.7h-13.0zM1626.7 1801.1h13.0v28.7h-13.0zM1626.7 1832.1h13.0v28.7h-13.0zM1497.2 1863.0h13.0v28.7h-13.0zM1353.4 1894.0h13.0v28.7h-13.0zM1626.7 1924.9h13.0v28.7h-13.0zM1497.2 1955.9h13.0v28.7h-13.0zM1367.8 1986.8h13.0v28.7h-13.0zM1612.3 1986.8h13.0v28.7h-13.0zM1612.3 2017.8h13.0v28.7h-13.0z" fill="#b0565d"/>
<path d="M1554.7 1306.0h13.0v28.7h-13.0zM1353.4 1367.9h13.0v28.7h-13.0zM1641.0 1367.9h13.0v28.7h-13.0zM1353.4 1429.8h13.0v28.7h-13.0zM1367.8 1460.8h13.0v28.7h-13.0zM1396.5 1491.7h13.0v28.7h-13.0zM1526.0 1522.7h13.0v28.7h-13.0zM1540.4 1615.5h13.0v28.7h-13.0zM1655.4 1615.5h13.0v28.7h-13.0zM1612.3 1646.4h13.0v28.7h-13.0zM1396.5 1677.4h13.0v28.7h-13.0zM1540.4 1677.4h13.0v28.7h-13.0zM1554.7 1677.4h13.0v28.7h-13.0zM1396.5 1708.3h13.0v28.7h-13.0zM1353.4 1739.3h13.0v28.7h-13.0zM1497.2 1739.3h13.0v28.7h-13.0zM1540.4 1739.3h13.0v28.7h-13.0zM1439.7 1770.2h13.0v28.7h-13.0zM1396.5 1832.1h13.0v28.7h-13.0zM1526.0 1832.1h13.0v28.7h-13.0zM1396.5 1863.0h13.0v28.7h-13.0zM1511.6 1863.0h13.0v28.7h-13.0zM1554.7 1863.0h13.0v28.7h-13.0zM1641.0 1863.0h13.0v28.7h-13.0zM1655.4 1863.0h13.0v28.7h-13.0zM1540.4 1894.0h13.0v28.7h-13.0zM1569.1 1894.0h13.0v28.7h-13.0zM1583.5 1894.0h13.0v28.7h-13.0zM1454.1 1924.9h13.0v28.7h-13.0zM1382.2 1955.9h13.0v28.7h-13.0zM1583.5 1955.9h13.0v28.7h-13.0zM1641.0 1955.9h13.0v28.7h-13.0zM1382.2 1986.8h13.0v28.7h-13.0zM1454.1 2017.8h13.0v28.7h-13.0zM1554.7 2017.8h13.0v28.7h-13.0zM1583.5 2017.8h13.0v28.7h-13.0z" fill="#c8c7e3"/>
<path d="M1626.7 1491.7h13.0v28.7h-13.0zM1497.2 1584.5h13.0v28.7h-13.0zM1569.1 1584.5h13.0v28.7h-13.0zM1367.8 1615.5h13.0v28.7h-13.0zM1569.1 1677.4h13.0v28.7h-13.0zM1626.7 1708.3h13.0v28.7h-13.0zM1626.7 1863.0h13.0v28.7h-13.0zM1367.8 1894.0h13.0v28.7h-13.0zM1367.8 1955.9h13.0v28.7h-13.0zM1626.7 1986.8h13.0v28.7h-13.0zM1626.7 2017.8h13.0v28.7h-13.0z" fill="#96222a"/>
<text x="1678.6" y="1304.9" font-size="26.85">PCHAS_0107700</text>
<text x="1678.6" y="1334.5" font-size="26.85">PCHAS_0209900</text>
<text x="1678.6" y="1367.7" font-size="26.85">PCHAS_0621000</text>
<text x="1678.6" y="1396.4" font-size="26.85">PCHAS_0808500</text>
<text x="1678.6" y="1429.1" font-size="26.85">PCHAS_1130000</text>
<text x="1678.6" y="1459.6" font-size="26.85">PCHAS_1210500</text>
<text x="1678.6" y="1489.1" font-size="26.85">PCHAS_1223700</text>
<text x="1678.6" y="1521.5" font-size="26.85">PCHAS_1233700</text>
<text x="1678.6" y="1553.4" font-size="26.85">PCHAS_1304600</text>
<text x="1678.6" y="1584.4" font-size="26.85">PCHAS_1338700</text>
<text x="1678.6" y="1614.0" font-size="26.85">PCHAS_0203800</text>
<text x="1677.5" y="1644.0" font-size="26.85">PCHAS_0305800/RPN1</text>
<text x="1677.5" y="1672.7" font-size="26.85">PCHAS_0411200/RPN12</text>
<text x="1678.6" y="1700.9" font-size="26.85">PCHAS_0514600</text>
<text x="1678.6" y="1734.6" font-size="26.85">PCHAS_0832900</text>
<text x="1677.5" y="1766.5" font-size="26.85">PCHAS_0927100/RPN7</text>
<text x="1677.5" y="1797.1" font-size="26.85">PCHAS_1040400/RPN6</text>
<text x="1678.6" y="1827.5" font-size="26.85">PCHAS_1129900</text>
<text x="1677.5" y="1854.1" font-size="26.85">PCHAS_1143500/RPN11</text>
<text x="1678.6" y="1884.1" font-size="26.85">PCHAS_1227100</text>
<text x="1677.5" y="1917.5" font-size="26.85">PCHAS_1334300/RPN2</text>
<text x="1678.6" y="1948.3" font-size="26.85">PCHAS_1347900</text>
<text x="1677.5" y="1978.9" font-size="26.85">PCHAS_1356400/RPN3</text>
<text x="1677.5" y="2009.7" font-size="26.85">PCHAS_1411900/RPT1</text>
<text x="1677.5" y="2042.1" font-size="26.85">PCHAS_1464100/RPT6</text>
<text x="1015.0" y="2080.8" font-size="29.2">0/24</text>
<text x="1139.0" y="2080.8" font-size="29.2">12</text>
<text x="1244.5" y="2080.8" font-size="29.2">0/24</text>
<text x="1354.5" y="2080.8" font-size="29.2">12</text>
<text x="1464.0" y="2080.8" font-size="29.2">0/24</text>
<text x="1577.0" y="2080.8" font-size="29.2">12</text>
<text x="1167.0" y="2120.7" font-size="29.2">ZT</text>
<text x="1485.0" y="2123.0" font-size="29.2">ZT</text>
<text x="1251.5" y="2136.0" font-size="29.2">Proteasome</text>
<rect x="1022.10" y="2164.70" width="317.60" height="269.20" fill="#fff" stroke="#000" stroke-width="2.2"/>
<path d="M1023.8 2166.4h12.9v28.1h-12.9zM1267.7 2166.4h12.9v28.1h-12.9zM1267.7 2196.1h12.9v28.1h-12.9zM1310.7 2255.5h12.9v28.1h-12.9zM1325.1 2255.5h12.9v28.1h-12.9zM1066.8 2285.2h12.9v28.1h-12.9zM1310.7 2315.0h12.9v28.1h-12.9zM1325.1 2315.0h12.9v28.1h-12.9zM1066.8 2344.7h12.9v28.1h-12.9zM1138.6 2374.4h12.9v28.1h-12.9zM1152.9 2374.4h12.9v28.1h-12.9zM1210.3 2404.1h12.9v28.1h-12.9zM1224.6 2404.1h12.9v28.1h-12.9zM1239.0 2404.1h12.9v28.1h-12.9z" fill="#b0565d"/>
<path d="M1038.1 2166.4h12.9v28.1h-12.9zM1066.8 2225.8h12.9v28.1h-12.9zM1195.9 2404.1h12.9v28.1h-12.9z" fill="#96222a"/>
<path d="M1052.5 2166.4h12.9v28.1h-12.9zM1239.0 2166.4h12.9v28.1h-12.9zM1253.3 2166.4h12.9v28.1h-12.9zM1038.1 2196.1h12.9v28.1h-12.9zM1066.8 2196.1h12.9v28.1h-12.9zM1253.3 2196.1h12.9v28.1h-12.9zM1282.0 2196.1h12.9v28.1h-12.9zM1296.4 2196.1h12.9v28.1h-12.9zM1052.5 2225.8h12.9v28.1h-12.9zM1109.9 2225.8h12.9v28.1h-12.9zM1124.2 2225.8h12.9v28.1h-12.9zM1267.7 2225.8h12.9v28.1h-12.9zM1109.9 2255.5h12.9v28.1h-12.9zM1124.2 2255.5h12.9v28.1h-12.9zM1282.0 2255.5h12.9v28.1h-12.9zM1296.4 2255.5h12.9v28.1h-12.9zM1052.5 2285.2h12.9v28.1h-12.9zM1109.9 2285.2h12.9v28.1h-12.9zM1124.2 2285.2h12.9v28.1h-12.9zM1138.6 2285.2h12.9v28.1h-12.9zM1152.9 2285.2h12.9v28.1h-12.9zM1052.5 2315.0h12.9v28.1h-12.9zM1066.8 2315.0h12.9v28.1h-12.9zM1081.2 2315.0h12.9v28.1h-12.9zM1095.5 2315.0h12.9v28.1h-12.9zM1124.2 2315.0h12.9v28.1h-12.9zM1109.9 2344.7h12.9v28.1h-12.9zM1124.2 2344.7h12.9v28.1h-12.9zM1138.6 2344.7h12.9v28.1h-12.9zM1152.9 2344.7h12.9v28.1h-12.9zM1066.8 2374.4h12.9v28.1h-12.9zM1095.5 2374.4h12.9v28.1h-12.9zM1109.9 2374.4h12.9v28.1h-12.9zM1124.2 2374.4h12.9v28.1h-12.9zM1253.3 2404.1h12.9v28.1h-12.9z" fill="#c57a7e"/>
<path d="M1066.8 2166.4h12.9v28.1h-12.9zM1124.2 2166.4h12.9v28.1h-12.9zM1138.6 2166.4h12.9v28.1h-12.9zM1152.9 2166.4h12.9v28.1h-12.9zM1038.1 2225.8h12.9v28.1h-12.9zM1081.2 2225.8h12.9v28.1h-12.9zM1253.3 2255.5h12.9v28.1h-12.9zM1282.0 2285.2h12.9v28.1h-12.9zM1253.3 2344.7h12.9v28.1h-12.9zM1282.0 2374.4h12.9v28.1h-12.9zM1081.2 2404.1h12.9v28.1h-12.9zM1282.0 2404.1h12.9v28.1h-12.9zM1296.4 2404.1h12.9v28.1h-12.9zM1310.7 2404.1h12.9v28.1h-12.9zM1325.1 2404.1h12.9v28.1h-12.9z" fill="#c8c7e3"/>
<path d="M1081.2 2166.4h12.9v28.1h-12.9zM1095.5 2166.4h12.9v28.1h-12.9zM1210.3 2166.4h12.9v28.1h-12.9zM1296.4 2166.4h12.9v28.1h-12.9zM1081.2 2196.1h12.9v28.1h-12.9zM1095.5 2196.1h12.9v28.1h-12.9zM1224.6 2196.1h12.9v28.1h-12.9zM1023.8 2225.8h12.9v28.1h-12.9zM1167.3 2225.8h12.9v28.1h-12.9zM1181.6 2225.8h12.9v28.1h-12.9zM1239.0 2225.8h12.9v28.1h-12.9zM1038.1 2285.2h12.9v28.1h-12.9zM1253.3 2285.2h12.9v28.1h-12.9zM1210.3 2315.0h12.9v28.1h-12.9zM1267.7 2315.0h12.9v28.1h-12.9zM1239.0 2374.4h12.9v28.1h-12.9zM1296.4 2374.4h12.9v28.1h-12.9zM1310.7 2374.4h12.9v28.1h-12.9zM1023.8 2404.1h12.9v28.1h-12.9zM1109.9 2404.1h12.9v28.1h-12.9z" fill="#9692c8"/>
<path d="M1109.9 2166.4h12.9v28.1h-12.9zM1138.6 2196.1h12.9v28.1h-12.9zM1152.9 2196.1h12.9v28.1h-12.9zM1167.3 2196.1h12.9v28.1h-12.9zM1181.6 2196.1h12.9v28.1h-12.9zM1023.8 2285.2h12.9v28.1h-12.9zM1195.9 2315.0h12.9v28.1h-12.9zM1239.0 2315.0h12.9v28.1h-12.9zM1253.3 2315.0h12.9v28.1h-12.9zM1038.1 2344.7h12.9v28.1h-12.9zM1210.3 2374.4h12.9v28.1h-12.9zM1253.3 2374.4h12.9v28.1h-12.9zM1038.1 2404.1h12.9v28.1h-12.9zM1052.5 2404.1h12.9v28.1h-12.9zM1124.2 2404.1h12.9v28.1h-12.9zM1138.6 2404.1h12.9v28.1h-12.9zM1152.9 2404.1h12.9v28.1h-12.9z" fill="#6862ae"/>
<path d="M1167.3 2166.4h12.9v28.1h-12.9zM1181.6 2166.4h12.9v28.1h-12.9zM1310.7 2166.4h12.9v28.1h-12.9zM1325.1 2166.4h12.9v28.1h-12.9zM1224.6 2225.8h12.9v28.1h-12.9zM1038.1 2255.5h12.9v28.1h-12.9zM1210.3 2255.5h12.9v28.1h-12.9zM1224.6 2255.5h12.9v28.1h-12.9zM1239.0 2255.5h12.9v28.1h-12.9zM1239.0 2285.2h12.9v28.1h-12.9zM1224.6 2315.0h12.9v28.1h-12.9zM1023.8 2344.7h12.9v28.1h-12.9zM1210.3 2344.7h12.9v28.1h-12.9zM1239.0 2344.7h12.9v28.1h-12.9zM1023.8 2374.4h12.9v28.1h-12.9zM1195.9 2374.4h12.9v28.1h-12.9zM1224.6 2374.4h12.9v28.1h-12.9z" fill="#383090"/>
<path d="M1195.9 2166.4h12.9v28.1h-12.9zM1282.0 2166.4h12.9v28.1h-12.9zM1023.8 2196.1h12.9v28.1h-12.9zM1052.5 2196.1h12.9v28.1h-12.9zM1109.9 2196.1h12.9v28.1h-12.9zM1310.7 2196.1h12.9v28.1h-12.9zM1325.1 2196.1h12.9v28.1h-12.9zM1138.6 2225.8h12.9v28.1h-12.9zM1152.9 2225.8h12.9v28.1h-12.9zM1282.0 2225.8h12.9v28.1h-12.9zM1325.1 2225.8h12.9v28.1h-12.9zM1052.5 2255.5h12.9v28.1h-12.9zM1066.8 2255.5h12.9v28.1h-12.9zM1081.2 2255.5h12.9v28.1h-12.9zM1081.2 2285.2h12.9v28.1h-12.9zM1095.5 2285.2h12.9v28.1h-12.9zM1325.1 2285.2h12.9v28.1h-12.9zM1138.6 2315.0h12.9v28.1h-12.9zM1152.9 2315.0h12.9v28.1h-12.9zM1052.5 2344.7h12.9v28.1h-12.9zM1095.5 2344.7h12.9v28.1h-12.9zM1267.7 2344.7h12.9v28.1h-12.9zM1282.0 2344.7h12.9v28.1h-12.9zM1310.7 2344.7h12.9v28.1h-12.9zM1325.1 2344.7h12.9v28.1h-12.9zM1052.5 2374.4h12.9v28.1h-12.9zM1081.2 2374.4h12.9v28.1h-12.9zM1325.1 2374.4h12.9v28.1h-12.9zM1267.7 2404.1h12.9v28.1h-12.9z" fill="#d8a6a7"/>
<path d="M1224.6 2166.4h12.9v28.1h-12.9zM1095.5 2225.8h12.9v28.1h-12.9zM1253.3 2225.8h12.9v28.1h-12.9zM1310.7 2225.8h12.9v28.1h-12.9zM1095.5 2255.5h12.9v28.1h-12.9zM1138.6 2255.5h12.9v28.1h-12.9zM1152.9 2255.5h12.9v28.1h-12.9zM1167.3 2255.5h12.9v28.1h-12.9zM1181.6 2255.5h12.9v28.1h-12.9zM1267.7 2255.5h12.9v28.1h-12.9zM1167.3 2285.2h12.9v28.1h-12.9zM1181.6 2285.2h12.9v28.1h-12.9zM1267.7 2285.2h12.9v28.1h-12.9zM1310.7 2285.2h12.9v28.1h-12.9zM1109.9 2315.0h12.9v28.1h-12.9zM1167.3 2315.0h12.9v28.1h-12.9zM1181.6 2315.0h12.9v28.1h-12.9zM1296.4 2315.0h12.9v28.1h-12.9zM1081.2 2344.7h12.9v28.1h-12.9zM1296.4 2344.7h12.9v28.1h-12.9zM1167.3 2374.4h12.9v28.1h-12.9zM1181.6 2374.4h12.9v28.1h-12.9z" fill="#eed6d6"/>
<path d="M1124.2 2196.1h12.9v28.1h-12.9zM1239.0 2196.1h12.9v28.1h-12.9zM1296.4 2225.8h12.9v28.1h-12.9zM1296.4 2285.2h12.9v28.1h-12.9zM1282.0 2315.0h12.9v28.1h-12.9zM1167.3 2344.7h12.9v28.1h-12.9zM1181.6 2344.7h12.9v28.1h-12.9zM1267.7 2374.4h12.9v28.1h-12.9zM1095.5 2404.1h12.9v28.1h-12.9zM1167.3 2404.1h12.9v28.1h-12.9zM1181.6 2404.1h12.9v28.1h-12.9z" fill="#f9f8fb"/>
<path d="M1195.9 2196.1h12.9v28.1h-12.9zM1210.3 2196.1h12.9v28.1h-12.9zM1195.9 2225.8h12.9v28.1h-12.9zM1210.3 2225.8h12.9v28.1h-12.9zM1023.8 2255.5h12.9v28.1h-12.9zM1195.9 2255.5h12.9v28.1h-12.9zM1195.9 2285.2h12.9v28.1h-12.9zM1210.3 2285.2h12.9v28.1h-12.9zM1224.6 2285.2h12.9v28.1h-12.9zM1023.8 2315.0h12.9v28.1h-12.9zM1038.1 2315.0h12.9v28.1h-12.9zM1195.9 2344.7h12.9v28.1h-12.9zM1224.6 2344.7h12.9v28.1h-12.9zM1038.1 2374.4h12.9v28.1h-12.9zM1066.8 2404.1h12.9v28.1h-12.9z" fill="#0c0670"/>
<rect x="1351.60" y="2163.00" width="318.20" height="270.00" fill="#fff" stroke="#000" stroke-width="2.0"/>
<path d="M1353.2 2164.6h13.0v28.2h-13.0zM1382.0 2164.6h13.0v28.2h-13.0zM1396.3 2164.6h13.0v28.2h-13.0zM1511.4 2224.2h13.0v28.2h-13.0zM1425.1 2254.1h13.0v28.2h-13.0zM1612.1 2283.9h13.0v28.2h-13.0zM1425.1 2313.7h13.0v28.2h-13.0zM1410.7 2343.5h13.0v28.2h-13.0zM1626.5 2343.5h13.0v28.2h-13.0zM1453.9 2373.4h13.0v28.2h-13.0zM1612.1 2373.4h13.0v28.2h-13.0zM1482.6 2403.2h13.0v28.2h-13.0z" fill="#b0565d"/>
<path d="M1367.6 2164.6h13.0v28.2h-13.0zM1468.3 2164.6h13.0v28.2h-13.0zM1612.1 2164.6h13.0v28.2h-13.0zM1626.5 2164.6h13.0v28.2h-13.0zM1425.1 2194.4h13.0v28.2h-13.0zM1525.8 2194.4h13.0v28.2h-13.0zM1568.9 2194.4h13.0v28.2h-13.0zM1597.7 2194.4h13.0v28.2h-13.0zM1568.9 2224.2h13.0v28.2h-13.0zM1597.7 2224.2h13.0v28.2h-13.0zM1367.6 2254.1h13.0v28.2h-13.0zM1568.9 2254.1h13.0v28.2h-13.0zM1626.5 2254.1h13.0v28.2h-13.0zM1568.9 2283.9h13.0v28.2h-13.0zM1655.2 2283.9h13.0v28.2h-13.0zM1353.2 2313.7h13.0v28.2h-13.0zM1353.2 2343.5h13.0v28.2h-13.0zM1482.6 2373.4h13.0v28.2h-13.0zM1497.0 2373.4h13.0v28.2h-13.0zM1410.7 2403.2h13.0v28.2h-13.0zM1468.3 2403.2h13.0v28.2h-13.0zM1497.0 2403.2h13.0v28.2h-13.0zM1511.4 2403.2h13.0v28.2h-13.0zM1525.8 2403.2h13.0v28.2h-13.0zM1655.2 2403.2h13.0v28.2h-13.0z" fill="#eed6d6"/>
<path d="M1410.7 2164.6h13.0v28.2h-13.0zM1425.1 2164.6h13.0v28.2h-13.0zM1439.5 2194.4h13.0v28.2h-13.0zM1640.8 2194.4h13.0v28.2h-13.0zM1439.5 2224.2h13.0v28.2h-13.0zM1453.9 2254.1h13.0v28.2h-13.0zM1468.3 2254.1h13.0v28.2h-13.0zM1511.4 2313.7h13.0v28.2h-13.0zM1439.5 2343.5h13.0v28.2h-13.0zM1468.3 2343.5h13.0v28.2h-13.0zM1367.6 2403.2h13.0v28.2h-13.0z" fill="#0c0670"/>
<path d="M1439.5 2164.6h13.0v28.2h-13.0zM1640.8 2164.6h13.0v28.2h-13.0zM1482.6 2194.4h13.0v28.2h-13.0zM1583.3 2194.4h13.0v28.2h-13.0zM1612.1 2194.4h13.0v28.2h-13.0zM1425.1 2224.2h13.0v28.2h-13.0zM1482.6 2224.2h13.0v28.2h-13.0zM1382.0 2254.1h13.0v28.2h-13.0zM1396.3 2254.1h13.0v28.2h-13.0zM1511.4 2254.1h13.0v28.2h-13.0zM1655.2 2254.1h13.0v28.2h-13.0zM1410.7 2283.9h13.0v28.2h-13.0zM1583.3 2283.9h13.0v28.2h-13.0zM1497.0 2313.7h13.0v28.2h-13.0zM1525.8 2313.7h13.0v28.2h-13.0zM1554.5 2313.7h13.0v28.2h-13.0zM1367.6 2343.5h13.0v28.2h-13.0zM1554.5 2343.5h13.0v28.2h-13.0zM1439.5 2373.4h13.0v28.2h-13.0zM1583.3 2373.4h13.0v28.2h-13.0zM1583.3 2403.2h13.0v28.2h-13.0zM1626.5 2403.2h13.0v28.2h-13.0z" fill="#c8c7e3"/>
<path d="M1453.9 2164.6h13.0v28.2h-13.0zM1497.0 2164.6h13.0v28.2h-13.0zM1540.2 2164.6h13.0v28.2h-13.0zM1367.6 2194.4h13.0v28.2h-13.0zM1382.0 2194.4h13.0v28.2h-13.0zM1410.7 2194.4h13.0v28.2h-13.0zM1554.5 2194.4h13.0v28.2h-13.0zM1367.6 2224.2h13.0v28.2h-13.0zM1612.1 2224.2h13.0v28.2h-13.0zM1497.0 2254.1h13.0v28.2h-13.0zM1525.8 2254.1h13.0v28.2h-13.0zM1453.9 2283.9h13.0v28.2h-13.0zM1497.0 2283.9h13.0v28.2h-13.0zM1540.2 2283.9h13.0v28.2h-13.0zM1597.7 2283.9h13.0v28.2h-13.0zM1367.6 2313.7h13.0v28.2h-13.0zM1396.3 2343.5h13.0v28.2h-13.0zM1597.7 2343.5h13.0v28.2h-13.0zM1612.1 2343.5h13.0v28.2h-13.0zM1425.1 2373.4h13.0v28.2h-13.0zM1540.2 2373.4h13.0v28.2h-13.0zM1597.7 2373.4h13.0v28.2h-13.0zM1425.1 2403.2h13.0v28.2h-13.0zM1540.2 2403.2h13.0v28.2h-13.0zM1554.5 2403.2h13.0v28.2h-13.0z" fill="#d8a6a7"/>
<path d="M1482.6 2164.6h13.0v28.2h-13.0zM1511.4 2164.6h13.0v28.2h-13.0zM1353.2 2194.4h13.0v28.2h-13.0zM1396.3 2194.4h13.0v28.2h-13.0zM1511.4 2194.4h13.0v28.2h-13.0zM1540.2 2194.4h13.0v28.2h-13.0zM1353.2 2224.2h13.0v28.2h-13.0zM1540.2 2224.2h13.0v28.2h-13.0zM1626.5 2224.2h13.0v28.2h-13.0zM1554.5 2254.1h13.0v28.2h-13.0zM1583.3 2254.1h13.0v28.2h-13.0zM1597.7 2254.1h13.0v28.2h-13.0zM1353.2 2283.9h13.0v28.2h-13.0zM1367.6 2283.9h13.0v28.2h-13.0zM1640.8 2283.9h13.0v28.2h-13.0zM1410.7 2313.7h13.0v28.2h-13.0zM1568.9 2313.7h13.0v28.2h-13.0zM1583.3 2313.7h13.0v28.2h-13.0zM1597.7 2313.7h13.0v28.2h-13.0zM1612.1 2313.7h13.0v28.2h-13.0zM1626.5 2313.7h13.0v28.2h-13.0zM1640.8 2313.7h13.0v28.2h-13.0zM1655.2 2313.7h13.0v28.2h-13.0zM1425.1 2343.5h13.0v28.2h-13.0zM1540.2 2343.5h13.0v28.2h-13.0zM1568.9 2343.5h13.0v28.2h-13.0zM1640.8 2373.4h13.0v28.2h-13.0zM1655.2 2373.4h13.0v28.2h-13.0zM1453.9 2403.2h13.0v28.2h-13.0z" fill="#c57a7e"/>
<path d="M1525.8 2164.6h13.0v28.2h-13.0zM1554.5 2164.6h13.0v28.2h-13.0zM1597.7 2164.6h13.0v28.2h-13.0zM1453.9 2224.2h13.0v28.2h-13.0zM1554.5 2224.2h13.0v28.2h-13.0zM1655.2 2224.2h13.0v28.2h-13.0zM1353.2 2254.1h13.0v28.2h-13.0zM1482.6 2254.1h13.0v28.2h-13.0zM1540.2 2254.1h13.0v28.2h-13.0zM1396.3 2283.9h13.0v28.2h-13.0zM1554.5 2283.9h13.0v28.2h-13.0zM1396.3 2313.7h13.0v28.2h-13.0zM1439.5 2313.7h13.0v28.2h-13.0zM1453.9 2313.7h13.0v28.2h-13.0zM1468.3 2313.7h13.0v28.2h-13.0zM1382.0 2343.5h13.0v28.2h-13.0zM1511.4 2343.5h13.0v28.2h-13.0zM1353.2 2373.4h13.0v28.2h-13.0zM1410.7 2373.4h13.0v28.2h-13.0zM1511.4 2373.4h13.0v28.2h-13.0zM1554.5 2373.4h13.0v28.2h-13.0zM1568.9 2373.4h13.0v28.2h-13.0zM1396.3 2403.2h13.0v28.2h-13.0zM1612.1 2403.2h13.0v28.2h-13.0zM1640.8 2403.2h13.0v28.2h-13.0z" fill="#9692c8"/>
<path d="M1568.9 2164.6h13.0v28.2h-13.0zM1583.3 2164.6h13.0v28.2h-13.0zM1453.9 2194.4h13.0v28.2h-13.0zM1468.3 2194.4h13.0v28.2h-13.0zM1655.2 2194.4h13.0v28.2h-13.0zM1468.3 2224.2h13.0v28.2h-13.0zM1439.5 2254.1h13.0v28.2h-13.0zM1382.0 2283.9h13.0v28.2h-13.0zM1439.5 2283.9h13.0v28.2h-13.0zM1468.3 2283.9h13.0v28.2h-13.0zM1482.6 2283.9h13.0v28.2h-13.0zM1482.6 2313.7h13.0v28.2h-13.0zM1482.6 2343.5h13.0v28.2h-13.0zM1525.8 2343.5h13.0v28.2h-13.0zM1382.0 2373.4h13.0v28.2h-13.0zM1468.3 2373.4h13.0v28.2h-13.0zM1525.8 2373.4h13.0v28.2h-13.0zM1353.2 2403.2h13.0v28.2h-13.0z" fill="#383090"/>
<path d="M1655.2 2164.6h13.0v28.2h-13.0zM1382.0 2224.2h13.0v28.2h-13.0zM1525.8 2224.2h13.0v28.2h-13.0zM1583.3 2224.2h13.0v28.2h-13.0zM1640.8 2224.2h13.0v28.2h-13.0zM1511.4 2283.9h13.0v28.2h-13.0zM1525.8 2283.9h13.0v28.2h-13.0zM1382.0 2313.7h13.0v28.2h-13.0zM1540.2 2313.7h13.0v28.2h-13.0zM1583.3 2343.5h13.0v28.2h-13.0zM1367.6 2373.4h13.0v28.2h-13.0zM1396.3 2373.4h13.0v28.2h-13.0zM1382.0 2403.2h13.0v28.2h-13.0zM1568.9 2403.2h13.0v28.2h-13.0z" fill="#6862ae"/>
<path d="M1497.0 2194.4h13.0v28.2h-13.0zM1497.0 2224.2h13.0v28.2h-13.0zM1410.7 2254.1h13.0v28.2h-13.0zM1626.5 2283.9h13.0v28.2h-13.0zM1497.0 2343.5h13.0v28.2h-13.0zM1626.5 2373.4h13.0v28.2h-13.0zM1439.5 2403.2h13.0v28.2h-13.0z" fill="#96222a"/>
<path d="M1626.5 2194.4h13.0v28.2h-13.0zM1396.3 2224.2h13.0v28.2h-13.0zM1410.7 2224.2h13.0v28.2h-13.0zM1612.1 2254.1h13.0v28.2h-13.0zM1640.8 2254.1h13.0v28.2h-13.0zM1425.1 2283.9h13.0v28.2h-13.0zM1453.9 2343.5h13.0v28.2h-13.0zM1640.8 2343.5h13.0v28.2h-13.0zM1655.2 2343.5h13.0v28.2h-13.0zM1597.7 2403.2h13.0v28.2h-13.0z" fill="#f9f8fb"/>
<text x="1677.5" y="2192.2" font-size="26.85">PCHAS_1021700/HRD1</text>
<text x="1678.6" y="2223.8" font-size="26.85">PCHAS_0822200</text>
<text x="1677.5" y="2255.1" font-size="26.85">PCHAS_1142400/SKP1</text>
<text x="1677.5" y="2286.0" font-size="26.85">PCHAS_1460800/UBC12</text>
<text x="1678.6" y="2313.6" font-size="26.85">PCHAS_0517800</text>
<text x="1677.5" y="2341.4" font-size="26.85">PCHAS_0806500/RBX1</text>
<text x="1677.5" y="2370.1" font-size="26.85">PCHAS_0722900/UBA3</text>
<text x="1677.5" y="2403.3" font-size="26.85">PCHAS_1122900/APC11</text>
<text x="1678.6" y="2432.4" font-size="26.85">PCHAS_0806300</text>
<text x="1016.0" y="2467.3" font-size="29.2">0/24</text>
<text x="1139.5" y="2467.3" font-size="29.2">12</text>
<text x="1234.5" y="2467.3" font-size="29.2">0/24</text>
<text x="1350.0" y="2467.3" font-size="29.2">12</text>
<text x="1458.0" y="2467.3" font-size="29.2">0/24</text>
<text x="1581.5" y="2467.3" font-size="29.2">12</text>
<text x="1141.6" y="2509.2" font-size="29.2">ZT</text>
<text x="1462.9" y="2509.0" font-size="29.2">ZT</text>
<text x="1268.8" y="2531.4" font-size="29.2">Ubiquitin</text>
</svg>
</body></html>
